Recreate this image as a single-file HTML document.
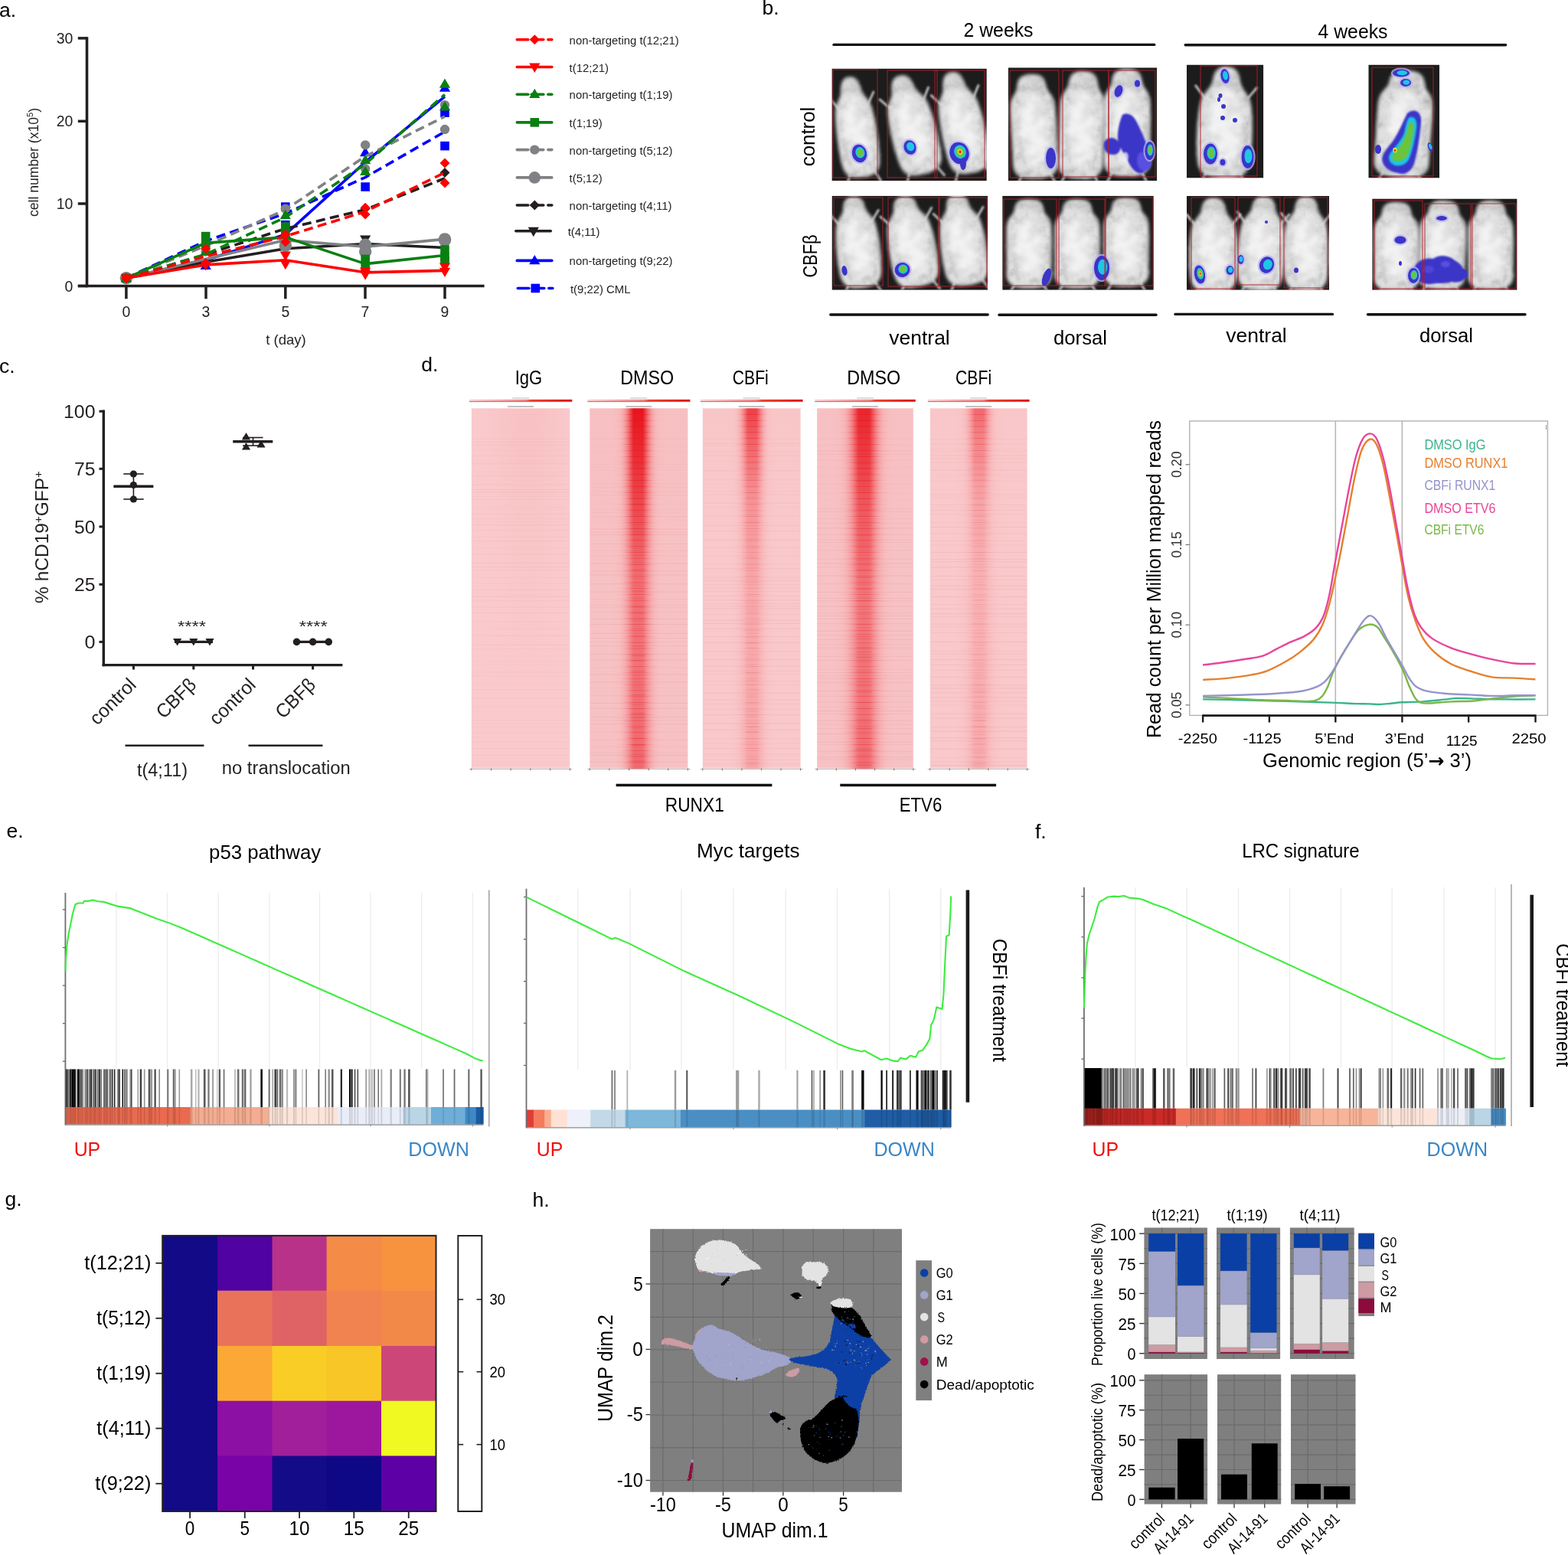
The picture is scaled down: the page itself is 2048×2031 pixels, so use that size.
<!DOCTYPE html>
<html><head><meta charset="utf-8"><title>Figure</title>
<style>html,body{margin:0;padding:0;background:#fff;width:2048px;height:2031px;overflow:hidden}
svg{display:block}
svg text{font-family:'Liberation Sans', Arial, sans-serif}</style></head>
<body><svg width="2048" height="2031" viewBox="0 0 2048 2031">
<defs>
<filter id="mblur" x="-30%" y="-30%" width="160%" height="160%"><feGaussianBlur stdDeviation="2.6"/></filter>
<filter id="mblur2" x="-50%" y="-50%" width="200%" height="200%"><feGaussianBlur stdDeviation="5"/></filter>
<filter id="fur" x="-20%" y="-20%" width="140%" height="140%">
<feGaussianBlur in="SourceGraphic" stdDeviation="2.2" result="b"/>
<feTurbulence type="fractalNoise" baseFrequency="0.09" numOctaves="3" seed="4" result="n"/>
<feColorMatrix in="n" type="matrix" values="0 0 0 0 0.4  0 0 0 0 0.4  0 0 0 0 0.4  -1.5 0 0 0 0.85" result="na"/>
<feComposite in="na" in2="b" operator="in" result="nm"/>
<feMerge><feMergeNode in="b"/><feMergeNode in="nm"/></feMerge>
</filter>
<filter id="mottle" x="-10%" y="-10%" width="120%" height="120%">
<feTurbulence type="fractalNoise" baseFrequency="0.05 0.09" numOctaves="2" seed="9" result="n"/>
<feColorMatrix in="n" type="matrix" values="0 0 0 0 0  0 0 0 0 0  0 0 0 0 0  0 -3 0 0 1.6" result="na"/>
<feComposite in="na" in2="SourceGraphic" operator="in" result="m"/>
<feGaussianBlur in="m" stdDeviation="2"/>
</filter>
<filter id="rough" x="-5%" y="-5%" width="110%" height="110%">
<feTurbulence type="fractalNoise" baseFrequency="0.09" numOctaves="2" seed="2" result="t"/>
<feDisplacementMap in="SourceGraphic" in2="t" scale="16" xChannelSelector="R" yChannelSelector="G"/>
</filter>
<filter id="sblur" x="-30%" y="-30%" width="160%" height="160%"><feGaussianBlur stdDeviation="1.1"/></filter>
</defs>
<rect x="0" y="0" width="2048" height="2031" fill="#fff"/>
<g id="pa">
<text x="-1" y="22" font-size="26.5">a.</text>
<line x1="113.5" y1="48.2" x2="113.5" y2="375.2" stroke="#231f20" stroke-width="3.6"/>
<line x1="101.8" y1="373.5" x2="632.6" y2="373.5" stroke="#231f20" stroke-width="3.6"/>
<line x1="101.8" y1="49.9" x2="114" y2="49.9" stroke="#231f20" stroke-width="3.5"/>
<text x="95.3" y="56.9" font-size="19.4" text-anchor="end" fill="#231f20">30</text>
<line x1="101.8" y1="158.3" x2="114" y2="158.3" stroke="#231f20" stroke-width="3.5"/>
<text x="95.3" y="165.3" font-size="19.4" text-anchor="end" fill="#231f20">20</text>
<line x1="101.8" y1="266" x2="114" y2="266" stroke="#231f20" stroke-width="3.5"/>
<text x="95.3" y="273" font-size="19.4" text-anchor="end" fill="#231f20">10</text>
<line x1="101.8" y1="373.5" x2="114" y2="373.5" stroke="#231f20" stroke-width="3.5"/>
<text x="95.3" y="380.5" font-size="19.4" text-anchor="end" fill="#231f20">0</text>
<line x1="164.9" y1="373.5" x2="164.9" y2="390.3" stroke="#231f20" stroke-width="3.5"/>
<text x="164.9" y="414.2" font-size="19.4" text-anchor="middle" fill="#231f20">0</text>
<line x1="269" y1="373.5" x2="269" y2="390.3" stroke="#231f20" stroke-width="3.5"/>
<text x="269" y="414.2" font-size="19.4" text-anchor="middle" fill="#231f20">3</text>
<line x1="372.8" y1="373.5" x2="372.8" y2="390.3" stroke="#231f20" stroke-width="3.5"/>
<text x="372.8" y="414.2" font-size="19.4" text-anchor="middle" fill="#231f20">5</text>
<line x1="477" y1="373.5" x2="477" y2="390.3" stroke="#231f20" stroke-width="3.5"/>
<text x="477" y="414.2" font-size="19.4" text-anchor="middle" fill="#231f20">7</text>
<line x1="581" y1="373.5" x2="581" y2="390.3" stroke="#231f20" stroke-width="3.5"/>
<text x="581" y="414.2" font-size="19.4" text-anchor="middle" fill="#231f20">9</text>
<text x="373.5" y="449.5" font-size="18.5" text-anchor="middle" fill="#231f20">t (day)</text>
<text x="43.7" y="212" font-size="17.6" fill="#231f20" text-anchor="middle" transform="rotate(-90 43.7 212) translate(0 6)">cell number (x10<tspan font-size="11" dy="-7">5</tspan><tspan dy="7">)</tspan></text>
<polyline points="164.84,363.29 268.7,339.69 372.8,306.15 477.14,211.74 580.99,126.02" fill="none" stroke="#0000fe" stroke-width="3.6" stroke-linejoin="round"/>
<polygon points="164.84,355.79 171.97,368.17 157.72,368.17" fill="#0000fe"/>
<polygon points="268.7,339.64 275.82,352.02 261.57,352.02" fill="#0000fe"/>
<polygon points="477.14,191.82 484.27,204.19 470.02,204.19" fill="#0000fe"/>
<polygon points="580.99,107.34 588.12,119.72 573.87,119.72" fill="#0000fe"/>
<polyline points="164.84,363.29 268.7,314.84 372.8,278.82 477.14,231.61 580.99,171.99" fill="none" stroke="#0000fe" stroke-width="3.6" stroke-dasharray="12 6.5" stroke-linejoin="round"/>
<rect x="159.04" y="357.49" width="11.6" height="11.6" fill="#0000fe"/>
<rect x="367" y="264.32" width="11.6" height="11.6" fill="#0000fe"/>
<rect x="367" y="287.93" width="11.6" height="11.6" fill="#0000fe"/>
<rect x="471.34" y="238.24" width="11.6" height="11.6" fill="#0000fe"/>
<rect x="575.19" y="141.34" width="11.6" height="11.6" fill="#0000fe"/>
<rect x="575.19" y="184.82" width="11.6" height="11.6" fill="#0000fe"/>
<polyline points="164.84,363.29 268.7,342.17 372.8,324.78 477.14,318.57 580.99,323.54" fill="none" stroke="#231f20" stroke-width="3.6" stroke-linejoin="round"/>
<polygon points="164.84,370.79 171.97,358.42 157.72,358.42" fill="#231f20"/>
<polygon points="477.14,319.86 484.27,307.49 470.02,307.49" fill="#231f20"/>
<polygon points="477.14,329.8 484.27,317.42 470.02,317.42" fill="#231f20"/>
<polyline points="164.84,363.29 268.7,332.24 372.8,298.7 477.14,273.85 580.99,232.86" fill="none" stroke="#231f20" stroke-width="3.6" stroke-dasharray="12 6.5" stroke-linejoin="round"/>
<polygon points="164.84,356.79 171.34,363.29 164.84,369.79 158.34,363.29" fill="#231f20"/>
<polygon points="477.14,266.11 483.64,272.61 477.14,279.11 470.64,272.61" fill="#231f20"/>
<polygon points="580.99,218.9 587.49,225.4 580.99,231.9 574.49,225.4" fill="#231f20"/>
<polyline points="164.84,363.29 268.7,321.06 372.8,273.85 477.14,204.29 580.99,152.11" fill="none" stroke="#808184" stroke-width="3.6" stroke-dasharray="12 6.5" stroke-linejoin="round"/>
<circle cx="164.84" cy="363.29" r="6.2" fill="#808184"/>
<circle cx="268.7" cy="328.51" r="6.2" fill="#808184"/>
<circle cx="372.8" cy="272.61" r="6.2" fill="#808184"/>
<circle cx="372.8" cy="319.81" r="6.2" fill="#808184"/>
<circle cx="477.14" cy="189.38" r="6.2" fill="#808184"/>
<circle cx="477.14" cy="220.43" r="6.2" fill="#808184"/>
<circle cx="580.99" cy="137.2" r="6.2" fill="#808184"/>
<circle cx="580.99" cy="169.01" r="6.2" fill="#808184"/>
<polyline points="164.84,363.29 268.7,338.45 372.8,313.6 477.14,322.3 580.99,312.36" fill="none" stroke="#808184" stroke-width="3.6" stroke-linejoin="round"/>
<circle cx="164.84" cy="363.29" r="8.2" fill="#808184"/>
<circle cx="372.8" cy="313.6" r="8.2" fill="#808184"/>
<circle cx="372.8" cy="321.06" r="8.2" fill="#808184"/>
<circle cx="477.14" cy="319.81" r="8.2" fill="#808184"/>
<circle cx="477.14" cy="328.51" r="8.2" fill="#808184"/>
<circle cx="580.99" cy="312.36" r="8.2" fill="#808184"/>
<circle cx="580.99" cy="313.6" r="8.2" fill="#808184"/>
<polyline points="164.84,363.29 268.7,332.24 372.8,283.79 477.14,214.22 580.99,123.54" fill="none" stroke="#0a7f12" stroke-width="3.6" stroke-dasharray="12 6.5" stroke-linejoin="round"/>
<polygon points="164.84,355.79 171.97,368.17 157.72,368.17" fill="#0a7f12"/>
<polygon points="268.7,321.01 275.82,333.38 261.57,333.38" fill="#0a7f12"/>
<polygon points="372.8,273.8 379.92,286.18 365.67,286.18" fill="#0a7f12"/>
<polygon points="372.8,288.71 379.92,301.09 365.67,301.09" fill="#0a7f12"/>
<polygon points="477.14,201.75 484.27,214.13 470.02,214.13" fill="#0a7f12"/>
<polygon points="477.14,216.66 484.27,229.04 470.02,229.04" fill="#0a7f12"/>
<polygon points="580.99,102.38 588.12,114.75 573.87,114.75" fill="#0a7f12"/>
<polygon points="580.99,132.19 588.12,144.56 573.87,144.56" fill="#0a7f12"/>
<polyline points="164.84,363.29 268.7,317.33 372.8,309.88 477.14,344.66 580.99,333.48" fill="none" stroke="#0a7f12" stroke-width="3.6" stroke-linejoin="round"/>
<rect x="159.04" y="357.49" width="11.6" height="11.6" fill="#0a7f12"/>
<rect x="262.9" y="302.83" width="11.6" height="11.6" fill="#0a7f12"/>
<rect x="262.9" y="314.01" width="11.6" height="11.6" fill="#0a7f12"/>
<rect x="367" y="290.41" width="11.6" height="11.6" fill="#0a7f12"/>
<rect x="367" y="300.35" width="11.6" height="11.6" fill="#0a7f12"/>
<rect x="471.34" y="332.65" width="11.6" height="11.6" fill="#0a7f12"/>
<rect x="471.34" y="342.59" width="11.6" height="11.6" fill="#0a7f12"/>
<rect x="575.19" y="320.22" width="11.6" height="11.6" fill="#0a7f12"/>
<rect x="575.19" y="330.16" width="11.6" height="11.6" fill="#0a7f12"/>
<rect x="575.19" y="333.89" width="11.6" height="11.6" fill="#0a7f12"/>
<polyline points="164.84,363.29 268.7,345.9 372.8,339.69 477.14,355.84 580.99,353.35" fill="none" stroke="#fe0000" stroke-width="3.6" stroke-linejoin="round"/>
<polygon points="164.84,370.79 171.97,358.42 157.72,358.42" fill="#fe0000"/>
<polygon points="268.7,353.4 275.82,341.03 261.57,341.03" fill="#fe0000"/>
<polygon points="372.8,340.98 379.92,328.6 365.67,328.6" fill="#fe0000"/>
<polygon points="372.8,352.16 379.92,339.78 365.67,339.78" fill="#fe0000"/>
<polygon points="477.14,362.1 484.27,349.72 470.02,349.72" fill="#fe0000"/>
<polygon points="477.14,365.82 484.27,353.45 470.02,353.45" fill="#fe0000"/>
<polygon points="580.99,355.89 588.12,343.51 573.87,343.51" fill="#fe0000"/>
<polygon points="580.99,362.1 588.12,349.72 573.87,349.72" fill="#fe0000"/>
<polyline points="164.84,363.29 268.7,334.72 372.8,308.63 477.14,276.34 580.99,225.4" fill="none" stroke="#fe0000" stroke-width="3.6" stroke-dasharray="12 6.5" stroke-linejoin="round"/>
<polygon points="164.84,356.79 171.34,363.29 164.84,369.79 158.34,363.29" fill="#fe0000"/>
<polygon points="268.7,318.28 275.2,324.78 268.7,331.28 262.2,324.78" fill="#fe0000"/>
<polygon points="268.7,336.92 275.2,343.42 268.7,349.92 262.2,343.42" fill="#fe0000"/>
<polygon points="372.8,299.65 379.3,306.15 372.8,312.65 366.3,306.15" fill="#fe0000"/>
<polygon points="372.8,309.59 379.3,316.09 372.8,322.59 366.3,316.09" fill="#fe0000"/>
<polygon points="477.14,264.87 483.64,271.37 477.14,277.87 470.64,271.37" fill="#fe0000"/>
<polygon points="477.14,273.56 483.64,280.06 477.14,286.56 470.64,280.06" fill="#fe0000"/>
<polygon points="580.99,206.48 587.49,212.98 580.99,219.48 574.49,212.98" fill="#fe0000"/>
<polygon points="580.99,232.57 587.49,239.07 580.99,245.57 574.49,239.07" fill="#fe0000"/>
<line x1="675.3" y1="51.7" x2="689.8" y2="51.7" stroke="#fe0000" stroke-width="3.6" stroke-linecap="round"/>
<line x1="694.3" y1="51.7" x2="709.8" y2="51.7" stroke="#fe0000" stroke-width="3.6" stroke-linecap="round"/>
<line x1="715.8" y1="51.7" x2="720.8" y2="51.7" stroke="#fe0000" stroke-width="3.6" stroke-linecap="round"/>
<polygon points="698.3,45.2 704.8,51.7 698.3,58.2 691.8,51.7" fill="#fe0000"/>
<text x="743.6" y="57.7" font-size="14.9" fill="#231f20">non-targeting t(12;21)</text>
<line x1="675.3" y1="87.5" x2="720.8" y2="87.5" stroke="#fe0000" stroke-width="3.6" stroke-linecap="round"/>
<polygon points="698.3,95 705.42,82.62 691.17,82.62" fill="#fe0000"/>
<text x="743.6" y="93.5" font-size="14.9" fill="#231f20">t(12;21)</text>
<line x1="675.3" y1="123.2" x2="689.8" y2="123.2" stroke="#0a7f12" stroke-width="3.6" stroke-linecap="round"/>
<line x1="694.3" y1="123.2" x2="709.8" y2="123.2" stroke="#0a7f12" stroke-width="3.6" stroke-linecap="round"/>
<line x1="715.8" y1="123.2" x2="720.8" y2="123.2" stroke="#0a7f12" stroke-width="3.6" stroke-linecap="round"/>
<polygon points="698.3,115.7 705.42,128.07 691.17,128.07" fill="#0a7f12"/>
<text x="743.6" y="129.2" font-size="14.9" fill="#231f20">non-targeting t(1;19)</text>
<line x1="675.3" y1="159.9" x2="720.8" y2="159.9" stroke="#0a7f12" stroke-width="3.6" stroke-linecap="round"/>
<rect x="692.5" y="154.1" width="11.6" height="11.6" fill="#0a7f12"/>
<text x="743.6" y="165.9" font-size="14.9" fill="#231f20">t(1;19)</text>
<line x1="675.3" y1="195.6" x2="689.8" y2="195.6" stroke="#808184" stroke-width="3.6" stroke-linecap="round"/>
<line x1="694.3" y1="195.6" x2="709.8" y2="195.6" stroke="#808184" stroke-width="3.6" stroke-linecap="round"/>
<line x1="715.8" y1="195.6" x2="720.8" y2="195.6" stroke="#808184" stroke-width="3.6" stroke-linecap="round"/>
<circle cx="698.3" cy="195.6" r="6.2" fill="#808184"/>
<text x="743.6" y="201.6" font-size="14.9" fill="#231f20">non-targeting t(5;12)</text>
<line x1="675.3" y1="231.9" x2="720.8" y2="231.9" stroke="#808184" stroke-width="3.6" stroke-linecap="round"/>
<circle cx="698.3" cy="231.9" r="7.79" fill="#808184"/>
<text x="743.6" y="237.9" font-size="14.9" fill="#231f20">t(5;12)</text>
<line x1="675.3" y1="268" x2="689.8" y2="268" stroke="#231f20" stroke-width="3.6" stroke-linecap="round"/>
<line x1="694.3" y1="268" x2="709.8" y2="268" stroke="#231f20" stroke-width="3.6" stroke-linecap="round"/>
<line x1="715.8" y1="268" x2="720.8" y2="268" stroke="#231f20" stroke-width="3.6" stroke-linecap="round"/>
<polygon points="698.3,261.5 704.8,268 698.3,274.5 691.8,268" fill="#231f20"/>
<text x="743.6" y="274" font-size="14.9" fill="#231f20">non-targeting t(4;11)</text>
<line x1="673.8" y1="301.7" x2="719.3" y2="301.7" stroke="#231f20" stroke-width="3.6" stroke-linecap="round"/>
<polygon points="696.8,309.2 703.92,296.82 689.67,296.82" fill="#231f20"/>
<text x="741.65" y="307.7" font-size="14.9" fill="#231f20">t(4;11)</text>
<line x1="675.3" y1="340.4" x2="720.8" y2="340.4" stroke="#0000fe" stroke-width="3.6" stroke-linecap="round"/>
<polygon points="698.3,332.9 705.42,345.27 691.17,345.27" fill="#0000fe"/>
<text x="743.6" y="346.4" font-size="14.9" fill="#231f20">non-targeting t(9;22)</text>
<line x1="676.3" y1="376.5" x2="690.8" y2="376.5" stroke="#0000fe" stroke-width="3.6" stroke-linecap="round"/>
<line x1="695.3" y1="376.5" x2="710.8" y2="376.5" stroke="#0000fe" stroke-width="3.6" stroke-linecap="round"/>
<line x1="716.8" y1="376.5" x2="721.8" y2="376.5" stroke="#0000fe" stroke-width="3.6" stroke-linecap="round"/>
<rect x="693.5" y="370.7" width="11.6" height="11.6" fill="#0000fe"/>
<text x="744.9" y="382.5" font-size="14.9" fill="#231f20">t(9;22) CML</text>
</g>
<g id="pb">
<text x="995.5" y="18.9" font-size="26.5">b.</text>
<text x="1304" y="47.5" font-size="25.5" text-anchor="middle" textLength="91" lengthAdjust="spacingAndGlyphs">2 weeks</text>
<text x="1767" y="49.6" font-size="25.5" text-anchor="middle" textLength="91" lengthAdjust="spacingAndGlyphs">4 weeks</text>
<line x1="1089" y1="58.4" x2="1507.7" y2="58.4" stroke="#111" stroke-width="3.4" stroke-linecap="round"/>
<line x1="1548.2" y1="58.7" x2="1966.6" y2="58.7" stroke="#111" stroke-width="3.4" stroke-linecap="round"/>
<line x1="1084.8" y1="411" x2="1290.2" y2="411" stroke="#111" stroke-width="3.4" stroke-linecap="round"/>
<line x1="1305" y1="411.2" x2="1510" y2="411.2" stroke="#111" stroke-width="3.4" stroke-linecap="round"/>
<line x1="1535" y1="410.4" x2="1740.5" y2="410.4" stroke="#111" stroke-width="3.4" stroke-linecap="round"/>
<line x1="1786.5" y1="410.8" x2="1992" y2="410.8" stroke="#111" stroke-width="3.4" stroke-linecap="round"/>
<text x="1201" y="450.3" font-size="25.5" text-anchor="middle" textLength="79.5" lengthAdjust="spacingAndGlyphs">ventral</text>
<text x="1411" y="450.3" font-size="25.5" text-anchor="middle" textLength="70" lengthAdjust="spacingAndGlyphs">dorsal</text>
<text x="1641" y="446.8" font-size="25.5" text-anchor="middle" textLength="79.5" lengthAdjust="spacingAndGlyphs">ventral</text>
<text x="1889" y="446.8" font-size="25.5" text-anchor="middle" textLength="70" lengthAdjust="spacingAndGlyphs">dorsal</text>
<text x="1063.5" y="178.5" font-size="25.5" text-anchor="middle" transform="rotate(-90 1063.5 178.5)" textLength="77.5" lengthAdjust="spacingAndGlyphs">control</text>
<text x="1067.2" y="334.5" font-size="25.5" text-anchor="middle" transform="rotate(-90 1067.2 334.5)" textLength="56" lengthAdjust="spacingAndGlyphs">CBFβ</text>
<clipPath id="bclip1"><rect x="1086.4" y="89.5" width="202.4" height="146.7"/></clipPath><g clip-path="url(#bclip1)"><rect x="1086.4" y="89.5" width="202.4" height="146.7" fill="#1c1c1c"/><g transform="translate(1118 166) rotate(-8)"><path d="M-19.8,-27.72 L-29.04,-42.24" stroke="#bdbdbd" stroke-width="3" stroke-linecap="round" filter="url(#sblur)"/><path d="M19.8,-27.72 L29.04,-42.24" stroke="#bdbdbd" stroke-width="3" stroke-linecap="round" filter="url(#sblur)"/><path d="M-15.84,59.4 L-22.44,73.92" stroke="#a9a9a9" stroke-width="3.4" stroke-linecap="round" filter="url(#sblur)"/><path d="M15.84,59.4 L22.44,73.92" stroke="#a9a9a9" stroke-width="3.4" stroke-linecap="round" filter="url(#sblur)"/><path d="M0,-66 C7.92,-66 11.88,-60.72 13.2,-47.52 C15.84,-36.96 22.7,-34.32 24.29,-19.8 C26.93,0 26.93,33 24.29,50.16 C21.12,63.36 13.2,66 0,66 C-13.2,66 -21.12,63.36 -24.29,50.16 C-26.93,33 -26.93,0 -24.29,-19.8 C-22.7,-34.32 -15.84,-36.96 -13.2,-47.52 C-11.88,-60.72 -7.92,-66 0,-66 Z" fill="#dedede" filter="url(#fur)"/><ellipse cx="0" cy="6.6" rx="16.37" ry="46.2" fill="#f6f6f6" filter="url(#mblur2)" opacity="0.85"/><path d="M0,-66 C7.92,-66 11.88,-60.72 13.2,-47.52 C15.84,-36.96 22.7,-34.32 24.29,-19.8 C26.93,0 26.93,33 24.29,50.16 C21.12,63.36 13.2,66 0,66 C-13.2,66 -21.12,63.36 -24.29,50.16 C-26.93,33 -26.93,0 -24.29,-19.8 C-22.7,-34.32 -15.84,-36.96 -13.2,-47.52 C-11.88,-60.72 -7.92,-66 0,-66 Z" fill="#000" opacity="0.09" filter="url(#mottle)"/></g><g transform="translate(1191 163) rotate(-14)"><path d="M-22.28,-27.72 L-32.67,-42.24" stroke="#bdbdbd" stroke-width="3" stroke-linecap="round" filter="url(#sblur)"/><path d="M22.28,-27.72 L32.67,-42.24" stroke="#bdbdbd" stroke-width="3" stroke-linecap="round" filter="url(#sblur)"/><path d="M-17.82,59.4 L-25.25,73.92" stroke="#a9a9a9" stroke-width="3.4" stroke-linecap="round" filter="url(#sblur)"/><path d="M17.82,59.4 L25.25,73.92" stroke="#a9a9a9" stroke-width="3.4" stroke-linecap="round" filter="url(#sblur)"/><path d="M0,-66 C8.91,-66 13.37,-60.72 14.85,-47.52 C17.82,-36.96 25.54,-34.32 27.32,-19.8 C30.29,0 30.29,33 27.32,50.16 C23.76,63.36 14.85,66 0,66 C-14.85,66 -23.76,63.36 -27.32,50.16 C-30.29,33 -30.29,0 -27.32,-19.8 C-25.54,-34.32 -17.82,-36.96 -14.85,-47.52 C-13.37,-60.72 -8.91,-66 0,-66 Z" fill="#dedede" filter="url(#fur)"/><ellipse cx="0" cy="6.6" rx="18.41" ry="46.2" fill="#f6f6f6" filter="url(#mblur2)" opacity="0.85"/><path d="M0,-66 C8.91,-66 13.37,-60.72 14.85,-47.52 C17.82,-36.96 25.54,-34.32 27.32,-19.8 C30.29,0 30.29,33 27.32,50.16 C23.76,63.36 14.85,66 0,66 C-14.85,66 -23.76,63.36 -27.32,50.16 C-30.29,33 -30.29,0 -27.32,-19.8 C-25.54,-34.32 -17.82,-36.96 -14.85,-47.52 C-13.37,-60.72 -8.91,-66 0,-66 Z" fill="#000" opacity="0.09" filter="url(#mottle)"/></g><g transform="translate(1256 160) rotate(-12)"><path d="M-21.45,-28.14 L-31.46,-42.88" stroke="#bdbdbd" stroke-width="3" stroke-linecap="round" filter="url(#sblur)"/><path d="M21.45,-28.14 L31.46,-42.88" stroke="#bdbdbd" stroke-width="3" stroke-linecap="round" filter="url(#sblur)"/><path d="M-17.16,60.3 L-24.31,75.04" stroke="#a9a9a9" stroke-width="3.4" stroke-linecap="round" filter="url(#sblur)"/><path d="M17.16,60.3 L24.31,75.04" stroke="#a9a9a9" stroke-width="3.4" stroke-linecap="round" filter="url(#sblur)"/><path d="M0,-67 C8.58,-67 12.87,-61.64 14.3,-48.24 C17.16,-37.52 24.6,-34.84 26.31,-20.1 C29.17,0 29.17,33.5 26.31,50.92 C22.88,64.32 14.3,67 0,67 C-14.3,67 -22.88,64.32 -26.31,50.92 C-29.17,33.5 -29.17,0 -26.31,-20.1 C-24.6,-34.84 -17.16,-37.52 -14.3,-48.24 C-12.87,-61.64 -8.58,-67 0,-67 Z" fill="#dedede" filter="url(#fur)"/><ellipse cx="0" cy="6.7" rx="17.73" ry="46.9" fill="#f6f6f6" filter="url(#mblur2)" opacity="0.85"/><path d="M0,-67 C8.58,-67 12.87,-61.64 14.3,-48.24 C17.16,-37.52 24.6,-34.84 26.31,-20.1 C29.17,0 29.17,33.5 26.31,50.92 C22.88,64.32 14.3,67 0,67 C-14.3,67 -22.88,64.32 -26.31,50.92 C-29.17,33.5 -29.17,0 -26.31,-20.1 C-24.6,-34.84 -17.16,-37.52 -14.3,-48.24 C-12.87,-61.64 -8.58,-67 0,-67 Z" fill="#000" opacity="0.09" filter="url(#mottle)"/></g><ellipse cx="1122.5" cy="200.5" rx="11.8" ry="14" fill="#b9b3f0" transform="rotate(-15 1122.5 200.5)" opacity="0.75"/><ellipse cx="1122.5" cy="200.5" rx="9.6" ry="11.8" fill="#3b35c8" transform="rotate(-15 1122.5 200.5)"/><ellipse cx="1123.65" cy="199.56" rx="5.95" ry="7.32" fill="#1fc6e6" transform="rotate(-15 1122.5 200.5)"/><ellipse cx="1123.65" cy="199.56" rx="4.32" ry="5.31" fill="#6cc43c" transform="rotate(-15 1122.5 200.5)"/><ellipse cx="1188.5" cy="192.5" rx="10.2" ry="11.7" fill="#b9b3f0" transform="rotate(-20 1188.5 192.5)" opacity="0.75"/><ellipse cx="1188.5" cy="192.5" rx="8" ry="9.5" fill="#3b35c8" transform="rotate(-20 1188.5 192.5)"/><ellipse cx="1189.46" cy="191.74" rx="4.96" ry="5.89" fill="#1fc6e6" transform="rotate(-20 1188.5 192.5)"/><ellipse cx="1253" cy="200" rx="14.7" ry="16.7" fill="#b9b3f0" transform="rotate(-20 1253 200)" opacity="0.75"/><ellipse cx="1253" cy="200" rx="12.5" ry="14.5" fill="#3b35c8" transform="rotate(-20 1253 200)"/><ellipse cx="1254.5" cy="198.84" rx="7.75" ry="8.99" fill="#1fc6e6" transform="rotate(-20 1253 200)"/><ellipse cx="1254.5" cy="198.84" rx="5.62" ry="6.53" fill="#6cc43c" transform="rotate(-20 1253 200)"/><ellipse cx="1254.5" cy="198.84" rx="3.12" ry="3.62" fill="#e6e23a" transform="rotate(-20 1253 200)"/><ellipse cx="1254.5" cy="198.84" rx="1.75" ry="2.03" fill="#e5261f" transform="rotate(-20 1253 200)"/><ellipse cx="1258" cy="214" rx="4" ry="8" fill="#3b35c8"/><rect x="1088" y="91" width="58" height="141" fill="none" stroke="#b01f2a" stroke-width="1.1" opacity="0.85"/><rect x="1159" y="92" width="65" height="140" fill="none" stroke="#b01f2a" stroke-width="1.1" opacity="0.85"/><rect x="1221" y="92" width="65" height="140" fill="none" stroke="#b01f2a" stroke-width="1.1" opacity="0.85"/></g>
<clipPath id="bclip2"><rect x="1316.8" y="88.3" width="194.2" height="147.9"/></clipPath><g clip-path="url(#bclip2)"><rect x="1316.8" y="88.3" width="194.2" height="147.9" fill="#1c1c1c"/><g transform="translate(1350 165) rotate(-3)"><path d="M-17.82,61.2 L-25.25,76.16" stroke="#a9a9a9" stroke-width="3.4" stroke-linecap="round" filter="url(#sblur)"/><path d="M17.82,61.2 L25.25,76.16" stroke="#a9a9a9" stroke-width="3.4" stroke-linecap="round" filter="url(#sblur)"/><path d="M0,-68 C11.29,-68 17.82,-64.6 19.01,-51.68 C20.79,-40.8 29.11,-42.16 29.4,-20.4 C30,6.8 28.51,30.6 29.4,47.6 C29.4,65.28 14.85,69.36 0,68 C-14.85,69.36 -29.4,65.28 -29.4,47.6 C-28.51,30.6 -30,6.8 -29.4,-20.4 C-29.11,-42.16 -20.79,-40.8 -19.01,-51.68 C-17.82,-64.6 -11.29,-68 0,-68 Z" fill="#dedede" filter="url(#fur)"/><ellipse cx="0" cy="6.8" rx="18.41" ry="47.6" fill="#f6f6f6" filter="url(#mblur2)" opacity="0.85"/><path d="M0,-68 C11.29,-68 17.82,-64.6 19.01,-51.68 C20.79,-40.8 29.11,-42.16 29.4,-20.4 C30,6.8 28.51,30.6 29.4,47.6 C29.4,65.28 14.85,69.36 0,68 C-14.85,69.36 -29.4,65.28 -29.4,47.6 C-28.51,30.6 -30,6.8 -29.4,-20.4 C-29.11,-42.16 -20.79,-40.8 -19.01,-51.68 C-17.82,-64.6 -11.29,-68 0,-68 Z" fill="#000" opacity="0.09" filter="url(#mottle)"/></g><g transform="translate(1413 163) rotate(2)"><path d="M-17.82,63 L-25.25,78.4" stroke="#a9a9a9" stroke-width="3.4" stroke-linecap="round" filter="url(#sblur)"/><path d="M17.82,63 L25.25,78.4" stroke="#a9a9a9" stroke-width="3.4" stroke-linecap="round" filter="url(#sblur)"/><path d="M0,-70 C11.29,-70 17.82,-66.5 19.01,-53.2 C20.79,-42 29.11,-43.4 29.4,-21 C30,7 28.51,31.5 29.4,49 C29.4,67.2 14.85,71.4 0,70 C-14.85,71.4 -29.4,67.2 -29.4,49 C-28.51,31.5 -30,7 -29.4,-21 C-29.11,-43.4 -20.79,-42 -19.01,-53.2 C-17.82,-66.5 -11.29,-70 0,-70 Z" fill="#dedede" filter="url(#fur)"/><ellipse cx="0" cy="7" rx="18.41" ry="49" fill="#f6f6f6" filter="url(#mblur2)" opacity="0.85"/><path d="M0,-70 C11.29,-70 17.82,-66.5 19.01,-53.2 C20.79,-42 29.11,-43.4 29.4,-21 C30,7 28.51,31.5 29.4,49 C29.4,67.2 14.85,71.4 0,70 C-14.85,71.4 -29.4,67.2 -29.4,49 C-28.51,31.5 -30,7 -29.4,-21 C-29.11,-43.4 -20.79,-42 -19.01,-53.2 C-17.82,-66.5 -11.29,-70 0,-70 Z" fill="#000" opacity="0.09" filter="url(#mottle)"/></g><g transform="translate(1472 160) rotate(0)"><path d="M-18.48,63 L-26.18,78.4" stroke="#a9a9a9" stroke-width="3.4" stroke-linecap="round" filter="url(#sblur)"/><path d="M18.48,63 L26.18,78.4" stroke="#a9a9a9" stroke-width="3.4" stroke-linecap="round" filter="url(#sblur)"/><path d="M0,-70 C11.7,-70 18.48,-66.5 19.71,-53.2 C21.56,-42 30.18,-43.4 30.49,-21 C31.11,7 29.57,31.5 30.49,49 C30.49,67.2 15.4,71.4 0,70 C-15.4,71.4 -30.49,67.2 -30.49,49 C-29.57,31.5 -31.11,7 -30.49,-21 C-30.18,-43.4 -21.56,-42 -19.71,-53.2 C-18.48,-66.5 -11.7,-70 0,-70 Z" fill="#dedede" filter="url(#fur)"/><ellipse cx="0" cy="7" rx="19.1" ry="49" fill="#f6f6f6" filter="url(#mblur2)" opacity="0.85"/><path d="M0,-70 C11.7,-70 18.48,-66.5 19.71,-53.2 C21.56,-42 30.18,-43.4 30.49,-21 C31.11,7 29.57,31.5 30.49,49 C30.49,67.2 15.4,71.4 0,70 C-15.4,71.4 -30.49,67.2 -30.49,49 C-29.57,31.5 -31.11,7 -30.49,-21 C-30.18,-43.4 -21.56,-42 -19.71,-53.2 C-18.48,-66.5 -11.7,-70 0,-70 Z" fill="#000" opacity="0.09" filter="url(#mottle)"/></g><ellipse cx="1372.5" cy="206.5" rx="8.7" ry="15.7" fill="#b9b3f0" opacity="0.75"/><ellipse cx="1372.5" cy="206.5" rx="6.5" ry="13.5" fill="#3b35c8"/><g filter="url(#sblur)"><path d="M1466,150 C1472,146 1480,150 1484,158 C1490,170 1496,182 1500,196 C1504,210 1500,222 1492,226 C1484,228 1478,220 1474,212 C1470,204 1466,198 1462,190 C1458,180 1460,164 1466,150 Z" fill="#3b35c8"/><path d="M1442,186 C1446,178 1456,178 1462,186 C1466,194 1462,202 1454,202 C1446,202 1440,196 1442,186 Z" fill="#3b35c8"/><path d="M1488,200 C1494,196 1502,200 1504,210 C1505,220 1498,226 1490,222 C1484,216 1484,206 1488,200 Z" fill="#5a4fe0"/><ellipse cx="1470" cy="205" rx="3.5" ry="6" fill="#e8e8f4" opacity="0.8"/></g><ellipse cx="1501.5" cy="197" rx="8.2" ry="14.2" fill="#b9b3f0" opacity="0.75"/><ellipse cx="1501.5" cy="197" rx="6" ry="12" fill="#3b35c8"/><ellipse cx="1502.22" cy="196.04" rx="3.72" ry="7.44" fill="#1fc6e6"/><ellipse cx="1502.22" cy="196.04" rx="2.7" ry="5.4" fill="#6cc43c"/><ellipse cx="1485.5" cy="109" rx="5.7" ry="6.7" fill="#b9b3f0" opacity="0.75"/><ellipse cx="1485.5" cy="109" rx="3.5" ry="4.5" fill="#3b35c8"/><ellipse cx="1461" cy="119" rx="7.2" ry="10.2" fill="#b9b3f0" transform="rotate(20 1461 119)" opacity="0.75"/><ellipse cx="1461" cy="119" rx="5" ry="8" fill="#3b35c8" transform="rotate(20 1461 119)"/><rect x="1319" y="92" width="64" height="140" fill="none" stroke="#b01f2a" stroke-width="1.1" opacity="0.85"/><rect x="1388" y="92" width="60" height="139" fill="none" stroke="#b01f2a" stroke-width="1.1" opacity="0.85"/><rect x="1448" y="92" width="61" height="139" fill="none" stroke="#b01f2a" stroke-width="1.1" opacity="0.85"/></g>
<clipPath id="bclip3"><rect x="1086.5" y="255.7" width="203.7" height="123.1"/></clipPath><g clip-path="url(#bclip3)"><rect x="1086.5" y="255.7" width="203.7" height="123.1" fill="#1c1c1c"/><g transform="translate(1120 316) rotate(-6)"><path d="M-21.45,-25.2 L-31.46,-38.4" stroke="#bdbdbd" stroke-width="3" stroke-linecap="round" filter="url(#sblur)"/><path d="M21.45,-25.2 L31.46,-38.4" stroke="#bdbdbd" stroke-width="3" stroke-linecap="round" filter="url(#sblur)"/><path d="M-17.16,54 L-24.31,67.2" stroke="#a9a9a9" stroke-width="3.4" stroke-linecap="round" filter="url(#sblur)"/><path d="M17.16,54 L24.31,67.2" stroke="#a9a9a9" stroke-width="3.4" stroke-linecap="round" filter="url(#sblur)"/><path d="M0,-60 C8.58,-60 12.87,-55.2 14.3,-43.2 C17.16,-33.6 24.6,-31.2 26.31,-18 C29.17,0 29.17,30 26.31,45.6 C22.88,57.6 14.3,60 0,60 C-14.3,60 -22.88,57.6 -26.31,45.6 C-29.17,30 -29.17,0 -26.31,-18 C-24.6,-31.2 -17.16,-33.6 -14.3,-43.2 C-12.87,-55.2 -8.58,-60 0,-60 Z" fill="#dedede" filter="url(#fur)"/><ellipse cx="0" cy="6" rx="17.73" ry="42" fill="#f6f6f6" filter="url(#mblur2)" opacity="0.85"/><path d="M0,-60 C8.58,-60 12.87,-55.2 14.3,-43.2 C17.16,-33.6 24.6,-31.2 26.31,-18 C29.17,0 29.17,30 26.31,45.6 C22.88,57.6 14.3,60 0,60 C-14.3,60 -22.88,57.6 -26.31,45.6 C-29.17,30 -29.17,0 -26.31,-18 C-24.6,-31.2 -17.16,-33.6 -14.3,-43.2 C-12.87,-55.2 -8.58,-60 0,-60 Z" fill="#000" opacity="0.09" filter="url(#mottle)"/></g><g transform="translate(1190 315) rotate(-10)"><path d="M-23.1,-25.2 L-33.88,-38.4" stroke="#bdbdbd" stroke-width="3" stroke-linecap="round" filter="url(#sblur)"/><path d="M23.1,-25.2 L33.88,-38.4" stroke="#bdbdbd" stroke-width="3" stroke-linecap="round" filter="url(#sblur)"/><path d="M-18.48,54 L-26.18,67.2" stroke="#a9a9a9" stroke-width="3.4" stroke-linecap="round" filter="url(#sblur)"/><path d="M18.48,54 L26.18,67.2" stroke="#a9a9a9" stroke-width="3.4" stroke-linecap="round" filter="url(#sblur)"/><path d="M0,-60 C9.24,-60 13.86,-55.2 15.4,-43.2 C18.48,-33.6 26.49,-31.2 28.34,-18 C31.42,0 31.42,30 28.34,45.6 C24.64,57.6 15.4,60 0,60 C-15.4,60 -24.64,57.6 -28.34,45.6 C-31.42,30 -31.42,0 -28.34,-18 C-26.49,-31.2 -18.48,-33.6 -15.4,-43.2 C-13.86,-55.2 -9.24,-60 0,-60 Z" fill="#dedede" filter="url(#fur)"/><ellipse cx="0" cy="6" rx="19.1" ry="42" fill="#f6f6f6" filter="url(#mblur2)" opacity="0.85"/><path d="M0,-60 C9.24,-60 13.86,-55.2 15.4,-43.2 C18.48,-33.6 26.49,-31.2 28.34,-18 C31.42,0 31.42,30 28.34,45.6 C24.64,57.6 15.4,60 0,60 C-15.4,60 -24.64,57.6 -28.34,45.6 C-31.42,30 -31.42,0 -28.34,-18 C-26.49,-31.2 -18.48,-33.6 -15.4,-43.2 C-13.86,-55.2 -9.24,-60 0,-60 Z" fill="#000" opacity="0.09" filter="url(#mottle)"/></g><g transform="translate(1257 313) rotate(-8)"><path d="M-22.28,-25.2 L-32.67,-38.4" stroke="#bdbdbd" stroke-width="3" stroke-linecap="round" filter="url(#sblur)"/><path d="M22.28,-25.2 L32.67,-38.4" stroke="#bdbdbd" stroke-width="3" stroke-linecap="round" filter="url(#sblur)"/><path d="M-17.82,54 L-25.25,67.2" stroke="#a9a9a9" stroke-width="3.4" stroke-linecap="round" filter="url(#sblur)"/><path d="M17.82,54 L25.25,67.2" stroke="#a9a9a9" stroke-width="3.4" stroke-linecap="round" filter="url(#sblur)"/><path d="M0,-60 C8.91,-60 13.37,-55.2 14.85,-43.2 C17.82,-33.6 25.54,-31.2 27.32,-18 C30.29,0 30.29,30 27.32,45.6 C23.76,57.6 14.85,60 0,60 C-14.85,60 -23.76,57.6 -27.32,45.6 C-30.29,30 -30.29,0 -27.32,-18 C-25.54,-31.2 -17.82,-33.6 -14.85,-43.2 C-13.37,-55.2 -8.91,-60 0,-60 Z" fill="#dedede" filter="url(#fur)"/><ellipse cx="0" cy="6" rx="18.41" ry="42" fill="#f6f6f6" filter="url(#mblur2)" opacity="0.85"/><path d="M0,-60 C8.91,-60 13.37,-55.2 14.85,-43.2 C17.82,-33.6 25.54,-31.2 27.32,-18 C30.29,0 30.29,30 27.32,45.6 C23.76,57.6 14.85,60 0,60 C-14.85,60 -23.76,57.6 -27.32,45.6 C-30.29,30 -30.29,0 -27.32,-18 C-25.54,-31.2 -17.82,-33.6 -14.85,-43.2 C-13.37,-55.2 -8.91,-60 0,-60 Z" fill="#000" opacity="0.09" filter="url(#mottle)"/></g><ellipse cx="1103" cy="353.5" rx="3.5" ry="6.5" fill="#3b35c8" transform="rotate(-10 1103 353.5)"/><ellipse cx="1178.5" cy="352.5" rx="12.2" ry="11.7" fill="#b9b3f0" transform="rotate(-15 1178.5 352.5)" opacity="0.75"/><ellipse cx="1178.5" cy="352.5" rx="10" ry="9.5" fill="#3b35c8" transform="rotate(-15 1178.5 352.5)"/><ellipse cx="1179.7" cy="351.74" rx="6.2" ry="5.89" fill="#1fc6e6" transform="rotate(-15 1178.5 352.5)"/><ellipse cx="1179.7" cy="351.74" rx="4.5" ry="4.28" fill="#6cc43c" transform="rotate(-15 1178.5 352.5)"/><rect x="1089" y="258" width="64" height="115" fill="none" stroke="#b01f2a" stroke-width="1.1" opacity="0.85"/><rect x="1160" y="258" width="66" height="116" fill="none" stroke="#b01f2a" stroke-width="1.1" opacity="0.85"/><rect x="1227" y="258" width="62" height="116" fill="none" stroke="#b01f2a" stroke-width="1.1" opacity="0.85"/></g>
<clipPath id="bclip4"><rect x="1309.2" y="255.7" width="197.6" height="123.1"/></clipPath><g clip-path="url(#bclip4)"><rect x="1309.2" y="255.7" width="197.6" height="123.1" fill="#1c1c1c"/><g transform="translate(1344 318) rotate(0)"><path d="M-17.82,52.2 L-25.25,64.96" stroke="#a9a9a9" stroke-width="3.4" stroke-linecap="round" filter="url(#sblur)"/><path d="M17.82,52.2 L25.25,64.96" stroke="#a9a9a9" stroke-width="3.4" stroke-linecap="round" filter="url(#sblur)"/><path d="M0,-58 C11.29,-58 17.82,-55.1 19.01,-44.08 C20.79,-34.8 29.11,-35.96 29.4,-17.4 C30,5.8 28.51,26.1 29.4,40.6 C29.4,55.68 14.85,59.16 0,58 C-14.85,59.16 -29.4,55.68 -29.4,40.6 C-28.51,26.1 -30,5.8 -29.4,-17.4 C-29.11,-35.96 -20.79,-34.8 -19.01,-44.08 C-17.82,-55.1 -11.29,-58 0,-58 Z" fill="#dedede" filter="url(#fur)"/><ellipse cx="0" cy="5.8" rx="18.41" ry="40.6" fill="#f6f6f6" filter="url(#mblur2)" opacity="0.85"/><path d="M0,-58 C11.29,-58 17.82,-55.1 19.01,-44.08 C20.79,-34.8 29.11,-35.96 29.4,-17.4 C30,5.8 28.51,26.1 29.4,40.6 C29.4,55.68 14.85,59.16 0,58 C-14.85,59.16 -29.4,55.68 -29.4,40.6 C-28.51,26.1 -30,5.8 -29.4,-17.4 C-29.11,-35.96 -20.79,-34.8 -19.01,-44.08 C-17.82,-55.1 -11.29,-58 0,-58 Z" fill="#000" opacity="0.09" filter="url(#mottle)"/></g><g transform="translate(1407 318) rotate(0)"><path d="M-17.82,52.2 L-25.25,64.96" stroke="#a9a9a9" stroke-width="3.4" stroke-linecap="round" filter="url(#sblur)"/><path d="M17.82,52.2 L25.25,64.96" stroke="#a9a9a9" stroke-width="3.4" stroke-linecap="round" filter="url(#sblur)"/><path d="M0,-58 C11.29,-58 17.82,-55.1 19.01,-44.08 C20.79,-34.8 29.11,-35.96 29.4,-17.4 C30,5.8 28.51,26.1 29.4,40.6 C29.4,55.68 14.85,59.16 0,58 C-14.85,59.16 -29.4,55.68 -29.4,40.6 C-28.51,26.1 -30,5.8 -29.4,-17.4 C-29.11,-35.96 -20.79,-34.8 -19.01,-44.08 C-17.82,-55.1 -11.29,-58 0,-58 Z" fill="#dedede" filter="url(#fur)"/><ellipse cx="0" cy="5.8" rx="18.41" ry="40.6" fill="#f6f6f6" filter="url(#mblur2)" opacity="0.85"/><path d="M0,-58 C11.29,-58 17.82,-55.1 19.01,-44.08 C20.79,-34.8 29.11,-35.96 29.4,-17.4 C30,5.8 28.51,26.1 29.4,40.6 C29.4,55.68 14.85,59.16 0,58 C-14.85,59.16 -29.4,55.68 -29.4,40.6 C-28.51,26.1 -30,5.8 -29.4,-17.4 C-29.11,-35.96 -20.79,-34.8 -19.01,-44.08 C-17.82,-55.1 -11.29,-58 0,-58 Z" fill="#000" opacity="0.09" filter="url(#mottle)"/></g><g transform="translate(1471 316) rotate(0)"><path d="M-17.82,52.2 L-25.25,64.96" stroke="#a9a9a9" stroke-width="3.4" stroke-linecap="round" filter="url(#sblur)"/><path d="M17.82,52.2 L25.25,64.96" stroke="#a9a9a9" stroke-width="3.4" stroke-linecap="round" filter="url(#sblur)"/><path d="M0,-58 C11.29,-58 17.82,-55.1 19.01,-44.08 C20.79,-34.8 29.11,-35.96 29.4,-17.4 C30,5.8 28.51,26.1 29.4,40.6 C29.4,55.68 14.85,59.16 0,58 C-14.85,59.16 -29.4,55.68 -29.4,40.6 C-28.51,26.1 -30,5.8 -29.4,-17.4 C-29.11,-35.96 -20.79,-34.8 -19.01,-44.08 C-17.82,-55.1 -11.29,-58 0,-58 Z" fill="#dedede" filter="url(#fur)"/><ellipse cx="0" cy="5.8" rx="18.41" ry="40.6" fill="#f6f6f6" filter="url(#mblur2)" opacity="0.85"/><path d="M0,-58 C11.29,-58 17.82,-55.1 19.01,-44.08 C20.79,-34.8 29.11,-35.96 29.4,-17.4 C30,5.8 28.51,26.1 29.4,40.6 C29.4,55.68 14.85,59.16 0,58 C-14.85,59.16 -29.4,55.68 -29.4,40.6 C-28.51,26.1 -30,5.8 -29.4,-17.4 C-29.11,-35.96 -20.79,-34.8 -19.01,-44.08 C-17.82,-55.1 -11.29,-58 0,-58 Z" fill="#000" opacity="0.09" filter="url(#mottle)"/></g><ellipse cx="1367" cy="362" rx="5" ry="12" fill="#3b35c8" transform="rotate(20 1367 362)"/><ellipse cx="1439" cy="350" rx="12.2" ry="18.2" fill="#b9b3f0" opacity="0.75"/><ellipse cx="1439" cy="350" rx="10" ry="16" fill="#3b35c8"/><ellipse cx="1440.2" cy="348.72" rx="6.2" ry="9.92" fill="#1fc6e6"/><rect x="1311" y="260" width="69" height="113" fill="none" stroke="#b01f2a" stroke-width="1.1" opacity="0.85"/><rect x="1383" y="260" width="60" height="113" fill="none" stroke="#b01f2a" stroke-width="1.1" opacity="0.85"/><rect x="1444" y="258" width="62" height="115" fill="none" stroke="#b01f2a" stroke-width="1.1" opacity="0.85"/></g>
<clipPath id="bclip5"><rect x="1549.9" y="84.5" width="100.4" height="148.1"/></clipPath><g clip-path="url(#bclip5)"><rect x="1549.9" y="84.5" width="100.4" height="148.1" fill="#1c1c1c"/><g transform="translate(1600 160) rotate(2)"><path d="M-27.23,-30.66 L-39.93,-46.72" stroke="#bdbdbd" stroke-width="3" stroke-linecap="round" filter="url(#sblur)"/><path d="M27.23,-30.66 L39.93,-46.72" stroke="#bdbdbd" stroke-width="3" stroke-linecap="round" filter="url(#sblur)"/><path d="M-21.78,65.7 L-30.86,81.76" stroke="#a9a9a9" stroke-width="3.4" stroke-linecap="round" filter="url(#sblur)"/><path d="M21.78,65.7 L30.86,81.76" stroke="#a9a9a9" stroke-width="3.4" stroke-linecap="round" filter="url(#sblur)"/><path d="M0,-73 C10.89,-73 16.34,-67.16 18.15,-52.56 C21.78,-40.88 31.22,-37.96 33.4,-21.9 C37.03,0 37.03,36.5 33.4,55.48 C29.04,70.08 18.15,73 0,73 C-18.15,73 -29.04,70.08 -33.4,55.48 C-37.03,36.5 -37.03,0 -33.4,-21.9 C-31.22,-37.96 -21.78,-40.88 -18.15,-52.56 C-16.34,-67.16 -10.89,-73 0,-73 Z" fill="#dedede" filter="url(#fur)"/><ellipse cx="0" cy="7.3" rx="22.51" ry="51.1" fill="#f6f6f6" filter="url(#mblur2)" opacity="0.85"/><path d="M0,-73 C10.89,-73 16.34,-67.16 18.15,-52.56 C21.78,-40.88 31.22,-37.96 33.4,-21.9 C37.03,0 37.03,36.5 33.4,55.48 C29.04,70.08 18.15,73 0,73 C-18.15,73 -29.04,70.08 -33.4,55.48 C-37.03,36.5 -37.03,0 -33.4,-21.9 C-31.22,-37.96 -21.78,-40.88 -18.15,-52.56 C-16.34,-67.16 -10.89,-73 0,-73 Z" fill="#000" opacity="0.09" filter="url(#mottle)"/></g><ellipse cx="1600" cy="99.5" rx="7.7" ry="11.7" fill="#b9b3f0" transform="rotate(-10 1600 99.5)" opacity="0.75"/><ellipse cx="1600" cy="99.5" rx="5.5" ry="9.5" fill="#3b35c8" transform="rotate(-10 1600 99.5)"/><ellipse cx="1600.66" cy="98.74" rx="3.41" ry="5.89" fill="#1fc6e6" transform="rotate(-10 1600 99.5)"/><ellipse cx="1581" cy="201" rx="11.2" ry="15.7" fill="#b9b3f0" opacity="0.75"/><ellipse cx="1581" cy="201" rx="9" ry="13.5" fill="#3b35c8"/><ellipse cx="1582.08" cy="199.92" rx="5.58" ry="8.37" fill="#1fc6e6"/><ellipse cx="1582.08" cy="199.92" rx="4.05" ry="6.08" fill="#6cc43c"/><ellipse cx="1629.5" cy="205" rx="10.2" ry="17.2" fill="#b9b3f0" opacity="0.75"/><ellipse cx="1629.5" cy="205" rx="8" ry="15" fill="#3b35c8"/><ellipse cx="1630.46" cy="203.8" rx="4.96" ry="9.3" fill="#1fc6e6"/><ellipse cx="1597" cy="212" rx="5.7" ry="6.2" fill="#b9b3f0" opacity="0.75"/><ellipse cx="1597" cy="212" rx="3.5" ry="4" fill="#3b35c8"/><ellipse cx="1594" cy="125" rx="2.5" ry="3" fill="#3b35c8"/><ellipse cx="1598" cy="139" rx="3" ry="3" fill="#3b35c8"/><ellipse cx="1597" cy="154" rx="3" ry="3" fill="#3b35c8"/><ellipse cx="1613" cy="157" rx="3" ry="3" fill="#3b35c8"/><ellipse cx="1592" cy="130" rx="2" ry="3" fill="#3b35c8"/><rect x="1568" y="86" width="74" height="144" fill="none" stroke="#b01f2a" stroke-width="1.1" opacity="0.85"/></g>
<clipPath id="bclip6"><rect x="1787.3" y="84.5" width="92.8" height="148.1"/></clipPath><g clip-path="url(#bclip6)"><rect x="1787.3" y="84.5" width="92.8" height="148.1" fill="#1c1c1c"/><g transform="translate(1834 162) rotate(4)"><path d="M-21.78,63 L-30.86,78.4" stroke="#a9a9a9" stroke-width="3.4" stroke-linecap="round" filter="url(#sblur)"/><path d="M21.78,63 L30.86,78.4" stroke="#a9a9a9" stroke-width="3.4" stroke-linecap="round" filter="url(#sblur)"/><path d="M0,-70 C13.79,-70 21.78,-66.5 23.23,-53.2 C25.41,-42 35.57,-43.4 35.94,-21 C36.66,7 34.85,31.5 35.94,49 C35.94,67.2 18.15,71.4 0,70 C-18.15,71.4 -35.94,67.2 -35.94,49 C-34.85,31.5 -36.66,7 -35.94,-21 C-35.57,-43.4 -25.41,-42 -23.23,-53.2 C-21.78,-66.5 -13.79,-70 0,-70 Z" fill="#dedede" filter="url(#fur)"/><ellipse cx="0" cy="7" rx="22.51" ry="49" fill="#f6f6f6" filter="url(#mblur2)" opacity="0.85"/><path d="M0,-70 C13.79,-70 21.78,-66.5 23.23,-53.2 C25.41,-42 35.57,-43.4 35.94,-21 C36.66,7 34.85,31.5 35.94,49 C35.94,67.2 18.15,71.4 0,70 C-18.15,71.4 -35.94,67.2 -35.94,49 C-34.85,31.5 -36.66,7 -35.94,-21 C-35.57,-43.4 -25.41,-42 -23.23,-53.2 C-21.78,-66.5 -13.79,-70 0,-70 Z" fill="#000" opacity="0.09" filter="url(#mottle)"/></g><path d="M1838,148 C1848,140 1858,146 1856,162 C1854,180 1852,196 1848,210 C1846,222 1836,230 1826,226 C1814,224 1806,218 1805,208 C1806,198 1816,190 1822,180 C1828,170 1832,160 1838,148 Z" fill="#3b35c8" filter="url(#sblur)"/><path d="M1840,154 C1846,150 1852,156 1850,168 C1848,182 1845,196 1841,206 C1838,214 1830,218 1822,216 C1814,213 1812,206 1816,200 C1822,192 1830,184 1834,174 C1836,166 1837,158 1840,154 Z" fill="#1fc6e6" filter="url(#sblur)"/><path d="M1842,160 C1846,158 1848,164 1846,172 C1844,184 1842,196 1838,204 C1834,210 1826,212 1820,210 C1816,206 1820,200 1826,194 C1832,186 1836,178 1838,170 C1839,165 1840,161 1842,160 Z" fill="#6cc43c" filter="url(#sblur)"/><ellipse cx="1830" cy="95.5" rx="13.2" ry="7.2" fill="#b9b3f0" opacity="0.75"/><ellipse cx="1830" cy="95.5" rx="11" ry="5" fill="#3b35c8"/><ellipse cx="1831.32" cy="95.1" rx="6.82" ry="3.1" fill="#1fc6e6"/><ellipse cx="1836" cy="108" rx="9.2" ry="7.2" fill="#b9b3f0" opacity="0.75"/><ellipse cx="1836" cy="108" rx="7" ry="5" fill="#3b35c8"/><ellipse cx="1836.84" cy="107.6" rx="4.34" ry="3.1" fill="#1fc6e6"/><ellipse cx="1800" cy="195" rx="4" ry="6" fill="#3b35c8"/><ellipse cx="1868" cy="192" rx="3" ry="6" fill="#3b35c8" transform="rotate(-20 1868 192)"/><ellipse cx="1868.36" cy="191.52" rx="1.86" ry="3.72" fill="#1fc6e6" transform="rotate(-20 1868 192)"/><ellipse cx="1822" cy="196" rx="2.6" ry="3.2" fill="#e6e23a"/><ellipse cx="1822" cy="196.5" rx="1.3" ry="1.6" fill="#e5261f"/><rect x="1792" y="88" width="80" height="142" fill="none" stroke="#b01f2a" stroke-width="1.1" opacity="0.85"/></g>
<clipPath id="bclip7"><rect x="1549.9" y="255.9" width="186.1" height="122.9"/></clipPath><g clip-path="url(#bclip7)"><rect x="1549.9" y="255.9" width="186.1" height="122.9" fill="#1c1c1c"/><g transform="translate(1585 320) rotate(0)"><path d="M-23.93,-26.04 L-35.09,-39.68" stroke="#bdbdbd" stroke-width="3" stroke-linecap="round" filter="url(#sblur)"/><path d="M23.93,-26.04 L35.09,-39.68" stroke="#bdbdbd" stroke-width="3" stroke-linecap="round" filter="url(#sblur)"/><path d="M-19.14,55.8 L-27.12,69.44" stroke="#a9a9a9" stroke-width="3.4" stroke-linecap="round" filter="url(#sblur)"/><path d="M19.14,55.8 L27.12,69.44" stroke="#a9a9a9" stroke-width="3.4" stroke-linecap="round" filter="url(#sblur)"/><path d="M0,-62 C9.57,-62 14.36,-57.04 15.95,-44.64 C19.14,-34.72 27.43,-32.24 29.35,-18.6 C32.54,0 32.54,31 29.35,47.12 C25.52,59.52 15.95,62 0,62 C-15.95,62 -25.52,59.52 -29.35,47.12 C-32.54,31 -32.54,0 -29.35,-18.6 C-27.43,-32.24 -19.14,-34.72 -15.95,-44.64 C-14.36,-57.04 -9.57,-62 0,-62 Z" fill="#dedede" filter="url(#fur)"/><ellipse cx="0" cy="6.2" rx="19.78" ry="43.4" fill="#f6f6f6" filter="url(#mblur2)" opacity="0.85"/><path d="M0,-62 C9.57,-62 14.36,-57.04 15.95,-44.64 C19.14,-34.72 27.43,-32.24 29.35,-18.6 C32.54,0 32.54,31 29.35,47.12 C25.52,59.52 15.95,62 0,62 C-15.95,62 -25.52,59.52 -29.35,47.12 C-32.54,31 -32.54,0 -29.35,-18.6 C-27.43,-32.24 -19.14,-34.72 -15.95,-44.64 C-14.36,-57.04 -9.57,-62 0,-62 Z" fill="#000" opacity="0.09" filter="url(#mottle)"/></g><g transform="translate(1648 318) rotate(3)"><path d="M-23.1,-26.04 L-33.88,-39.68" stroke="#bdbdbd" stroke-width="3" stroke-linecap="round" filter="url(#sblur)"/><path d="M23.1,-26.04 L33.88,-39.68" stroke="#bdbdbd" stroke-width="3" stroke-linecap="round" filter="url(#sblur)"/><path d="M-18.48,55.8 L-26.18,69.44" stroke="#a9a9a9" stroke-width="3.4" stroke-linecap="round" filter="url(#sblur)"/><path d="M18.48,55.8 L26.18,69.44" stroke="#a9a9a9" stroke-width="3.4" stroke-linecap="round" filter="url(#sblur)"/><path d="M0,-62 C9.24,-62 13.86,-57.04 15.4,-44.64 C18.48,-34.72 26.49,-32.24 28.34,-18.6 C31.42,0 31.42,31 28.34,47.12 C24.64,59.52 15.4,62 0,62 C-15.4,62 -24.64,59.52 -28.34,47.12 C-31.42,31 -31.42,0 -28.34,-18.6 C-26.49,-32.24 -18.48,-34.72 -15.4,-44.64 C-13.86,-57.04 -9.24,-62 0,-62 Z" fill="#dedede" filter="url(#fur)"/><ellipse cx="0" cy="6.2" rx="19.1" ry="43.4" fill="#f6f6f6" filter="url(#mblur2)" opacity="0.85"/><path d="M0,-62 C9.24,-62 13.86,-57.04 15.4,-44.64 C18.48,-34.72 26.49,-32.24 28.34,-18.6 C31.42,0 31.42,31 28.34,47.12 C24.64,59.52 15.4,62 0,62 C-15.4,62 -24.64,59.52 -28.34,47.12 C-31.42,31 -31.42,0 -28.34,-18.6 C-26.49,-32.24 -18.48,-34.72 -15.4,-44.64 C-13.86,-57.04 -9.24,-62 0,-62 Z" fill="#000" opacity="0.09" filter="url(#mottle)"/></g><g transform="translate(1706 318) rotate(0)"><path d="M-22.28,-26.04 L-32.67,-39.68" stroke="#bdbdbd" stroke-width="3" stroke-linecap="round" filter="url(#sblur)"/><path d="M22.28,-26.04 L32.67,-39.68" stroke="#bdbdbd" stroke-width="3" stroke-linecap="round" filter="url(#sblur)"/><path d="M-17.82,55.8 L-25.25,69.44" stroke="#a9a9a9" stroke-width="3.4" stroke-linecap="round" filter="url(#sblur)"/><path d="M17.82,55.8 L25.25,69.44" stroke="#a9a9a9" stroke-width="3.4" stroke-linecap="round" filter="url(#sblur)"/><path d="M0,-62 C8.91,-62 13.37,-57.04 14.85,-44.64 C17.82,-34.72 25.54,-32.24 27.32,-18.6 C30.29,0 30.29,31 27.32,47.12 C23.76,59.52 14.85,62 0,62 C-14.85,62 -23.76,59.52 -27.32,47.12 C-30.29,31 -30.29,0 -27.32,-18.6 C-25.54,-32.24 -17.82,-34.72 -14.85,-44.64 C-13.37,-57.04 -8.91,-62 0,-62 Z" fill="#dedede" filter="url(#fur)"/><ellipse cx="0" cy="6.2" rx="18.41" ry="43.4" fill="#f6f6f6" filter="url(#mblur2)" opacity="0.85"/><path d="M0,-62 C8.91,-62 13.37,-57.04 14.85,-44.64 C17.82,-34.72 25.54,-32.24 27.32,-18.6 C30.29,0 30.29,31 27.32,47.12 C23.76,59.52 14.85,62 0,62 C-14.85,62 -23.76,59.52 -27.32,47.12 C-30.29,31 -30.29,0 -27.32,-18.6 C-25.54,-32.24 -17.82,-34.72 -14.85,-44.64 C-13.37,-57.04 -8.91,-62 0,-62 Z" fill="#000" opacity="0.09" filter="url(#mottle)"/></g><ellipse cx="1567" cy="358.5" rx="9.2" ry="14.2" fill="#b9b3f0" transform="rotate(-10 1567 358.5)" opacity="0.75"/><ellipse cx="1567" cy="358.5" rx="7" ry="12" fill="#3b35c8" transform="rotate(-10 1567 358.5)"/><ellipse cx="1567.84" cy="357.54" rx="4.34" ry="7.44" fill="#1fc6e6" transform="rotate(-10 1567 358.5)"/><ellipse cx="1567.84" cy="357.54" rx="3.15" ry="5.4" fill="#6cc43c" transform="rotate(-10 1567 358.5)"/><ellipse cx="1567.84" cy="357.54" rx="1.75" ry="3" fill="#e6e23a" transform="rotate(-10 1567 358.5)"/><ellipse cx="1567.84" cy="357.54" rx="0.98" ry="1.68" fill="#e5261f" transform="rotate(-10 1567 358.5)"/><ellipse cx="1606.5" cy="353" rx="7.2" ry="8.2" fill="#b9b3f0" opacity="0.75"/><ellipse cx="1606.5" cy="353" rx="5" ry="6" fill="#3b35c8"/><ellipse cx="1607.1" cy="352.52" rx="3.1" ry="3.72" fill="#1fc6e6"/><ellipse cx="1620.5" cy="339" rx="6.2" ry="8.2" fill="#b9b3f0" opacity="0.75"/><ellipse cx="1620.5" cy="339" rx="4" ry="6" fill="#3b35c8"/><ellipse cx="1620.98" cy="338.52" rx="2.48" ry="3.72" fill="#1fc6e6"/><ellipse cx="1654.5" cy="346" rx="11.7" ry="13.2" fill="#b9b3f0" transform="rotate(20 1654.5 346)" opacity="0.75"/><ellipse cx="1654.5" cy="346" rx="9.5" ry="11" fill="#3b35c8" transform="rotate(20 1654.5 346)"/><ellipse cx="1655.64" cy="345.12" rx="5.89" ry="6.82" fill="#1fc6e6" transform="rotate(20 1654.5 346)"/><ellipse cx="1693" cy="353" rx="3" ry="3.5" fill="#3b35c8"/><ellipse cx="1654" cy="290" rx="2" ry="2" fill="#3b35c8"/><rect x="1556" y="258" width="57" height="119" fill="none" stroke="#b01f2a" stroke-width="1.1" opacity="0.85"/><rect x="1617" y="258" width="55" height="114" fill="none" stroke="#b01f2a" stroke-width="1.1" opacity="0.85"/><rect x="1677" y="258" width="57" height="118" fill="none" stroke="#b01f2a" stroke-width="1.1" opacity="0.85"/></g>
<clipPath id="bclip8"><rect x="1792.2" y="259.5" width="189.4" height="119.3"/></clipPath><g clip-path="url(#bclip8)"><rect x="1792.2" y="259.5" width="189.4" height="119.3" fill="#1c1c1c"/><g transform="translate(1824 322) rotate(0)"><path d="M-17.82,52.2 L-25.25,64.96" stroke="#a9a9a9" stroke-width="3.4" stroke-linecap="round" filter="url(#sblur)"/><path d="M17.82,52.2 L25.25,64.96" stroke="#a9a9a9" stroke-width="3.4" stroke-linecap="round" filter="url(#sblur)"/><path d="M0,-58 C11.29,-58 17.82,-55.1 19.01,-44.08 C20.79,-34.8 29.11,-35.96 29.4,-17.4 C30,5.8 28.51,26.1 29.4,40.6 C29.4,55.68 14.85,59.16 0,58 C-14.85,59.16 -29.4,55.68 -29.4,40.6 C-28.51,26.1 -30,5.8 -29.4,-17.4 C-29.11,-35.96 -20.79,-34.8 -19.01,-44.08 C-17.82,-55.1 -11.29,-58 0,-58 Z" fill="#dedede" filter="url(#fur)"/><ellipse cx="0" cy="5.8" rx="18.41" ry="40.6" fill="#f6f6f6" filter="url(#mblur2)" opacity="0.85"/><path d="M0,-58 C11.29,-58 17.82,-55.1 19.01,-44.08 C20.79,-34.8 29.11,-35.96 29.4,-17.4 C30,5.8 28.51,26.1 29.4,40.6 C29.4,55.68 14.85,59.16 0,58 C-14.85,59.16 -29.4,55.68 -29.4,40.6 C-28.51,26.1 -30,5.8 -29.4,-17.4 C-29.11,-35.96 -20.79,-34.8 -19.01,-44.08 C-17.82,-55.1 -11.29,-58 0,-58 Z" fill="#000" opacity="0.09" filter="url(#mottle)"/></g><g transform="translate(1884 320) rotate(2)"><path d="M-18.48,52.2 L-26.18,64.96" stroke="#a9a9a9" stroke-width="3.4" stroke-linecap="round" filter="url(#sblur)"/><path d="M18.48,52.2 L26.18,64.96" stroke="#a9a9a9" stroke-width="3.4" stroke-linecap="round" filter="url(#sblur)"/><path d="M0,-58 C11.7,-58 18.48,-55.1 19.71,-44.08 C21.56,-34.8 30.18,-35.96 30.49,-17.4 C31.11,5.8 29.57,26.1 30.49,40.6 C30.49,55.68 15.4,59.16 0,58 C-15.4,59.16 -30.49,55.68 -30.49,40.6 C-29.57,26.1 -31.11,5.8 -30.49,-17.4 C-30.18,-35.96 -21.56,-34.8 -19.71,-44.08 C-18.48,-55.1 -11.7,-58 0,-58 Z" fill="#dedede" filter="url(#fur)"/><ellipse cx="0" cy="5.8" rx="19.1" ry="40.6" fill="#f6f6f6" filter="url(#mblur2)" opacity="0.85"/><path d="M0,-58 C11.7,-58 18.48,-55.1 19.71,-44.08 C21.56,-34.8 30.18,-35.96 30.49,-17.4 C31.11,5.8 29.57,26.1 30.49,40.6 C30.49,55.68 15.4,59.16 0,58 C-15.4,59.16 -30.49,55.68 -30.49,40.6 C-29.57,26.1 -31.11,5.8 -30.49,-17.4 C-30.18,-35.96 -21.56,-34.8 -19.71,-44.08 C-18.48,-55.1 -11.7,-58 0,-58 Z" fill="#000" opacity="0.09" filter="url(#mottle)"/></g><g transform="translate(1947 320) rotate(0)"><path d="M-17.82,52.2 L-25.25,64.96" stroke="#a9a9a9" stroke-width="3.4" stroke-linecap="round" filter="url(#sblur)"/><path d="M17.82,52.2 L25.25,64.96" stroke="#a9a9a9" stroke-width="3.4" stroke-linecap="round" filter="url(#sblur)"/><path d="M0,-58 C11.29,-58 17.82,-55.1 19.01,-44.08 C20.79,-34.8 29.11,-35.96 29.4,-17.4 C30,5.8 28.51,26.1 29.4,40.6 C29.4,55.68 14.85,59.16 0,58 C-14.85,59.16 -29.4,55.68 -29.4,40.6 C-28.51,26.1 -30,5.8 -29.4,-17.4 C-29.11,-35.96 -20.79,-34.8 -19.01,-44.08 C-17.82,-55.1 -11.29,-58 0,-58 Z" fill="#dedede" filter="url(#fur)"/><ellipse cx="0" cy="5.8" rx="18.41" ry="40.6" fill="#f6f6f6" filter="url(#mblur2)" opacity="0.85"/><path d="M0,-58 C11.29,-58 17.82,-55.1 19.01,-44.08 C20.79,-34.8 29.11,-35.96 29.4,-17.4 C30,5.8 28.51,26.1 29.4,40.6 C29.4,55.68 14.85,59.16 0,58 C-14.85,59.16 -29.4,55.68 -29.4,40.6 C-28.51,26.1 -30,5.8 -29.4,-17.4 C-29.11,-35.96 -20.79,-34.8 -19.01,-44.08 C-17.82,-55.1 -11.29,-58 0,-58 Z" fill="#000" opacity="0.09" filter="url(#mottle)"/></g><ellipse cx="1829" cy="313.5" rx="9.7" ry="7.2" fill="#b9b3f0" opacity="0.75"/><ellipse cx="1829" cy="313.5" rx="7.5" ry="5" fill="#3b35c8"/><ellipse cx="1883" cy="285" rx="9.2" ry="5.2" fill="#b9b3f0" opacity="0.75"/><ellipse cx="1883" cy="285" rx="7" ry="3" fill="#3b35c8"/><g filter="url(#sblur)"><path d="M1848,348 C1852,340 1862,336 1872,338 C1880,332 1892,333 1900,340 C1908,344 1914,352 1914,360 C1913,368 1904,370 1896,368 C1888,371 1878,369 1870,371 C1860,372 1850,368 1846,360 C1844,355 1845,351 1848,348 Z" fill="#3b35c8"/><ellipse cx="1912" cy="359" rx="5" ry="5.5" fill="#3b35c8"/><ellipse cx="1888" cy="345" rx="6" ry="4" fill="#5a50de"/><ellipse cx="1866" cy="352" rx="7" ry="5" fill="#4f45d8"/></g><ellipse cx="1846" cy="360" rx="9.2" ry="12.2" fill="#b9b3f0" opacity="0.75"/><ellipse cx="1846" cy="360" rx="7" ry="10" fill="#3b35c8"/><ellipse cx="1846.84" cy="359.2" rx="4.34" ry="6.2" fill="#1fc6e6"/><ellipse cx="1846.84" cy="359.2" rx="3.15" ry="4.5" fill="#6cc43c"/><ellipse cx="1911" cy="357" rx="5" ry="5.5" fill="#3b35c8"/><ellipse cx="1829" cy="344" rx="2" ry="3" fill="#3b35c8"/><rect x="1795" y="262" width="63" height="115" fill="none" stroke="#b01f2a" stroke-width="1.1" opacity="0.85"/><rect x="1861" y="266" width="60" height="111" fill="none" stroke="#b01f2a" stroke-width="1.1" opacity="0.85"/><rect x="1923" y="266" width="57" height="111" fill="none" stroke="#b01f2a" stroke-width="1.1" opacity="0.85"/></g>
</g>
<g id="pc">
<text x="-1" y="486.8" font-size="26.5">c.</text>
<line x1="135.3" y1="535.5" x2="135.3" y2="870.2" stroke="#231f20" stroke-width="3.4"/>
<line x1="133.6" y1="868.6" x2="447.4" y2="868.6" stroke="#231f20" stroke-width="3.4"/>
<line x1="129.5" y1="537.2" x2="135.3" y2="537.2" stroke="#231f20" stroke-width="3"/>
<text x="124.5" y="546.1" font-size="24.5" text-anchor="end" fill="#231f20" textLength="41.5" lengthAdjust="spacingAndGlyphs">100</text>
<line x1="129.5" y1="612.3" x2="135.3" y2="612.3" stroke="#231f20" stroke-width="3"/>
<text x="124.5" y="621.2" font-size="24.5" text-anchor="end" fill="#231f20" textLength="27.5" lengthAdjust="spacingAndGlyphs">75</text>
<line x1="129.5" y1="687.9" x2="135.3" y2="687.9" stroke="#231f20" stroke-width="3"/>
<text x="124.5" y="696.8" font-size="24.5" text-anchor="end" fill="#231f20" textLength="27.5" lengthAdjust="spacingAndGlyphs">50</text>
<line x1="129.5" y1="763.3" x2="135.3" y2="763.3" stroke="#231f20" stroke-width="3"/>
<text x="124.5" y="772.2" font-size="24.5" text-anchor="end" fill="#231f20" textLength="27.5" lengthAdjust="spacingAndGlyphs">25</text>
<line x1="129.5" y1="838.4" x2="135.3" y2="838.4" stroke="#231f20" stroke-width="3"/>
<text x="124.5" y="847.3" font-size="24.5" text-anchor="end" fill="#231f20" textLength="14" lengthAdjust="spacingAndGlyphs">0</text>
<line x1="174.4" y1="868.6" x2="174.4" y2="874.5" stroke="#231f20" stroke-width="3"/>
<line x1="252.8" y1="868.6" x2="252.8" y2="874.5" stroke="#231f20" stroke-width="3"/>
<line x1="330.5" y1="868.6" x2="330.5" y2="874.5" stroke="#231f20" stroke-width="3"/>
<line x1="408.6" y1="868.6" x2="408.6" y2="874.5" stroke="#231f20" stroke-width="3"/>
<text x="179.4" y="896" font-size="25" text-anchor="end" fill="#231f20" transform="rotate(-45 179.4 896)" textLength="74" lengthAdjust="spacingAndGlyphs">control</text>
<text x="257.8" y="896" font-size="25" text-anchor="end" fill="#231f20" transform="rotate(-45 257.8 896)" textLength="62" lengthAdjust="spacingAndGlyphs">CBFβ</text>
<text x="335.5" y="896" font-size="25" text-anchor="end" fill="#231f20" transform="rotate(-45 335.5 896)" textLength="74" lengthAdjust="spacingAndGlyphs">control</text>
<text x="413.6" y="896" font-size="25" text-anchor="end" fill="#231f20" transform="rotate(-45 413.6 896)" textLength="62" lengthAdjust="spacingAndGlyphs">CBFβ</text>
<line x1="163.5" y1="973.7" x2="266.4" y2="973.7" stroke="#231f20" stroke-width="2.6"/>
<line x1="324.5" y1="973.7" x2="421.4" y2="973.7" stroke="#231f20" stroke-width="2.6"/>
<text x="212" y="1014" font-size="23.5" text-anchor="middle" fill="#231f20" textLength="66" lengthAdjust="spacingAndGlyphs">t(4;11)</text>
<text x="373.8" y="1010.5" font-size="23.5" text-anchor="middle" fill="#231f20" textLength="168" lengthAdjust="spacingAndGlyphs">no translocation</text>
<text x="61" y="704" font-size="24.5" fill="#231f20" text-anchor="middle" transform="rotate(-90 60.5 702)">% hCD19<tspan font-size="15" dy="-8">+</tspan><tspan dy="8">GFP</tspan><tspan font-size="15" dy="-8">+</tspan></text>
<line x1="148.3" y1="635.2" x2="200.4" y2="635.2" stroke="#231f20" stroke-width="3.4"/>
<line x1="174.4" y1="619" x2="174.4" y2="652" stroke="#231f20" stroke-width="1.6"/>
<line x1="161.3" y1="619" x2="187.7" y2="619" stroke="#231f20" stroke-width="1.6"/>
<line x1="161.3" y1="652" x2="187.7" y2="652" stroke="#231f20" stroke-width="1.6"/>
<circle cx="174.4" cy="619" r="4.6" fill="#231f20"/>
<circle cx="174.4" cy="633.5" r="4.6" fill="#231f20"/>
<circle cx="174.4" cy="652" r="4.6" fill="#231f20"/>
<line x1="304.2" y1="576.8" x2="356.3" y2="576.8" stroke="#231f20" stroke-width="3.4"/>
<line x1="317" y1="571.5" x2="343.5" y2="571.5" stroke="#231f20" stroke-width="1.6"/>
<line x1="317" y1="582" x2="343.5" y2="582" stroke="#231f20" stroke-width="1.6"/>
<line x1="330.5" y1="571.5" x2="330.5" y2="582" stroke="#231f20" stroke-width="1.6"/>
<polygon points="321.5,565 327.1,574.5 315.9,574.5" fill="#231f20"/>
<polygon points="321.5,578 327.1,587.5 315.9,587.5" fill="#231f20"/>
<polygon points="341,575 346.6,584.5 335.4,584.5" fill="#231f20"/>
<line x1="228" y1="838.4" x2="278" y2="838.4" stroke="#231f20" stroke-width="3.4"/>
<polygon points="231.6,843.5 237.2,834 226,834" fill="#231f20"/>
<polygon points="252.8,843.5 258.4,834 247.2,834" fill="#231f20"/>
<polygon points="274,843.5 279.6,834 268.4,834" fill="#231f20"/>
<line x1="386.5" y1="838.4" x2="429.5" y2="838.4" stroke="#231f20" stroke-width="3.4"/>
<circle cx="387.5" cy="838.4" r="4.8" fill="#231f20"/>
<circle cx="408.6" cy="838.4" r="4.8" fill="#231f20"/>
<circle cx="429.2" cy="838.4" r="4.8" fill="#231f20"/>
<text x="250.6" y="824.5" font-size="21" text-anchor="middle" fill="#231f20" textLength="37" lengthAdjust="spacingAndGlyphs">****</text>
<text x="409.3" y="825" font-size="21" text-anchor="middle" fill="#231f20" textLength="37" lengthAdjust="spacingAndGlyphs">****</text>
</g>
<g id="pd">
<text x="550.3" y="485.4" font-size="26.5">d.</text>
<text x="690.4" y="501.5" font-size="25.5" text-anchor="middle" textLength="35.5" lengthAdjust="spacingAndGlyphs">IgG</text>
<text x="845.2" y="501.5" font-size="25.5" text-anchor="middle" textLength="70" lengthAdjust="spacingAndGlyphs">DMSO</text>
<text x="980.3" y="501.5" font-size="25.5" text-anchor="middle" textLength="47" lengthAdjust="spacingAndGlyphs">CBFi</text>
<text x="1141.2" y="501.5" font-size="25.5" text-anchor="middle" textLength="70" lengthAdjust="spacingAndGlyphs">DMSO</text>
<text x="1271.6" y="501.5" font-size="25.5" text-anchor="middle" textLength="47" lengthAdjust="spacingAndGlyphs">CBFi</text>
<defs><linearGradient id="hc0" x1="0" x2="1" y1="0" y2="0"><stop offset="0.3440" stop-color="#e8141c" stop-opacity="0.015"/><stop offset="0.3634" stop-color="#e8141c" stop-opacity="0.031"/><stop offset="0.3829" stop-color="#e8141c" stop-opacity="0.059"/><stop offset="0.4023" stop-color="#e8141c" stop-opacity="0.107"/><stop offset="0.4218" stop-color="#e8141c" stop-opacity="0.183"/><stop offset="0.4412" stop-color="#e8141c" stop-opacity="0.292"/><stop offset="0.4607" stop-color="#e8141c" stop-opacity="0.438"/><stop offset="0.4802" stop-color="#e8141c" stop-opacity="0.618"/><stop offset="0.4996" stop-color="#e8141c" stop-opacity="0.819"/><stop offset="0.5191" stop-color="#e8141c" stop-opacity="1.000"/><stop offset="0.5385" stop-color="#e8141c" stop-opacity="1.000"/><stop offset="0.5580" stop-color="#e8141c" stop-opacity="1.000"/><stop offset="0.5774" stop-color="#e8141c" stop-opacity="1.000"/><stop offset="0.5969" stop-color="#e8141c" stop-opacity="1.000"/><stop offset="0.6163" stop-color="#e8141c" stop-opacity="1.000"/><stop offset="0.6358" stop-color="#e8141c" stop-opacity="1.000"/><stop offset="0.6553" stop-color="#e8141c" stop-opacity="0.819"/><stop offset="0.6747" stop-color="#e8141c" stop-opacity="0.618"/><stop offset="0.6942" stop-color="#e8141c" stop-opacity="0.438"/><stop offset="0.7136" stop-color="#e8141c" stop-opacity="0.292"/><stop offset="0.7331" stop-color="#e8141c" stop-opacity="0.183"/><stop offset="0.7525" stop-color="#e8141c" stop-opacity="0.107"/><stop offset="0.7720" stop-color="#e8141c" stop-opacity="0.059"/><stop offset="0.7914" stop-color="#e8141c" stop-opacity="0.031"/><stop offset="0.8109" stop-color="#e8141c" stop-opacity="0.015"/></linearGradient><linearGradient id="hh0" x1="0" x2="1" y1="0" y2="0"><stop offset="0.0000" stop-color="#ee3a40" stop-opacity="0.011"/><stop offset="0.0000" stop-color="#ee3a40" stop-opacity="0.023"/><stop offset="0.0000" stop-color="#ee3a40" stop-opacity="0.044"/><stop offset="0.0521" stop-color="#ee3a40" stop-opacity="0.080"/><stop offset="0.1105" stop-color="#ee3a40" stop-opacity="0.135"/><stop offset="0.1689" stop-color="#ee3a40" stop-opacity="0.216"/><stop offset="0.2272" stop-color="#ee3a40" stop-opacity="0.325"/><stop offset="0.2856" stop-color="#ee3a40" stop-opacity="0.458"/><stop offset="0.3440" stop-color="#ee3a40" stop-opacity="0.607"/><stop offset="0.4023" stop-color="#ee3a40" stop-opacity="0.755"/><stop offset="0.4607" stop-color="#ee3a40" stop-opacity="0.882"/><stop offset="0.5191" stop-color="#ee3a40" stop-opacity="0.969"/><stop offset="0.5774" stop-color="#ee3a40" stop-opacity="1.000"/><stop offset="0.6358" stop-color="#ee3a40" stop-opacity="0.969"/><stop offset="0.6942" stop-color="#ee3a40" stop-opacity="0.882"/><stop offset="0.7525" stop-color="#ee3a40" stop-opacity="0.755"/><stop offset="0.8109" stop-color="#ee3a40" stop-opacity="0.607"/><stop offset="0.8693" stop-color="#ee3a40" stop-opacity="0.458"/><stop offset="0.9276" stop-color="#ee3a40" stop-opacity="0.325"/><stop offset="0.9860" stop-color="#ee3a40" stop-opacity="0.216"/><stop offset="1.0000" stop-color="#ee3a40" stop-opacity="0.135"/><stop offset="1.0000" stop-color="#ee3a40" stop-opacity="0.080"/><stop offset="1.0000" stop-color="#ee3a40" stop-opacity="0.044"/><stop offset="1.0000" stop-color="#ee3a40" stop-opacity="0.023"/><stop offset="1.0000" stop-color="#ee3a40" stop-opacity="0.011"/></linearGradient><linearGradient id="hc1" x1="0" x2="1" y1="0" y2="0"><stop offset="0.3060" stop-color="#e8141c" stop-opacity="0.015"/><stop offset="0.3216" stop-color="#e8141c" stop-opacity="0.031"/><stop offset="0.3372" stop-color="#e8141c" stop-opacity="0.059"/><stop offset="0.3528" stop-color="#e8141c" stop-opacity="0.107"/><stop offset="0.3685" stop-color="#e8141c" stop-opacity="0.183"/><stop offset="0.3841" stop-color="#e8141c" stop-opacity="0.292"/><stop offset="0.3997" stop-color="#e8141c" stop-opacity="0.438"/><stop offset="0.4153" stop-color="#e8141c" stop-opacity="0.618"/><stop offset="0.4309" stop-color="#e8141c" stop-opacity="0.819"/><stop offset="0.4465" stop-color="#e8141c" stop-opacity="1.000"/><stop offset="0.4621" stop-color="#e8141c" stop-opacity="1.000"/><stop offset="0.4778" stop-color="#e8141c" stop-opacity="1.000"/><stop offset="0.4934" stop-color="#e8141c" stop-opacity="1.000"/><stop offset="0.5090" stop-color="#e8141c" stop-opacity="1.000"/><stop offset="0.5246" stop-color="#e8141c" stop-opacity="1.000"/><stop offset="0.5402" stop-color="#e8141c" stop-opacity="1.000"/><stop offset="0.5558" stop-color="#e8141c" stop-opacity="0.819"/><stop offset="0.5714" stop-color="#e8141c" stop-opacity="0.618"/><stop offset="0.5870" stop-color="#e8141c" stop-opacity="0.438"/><stop offset="0.6027" stop-color="#e8141c" stop-opacity="0.292"/><stop offset="0.6183" stop-color="#e8141c" stop-opacity="0.183"/><stop offset="0.6339" stop-color="#e8141c" stop-opacity="0.107"/><stop offset="0.6495" stop-color="#e8141c" stop-opacity="0.059"/><stop offset="0.6651" stop-color="#e8141c" stop-opacity="0.031"/><stop offset="0.6807" stop-color="#e8141c" stop-opacity="0.015"/></linearGradient><linearGradient id="hh1" x1="0" x2="1" y1="0" y2="0"><stop offset="0.2240" stop-color="#ee3a40" stop-opacity="0.011"/><stop offset="0.2465" stop-color="#ee3a40" stop-opacity="0.023"/><stop offset="0.2689" stop-color="#ee3a40" stop-opacity="0.044"/><stop offset="0.2914" stop-color="#ee3a40" stop-opacity="0.080"/><stop offset="0.3138" stop-color="#ee3a40" stop-opacity="0.135"/><stop offset="0.3363" stop-color="#ee3a40" stop-opacity="0.216"/><stop offset="0.3587" stop-color="#ee3a40" stop-opacity="0.325"/><stop offset="0.3811" stop-color="#ee3a40" stop-opacity="0.458"/><stop offset="0.4036" stop-color="#ee3a40" stop-opacity="0.607"/><stop offset="0.4260" stop-color="#ee3a40" stop-opacity="0.755"/><stop offset="0.4485" stop-color="#ee3a40" stop-opacity="0.882"/><stop offset="0.4709" stop-color="#ee3a40" stop-opacity="0.969"/><stop offset="0.4934" stop-color="#ee3a40" stop-opacity="1.000"/><stop offset="0.5158" stop-color="#ee3a40" stop-opacity="0.969"/><stop offset="0.5383" stop-color="#ee3a40" stop-opacity="0.882"/><stop offset="0.5607" stop-color="#ee3a40" stop-opacity="0.755"/><stop offset="0.5831" stop-color="#ee3a40" stop-opacity="0.607"/><stop offset="0.6056" stop-color="#ee3a40" stop-opacity="0.458"/><stop offset="0.6280" stop-color="#ee3a40" stop-opacity="0.325"/><stop offset="0.6505" stop-color="#ee3a40" stop-opacity="0.216"/><stop offset="0.6729" stop-color="#ee3a40" stop-opacity="0.135"/><stop offset="0.6954" stop-color="#ee3a40" stop-opacity="0.080"/><stop offset="0.7178" stop-color="#ee3a40" stop-opacity="0.044"/><stop offset="0.7402" stop-color="#ee3a40" stop-opacity="0.023"/><stop offset="0.7627" stop-color="#ee3a40" stop-opacity="0.011"/></linearGradient><linearGradient id="hc2" x1="0" x2="1" y1="0" y2="0"><stop offset="0.3302" stop-color="#e8141c" stop-opacity="0.015"/><stop offset="0.3449" stop-color="#e8141c" stop-opacity="0.031"/><stop offset="0.3595" stop-color="#e8141c" stop-opacity="0.059"/><stop offset="0.3742" stop-color="#e8141c" stop-opacity="0.107"/><stop offset="0.3889" stop-color="#e8141c" stop-opacity="0.183"/><stop offset="0.4036" stop-color="#e8141c" stop-opacity="0.292"/><stop offset="0.4182" stop-color="#e8141c" stop-opacity="0.438"/><stop offset="0.4329" stop-color="#e8141c" stop-opacity="0.618"/><stop offset="0.4476" stop-color="#e8141c" stop-opacity="0.819"/><stop offset="0.4622" stop-color="#e8141c" stop-opacity="1.000"/><stop offset="0.4769" stop-color="#e8141c" stop-opacity="1.000"/><stop offset="0.4916" stop-color="#e8141c" stop-opacity="1.000"/><stop offset="0.5063" stop-color="#e8141c" stop-opacity="1.000"/><stop offset="0.5209" stop-color="#e8141c" stop-opacity="1.000"/><stop offset="0.5356" stop-color="#e8141c" stop-opacity="1.000"/><stop offset="0.5503" stop-color="#e8141c" stop-opacity="1.000"/><stop offset="0.5649" stop-color="#e8141c" stop-opacity="0.819"/><stop offset="0.5796" stop-color="#e8141c" stop-opacity="0.618"/><stop offset="0.5943" stop-color="#e8141c" stop-opacity="0.438"/><stop offset="0.6090" stop-color="#e8141c" stop-opacity="0.292"/><stop offset="0.6236" stop-color="#e8141c" stop-opacity="0.183"/><stop offset="0.6383" stop-color="#e8141c" stop-opacity="0.107"/><stop offset="0.6530" stop-color="#e8141c" stop-opacity="0.059"/><stop offset="0.6676" stop-color="#e8141c" stop-opacity="0.031"/><stop offset="0.6823" stop-color="#e8141c" stop-opacity="0.015"/></linearGradient><linearGradient id="hh2" x1="0" x2="1" y1="0" y2="0"><stop offset="0.2598" stop-color="#ee3a40" stop-opacity="0.011"/><stop offset="0.2803" stop-color="#ee3a40" stop-opacity="0.023"/><stop offset="0.3009" stop-color="#ee3a40" stop-opacity="0.044"/><stop offset="0.3214" stop-color="#ee3a40" stop-opacity="0.080"/><stop offset="0.3419" stop-color="#ee3a40" stop-opacity="0.135"/><stop offset="0.3625" stop-color="#ee3a40" stop-opacity="0.216"/><stop offset="0.3830" stop-color="#ee3a40" stop-opacity="0.325"/><stop offset="0.4036" stop-color="#ee3a40" stop-opacity="0.458"/><stop offset="0.4241" stop-color="#ee3a40" stop-opacity="0.607"/><stop offset="0.4446" stop-color="#ee3a40" stop-opacity="0.755"/><stop offset="0.4652" stop-color="#ee3a40" stop-opacity="0.882"/><stop offset="0.4857" stop-color="#ee3a40" stop-opacity="0.969"/><stop offset="0.5063" stop-color="#ee3a40" stop-opacity="1.000"/><stop offset="0.5268" stop-color="#ee3a40" stop-opacity="0.969"/><stop offset="0.5473" stop-color="#ee3a40" stop-opacity="0.882"/><stop offset="0.5679" stop-color="#ee3a40" stop-opacity="0.755"/><stop offset="0.5884" stop-color="#ee3a40" stop-opacity="0.607"/><stop offset="0.6090" stop-color="#ee3a40" stop-opacity="0.458"/><stop offset="0.6295" stop-color="#ee3a40" stop-opacity="0.325"/><stop offset="0.6500" stop-color="#ee3a40" stop-opacity="0.216"/><stop offset="0.6706" stop-color="#ee3a40" stop-opacity="0.135"/><stop offset="0.6911" stop-color="#ee3a40" stop-opacity="0.080"/><stop offset="0.7117" stop-color="#ee3a40" stop-opacity="0.044"/><stop offset="0.7322" stop-color="#ee3a40" stop-opacity="0.023"/><stop offset="0.7527" stop-color="#ee3a40" stop-opacity="0.011"/></linearGradient><linearGradient id="hc3" x1="0" x2="1" y1="0" y2="0"><stop offset="0.2731" stop-color="#e8141c" stop-opacity="0.015"/><stop offset="0.2910" stop-color="#e8141c" stop-opacity="0.031"/><stop offset="0.3089" stop-color="#e8141c" stop-opacity="0.059"/><stop offset="0.3268" stop-color="#e8141c" stop-opacity="0.107"/><stop offset="0.3447" stop-color="#e8141c" stop-opacity="0.183"/><stop offset="0.3627" stop-color="#e8141c" stop-opacity="0.292"/><stop offset="0.3806" stop-color="#e8141c" stop-opacity="0.438"/><stop offset="0.3985" stop-color="#e8141c" stop-opacity="0.618"/><stop offset="0.4164" stop-color="#e8141c" stop-opacity="0.819"/><stop offset="0.4343" stop-color="#e8141c" stop-opacity="1.000"/><stop offset="0.4522" stop-color="#e8141c" stop-opacity="1.000"/><stop offset="0.4701" stop-color="#e8141c" stop-opacity="1.000"/><stop offset="0.4881" stop-color="#e8141c" stop-opacity="1.000"/><stop offset="0.5060" stop-color="#e8141c" stop-opacity="1.000"/><stop offset="0.5239" stop-color="#e8141c" stop-opacity="1.000"/><stop offset="0.5418" stop-color="#e8141c" stop-opacity="1.000"/><stop offset="0.5597" stop-color="#e8141c" stop-opacity="0.819"/><stop offset="0.5776" stop-color="#e8141c" stop-opacity="0.618"/><stop offset="0.5955" stop-color="#e8141c" stop-opacity="0.438"/><stop offset="0.6135" stop-color="#e8141c" stop-opacity="0.292"/><stop offset="0.6314" stop-color="#e8141c" stop-opacity="0.183"/><stop offset="0.6493" stop-color="#e8141c" stop-opacity="0.107"/><stop offset="0.6672" stop-color="#e8141c" stop-opacity="0.059"/><stop offset="0.6851" stop-color="#e8141c" stop-opacity="0.031"/><stop offset="0.7030" stop-color="#e8141c" stop-opacity="0.015"/></linearGradient><linearGradient id="hh3" x1="0" x2="1" y1="0" y2="0"><stop offset="0.1656" stop-color="#ee3a40" stop-opacity="0.011"/><stop offset="0.1925" stop-color="#ee3a40" stop-opacity="0.023"/><stop offset="0.2193" stop-color="#ee3a40" stop-opacity="0.044"/><stop offset="0.2462" stop-color="#ee3a40" stop-opacity="0.080"/><stop offset="0.2731" stop-color="#ee3a40" stop-opacity="0.135"/><stop offset="0.3000" stop-color="#ee3a40" stop-opacity="0.216"/><stop offset="0.3268" stop-color="#ee3a40" stop-opacity="0.325"/><stop offset="0.3537" stop-color="#ee3a40" stop-opacity="0.458"/><stop offset="0.3806" stop-color="#ee3a40" stop-opacity="0.607"/><stop offset="0.4074" stop-color="#ee3a40" stop-opacity="0.755"/><stop offset="0.4343" stop-color="#ee3a40" stop-opacity="0.882"/><stop offset="0.4612" stop-color="#ee3a40" stop-opacity="0.969"/><stop offset="0.4881" stop-color="#ee3a40" stop-opacity="1.000"/><stop offset="0.5149" stop-color="#ee3a40" stop-opacity="0.969"/><stop offset="0.5418" stop-color="#ee3a40" stop-opacity="0.882"/><stop offset="0.5687" stop-color="#ee3a40" stop-opacity="0.755"/><stop offset="0.5955" stop-color="#ee3a40" stop-opacity="0.607"/><stop offset="0.6224" stop-color="#ee3a40" stop-opacity="0.458"/><stop offset="0.6493" stop-color="#ee3a40" stop-opacity="0.325"/><stop offset="0.6762" stop-color="#ee3a40" stop-opacity="0.216"/><stop offset="0.7030" stop-color="#ee3a40" stop-opacity="0.135"/><stop offset="0.7299" stop-color="#ee3a40" stop-opacity="0.080"/><stop offset="0.7568" stop-color="#ee3a40" stop-opacity="0.044"/><stop offset="0.7836" stop-color="#ee3a40" stop-opacity="0.023"/><stop offset="0.8105" stop-color="#ee3a40" stop-opacity="0.011"/></linearGradient><linearGradient id="hc4" x1="0" x2="1" y1="0" y2="0"><stop offset="0.3289" stop-color="#e8141c" stop-opacity="0.015"/><stop offset="0.3437" stop-color="#e8141c" stop-opacity="0.031"/><stop offset="0.3584" stop-color="#e8141c" stop-opacity="0.059"/><stop offset="0.3732" stop-color="#e8141c" stop-opacity="0.107"/><stop offset="0.3880" stop-color="#e8141c" stop-opacity="0.183"/><stop offset="0.4028" stop-color="#e8141c" stop-opacity="0.292"/><stop offset="0.4176" stop-color="#e8141c" stop-opacity="0.438"/><stop offset="0.4324" stop-color="#e8141c" stop-opacity="0.618"/><stop offset="0.4472" stop-color="#e8141c" stop-opacity="0.819"/><stop offset="0.4619" stop-color="#e8141c" stop-opacity="1.000"/><stop offset="0.4767" stop-color="#e8141c" stop-opacity="1.000"/><stop offset="0.4915" stop-color="#e8141c" stop-opacity="1.000"/><stop offset="0.5063" stop-color="#e8141c" stop-opacity="1.000"/><stop offset="0.5211" stop-color="#e8141c" stop-opacity="1.000"/><stop offset="0.5359" stop-color="#e8141c" stop-opacity="1.000"/><stop offset="0.5507" stop-color="#e8141c" stop-opacity="1.000"/><stop offset="0.5655" stop-color="#e8141c" stop-opacity="0.819"/><stop offset="0.5802" stop-color="#e8141c" stop-opacity="0.618"/><stop offset="0.5950" stop-color="#e8141c" stop-opacity="0.438"/><stop offset="0.6098" stop-color="#e8141c" stop-opacity="0.292"/><stop offset="0.6246" stop-color="#e8141c" stop-opacity="0.183"/><stop offset="0.6394" stop-color="#e8141c" stop-opacity="0.107"/><stop offset="0.6542" stop-color="#e8141c" stop-opacity="0.059"/><stop offset="0.6690" stop-color="#e8141c" stop-opacity="0.031"/><stop offset="0.6838" stop-color="#e8141c" stop-opacity="0.015"/></linearGradient><linearGradient id="hh4" x1="0" x2="1" y1="0" y2="0"><stop offset="0.2461" stop-color="#ee3a40" stop-opacity="0.011"/><stop offset="0.2677" stop-color="#ee3a40" stop-opacity="0.023"/><stop offset="0.2894" stop-color="#ee3a40" stop-opacity="0.044"/><stop offset="0.3111" stop-color="#ee3a40" stop-opacity="0.080"/><stop offset="0.3328" stop-color="#ee3a40" stop-opacity="0.135"/><stop offset="0.3545" stop-color="#ee3a40" stop-opacity="0.216"/><stop offset="0.3762" stop-color="#ee3a40" stop-opacity="0.325"/><stop offset="0.3979" stop-color="#ee3a40" stop-opacity="0.458"/><stop offset="0.4196" stop-color="#ee3a40" stop-opacity="0.607"/><stop offset="0.4412" stop-color="#ee3a40" stop-opacity="0.755"/><stop offset="0.4629" stop-color="#ee3a40" stop-opacity="0.882"/><stop offset="0.4846" stop-color="#ee3a40" stop-opacity="0.969"/><stop offset="0.5063" stop-color="#ee3a40" stop-opacity="1.000"/><stop offset="0.5280" stop-color="#ee3a40" stop-opacity="0.969"/><stop offset="0.5497" stop-color="#ee3a40" stop-opacity="0.882"/><stop offset="0.5714" stop-color="#ee3a40" stop-opacity="0.755"/><stop offset="0.5931" stop-color="#ee3a40" stop-opacity="0.607"/><stop offset="0.6147" stop-color="#ee3a40" stop-opacity="0.458"/><stop offset="0.6364" stop-color="#ee3a40" stop-opacity="0.325"/><stop offset="0.6581" stop-color="#ee3a40" stop-opacity="0.216"/><stop offset="0.6798" stop-color="#ee3a40" stop-opacity="0.135"/><stop offset="0.7015" stop-color="#ee3a40" stop-opacity="0.080"/><stop offset="0.7232" stop-color="#ee3a40" stop-opacity="0.044"/><stop offset="0.7449" stop-color="#ee3a40" stop-opacity="0.023"/><stop offset="0.7666" stop-color="#ee3a40" stop-opacity="0.011"/></linearGradient><linearGradient id="topbar" x1="0" x2="1" y1="0" y2="0"><stop offset="0" stop-color="#f8d0d2"/><stop offset="0.55" stop-color="#f08080"/><stop offset="0.6" stop-color="#e84030"/><stop offset="1" stop-color="#d81010"/></linearGradient></defs>
<rect x="615.8" y="533.3" width="128.5" height="470.2" fill="#f9cacc"/>
<rect x="615.8" y="533.3" width="128.5" height="8.44" fill="url(#hh0)" opacity="0.059"/>
<rect x="615.8" y="541.14" width="128.5" height="8.44" fill="url(#hh0)" opacity="0.057"/>
<rect x="615.8" y="548.97" width="128.5" height="8.44" fill="url(#hh0)" opacity="0.056"/>
<rect x="615.8" y="556.81" width="128.5" height="8.44" fill="url(#hh0)" opacity="0.054"/>
<rect x="615.8" y="564.65" width="128.5" height="8.44" fill="url(#hh0)" opacity="0.052"/>
<rect x="615.8" y="572.48" width="128.5" height="8.44" fill="url(#hh0)" opacity="0.051"/>
<rect x="615.8" y="580.32" width="128.5" height="8.44" fill="url(#hh0)" opacity="0.049"/>
<rect x="615.8" y="588.16" width="128.5" height="8.44" fill="url(#hh0)" opacity="0.048"/>
<rect x="615.8" y="595.99" width="128.5" height="8.44" fill="url(#hh0)" opacity="0.046"/>
<rect x="615.8" y="603.83" width="128.5" height="8.44" fill="url(#hh0)" opacity="0.044"/>
<rect x="615.8" y="611.67" width="128.5" height="8.44" fill="url(#hh0)" opacity="0.042"/>
<rect x="615.8" y="619.5" width="128.5" height="8.44" fill="url(#hh0)" opacity="0.041"/>
<rect x="615.8" y="627.34" width="128.5" height="8.44" fill="url(#hh0)" opacity="0.039"/>
<rect x="615.8" y="635.18" width="128.5" height="8.44" fill="url(#hh0)" opacity="0.037"/>
<rect x="615.8" y="643.01" width="128.5" height="8.44" fill="url(#hh0)" opacity="0.036"/>
<rect x="615.8" y="650.85" width="128.5" height="8.44" fill="url(#hh0)" opacity="0.034"/>
<rect x="615.8" y="658.69" width="128.5" height="8.44" fill="url(#hh0)" opacity="0.032"/>
<rect x="615.8" y="666.52" width="128.5" height="8.44" fill="url(#hh0)" opacity="0.031"/>
<rect x="615.8" y="674.36" width="128.5" height="8.44" fill="url(#hh0)" opacity="0.030"/>
<rect x="615.8" y="682.2" width="128.5" height="8.44" fill="url(#hh0)" opacity="0.029"/>
<rect x="615.8" y="690.03" width="128.5" height="8.44" fill="url(#hh0)" opacity="0.028"/>
<rect x="615.8" y="697.87" width="128.5" height="8.44" fill="url(#hh0)" opacity="0.027"/>
<rect x="615.8" y="705.71" width="128.5" height="8.44" fill="url(#hh0)" opacity="0.027"/>
<rect x="615.8" y="713.54" width="128.5" height="8.44" fill="url(#hh0)" opacity="0.026"/>
<rect x="615.8" y="721.38" width="128.5" height="8.44" fill="url(#hh0)" opacity="0.025"/>
<rect x="615.8" y="729.22" width="128.5" height="8.44" fill="url(#hh0)" opacity="0.025"/>
<rect x="615.8" y="737.05" width="128.5" height="8.44" fill="url(#hh0)" opacity="0.024"/>
<rect x="615.8" y="744.89" width="128.5" height="8.44" fill="url(#hh0)" opacity="0.023"/>
<rect x="615.8" y="752.73" width="128.5" height="8.44" fill="url(#hh0)" opacity="0.022"/>
<rect x="615.8" y="760.56" width="128.5" height="8.44" fill="url(#hh0)" opacity="0.022"/>
<rect x="615.8" y="768.4" width="128.5" height="8.44" fill="url(#hh0)" opacity="0.021"/>
<rect x="615.8" y="776.24" width="128.5" height="8.44" fill="url(#hh0)" opacity="0.020"/>
<rect x="615.8" y="784.07" width="128.5" height="8.44" fill="url(#hh0)" opacity="0.020"/>
<rect x="615.8" y="791.91" width="128.5" height="8.44" fill="url(#hh0)" opacity="0.019"/>
<rect x="615.8" y="799.75" width="128.5" height="8.44" fill="url(#hh0)" opacity="0.018"/>
<rect x="615.8" y="807.58" width="128.5" height="8.44" fill="url(#hh0)" opacity="0.017"/>
<rect x="615.8" y="815.42" width="128.5" height="8.44" fill="url(#hh0)" opacity="0.017"/>
<rect x="615.8" y="823.26" width="128.5" height="8.44" fill="url(#hh0)" opacity="0.016"/>
<rect x="615.8" y="831.09" width="128.5" height="8.44" fill="url(#hh0)" opacity="0.015"/>
<rect x="615.8" y="838.93" width="128.5" height="8.44" fill="url(#hh0)" opacity="0.015"/>
<rect x="615.8" y="846.77" width="128.5" height="8.44" fill="url(#hh0)" opacity="0.014"/>
<rect x="615.8" y="854.6" width="128.5" height="8.44" fill="url(#hh0)" opacity="0.013"/>
<rect x="615.8" y="862.44" width="128.5" height="8.44" fill="url(#hh0)" opacity="0.012"/>
<rect x="615.8" y="870.28" width="128.5" height="8.44" fill="url(#hh0)" opacity="0.012"/>
<rect x="615.8" y="878.11" width="128.5" height="8.44" fill="url(#hh0)" opacity="0.011"/>
<rect x="615.8" y="885.95" width="128.5" height="8.44" fill="url(#hh0)" opacity="0.010"/>
<line x1="615.8" y1="573.3" x2="744.3" y2="573.3" stroke="#b03040" stroke-width="0.6" opacity="0.06"/>
<line x1="615.8" y1="577.66" x2="744.3" y2="577.66" stroke="#b03040" stroke-width="0.6" opacity="0.09"/>
<line x1="615.8" y1="581.31" x2="744.3" y2="581.31" stroke="#b03040" stroke-width="0.6" opacity="0.08"/>
<line x1="615.8" y1="587.6" x2="744.3" y2="587.6" stroke="#b03040" stroke-width="0.6" opacity="0.04"/>
<line x1="615.8" y1="595.17" x2="744.3" y2="595.17" stroke="#b03040" stroke-width="0.6" opacity="0.04"/>
<line x1="615.8" y1="602.07" x2="744.3" y2="602.07" stroke="#b03040" stroke-width="0.6" opacity="0.04"/>
<line x1="615.8" y1="605.89" x2="744.3" y2="605.89" stroke="#b03040" stroke-width="0.6" opacity="0.07"/>
<line x1="615.8" y1="616.33" x2="744.3" y2="616.33" stroke="#b03040" stroke-width="0.6" opacity="0.05"/>
<line x1="615.8" y1="621.34" x2="744.3" y2="621.34" stroke="#b03040" stroke-width="0.6" opacity="0.08"/>
<line x1="615.8" y1="632.87" x2="744.3" y2="632.87" stroke="#b03040" stroke-width="0.6" opacity="0.08"/>
<line x1="615.8" y1="639.44" x2="744.3" y2="639.44" stroke="#b03040" stroke-width="0.6" opacity="0.11"/>
<line x1="615.8" y1="642.86" x2="744.3" y2="642.86" stroke="#b03040" stroke-width="0.6" opacity="0.10"/>
<line x1="615.8" y1="648.46" x2="744.3" y2="648.46" stroke="#b03040" stroke-width="0.6" opacity="0.05"/>
<line x1="615.8" y1="652.52" x2="744.3" y2="652.52" stroke="#b03040" stroke-width="0.6" opacity="0.06"/>
<line x1="615.8" y1="662.87" x2="744.3" y2="662.87" stroke="#b03040" stroke-width="0.6" opacity="0.05"/>
<line x1="615.8" y1="671.1" x2="744.3" y2="671.1" stroke="#b03040" stroke-width="0.6" opacity="0.08"/>
<line x1="615.8" y1="677.45" x2="744.3" y2="677.45" stroke="#b03040" stroke-width="0.6" opacity="0.08"/>
<line x1="615.8" y1="681.02" x2="744.3" y2="681.02" stroke="#b03040" stroke-width="0.6" opacity="0.04"/>
<line x1="615.8" y1="685.87" x2="744.3" y2="685.87" stroke="#b03040" stroke-width="0.6" opacity="0.09"/>
<line x1="615.8" y1="692.72" x2="744.3" y2="692.72" stroke="#b03040" stroke-width="0.6" opacity="0.06"/>
<line x1="615.8" y1="700.99" x2="744.3" y2="700.99" stroke="#b03040" stroke-width="0.6" opacity="0.07"/>
<line x1="615.8" y1="706.69" x2="744.3" y2="706.69" stroke="#b03040" stroke-width="0.6" opacity="0.10"/>
<line x1="615.8" y1="715.98" x2="744.3" y2="715.98" stroke="#b03040" stroke-width="0.6" opacity="0.06"/>
<line x1="615.8" y1="724.15" x2="744.3" y2="724.15" stroke="#b03040" stroke-width="0.6" opacity="0.08"/>
<line x1="615.8" y1="735.03" x2="744.3" y2="735.03" stroke="#b03040" stroke-width="0.6" opacity="0.09"/>
<line x1="615.8" y1="740.62" x2="744.3" y2="740.62" stroke="#b03040" stroke-width="0.6" opacity="0.11"/>
<line x1="615.8" y1="744.68" x2="744.3" y2="744.68" stroke="#b03040" stroke-width="0.6" opacity="0.07"/>
<line x1="615.8" y1="754.49" x2="744.3" y2="754.49" stroke="#b03040" stroke-width="0.6" opacity="0.05"/>
<line x1="615.8" y1="761.9" x2="744.3" y2="761.9" stroke="#b03040" stroke-width="0.6" opacity="0.04"/>
<line x1="615.8" y1="770.91" x2="744.3" y2="770.91" stroke="#b03040" stroke-width="0.6" opacity="0.09"/>
<line x1="615.8" y1="779.07" x2="744.3" y2="779.07" stroke="#b03040" stroke-width="0.6" opacity="0.10"/>
<line x1="615.8" y1="784.89" x2="744.3" y2="784.89" stroke="#b03040" stroke-width="0.6" opacity="0.09"/>
<line x1="615.8" y1="793.24" x2="744.3" y2="793.24" stroke="#b03040" stroke-width="0.6" opacity="0.08"/>
<line x1="615.8" y1="800.35" x2="744.3" y2="800.35" stroke="#b03040" stroke-width="0.6" opacity="0.10"/>
<line x1="615.8" y1="811.85" x2="744.3" y2="811.85" stroke="#b03040" stroke-width="0.6" opacity="0.07"/>
<line x1="615.8" y1="820.82" x2="744.3" y2="820.82" stroke="#b03040" stroke-width="0.6" opacity="0.04"/>
<line x1="615.8" y1="830.14" x2="744.3" y2="830.14" stroke="#b03040" stroke-width="0.6" opacity="0.09"/>
<line x1="615.8" y1="842.08" x2="744.3" y2="842.08" stroke="#b03040" stroke-width="0.6" opacity="0.10"/>
<line x1="615.8" y1="847.64" x2="744.3" y2="847.64" stroke="#b03040" stroke-width="0.6" opacity="0.07"/>
<line x1="615.8" y1="856.66" x2="744.3" y2="856.66" stroke="#b03040" stroke-width="0.6" opacity="0.04"/>
<line x1="615.8" y1="863.81" x2="744.3" y2="863.81" stroke="#b03040" stroke-width="0.6" opacity="0.05"/>
<line x1="615.8" y1="867.86" x2="744.3" y2="867.86" stroke="#b03040" stroke-width="0.6" opacity="0.04"/>
<line x1="615.8" y1="877.78" x2="744.3" y2="877.78" stroke="#b03040" stroke-width="0.6" opacity="0.05"/>
<line x1="615.8" y1="883.01" x2="744.3" y2="883.01" stroke="#b03040" stroke-width="0.6" opacity="0.07"/>
<line x1="615.8" y1="893.85" x2="744.3" y2="893.85" stroke="#b03040" stroke-width="0.6" opacity="0.05"/>
<line x1="615.8" y1="900.89" x2="744.3" y2="900.89" stroke="#b03040" stroke-width="0.6" opacity="0.08"/>
<line x1="615.8" y1="911.84" x2="744.3" y2="911.84" stroke="#b03040" stroke-width="0.6" opacity="0.10"/>
<line x1="615.8" y1="922.62" x2="744.3" y2="922.62" stroke="#b03040" stroke-width="0.6" opacity="0.06"/>
<line x1="615.8" y1="929.36" x2="744.3" y2="929.36" stroke="#b03040" stroke-width="0.6" opacity="0.07"/>
<line x1="615.8" y1="940.31" x2="744.3" y2="940.31" stroke="#b03040" stroke-width="0.6" opacity="0.11"/>
<line x1="615.8" y1="944.67" x2="744.3" y2="944.67" stroke="#b03040" stroke-width="0.6" opacity="0.05"/>
<line x1="615.8" y1="949.76" x2="744.3" y2="949.76" stroke="#b03040" stroke-width="0.6" opacity="0.06"/>
<line x1="615.8" y1="957.12" x2="744.3" y2="957.12" stroke="#b03040" stroke-width="0.6" opacity="0.08"/>
<line x1="615.8" y1="962.49" x2="744.3" y2="962.49" stroke="#b03040" stroke-width="0.6" opacity="0.04"/>
<line x1="615.8" y1="969.26" x2="744.3" y2="969.26" stroke="#b03040" stroke-width="0.6" opacity="0.07"/>
<line x1="615.8" y1="977.36" x2="744.3" y2="977.36" stroke="#b03040" stroke-width="0.6" opacity="0.11"/>
<line x1="615.8" y1="986.57" x2="744.3" y2="986.57" stroke="#b03040" stroke-width="0.6" opacity="0.08"/>
<line x1="615.8" y1="995.13" x2="744.3" y2="995.13" stroke="#b03040" stroke-width="0.6" opacity="0.09"/>
<line x1="615.8" y1="998.62" x2="744.3" y2="998.62" stroke="#b03040" stroke-width="0.6" opacity="0.10"/>
<rect x="612.8" y="521.8" width="134.5" height="2.4" fill="url(#topbar)"/>
<line x1="612.8" y1="524.6" x2="747.3" y2="524.6" stroke="#333" stroke-width="0.6"/>
<line x1="669.05" y1="520" x2="691.05" y2="520" stroke="#aaa" stroke-width="0.8"/>
<line x1="663.05" y1="531" x2="697.05" y2="531" stroke="#777" stroke-width="0.9"/>
<line x1="612.8" y1="1004.5" x2="747.3" y2="1004.5" stroke="#999" stroke-width="0.7"/>
<line x1="615.8" y1="1003.5" x2="615.8" y2="1006.5" stroke="#555" stroke-width="0.8"/>
<line x1="641.5" y1="1003.5" x2="641.5" y2="1006.5" stroke="#555" stroke-width="0.8"/>
<line x1="667.2" y1="1003.5" x2="667.2" y2="1006.5" stroke="#555" stroke-width="0.8"/>
<line x1="692.9" y1="1003.5" x2="692.9" y2="1006.5" stroke="#555" stroke-width="0.8"/>
<line x1="718.6" y1="1003.5" x2="718.6" y2="1006.5" stroke="#555" stroke-width="0.8"/>
<line x1="744.3" y1="1003.5" x2="744.3" y2="1006.5" stroke="#555" stroke-width="0.8"/>
<rect x="770.3" y="533.3" width="128.1" height="470.2" fill="#f7c3c5"/>
<rect x="770.3" y="533.3" width="128.1" height="8.44" fill="url(#hh1)" opacity="0.448"/>
<rect x="770.3" y="533.3" width="128.1" height="8.44" fill="url(#hc1)" opacity="0.988"/>
<rect x="770.3" y="541.14" width="128.1" height="8.44" fill="url(#hh1)" opacity="0.444"/>
<rect x="770.3" y="541.14" width="128.1" height="8.44" fill="url(#hc1)" opacity="0.963"/>
<rect x="770.3" y="548.97" width="128.1" height="8.44" fill="url(#hh1)" opacity="0.440"/>
<rect x="770.3" y="548.97" width="128.1" height="8.44" fill="url(#hc1)" opacity="0.938"/>
<rect x="770.3" y="556.81" width="128.1" height="8.44" fill="url(#hh1)" opacity="0.435"/>
<rect x="770.3" y="556.81" width="128.1" height="8.44" fill="url(#hc1)" opacity="0.912"/>
<rect x="770.3" y="564.65" width="128.1" height="8.44" fill="url(#hh1)" opacity="0.431"/>
<rect x="770.3" y="564.65" width="128.1" height="8.44" fill="url(#hc1)" opacity="0.887"/>
<rect x="770.3" y="572.48" width="128.1" height="8.44" fill="url(#hh1)" opacity="0.427"/>
<rect x="770.3" y="572.48" width="128.1" height="8.44" fill="url(#hc1)" opacity="0.863"/>
<rect x="770.3" y="580.32" width="128.1" height="8.44" fill="url(#hh1)" opacity="0.423"/>
<rect x="770.3" y="580.32" width="128.1" height="8.44" fill="url(#hc1)" opacity="0.836"/>
<rect x="770.3" y="588.16" width="128.1" height="8.44" fill="url(#hh1)" opacity="0.419"/>
<rect x="770.3" y="588.16" width="128.1" height="8.44" fill="url(#hc1)" opacity="0.808"/>
<rect x="770.3" y="595.99" width="128.1" height="8.44" fill="url(#hh1)" opacity="0.415"/>
<rect x="770.3" y="595.99" width="128.1" height="8.44" fill="url(#hc1)" opacity="0.781"/>
<rect x="770.3" y="603.83" width="128.1" height="8.44" fill="url(#hh1)" opacity="0.410"/>
<rect x="770.3" y="603.83" width="128.1" height="8.44" fill="url(#hc1)" opacity="0.753"/>
<rect x="770.3" y="611.67" width="128.1" height="8.44" fill="url(#hh1)" opacity="0.406"/>
<rect x="770.3" y="611.67" width="128.1" height="8.44" fill="url(#hc1)" opacity="0.725"/>
<rect x="770.3" y="619.5" width="128.1" height="8.44" fill="url(#hh1)" opacity="0.402"/>
<rect x="770.3" y="619.5" width="128.1" height="8.44" fill="url(#hc1)" opacity="0.697"/>
<rect x="770.3" y="627.34" width="128.1" height="8.44" fill="url(#hh1)" opacity="0.399"/>
<rect x="770.3" y="627.34" width="128.1" height="8.44" fill="url(#hc1)" opacity="0.669"/>
<rect x="770.3" y="635.18" width="128.1" height="8.44" fill="url(#hh1)" opacity="0.396"/>
<rect x="770.3" y="635.18" width="128.1" height="8.44" fill="url(#hc1)" opacity="0.642"/>
<rect x="770.3" y="643.01" width="128.1" height="8.44" fill="url(#hh1)" opacity="0.393"/>
<rect x="770.3" y="643.01" width="128.1" height="8.44" fill="url(#hc1)" opacity="0.614"/>
<rect x="770.3" y="650.85" width="128.1" height="8.44" fill="url(#hh1)" opacity="0.390"/>
<rect x="770.3" y="650.85" width="128.1" height="8.44" fill="url(#hc1)" opacity="0.588"/>
<rect x="770.3" y="658.69" width="128.1" height="8.44" fill="url(#hh1)" opacity="0.388"/>
<rect x="770.3" y="658.69" width="128.1" height="8.44" fill="url(#hc1)" opacity="0.565"/>
<rect x="770.3" y="666.52" width="128.1" height="8.44" fill="url(#hh1)" opacity="0.385"/>
<rect x="770.3" y="666.52" width="128.1" height="8.44" fill="url(#hc1)" opacity="0.542"/>
<rect x="770.3" y="674.36" width="128.1" height="8.44" fill="url(#hh1)" opacity="0.382"/>
<rect x="770.3" y="674.36" width="128.1" height="8.44" fill="url(#hc1)" opacity="0.518"/>
<rect x="770.3" y="682.2" width="128.1" height="8.44" fill="url(#hh1)" opacity="0.379"/>
<rect x="770.3" y="682.2" width="128.1" height="8.44" fill="url(#hc1)" opacity="0.495"/>
<rect x="770.3" y="690.03" width="128.1" height="8.44" fill="url(#hh1)" opacity="0.376"/>
<rect x="770.3" y="690.03" width="128.1" height="8.44" fill="url(#hc1)" opacity="0.472"/>
<rect x="770.3" y="697.87" width="128.1" height="8.44" fill="url(#hh1)" opacity="0.374"/>
<rect x="770.3" y="697.87" width="128.1" height="8.44" fill="url(#hc1)" opacity="0.448"/>
<rect x="770.3" y="705.71" width="128.1" height="8.44" fill="url(#hh1)" opacity="0.371"/>
<rect x="770.3" y="705.71" width="128.1" height="8.44" fill="url(#hc1)" opacity="0.425"/>
<rect x="770.3" y="713.54" width="128.1" height="8.44" fill="url(#hh1)" opacity="0.368"/>
<rect x="770.3" y="713.54" width="128.1" height="8.44" fill="url(#hc1)" opacity="0.402"/>
<rect x="770.3" y="721.38" width="128.1" height="8.44" fill="url(#hh1)" opacity="0.365"/>
<rect x="770.3" y="721.38" width="128.1" height="8.44" fill="url(#hc1)" opacity="0.378"/>
<rect x="770.3" y="729.22" width="128.1" height="8.44" fill="url(#hh1)" opacity="0.362"/>
<rect x="770.3" y="729.22" width="128.1" height="8.44" fill="url(#hc1)" opacity="0.355"/>
<rect x="770.3" y="737.05" width="128.1" height="8.44" fill="url(#hh1)" opacity="0.360"/>
<rect x="770.3" y="737.05" width="128.1" height="8.44" fill="url(#hc1)" opacity="0.332"/>
<rect x="770.3" y="744.89" width="128.1" height="8.44" fill="url(#hh1)" opacity="0.357"/>
<rect x="770.3" y="744.89" width="128.1" height="8.44" fill="url(#hc1)" opacity="0.318"/>
<rect x="770.3" y="752.73" width="128.1" height="8.44" fill="url(#hh1)" opacity="0.354"/>
<rect x="770.3" y="752.73" width="128.1" height="8.44" fill="url(#hc1)" opacity="0.314"/>
<rect x="770.3" y="760.56" width="128.1" height="8.44" fill="url(#hh1)" opacity="0.351"/>
<rect x="770.3" y="760.56" width="128.1" height="8.44" fill="url(#hc1)" opacity="0.310"/>
<rect x="770.3" y="768.4" width="128.1" height="8.44" fill="url(#hh1)" opacity="0.350"/>
<rect x="770.3" y="768.4" width="128.1" height="8.44" fill="url(#hc1)" opacity="0.306"/>
<rect x="770.3" y="776.24" width="128.1" height="8.44" fill="url(#hh1)" opacity="0.351"/>
<rect x="770.3" y="776.24" width="128.1" height="8.44" fill="url(#hc1)" opacity="0.302"/>
<rect x="770.3" y="784.07" width="128.1" height="8.44" fill="url(#hh1)" opacity="0.352"/>
<rect x="770.3" y="784.07" width="128.1" height="8.44" fill="url(#hc1)" opacity="0.298"/>
<rect x="770.3" y="791.91" width="128.1" height="8.44" fill="url(#hh1)" opacity="0.353"/>
<rect x="770.3" y="791.91" width="128.1" height="8.44" fill="url(#hc1)" opacity="0.294"/>
<rect x="770.3" y="799.75" width="128.1" height="8.44" fill="url(#hh1)" opacity="0.354"/>
<rect x="770.3" y="799.75" width="128.1" height="8.44" fill="url(#hc1)" opacity="0.290"/>
<rect x="770.3" y="807.58" width="128.1" height="8.44" fill="url(#hh1)" opacity="0.355"/>
<rect x="770.3" y="807.58" width="128.1" height="8.44" fill="url(#hc1)" opacity="0.286"/>
<rect x="770.3" y="815.42" width="128.1" height="8.44" fill="url(#hh1)" opacity="0.356"/>
<rect x="770.3" y="815.42" width="128.1" height="8.44" fill="url(#hc1)" opacity="0.282"/>
<rect x="770.3" y="823.26" width="128.1" height="8.44" fill="url(#hh1)" opacity="0.357"/>
<rect x="770.3" y="823.26" width="128.1" height="8.44" fill="url(#hc1)" opacity="0.278"/>
<rect x="770.3" y="831.09" width="128.1" height="8.44" fill="url(#hh1)" opacity="0.358"/>
<rect x="770.3" y="831.09" width="128.1" height="8.44" fill="url(#hc1)" opacity="0.274"/>
<rect x="770.3" y="838.93" width="128.1" height="8.44" fill="url(#hh1)" opacity="0.359"/>
<rect x="770.3" y="838.93" width="128.1" height="8.44" fill="url(#hc1)" opacity="0.270"/>
<rect x="770.3" y="846.77" width="128.1" height="8.44" fill="url(#hh1)" opacity="0.360"/>
<rect x="770.3" y="846.77" width="128.1" height="8.44" fill="url(#hc1)" opacity="0.266"/>
<rect x="770.3" y="854.6" width="128.1" height="8.44" fill="url(#hh1)" opacity="0.361"/>
<rect x="770.3" y="854.6" width="128.1" height="8.44" fill="url(#hc1)" opacity="0.262"/>
<rect x="770.3" y="862.44" width="128.1" height="8.44" fill="url(#hh1)" opacity="0.362"/>
<rect x="770.3" y="862.44" width="128.1" height="8.44" fill="url(#hc1)" opacity="0.262"/>
<rect x="770.3" y="870.28" width="128.1" height="8.44" fill="url(#hh1)" opacity="0.363"/>
<rect x="770.3" y="870.28" width="128.1" height="8.44" fill="url(#hc1)" opacity="0.265"/>
<rect x="770.3" y="878.11" width="128.1" height="8.44" fill="url(#hh1)" opacity="0.364"/>
<rect x="770.3" y="878.11" width="128.1" height="8.44" fill="url(#hc1)" opacity="0.268"/>
<rect x="770.3" y="885.95" width="128.1" height="8.44" fill="url(#hh1)" opacity="0.365"/>
<rect x="770.3" y="885.95" width="128.1" height="8.44" fill="url(#hc1)" opacity="0.272"/>
<rect x="770.3" y="893.79" width="128.1" height="8.44" fill="url(#hh1)" opacity="0.366"/>
<rect x="770.3" y="893.79" width="128.1" height="8.44" fill="url(#hc1)" opacity="0.275"/>
<rect x="770.3" y="901.62" width="128.1" height="8.44" fill="url(#hh1)" opacity="0.367"/>
<rect x="770.3" y="901.62" width="128.1" height="8.44" fill="url(#hc1)" opacity="0.278"/>
<rect x="770.3" y="909.46" width="128.1" height="8.44" fill="url(#hh1)" opacity="0.368"/>
<rect x="770.3" y="909.46" width="128.1" height="8.44" fill="url(#hc1)" opacity="0.282"/>
<rect x="770.3" y="917.3" width="128.1" height="8.44" fill="url(#hh1)" opacity="0.369"/>
<rect x="770.3" y="917.3" width="128.1" height="8.44" fill="url(#hc1)" opacity="0.285"/>
<rect x="770.3" y="925.13" width="128.1" height="8.44" fill="url(#hh1)" opacity="0.370"/>
<rect x="770.3" y="925.13" width="128.1" height="8.44" fill="url(#hc1)" opacity="0.288"/>
<rect x="770.3" y="932.97" width="128.1" height="8.44" fill="url(#hh1)" opacity="0.371"/>
<rect x="770.3" y="932.97" width="128.1" height="8.44" fill="url(#hc1)" opacity="0.292"/>
<rect x="770.3" y="940.81" width="128.1" height="8.44" fill="url(#hh1)" opacity="0.372"/>
<rect x="770.3" y="940.81" width="128.1" height="8.44" fill="url(#hc1)" opacity="0.295"/>
<rect x="770.3" y="948.64" width="128.1" height="8.44" fill="url(#hh1)" opacity="0.373"/>
<rect x="770.3" y="948.64" width="128.1" height="8.44" fill="url(#hc1)" opacity="0.298"/>
<rect x="770.3" y="956.48" width="128.1" height="8.44" fill="url(#hh1)" opacity="0.374"/>
<rect x="770.3" y="956.48" width="128.1" height="8.44" fill="url(#hc1)" opacity="0.302"/>
<rect x="770.3" y="964.32" width="128.1" height="8.44" fill="url(#hh1)" opacity="0.376"/>
<rect x="770.3" y="964.32" width="128.1" height="8.44" fill="url(#hc1)" opacity="0.305"/>
<rect x="770.3" y="972.15" width="128.1" height="8.44" fill="url(#hh1)" opacity="0.377"/>
<rect x="770.3" y="972.15" width="128.1" height="8.44" fill="url(#hc1)" opacity="0.308"/>
<rect x="770.3" y="979.99" width="128.1" height="8.44" fill="url(#hh1)" opacity="0.378"/>
<rect x="770.3" y="979.99" width="128.1" height="8.44" fill="url(#hc1)" opacity="0.312"/>
<rect x="770.3" y="987.83" width="128.1" height="8.44" fill="url(#hh1)" opacity="0.379"/>
<rect x="770.3" y="987.83" width="128.1" height="8.44" fill="url(#hc1)" opacity="0.315"/>
<rect x="770.3" y="995.66" width="128.1" height="8.44" fill="url(#hh1)" opacity="0.380"/>
<rect x="770.3" y="995.66" width="128.1" height="8.44" fill="url(#hc1)" opacity="0.318"/>
<line x1="770.3" y1="573.3" x2="898.4" y2="573.3" stroke="#b03040" stroke-width="0.6" opacity="0.10"/>
<line x1="770.3" y1="583.48" x2="898.4" y2="583.48" stroke="#b03040" stroke-width="0.6" opacity="0.07"/>
<line x1="770.3" y1="590.07" x2="898.4" y2="590.07" stroke="#b03040" stroke-width="0.6" opacity="0.05"/>
<line x1="770.3" y1="598.78" x2="898.4" y2="598.78" stroke="#b03040" stroke-width="0.6" opacity="0.04"/>
<line x1="770.3" y1="602.39" x2="898.4" y2="602.39" stroke="#b03040" stroke-width="0.6" opacity="0.05"/>
<line x1="770.3" y1="606.85" x2="898.4" y2="606.85" stroke="#b03040" stroke-width="0.6" opacity="0.06"/>
<line x1="770.3" y1="610.32" x2="898.4" y2="610.32" stroke="#b03040" stroke-width="0.6" opacity="0.04"/>
<line x1="770.3" y1="614.68" x2="898.4" y2="614.68" stroke="#b03040" stroke-width="0.6" opacity="0.05"/>
<line x1="770.3" y1="620.95" x2="898.4" y2="620.95" stroke="#b03040" stroke-width="0.6" opacity="0.04"/>
<line x1="770.3" y1="631.82" x2="898.4" y2="631.82" stroke="#b03040" stroke-width="0.6" opacity="0.08"/>
<line x1="770.3" y1="636.16" x2="898.4" y2="636.16" stroke="#b03040" stroke-width="0.6" opacity="0.06"/>
<line x1="770.3" y1="642.29" x2="898.4" y2="642.29" stroke="#b03040" stroke-width="0.6" opacity="0.07"/>
<line x1="770.3" y1="646.39" x2="898.4" y2="646.39" stroke="#b03040" stroke-width="0.6" opacity="0.10"/>
<line x1="770.3" y1="658.33" x2="898.4" y2="658.33" stroke="#b03040" stroke-width="0.6" opacity="0.07"/>
<line x1="770.3" y1="665.68" x2="898.4" y2="665.68" stroke="#b03040" stroke-width="0.6" opacity="0.05"/>
<line x1="770.3" y1="669.6" x2="898.4" y2="669.6" stroke="#b03040" stroke-width="0.6" opacity="0.06"/>
<line x1="770.3" y1="674.99" x2="898.4" y2="674.99" stroke="#b03040" stroke-width="0.6" opacity="0.10"/>
<line x1="770.3" y1="679.44" x2="898.4" y2="679.44" stroke="#b03040" stroke-width="0.6" opacity="0.04"/>
<line x1="770.3" y1="691" x2="898.4" y2="691" stroke="#b03040" stroke-width="0.6" opacity="0.12"/>
<line x1="770.3" y1="695.32" x2="898.4" y2="695.32" stroke="#b03040" stroke-width="0.6" opacity="0.12"/>
<line x1="770.3" y1="698.56" x2="898.4" y2="698.56" stroke="#b03040" stroke-width="0.6" opacity="0.12"/>
<line x1="770.3" y1="710.37" x2="898.4" y2="710.37" stroke="#b03040" stroke-width="0.6" opacity="0.14"/>
<line x1="770.3" y1="719.63" x2="898.4" y2="719.63" stroke="#b03040" stroke-width="0.6" opacity="0.10"/>
<line x1="770.3" y1="725.93" x2="898.4" y2="725.93" stroke="#b03040" stroke-width="0.6" opacity="0.09"/>
<line x1="770.3" y1="735.88" x2="898.4" y2="735.88" stroke="#b03040" stroke-width="0.6" opacity="0.12"/>
<line x1="770.3" y1="745.89" x2="898.4" y2="745.89" stroke="#b03040" stroke-width="0.6" opacity="0.10"/>
<line x1="770.3" y1="750.9" x2="898.4" y2="750.9" stroke="#b03040" stroke-width="0.6" opacity="0.14"/>
<line x1="770.3" y1="762.77" x2="898.4" y2="762.77" stroke="#b03040" stroke-width="0.6" opacity="0.14"/>
<line x1="770.3" y1="773.02" x2="898.4" y2="773.02" stroke="#b03040" stroke-width="0.6" opacity="0.14"/>
<line x1="770.3" y1="782.68" x2="898.4" y2="782.68" stroke="#b03040" stroke-width="0.6" opacity="0.10"/>
<line x1="770.3" y1="790.34" x2="898.4" y2="790.34" stroke="#b03040" stroke-width="0.6" opacity="0.10"/>
<line x1="770.3" y1="793.6" x2="898.4" y2="793.6" stroke="#b03040" stroke-width="0.6" opacity="0.08"/>
<line x1="770.3" y1="799.11" x2="898.4" y2="799.11" stroke="#b03040" stroke-width="0.6" opacity="0.10"/>
<line x1="770.3" y1="808.35" x2="898.4" y2="808.35" stroke="#b03040" stroke-width="0.6" opacity="0.15"/>
<line x1="770.3" y1="815.37" x2="898.4" y2="815.37" stroke="#b03040" stroke-width="0.6" opacity="0.15"/>
<line x1="770.3" y1="827.26" x2="898.4" y2="827.26" stroke="#b03040" stroke-width="0.6" opacity="0.15"/>
<line x1="770.3" y1="833.54" x2="898.4" y2="833.54" stroke="#b03040" stroke-width="0.6" opacity="0.10"/>
<line x1="770.3" y1="838.59" x2="898.4" y2="838.59" stroke="#b03040" stroke-width="0.6" opacity="0.09"/>
<line x1="770.3" y1="843.43" x2="898.4" y2="843.43" stroke="#b03040" stroke-width="0.6" opacity="0.12"/>
<line x1="770.3" y1="854.53" x2="898.4" y2="854.53" stroke="#b03040" stroke-width="0.6" opacity="0.14"/>
<line x1="770.3" y1="861.84" x2="898.4" y2="861.84" stroke="#b03040" stroke-width="0.6" opacity="0.13"/>
<line x1="770.3" y1="872.04" x2="898.4" y2="872.04" stroke="#b03040" stroke-width="0.6" opacity="0.09"/>
<line x1="770.3" y1="880.99" x2="898.4" y2="880.99" stroke="#b03040" stroke-width="0.6" opacity="0.14"/>
<line x1="770.3" y1="891.03" x2="898.4" y2="891.03" stroke="#b03040" stroke-width="0.6" opacity="0.13"/>
<line x1="770.3" y1="898.33" x2="898.4" y2="898.33" stroke="#b03040" stroke-width="0.6" opacity="0.09"/>
<line x1="770.3" y1="908.43" x2="898.4" y2="908.43" stroke="#b03040" stroke-width="0.6" opacity="0.10"/>
<line x1="770.3" y1="918.64" x2="898.4" y2="918.64" stroke="#b03040" stroke-width="0.6" opacity="0.15"/>
<line x1="770.3" y1="925.2" x2="898.4" y2="925.2" stroke="#b03040" stroke-width="0.6" opacity="0.11"/>
<line x1="770.3" y1="936.72" x2="898.4" y2="936.72" stroke="#b03040" stroke-width="0.6" opacity="0.13"/>
<line x1="770.3" y1="941.25" x2="898.4" y2="941.25" stroke="#b03040" stroke-width="0.6" opacity="0.09"/>
<line x1="770.3" y1="945.61" x2="898.4" y2="945.61" stroke="#b03040" stroke-width="0.6" opacity="0.14"/>
<line x1="770.3" y1="955.87" x2="898.4" y2="955.87" stroke="#b03040" stroke-width="0.6" opacity="0.09"/>
<line x1="770.3" y1="966.31" x2="898.4" y2="966.31" stroke="#b03040" stroke-width="0.6" opacity="0.15"/>
<line x1="770.3" y1="975.23" x2="898.4" y2="975.23" stroke="#b03040" stroke-width="0.6" opacity="0.10"/>
<line x1="770.3" y1="983.16" x2="898.4" y2="983.16" stroke="#b03040" stroke-width="0.6" opacity="0.09"/>
<line x1="770.3" y1="986.29" x2="898.4" y2="986.29" stroke="#b03040" stroke-width="0.6" opacity="0.15"/>
<line x1="770.3" y1="995.14" x2="898.4" y2="995.14" stroke="#b03040" stroke-width="0.6" opacity="0.12"/>
<line x1="824.3" y1="593.3" x2="842.7" y2="593.3" stroke="#c01020" stroke-width="0.7" opacity="0.09"/>
<line x1="824.3" y1="606.02" x2="842.7" y2="606.02" stroke="#c01020" stroke-width="0.7" opacity="0.14"/>
<line x1="824.3" y1="612.13" x2="842.7" y2="612.13" stroke="#c01020" stroke-width="0.7" opacity="0.08"/>
<line x1="824.3" y1="619.06" x2="842.7" y2="619.06" stroke="#c01020" stroke-width="0.7" opacity="0.08"/>
<line x1="824.3" y1="628.92" x2="842.7" y2="628.92" stroke="#c01020" stroke-width="0.7" opacity="0.09"/>
<line x1="824.3" y1="637.11" x2="842.7" y2="637.11" stroke="#c01020" stroke-width="0.7" opacity="0.08"/>
<line x1="824.3" y1="650.21" x2="842.7" y2="650.21" stroke="#c01020" stroke-width="0.7" opacity="0.11"/>
<line x1="824.3" y1="658.79" x2="842.7" y2="658.79" stroke="#c01020" stroke-width="0.7" opacity="0.14"/>
<line x1="824.3" y1="671.84" x2="842.7" y2="671.84" stroke="#c01020" stroke-width="0.7" opacity="0.12"/>
<line x1="824.3" y1="685.01" x2="842.7" y2="685.01" stroke="#c01020" stroke-width="0.7" opacity="0.14"/>
<line x1="824.3" y1="694.33" x2="842.7" y2="694.33" stroke="#c01020" stroke-width="0.7" opacity="0.14"/>
<line x1="824.3" y1="698.52" x2="842.7" y2="698.52" stroke="#c01020" stroke-width="0.7" opacity="0.13"/>
<line x1="824.3" y1="704.35" x2="842.7" y2="704.35" stroke="#c01020" stroke-width="0.7" opacity="0.08"/>
<line x1="824.3" y1="716.34" x2="842.7" y2="716.34" stroke="#c01020" stroke-width="0.7" opacity="0.10"/>
<line x1="824.3" y1="725.08" x2="842.7" y2="725.08" stroke="#c01020" stroke-width="0.7" opacity="0.19"/>
<line x1="824.3" y1="734.64" x2="842.7" y2="734.64" stroke="#c01020" stroke-width="0.7" opacity="0.13"/>
<line x1="824.3" y1="743.83" x2="842.7" y2="743.83" stroke="#c01020" stroke-width="0.7" opacity="0.17"/>
<line x1="824.3" y1="755.67" x2="842.7" y2="755.67" stroke="#c01020" stroke-width="0.7" opacity="0.10"/>
<line x1="824.3" y1="765.27" x2="842.7" y2="765.27" stroke="#c01020" stroke-width="0.7" opacity="0.13"/>
<line x1="824.3" y1="772.04" x2="842.7" y2="772.04" stroke="#c01020" stroke-width="0.7" opacity="0.22"/>
<line x1="824.3" y1="781.12" x2="842.7" y2="781.12" stroke="#c01020" stroke-width="0.7" opacity="0.19"/>
<line x1="824.3" y1="792.72" x2="842.7" y2="792.72" stroke="#c01020" stroke-width="0.7" opacity="0.25"/>
<line x1="824.3" y1="801.15" x2="842.7" y2="801.15" stroke="#c01020" stroke-width="0.7" opacity="0.20"/>
<line x1="824.3" y1="810.21" x2="842.7" y2="810.21" stroke="#c01020" stroke-width="0.7" opacity="0.19"/>
<line x1="824.3" y1="821.13" x2="842.7" y2="821.13" stroke="#c01020" stroke-width="0.7" opacity="0.18"/>
<line x1="824.3" y1="830.47" x2="842.7" y2="830.47" stroke="#c01020" stroke-width="0.7" opacity="0.19"/>
<line x1="824.3" y1="843.88" x2="842.7" y2="843.88" stroke="#c01020" stroke-width="0.7" opacity="0.24"/>
<line x1="824.3" y1="856.65" x2="842.7" y2="856.65" stroke="#c01020" stroke-width="0.7" opacity="0.29"/>
<line x1="824.3" y1="863.24" x2="842.7" y2="863.24" stroke="#c01020" stroke-width="0.7" opacity="0.22"/>
<line x1="824.3" y1="876.67" x2="842.7" y2="876.67" stroke="#c01020" stroke-width="0.7" opacity="0.28"/>
<line x1="824.3" y1="882.05" x2="842.7" y2="882.05" stroke="#c01020" stroke-width="0.7" opacity="0.14"/>
<line x1="824.3" y1="890.47" x2="842.7" y2="890.47" stroke="#c01020" stroke-width="0.7" opacity="0.13"/>
<line x1="824.3" y1="896.87" x2="842.7" y2="896.87" stroke="#c01020" stroke-width="0.7" opacity="0.13"/>
<line x1="824.3" y1="907.57" x2="842.7" y2="907.57" stroke="#c01020" stroke-width="0.7" opacity="0.29"/>
<line x1="824.3" y1="920.54" x2="842.7" y2="920.54" stroke="#c01020" stroke-width="0.7" opacity="0.16"/>
<line x1="824.3" y1="931.7" x2="842.7" y2="931.7" stroke="#c01020" stroke-width="0.7" opacity="0.27"/>
<line x1="824.3" y1="937.13" x2="842.7" y2="937.13" stroke="#c01020" stroke-width="0.7" opacity="0.33"/>
<line x1="824.3" y1="950.8" x2="842.7" y2="950.8" stroke="#c01020" stroke-width="0.7" opacity="0.18"/>
<line x1="824.3" y1="964.33" x2="842.7" y2="964.33" stroke="#c01020" stroke-width="0.7" opacity="0.23"/>
<line x1="824.3" y1="973.2" x2="842.7" y2="973.2" stroke="#c01020" stroke-width="0.7" opacity="0.37"/>
<line x1="824.3" y1="985.53" x2="842.7" y2="985.53" stroke="#c01020" stroke-width="0.7" opacity="0.18"/>
<line x1="824.3" y1="993.84" x2="842.7" y2="993.84" stroke="#c01020" stroke-width="0.7" opacity="0.27"/>
<rect x="767.3" y="521.8" width="134.1" height="2.4" fill="url(#topbar)"/>
<line x1="767.3" y1="524.6" x2="901.4" y2="524.6" stroke="#333" stroke-width="0.6"/>
<line x1="823.35" y1="520" x2="845.35" y2="520" stroke="#aaa" stroke-width="0.8"/>
<line x1="817.35" y1="531" x2="851.35" y2="531" stroke="#777" stroke-width="0.9"/>
<line x1="767.3" y1="1004.5" x2="901.4" y2="1004.5" stroke="#999" stroke-width="0.7"/>
<line x1="770.3" y1="1003.5" x2="770.3" y2="1006.5" stroke="#555" stroke-width="0.8"/>
<line x1="795.92" y1="1003.5" x2="795.92" y2="1006.5" stroke="#555" stroke-width="0.8"/>
<line x1="821.54" y1="1003.5" x2="821.54" y2="1006.5" stroke="#555" stroke-width="0.8"/>
<line x1="847.16" y1="1003.5" x2="847.16" y2="1006.5" stroke="#555" stroke-width="0.8"/>
<line x1="872.78" y1="1003.5" x2="872.78" y2="1006.5" stroke="#555" stroke-width="0.8"/>
<line x1="898.4" y1="1003.5" x2="898.4" y2="1006.5" stroke="#555" stroke-width="0.8"/>
<rect x="917.8" y="533.3" width="127.8" height="470.2" fill="#f9c8ca"/>
<rect x="917.8" y="533.3" width="127.8" height="8.44" fill="url(#hh2)" opacity="0.246"/>
<rect x="917.8" y="533.3" width="127.8" height="8.44" fill="url(#hc2)" opacity="0.679"/>
<rect x="917.8" y="541.14" width="127.8" height="8.44" fill="url(#hh2)" opacity="0.239"/>
<rect x="917.8" y="541.14" width="127.8" height="8.44" fill="url(#hc2)" opacity="0.637"/>
<rect x="917.8" y="548.97" width="127.8" height="8.44" fill="url(#hh2)" opacity="0.231"/>
<rect x="917.8" y="548.97" width="127.8" height="8.44" fill="url(#hc2)" opacity="0.596"/>
<rect x="917.8" y="556.81" width="127.8" height="8.44" fill="url(#hh2)" opacity="0.224"/>
<rect x="917.8" y="556.81" width="127.8" height="8.44" fill="url(#hc2)" opacity="0.554"/>
<rect x="917.8" y="564.65" width="127.8" height="8.44" fill="url(#hh2)" opacity="0.216"/>
<rect x="917.8" y="564.65" width="127.8" height="8.44" fill="url(#hc2)" opacity="0.512"/>
<rect x="917.8" y="572.48" width="127.8" height="8.44" fill="url(#hh2)" opacity="0.209"/>
<rect x="917.8" y="572.48" width="127.8" height="8.44" fill="url(#hc2)" opacity="0.479"/>
<rect x="917.8" y="580.32" width="127.8" height="8.44" fill="url(#hh2)" opacity="0.201"/>
<rect x="917.8" y="580.32" width="127.8" height="8.44" fill="url(#hc2)" opacity="0.450"/>
<rect x="917.8" y="588.16" width="127.8" height="8.44" fill="url(#hh2)" opacity="0.194"/>
<rect x="917.8" y="588.16" width="127.8" height="8.44" fill="url(#hc2)" opacity="0.421"/>
<rect x="917.8" y="595.99" width="127.8" height="8.44" fill="url(#hh2)" opacity="0.186"/>
<rect x="917.8" y="595.99" width="127.8" height="8.44" fill="url(#hc2)" opacity="0.391"/>
<rect x="917.8" y="603.83" width="127.8" height="8.44" fill="url(#hh2)" opacity="0.179"/>
<rect x="917.8" y="603.83" width="127.8" height="8.44" fill="url(#hc2)" opacity="0.362"/>
<rect x="917.8" y="611.67" width="127.8" height="8.44" fill="url(#hh2)" opacity="0.171"/>
<rect x="917.8" y="611.67" width="127.8" height="8.44" fill="url(#hc2)" opacity="0.332"/>
<rect x="917.8" y="619.5" width="127.8" height="8.44" fill="url(#hh2)" opacity="0.164"/>
<rect x="917.8" y="619.5" width="127.8" height="8.44" fill="url(#hc2)" opacity="0.303"/>
<rect x="917.8" y="627.34" width="127.8" height="8.44" fill="url(#hh2)" opacity="0.159"/>
<rect x="917.8" y="627.34" width="127.8" height="8.44" fill="url(#hc2)" opacity="0.274"/>
<rect x="917.8" y="635.18" width="127.8" height="8.44" fill="url(#hh2)" opacity="0.158"/>
<rect x="917.8" y="635.18" width="127.8" height="8.44" fill="url(#hc2)" opacity="0.244"/>
<rect x="917.8" y="643.01" width="127.8" height="8.44" fill="url(#hh2)" opacity="0.156"/>
<rect x="917.8" y="643.01" width="127.8" height="8.44" fill="url(#hc2)" opacity="0.215"/>
<rect x="917.8" y="650.85" width="127.8" height="8.44" fill="url(#hh2)" opacity="0.154"/>
<rect x="917.8" y="650.85" width="127.8" height="8.44" fill="url(#hc2)" opacity="0.196"/>
<rect x="917.8" y="658.69" width="127.8" height="8.44" fill="url(#hh2)" opacity="0.152"/>
<rect x="917.8" y="658.69" width="127.8" height="8.44" fill="url(#hc2)" opacity="0.188"/>
<rect x="917.8" y="666.52" width="127.8" height="8.44" fill="url(#hh2)" opacity="0.151"/>
<rect x="917.8" y="666.52" width="127.8" height="8.44" fill="url(#hc2)" opacity="0.180"/>
<rect x="917.8" y="674.36" width="127.8" height="8.44" fill="url(#hh2)" opacity="0.149"/>
<rect x="917.8" y="674.36" width="127.8" height="8.44" fill="url(#hc2)" opacity="0.172"/>
<rect x="917.8" y="682.2" width="127.8" height="8.44" fill="url(#hh2)" opacity="0.147"/>
<rect x="917.8" y="682.2" width="127.8" height="8.44" fill="url(#hc2)" opacity="0.164"/>
<rect x="917.8" y="690.03" width="127.8" height="8.44" fill="url(#hh2)" opacity="0.146"/>
<rect x="917.8" y="690.03" width="127.8" height="8.44" fill="url(#hc2)" opacity="0.156"/>
<rect x="917.8" y="697.87" width="127.8" height="8.44" fill="url(#hh2)" opacity="0.144"/>
<rect x="917.8" y="697.87" width="127.8" height="8.44" fill="url(#hc2)" opacity="0.148"/>
<rect x="917.8" y="705.71" width="127.8" height="8.44" fill="url(#hh2)" opacity="0.143"/>
<rect x="917.8" y="705.71" width="127.8" height="8.44" fill="url(#hc2)" opacity="0.140"/>
<rect x="917.8" y="713.54" width="127.8" height="8.44" fill="url(#hh2)" opacity="0.141"/>
<rect x="917.8" y="713.54" width="127.8" height="8.44" fill="url(#hc2)" opacity="0.132"/>
<rect x="917.8" y="721.38" width="127.8" height="8.44" fill="url(#hh2)" opacity="0.139"/>
<rect x="917.8" y="721.38" width="127.8" height="8.44" fill="url(#hc2)" opacity="0.124"/>
<rect x="917.8" y="729.22" width="127.8" height="8.44" fill="url(#hh2)" opacity="0.138"/>
<rect x="917.8" y="729.22" width="127.8" height="8.44" fill="url(#hc2)" opacity="0.116"/>
<rect x="917.8" y="737.05" width="127.8" height="8.44" fill="url(#hh2)" opacity="0.136"/>
<rect x="917.8" y="737.05" width="127.8" height="8.44" fill="url(#hc2)" opacity="0.108"/>
<rect x="917.8" y="744.89" width="127.8" height="8.44" fill="url(#hh2)" opacity="0.134"/>
<rect x="917.8" y="744.89" width="127.8" height="8.44" fill="url(#hc2)" opacity="0.100"/>
<rect x="917.8" y="752.73" width="127.8" height="8.44" fill="url(#hh2)" opacity="0.133"/>
<rect x="917.8" y="752.73" width="127.8" height="8.44" fill="url(#hc2)" opacity="0.092"/>
<rect x="917.8" y="760.56" width="127.8" height="8.44" fill="url(#hh2)" opacity="0.131"/>
<rect x="917.8" y="760.56" width="127.8" height="8.44" fill="url(#hc2)" opacity="0.084"/>
<rect x="917.8" y="768.4" width="127.8" height="8.44" fill="url(#hh2)" opacity="0.130"/>
<rect x="917.8" y="768.4" width="127.8" height="8.44" fill="url(#hc2)" opacity="0.080"/>
<rect x="917.8" y="776.24" width="127.8" height="8.44" fill="url(#hh2)" opacity="0.131"/>
<rect x="917.8" y="776.24" width="127.8" height="8.44" fill="url(#hc2)" opacity="0.079"/>
<rect x="917.8" y="784.07" width="127.8" height="8.44" fill="url(#hh2)" opacity="0.132"/>
<rect x="917.8" y="784.07" width="127.8" height="8.44" fill="url(#hc2)" opacity="0.079"/>
<rect x="917.8" y="791.91" width="127.8" height="8.44" fill="url(#hh2)" opacity="0.132"/>
<rect x="917.8" y="791.91" width="127.8" height="8.44" fill="url(#hc2)" opacity="0.078"/>
<rect x="917.8" y="799.75" width="127.8" height="8.44" fill="url(#hh2)" opacity="0.133"/>
<rect x="917.8" y="799.75" width="127.8" height="8.44" fill="url(#hc2)" opacity="0.077"/>
<rect x="917.8" y="807.58" width="127.8" height="8.44" fill="url(#hh2)" opacity="0.134"/>
<rect x="917.8" y="807.58" width="127.8" height="8.44" fill="url(#hc2)" opacity="0.077"/>
<rect x="917.8" y="815.42" width="127.8" height="8.44" fill="url(#hh2)" opacity="0.134"/>
<rect x="917.8" y="815.42" width="127.8" height="8.44" fill="url(#hc2)" opacity="0.076"/>
<rect x="917.8" y="823.26" width="127.8" height="8.44" fill="url(#hh2)" opacity="0.135"/>
<rect x="917.8" y="823.26" width="127.8" height="8.44" fill="url(#hc2)" opacity="0.076"/>
<rect x="917.8" y="831.09" width="127.8" height="8.44" fill="url(#hh2)" opacity="0.136"/>
<rect x="917.8" y="831.09" width="127.8" height="8.44" fill="url(#hc2)" opacity="0.075"/>
<rect x="917.8" y="838.93" width="127.8" height="8.44" fill="url(#hh2)" opacity="0.136"/>
<rect x="917.8" y="838.93" width="127.8" height="8.44" fill="url(#hc2)" opacity="0.075"/>
<rect x="917.8" y="846.77" width="127.8" height="8.44" fill="url(#hh2)" opacity="0.137"/>
<rect x="917.8" y="846.77" width="127.8" height="8.44" fill="url(#hc2)" opacity="0.074"/>
<rect x="917.8" y="854.6" width="127.8" height="8.44" fill="url(#hh2)" opacity="0.138"/>
<rect x="917.8" y="854.6" width="127.8" height="8.44" fill="url(#hc2)" opacity="0.074"/>
<rect x="917.8" y="862.44" width="127.8" height="8.44" fill="url(#hh2)" opacity="0.138"/>
<rect x="917.8" y="862.44" width="127.8" height="8.44" fill="url(#hc2)" opacity="0.073"/>
<rect x="917.8" y="870.28" width="127.8" height="8.44" fill="url(#hh2)" opacity="0.139"/>
<rect x="917.8" y="870.28" width="127.8" height="8.44" fill="url(#hc2)" opacity="0.073"/>
<rect x="917.8" y="878.11" width="127.8" height="8.44" fill="url(#hh2)" opacity="0.140"/>
<rect x="917.8" y="878.11" width="127.8" height="8.44" fill="url(#hc2)" opacity="0.072"/>
<rect x="917.8" y="885.95" width="127.8" height="8.44" fill="url(#hh2)" opacity="0.140"/>
<rect x="917.8" y="885.95" width="127.8" height="8.44" fill="url(#hc2)" opacity="0.071"/>
<rect x="917.8" y="893.79" width="127.8" height="8.44" fill="url(#hh2)" opacity="0.141"/>
<rect x="917.8" y="893.79" width="127.8" height="8.44" fill="url(#hc2)" opacity="0.071"/>
<rect x="917.8" y="901.62" width="127.8" height="8.44" fill="url(#hh2)" opacity="0.142"/>
<rect x="917.8" y="901.62" width="127.8" height="8.44" fill="url(#hc2)" opacity="0.070"/>
<rect x="917.8" y="909.46" width="127.8" height="8.44" fill="url(#hh2)" opacity="0.142"/>
<rect x="917.8" y="909.46" width="127.8" height="8.44" fill="url(#hc2)" opacity="0.071"/>
<rect x="917.8" y="917.3" width="127.8" height="8.44" fill="url(#hh2)" opacity="0.143"/>
<rect x="917.8" y="917.3" width="127.8" height="8.44" fill="url(#hc2)" opacity="0.074"/>
<rect x="917.8" y="925.13" width="127.8" height="8.44" fill="url(#hh2)" opacity="0.144"/>
<rect x="917.8" y="925.13" width="127.8" height="8.44" fill="url(#hc2)" opacity="0.076"/>
<rect x="917.8" y="932.97" width="127.8" height="8.44" fill="url(#hh2)" opacity="0.144"/>
<rect x="917.8" y="932.97" width="127.8" height="8.44" fill="url(#hc2)" opacity="0.079"/>
<rect x="917.8" y="940.81" width="127.8" height="8.44" fill="url(#hh2)" opacity="0.145"/>
<rect x="917.8" y="940.81" width="127.8" height="8.44" fill="url(#hc2)" opacity="0.081"/>
<rect x="917.8" y="948.64" width="127.8" height="8.44" fill="url(#hh2)" opacity="0.146"/>
<rect x="917.8" y="948.64" width="127.8" height="8.44" fill="url(#hc2)" opacity="0.084"/>
<rect x="917.8" y="956.48" width="127.8" height="8.44" fill="url(#hh2)" opacity="0.146"/>
<rect x="917.8" y="956.48" width="127.8" height="8.44" fill="url(#hc2)" opacity="0.086"/>
<rect x="917.8" y="964.32" width="127.8" height="8.44" fill="url(#hh2)" opacity="0.147"/>
<rect x="917.8" y="964.32" width="127.8" height="8.44" fill="url(#hc2)" opacity="0.089"/>
<rect x="917.8" y="972.15" width="127.8" height="8.44" fill="url(#hh2)" opacity="0.148"/>
<rect x="917.8" y="972.15" width="127.8" height="8.44" fill="url(#hc2)" opacity="0.091"/>
<rect x="917.8" y="979.99" width="127.8" height="8.44" fill="url(#hh2)" opacity="0.148"/>
<rect x="917.8" y="979.99" width="127.8" height="8.44" fill="url(#hc2)" opacity="0.094"/>
<rect x="917.8" y="987.83" width="127.8" height="8.44" fill="url(#hh2)" opacity="0.149"/>
<rect x="917.8" y="987.83" width="127.8" height="8.44" fill="url(#hc2)" opacity="0.096"/>
<rect x="917.8" y="995.66" width="127.8" height="8.44" fill="url(#hh2)" opacity="0.150"/>
<rect x="917.8" y="995.66" width="127.8" height="8.44" fill="url(#hc2)" opacity="0.099"/>
<line x1="917.8" y1="573.3" x2="1045.6" y2="573.3" stroke="#b03040" stroke-width="0.6" opacity="0.05"/>
<line x1="917.8" y1="579.17" x2="1045.6" y2="579.17" stroke="#b03040" stroke-width="0.6" opacity="0.09"/>
<line x1="917.8" y1="582.34" x2="1045.6" y2="582.34" stroke="#b03040" stroke-width="0.6" opacity="0.08"/>
<line x1="917.8" y1="589.31" x2="1045.6" y2="589.31" stroke="#b03040" stroke-width="0.6" opacity="0.04"/>
<line x1="917.8" y1="595.29" x2="1045.6" y2="595.29" stroke="#b03040" stroke-width="0.6" opacity="0.08"/>
<line x1="917.8" y1="602.9" x2="1045.6" y2="602.9" stroke="#b03040" stroke-width="0.6" opacity="0.04"/>
<line x1="917.8" y1="614.77" x2="1045.6" y2="614.77" stroke="#b03040" stroke-width="0.6" opacity="0.10"/>
<line x1="917.8" y1="626.51" x2="1045.6" y2="626.51" stroke="#b03040" stroke-width="0.6" opacity="0.05"/>
<line x1="917.8" y1="631.9" x2="1045.6" y2="631.9" stroke="#b03040" stroke-width="0.6" opacity="0.04"/>
<line x1="917.8" y1="641.91" x2="1045.6" y2="641.91" stroke="#b03040" stroke-width="0.6" opacity="0.06"/>
<line x1="917.8" y1="646.08" x2="1045.6" y2="646.08" stroke="#b03040" stroke-width="0.6" opacity="0.07"/>
<line x1="917.8" y1="657.28" x2="1045.6" y2="657.28" stroke="#b03040" stroke-width="0.6" opacity="0.10"/>
<line x1="917.8" y1="662.61" x2="1045.6" y2="662.61" stroke="#b03040" stroke-width="0.6" opacity="0.05"/>
<line x1="917.8" y1="673.88" x2="1045.6" y2="673.88" stroke="#b03040" stroke-width="0.6" opacity="0.08"/>
<line x1="917.8" y1="683.18" x2="1045.6" y2="683.18" stroke="#b03040" stroke-width="0.6" opacity="0.05"/>
<line x1="917.8" y1="686.7" x2="1045.6" y2="686.7" stroke="#b03040" stroke-width="0.6" opacity="0.13"/>
<line x1="917.8" y1="693.53" x2="1045.6" y2="693.53" stroke="#b03040" stroke-width="0.6" opacity="0.09"/>
<line x1="917.8" y1="704.98" x2="1045.6" y2="704.98" stroke="#b03040" stroke-width="0.6" opacity="0.12"/>
<line x1="917.8" y1="715.19" x2="1045.6" y2="715.19" stroke="#b03040" stroke-width="0.6" opacity="0.09"/>
<line x1="917.8" y1="725.9" x2="1045.6" y2="725.9" stroke="#b03040" stroke-width="0.6" opacity="0.08"/>
<line x1="917.8" y1="736.66" x2="1045.6" y2="736.66" stroke="#b03040" stroke-width="0.6" opacity="0.11"/>
<line x1="917.8" y1="742.71" x2="1045.6" y2="742.71" stroke="#b03040" stroke-width="0.6" opacity="0.12"/>
<line x1="917.8" y1="754.05" x2="1045.6" y2="754.05" stroke="#b03040" stroke-width="0.6" opacity="0.10"/>
<line x1="917.8" y1="758.22" x2="1045.6" y2="758.22" stroke="#b03040" stroke-width="0.6" opacity="0.12"/>
<line x1="917.8" y1="763.36" x2="1045.6" y2="763.36" stroke="#b03040" stroke-width="0.6" opacity="0.09"/>
<line x1="917.8" y1="767.82" x2="1045.6" y2="767.82" stroke="#b03040" stroke-width="0.6" opacity="0.08"/>
<line x1="917.8" y1="772.63" x2="1045.6" y2="772.63" stroke="#b03040" stroke-width="0.6" opacity="0.10"/>
<line x1="917.8" y1="778.38" x2="1045.6" y2="778.38" stroke="#b03040" stroke-width="0.6" opacity="0.13"/>
<line x1="917.8" y1="783.99" x2="1045.6" y2="783.99" stroke="#b03040" stroke-width="0.6" opacity="0.12"/>
<line x1="917.8" y1="788.59" x2="1045.6" y2="788.59" stroke="#b03040" stroke-width="0.6" opacity="0.10"/>
<line x1="917.8" y1="791.75" x2="1045.6" y2="791.75" stroke="#b03040" stroke-width="0.6" opacity="0.10"/>
<line x1="917.8" y1="794.89" x2="1045.6" y2="794.89" stroke="#b03040" stroke-width="0.6" opacity="0.13"/>
<line x1="917.8" y1="802.85" x2="1045.6" y2="802.85" stroke="#b03040" stroke-width="0.6" opacity="0.09"/>
<line x1="917.8" y1="810.12" x2="1045.6" y2="810.12" stroke="#b03040" stroke-width="0.6" opacity="0.15"/>
<line x1="917.8" y1="814.08" x2="1045.6" y2="814.08" stroke="#b03040" stroke-width="0.6" opacity="0.14"/>
<line x1="917.8" y1="820.97" x2="1045.6" y2="820.97" stroke="#b03040" stroke-width="0.6" opacity="0.11"/>
<line x1="917.8" y1="831.48" x2="1045.6" y2="831.48" stroke="#b03040" stroke-width="0.6" opacity="0.11"/>
<line x1="917.8" y1="839.04" x2="1045.6" y2="839.04" stroke="#b03040" stroke-width="0.6" opacity="0.13"/>
<line x1="917.8" y1="850.88" x2="1045.6" y2="850.88" stroke="#b03040" stroke-width="0.6" opacity="0.10"/>
<line x1="917.8" y1="861.37" x2="1045.6" y2="861.37" stroke="#b03040" stroke-width="0.6" opacity="0.13"/>
<line x1="917.8" y1="870.1" x2="1045.6" y2="870.1" stroke="#b03040" stroke-width="0.6" opacity="0.11"/>
<line x1="917.8" y1="876.22" x2="1045.6" y2="876.22" stroke="#b03040" stroke-width="0.6" opacity="0.08"/>
<line x1="917.8" y1="880.39" x2="1045.6" y2="880.39" stroke="#b03040" stroke-width="0.6" opacity="0.08"/>
<line x1="917.8" y1="890.06" x2="1045.6" y2="890.06" stroke="#b03040" stroke-width="0.6" opacity="0.10"/>
<line x1="917.8" y1="894.53" x2="1045.6" y2="894.53" stroke="#b03040" stroke-width="0.6" opacity="0.09"/>
<line x1="917.8" y1="905.1" x2="1045.6" y2="905.1" stroke="#b03040" stroke-width="0.6" opacity="0.14"/>
<line x1="917.8" y1="914.14" x2="1045.6" y2="914.14" stroke="#b03040" stroke-width="0.6" opacity="0.10"/>
<line x1="917.8" y1="919.31" x2="1045.6" y2="919.31" stroke="#b03040" stroke-width="0.6" opacity="0.10"/>
<line x1="917.8" y1="926.45" x2="1045.6" y2="926.45" stroke="#b03040" stroke-width="0.6" opacity="0.09"/>
<line x1="917.8" y1="933.46" x2="1045.6" y2="933.46" stroke="#b03040" stroke-width="0.6" opacity="0.10"/>
<line x1="917.8" y1="945.12" x2="1045.6" y2="945.12" stroke="#b03040" stroke-width="0.6" opacity="0.15"/>
<line x1="917.8" y1="953.04" x2="1045.6" y2="953.04" stroke="#b03040" stroke-width="0.6" opacity="0.10"/>
<line x1="917.8" y1="964.73" x2="1045.6" y2="964.73" stroke="#b03040" stroke-width="0.6" opacity="0.10"/>
<line x1="917.8" y1="970.94" x2="1045.6" y2="970.94" stroke="#b03040" stroke-width="0.6" opacity="0.08"/>
<line x1="917.8" y1="977.38" x2="1045.6" y2="977.38" stroke="#b03040" stroke-width="0.6" opacity="0.11"/>
<line x1="917.8" y1="984.9" x2="1045.6" y2="984.9" stroke="#b03040" stroke-width="0.6" opacity="0.09"/>
<line x1="917.8" y1="992.44" x2="1045.6" y2="992.44" stroke="#b03040" stroke-width="0.6" opacity="0.08"/>
<line x1="917.8" y1="997.82" x2="1045.6" y2="997.82" stroke="#b03040" stroke-width="0.6" opacity="0.09"/>
<line x1="974.1" y1="593.3" x2="990.9" y2="593.3" stroke="#c01020" stroke-width="0.7" opacity="0.03"/>
<line x1="974.1" y1="597.52" x2="990.9" y2="597.52" stroke="#c01020" stroke-width="0.7" opacity="0.04"/>
<line x1="974.1" y1="603.85" x2="990.9" y2="603.85" stroke="#c01020" stroke-width="0.7" opacity="0.06"/>
<line x1="974.1" y1="613.14" x2="990.9" y2="613.14" stroke="#c01020" stroke-width="0.7" opacity="0.07"/>
<line x1="974.1" y1="623.72" x2="990.9" y2="623.72" stroke="#c01020" stroke-width="0.7" opacity="0.07"/>
<line x1="974.1" y1="636.51" x2="990.9" y2="636.51" stroke="#c01020" stroke-width="0.7" opacity="0.05"/>
<line x1="974.1" y1="643.77" x2="990.9" y2="643.77" stroke="#c01020" stroke-width="0.7" opacity="0.09"/>
<line x1="974.1" y1="649.27" x2="990.9" y2="649.27" stroke="#c01020" stroke-width="0.7" opacity="0.07"/>
<line x1="974.1" y1="659.7" x2="990.9" y2="659.7" stroke="#c01020" stroke-width="0.7" opacity="0.04"/>
<line x1="974.1" y1="672.05" x2="990.9" y2="672.05" stroke="#c01020" stroke-width="0.7" opacity="0.09"/>
<line x1="974.1" y1="682.33" x2="990.9" y2="682.33" stroke="#c01020" stroke-width="0.7" opacity="0.08"/>
<line x1="974.1" y1="694.45" x2="990.9" y2="694.45" stroke="#c01020" stroke-width="0.7" opacity="0.05"/>
<line x1="974.1" y1="703.69" x2="990.9" y2="703.69" stroke="#c01020" stroke-width="0.7" opacity="0.07"/>
<line x1="974.1" y1="716.03" x2="990.9" y2="716.03" stroke="#c01020" stroke-width="0.7" opacity="0.10"/>
<line x1="974.1" y1="728.3" x2="990.9" y2="728.3" stroke="#c01020" stroke-width="0.7" opacity="0.08"/>
<line x1="974.1" y1="741.23" x2="990.9" y2="741.23" stroke="#c01020" stroke-width="0.7" opacity="0.09"/>
<line x1="974.1" y1="752.16" x2="990.9" y2="752.16" stroke="#c01020" stroke-width="0.7" opacity="0.06"/>
<line x1="974.1" y1="756.47" x2="990.9" y2="756.47" stroke="#c01020" stroke-width="0.7" opacity="0.05"/>
<line x1="974.1" y1="764.08" x2="990.9" y2="764.08" stroke="#c01020" stroke-width="0.7" opacity="0.05"/>
<line x1="974.1" y1="776.44" x2="990.9" y2="776.44" stroke="#c01020" stroke-width="0.7" opacity="0.09"/>
<line x1="974.1" y1="786.72" x2="990.9" y2="786.72" stroke="#c01020" stroke-width="0.7" opacity="0.10"/>
<line x1="974.1" y1="797.52" x2="990.9" y2="797.52" stroke="#c01020" stroke-width="0.7" opacity="0.09"/>
<line x1="974.1" y1="801.55" x2="990.9" y2="801.55" stroke="#c01020" stroke-width="0.7" opacity="0.12"/>
<line x1="974.1" y1="813.04" x2="990.9" y2="813.04" stroke="#c01020" stroke-width="0.7" opacity="0.09"/>
<line x1="974.1" y1="822.39" x2="990.9" y2="822.39" stroke="#c01020" stroke-width="0.7" opacity="0.11"/>
<line x1="974.1" y1="827.05" x2="990.9" y2="827.05" stroke="#c01020" stroke-width="0.7" opacity="0.12"/>
<line x1="974.1" y1="833.57" x2="990.9" y2="833.57" stroke="#c01020" stroke-width="0.7" opacity="0.06"/>
<line x1="974.1" y1="840.23" x2="990.9" y2="840.23" stroke="#c01020" stroke-width="0.7" opacity="0.12"/>
<line x1="974.1" y1="846.28" x2="990.9" y2="846.28" stroke="#c01020" stroke-width="0.7" opacity="0.12"/>
<line x1="974.1" y1="860.04" x2="990.9" y2="860.04" stroke="#c01020" stroke-width="0.7" opacity="0.10"/>
<line x1="974.1" y1="867.86" x2="990.9" y2="867.86" stroke="#c01020" stroke-width="0.7" opacity="0.10"/>
<line x1="974.1" y1="878.7" x2="990.9" y2="878.7" stroke="#c01020" stroke-width="0.7" opacity="0.14"/>
<line x1="974.1" y1="888.87" x2="990.9" y2="888.87" stroke="#c01020" stroke-width="0.7" opacity="0.12"/>
<line x1="974.1" y1="893.64" x2="990.9" y2="893.64" stroke="#c01020" stroke-width="0.7" opacity="0.07"/>
<line x1="974.1" y1="900.18" x2="990.9" y2="900.18" stroke="#c01020" stroke-width="0.7" opacity="0.14"/>
<line x1="974.1" y1="907.23" x2="990.9" y2="907.23" stroke="#c01020" stroke-width="0.7" opacity="0.12"/>
<line x1="974.1" y1="911.35" x2="990.9" y2="911.35" stroke="#c01020" stroke-width="0.7" opacity="0.07"/>
<line x1="974.1" y1="918.04" x2="990.9" y2="918.04" stroke="#c01020" stroke-width="0.7" opacity="0.13"/>
<line x1="974.1" y1="928.96" x2="990.9" y2="928.96" stroke="#c01020" stroke-width="0.7" opacity="0.14"/>
<line x1="974.1" y1="935.87" x2="990.9" y2="935.87" stroke="#c01020" stroke-width="0.7" opacity="0.12"/>
<line x1="974.1" y1="944.52" x2="990.9" y2="944.52" stroke="#c01020" stroke-width="0.7" opacity="0.12"/>
<line x1="974.1" y1="949.7" x2="990.9" y2="949.7" stroke="#c01020" stroke-width="0.7" opacity="0.17"/>
<line x1="974.1" y1="955.69" x2="990.9" y2="955.69" stroke="#c01020" stroke-width="0.7" opacity="0.18"/>
<line x1="974.1" y1="969.06" x2="990.9" y2="969.06" stroke="#c01020" stroke-width="0.7" opacity="0.07"/>
<line x1="974.1" y1="977.65" x2="990.9" y2="977.65" stroke="#c01020" stroke-width="0.7" opacity="0.17"/>
<line x1="974.1" y1="991.33" x2="990.9" y2="991.33" stroke="#c01020" stroke-width="0.7" opacity="0.12"/>
<line x1="974.1" y1="998.01" x2="990.9" y2="998.01" stroke="#c01020" stroke-width="0.7" opacity="0.10"/>
<rect x="914.8" y="521.8" width="133.8" height="2.4" fill="url(#topbar)"/>
<line x1="914.8" y1="524.6" x2="1048.6" y2="524.6" stroke="#333" stroke-width="0.6"/>
<line x1="970.7" y1="520" x2="992.7" y2="520" stroke="#aaa" stroke-width="0.8"/>
<line x1="964.7" y1="531" x2="998.7" y2="531" stroke="#777" stroke-width="0.9"/>
<line x1="914.8" y1="1004.5" x2="1048.6" y2="1004.5" stroke="#999" stroke-width="0.7"/>
<line x1="917.8" y1="1003.5" x2="917.8" y2="1006.5" stroke="#555" stroke-width="0.8"/>
<line x1="943.36" y1="1003.5" x2="943.36" y2="1006.5" stroke="#555" stroke-width="0.8"/>
<line x1="968.92" y1="1003.5" x2="968.92" y2="1006.5" stroke="#555" stroke-width="0.8"/>
<line x1="994.48" y1="1003.5" x2="994.48" y2="1006.5" stroke="#555" stroke-width="0.8"/>
<line x1="1020.04" y1="1003.5" x2="1020.04" y2="1006.5" stroke="#555" stroke-width="0.8"/>
<line x1="1045.6" y1="1003.5" x2="1045.6" y2="1006.5" stroke="#555" stroke-width="0.8"/>
<rect x="1067.2" y="533.3" width="125.6" height="470.2" fill="#f7c3c5"/>
<rect x="1067.2" y="533.3" width="125.6" height="8.44" fill="url(#hh3)" opacity="0.497"/>
<rect x="1067.2" y="533.3" width="125.6" height="8.44" fill="url(#hc3)" opacity="0.838"/>
<rect x="1067.2" y="541.14" width="125.6" height="8.44" fill="url(#hh3)" opacity="0.490"/>
<rect x="1067.2" y="541.14" width="125.6" height="8.44" fill="url(#hc3)" opacity="0.812"/>
<rect x="1067.2" y="548.97" width="125.6" height="8.44" fill="url(#hh3)" opacity="0.483"/>
<rect x="1067.2" y="548.97" width="125.6" height="8.44" fill="url(#hc3)" opacity="0.787"/>
<rect x="1067.2" y="556.81" width="125.6" height="8.44" fill="url(#hh3)" opacity="0.477"/>
<rect x="1067.2" y="556.81" width="125.6" height="8.44" fill="url(#hc3)" opacity="0.762"/>
<rect x="1067.2" y="564.65" width="125.6" height="8.44" fill="url(#hh3)" opacity="0.470"/>
<rect x="1067.2" y="564.65" width="125.6" height="8.44" fill="url(#hc3)" opacity="0.737"/>
<rect x="1067.2" y="572.48" width="125.6" height="8.44" fill="url(#hh3)" opacity="0.463"/>
<rect x="1067.2" y="572.48" width="125.6" height="8.44" fill="url(#hc3)" opacity="0.712"/>
<rect x="1067.2" y="580.32" width="125.6" height="8.44" fill="url(#hh3)" opacity="0.457"/>
<rect x="1067.2" y="580.32" width="125.6" height="8.44" fill="url(#hc3)" opacity="0.688"/>
<rect x="1067.2" y="588.16" width="125.6" height="8.44" fill="url(#hh3)" opacity="0.450"/>
<rect x="1067.2" y="588.16" width="125.6" height="8.44" fill="url(#hc3)" opacity="0.662"/>
<rect x="1067.2" y="595.99" width="125.6" height="8.44" fill="url(#hh3)" opacity="0.443"/>
<rect x="1067.2" y="595.99" width="125.6" height="8.44" fill="url(#hc3)" opacity="0.637"/>
<rect x="1067.2" y="603.83" width="125.6" height="8.44" fill="url(#hh3)" opacity="0.437"/>
<rect x="1067.2" y="603.83" width="125.6" height="8.44" fill="url(#hc3)" opacity="0.613"/>
<rect x="1067.2" y="611.67" width="125.6" height="8.44" fill="url(#hh3)" opacity="0.430"/>
<rect x="1067.2" y="611.67" width="125.6" height="8.44" fill="url(#hc3)" opacity="0.588"/>
<rect x="1067.2" y="619.5" width="125.6" height="8.44" fill="url(#hh3)" opacity="0.423"/>
<rect x="1067.2" y="619.5" width="125.6" height="8.44" fill="url(#hc3)" opacity="0.562"/>
<rect x="1067.2" y="627.34" width="125.6" height="8.44" fill="url(#hh3)" opacity="0.418"/>
<rect x="1067.2" y="627.34" width="125.6" height="8.44" fill="url(#hc3)" opacity="0.537"/>
<rect x="1067.2" y="635.18" width="125.6" height="8.44" fill="url(#hh3)" opacity="0.415"/>
<rect x="1067.2" y="635.18" width="125.6" height="8.44" fill="url(#hc3)" opacity="0.512"/>
<rect x="1067.2" y="643.01" width="125.6" height="8.44" fill="url(#hh3)" opacity="0.412"/>
<rect x="1067.2" y="643.01" width="125.6" height="8.44" fill="url(#hc3)" opacity="0.487"/>
<rect x="1067.2" y="650.85" width="125.6" height="8.44" fill="url(#hh3)" opacity="0.408"/>
<rect x="1067.2" y="650.85" width="125.6" height="8.44" fill="url(#hc3)" opacity="0.462"/>
<rect x="1067.2" y="658.69" width="125.6" height="8.44" fill="url(#hh3)" opacity="0.405"/>
<rect x="1067.2" y="658.69" width="125.6" height="8.44" fill="url(#hc3)" opacity="0.438"/>
<rect x="1067.2" y="666.52" width="125.6" height="8.44" fill="url(#hh3)" opacity="0.402"/>
<rect x="1067.2" y="666.52" width="125.6" height="8.44" fill="url(#hc3)" opacity="0.412"/>
<rect x="1067.2" y="674.36" width="125.6" height="8.44" fill="url(#hh3)" opacity="0.398"/>
<rect x="1067.2" y="674.36" width="125.6" height="8.44" fill="url(#hc3)" opacity="0.394"/>
<rect x="1067.2" y="682.2" width="125.6" height="8.44" fill="url(#hh3)" opacity="0.395"/>
<rect x="1067.2" y="682.2" width="125.6" height="8.44" fill="url(#hc3)" opacity="0.382"/>
<rect x="1067.2" y="690.03" width="125.6" height="8.44" fill="url(#hh3)" opacity="0.392"/>
<rect x="1067.2" y="690.03" width="125.6" height="8.44" fill="url(#hc3)" opacity="0.370"/>
<rect x="1067.2" y="697.87" width="125.6" height="8.44" fill="url(#hh3)" opacity="0.388"/>
<rect x="1067.2" y="697.87" width="125.6" height="8.44" fill="url(#hc3)" opacity="0.358"/>
<rect x="1067.2" y="705.71" width="125.6" height="8.44" fill="url(#hh3)" opacity="0.385"/>
<rect x="1067.2" y="705.71" width="125.6" height="8.44" fill="url(#hc3)" opacity="0.346"/>
<rect x="1067.2" y="713.54" width="125.6" height="8.44" fill="url(#hh3)" opacity="0.382"/>
<rect x="1067.2" y="713.54" width="125.6" height="8.44" fill="url(#hc3)" opacity="0.334"/>
<rect x="1067.2" y="721.38" width="125.6" height="8.44" fill="url(#hh3)" opacity="0.378"/>
<rect x="1067.2" y="721.38" width="125.6" height="8.44" fill="url(#hc3)" opacity="0.322"/>
<rect x="1067.2" y="729.22" width="125.6" height="8.44" fill="url(#hh3)" opacity="0.375"/>
<rect x="1067.2" y="729.22" width="125.6" height="8.44" fill="url(#hc3)" opacity="0.310"/>
<rect x="1067.2" y="737.05" width="125.6" height="8.44" fill="url(#hh3)" opacity="0.372"/>
<rect x="1067.2" y="737.05" width="125.6" height="8.44" fill="url(#hc3)" opacity="0.298"/>
<rect x="1067.2" y="744.89" width="125.6" height="8.44" fill="url(#hh3)" opacity="0.368"/>
<rect x="1067.2" y="744.89" width="125.6" height="8.44" fill="url(#hc3)" opacity="0.286"/>
<rect x="1067.2" y="752.73" width="125.6" height="8.44" fill="url(#hh3)" opacity="0.365"/>
<rect x="1067.2" y="752.73" width="125.6" height="8.44" fill="url(#hc3)" opacity="0.274"/>
<rect x="1067.2" y="760.56" width="125.6" height="8.44" fill="url(#hh3)" opacity="0.362"/>
<rect x="1067.2" y="760.56" width="125.6" height="8.44" fill="url(#hc3)" opacity="0.262"/>
<rect x="1067.2" y="768.4" width="125.6" height="8.44" fill="url(#hh3)" opacity="0.361"/>
<rect x="1067.2" y="768.4" width="125.6" height="8.44" fill="url(#hc3)" opacity="0.250"/>
<rect x="1067.2" y="776.24" width="125.6" height="8.44" fill="url(#hh3)" opacity="0.362"/>
<rect x="1067.2" y="776.24" width="125.6" height="8.44" fill="url(#hc3)" opacity="0.238"/>
<rect x="1067.2" y="784.07" width="125.6" height="8.44" fill="url(#hh3)" opacity="0.363"/>
<rect x="1067.2" y="784.07" width="125.6" height="8.44" fill="url(#hc3)" opacity="0.226"/>
<rect x="1067.2" y="791.91" width="125.6" height="8.44" fill="url(#hh3)" opacity="0.365"/>
<rect x="1067.2" y="791.91" width="125.6" height="8.44" fill="url(#hc3)" opacity="0.221"/>
<rect x="1067.2" y="799.75" width="125.6" height="8.44" fill="url(#hh3)" opacity="0.366"/>
<rect x="1067.2" y="799.75" width="125.6" height="8.44" fill="url(#hc3)" opacity="0.222"/>
<rect x="1067.2" y="807.58" width="125.6" height="8.44" fill="url(#hh3)" opacity="0.367"/>
<rect x="1067.2" y="807.58" width="125.6" height="8.44" fill="url(#hc3)" opacity="0.223"/>
<rect x="1067.2" y="815.42" width="125.6" height="8.44" fill="url(#hh3)" opacity="0.369"/>
<rect x="1067.2" y="815.42" width="125.6" height="8.44" fill="url(#hc3)" opacity="0.224"/>
<rect x="1067.2" y="823.26" width="125.6" height="8.44" fill="url(#hh3)" opacity="0.370"/>
<rect x="1067.2" y="823.26" width="125.6" height="8.44" fill="url(#hc3)" opacity="0.225"/>
<rect x="1067.2" y="831.09" width="125.6" height="8.44" fill="url(#hh3)" opacity="0.371"/>
<rect x="1067.2" y="831.09" width="125.6" height="8.44" fill="url(#hc3)" opacity="0.226"/>
<rect x="1067.2" y="838.93" width="125.6" height="8.44" fill="url(#hh3)" opacity="0.373"/>
<rect x="1067.2" y="838.93" width="125.6" height="8.44" fill="url(#hc3)" opacity="0.227"/>
<rect x="1067.2" y="846.77" width="125.6" height="8.44" fill="url(#hh3)" opacity="0.374"/>
<rect x="1067.2" y="846.77" width="125.6" height="8.44" fill="url(#hc3)" opacity="0.228"/>
<rect x="1067.2" y="854.6" width="125.6" height="8.44" fill="url(#hh3)" opacity="0.375"/>
<rect x="1067.2" y="854.6" width="125.6" height="8.44" fill="url(#hc3)" opacity="0.229"/>
<rect x="1067.2" y="862.44" width="125.6" height="8.44" fill="url(#hh3)" opacity="0.377"/>
<rect x="1067.2" y="862.44" width="125.6" height="8.44" fill="url(#hc3)" opacity="0.231"/>
<rect x="1067.2" y="870.28" width="125.6" height="8.44" fill="url(#hh3)" opacity="0.378"/>
<rect x="1067.2" y="870.28" width="125.6" height="8.44" fill="url(#hc3)" opacity="0.232"/>
<rect x="1067.2" y="878.11" width="125.6" height="8.44" fill="url(#hh3)" opacity="0.379"/>
<rect x="1067.2" y="878.11" width="125.6" height="8.44" fill="url(#hc3)" opacity="0.233"/>
<rect x="1067.2" y="885.95" width="125.6" height="8.44" fill="url(#hh3)" opacity="0.381"/>
<rect x="1067.2" y="885.95" width="125.6" height="8.44" fill="url(#hc3)" opacity="0.234"/>
<rect x="1067.2" y="893.79" width="125.6" height="8.44" fill="url(#hh3)" opacity="0.382"/>
<rect x="1067.2" y="893.79" width="125.6" height="8.44" fill="url(#hc3)" opacity="0.235"/>
<rect x="1067.2" y="901.62" width="125.6" height="8.44" fill="url(#hh3)" opacity="0.383"/>
<rect x="1067.2" y="901.62" width="125.6" height="8.44" fill="url(#hc3)" opacity="0.236"/>
<rect x="1067.2" y="909.46" width="125.6" height="8.44" fill="url(#hh3)" opacity="0.385"/>
<rect x="1067.2" y="909.46" width="125.6" height="8.44" fill="url(#hc3)" opacity="0.237"/>
<rect x="1067.2" y="917.3" width="125.6" height="8.44" fill="url(#hh3)" opacity="0.386"/>
<rect x="1067.2" y="917.3" width="125.6" height="8.44" fill="url(#hc3)" opacity="0.238"/>
<rect x="1067.2" y="925.13" width="125.6" height="8.44" fill="url(#hh3)" opacity="0.387"/>
<rect x="1067.2" y="925.13" width="125.6" height="8.44" fill="url(#hc3)" opacity="0.239"/>
<rect x="1067.2" y="932.97" width="125.6" height="8.44" fill="url(#hh3)" opacity="0.389"/>
<rect x="1067.2" y="932.97" width="125.6" height="8.44" fill="url(#hc3)" opacity="0.242"/>
<rect x="1067.2" y="940.81" width="125.6" height="8.44" fill="url(#hh3)" opacity="0.390"/>
<rect x="1067.2" y="940.81" width="125.6" height="8.44" fill="url(#hc3)" opacity="0.247"/>
<rect x="1067.2" y="948.64" width="125.6" height="8.44" fill="url(#hh3)" opacity="0.391"/>
<rect x="1067.2" y="948.64" width="125.6" height="8.44" fill="url(#hc3)" opacity="0.251"/>
<rect x="1067.2" y="956.48" width="125.6" height="8.44" fill="url(#hh3)" opacity="0.393"/>
<rect x="1067.2" y="956.48" width="125.6" height="8.44" fill="url(#hc3)" opacity="0.256"/>
<rect x="1067.2" y="964.32" width="125.6" height="8.44" fill="url(#hh3)" opacity="0.394"/>
<rect x="1067.2" y="964.32" width="125.6" height="8.44" fill="url(#hc3)" opacity="0.260"/>
<rect x="1067.2" y="972.15" width="125.6" height="8.44" fill="url(#hh3)" opacity="0.395"/>
<rect x="1067.2" y="972.15" width="125.6" height="8.44" fill="url(#hc3)" opacity="0.264"/>
<rect x="1067.2" y="979.99" width="125.6" height="8.44" fill="url(#hh3)" opacity="0.397"/>
<rect x="1067.2" y="979.99" width="125.6" height="8.44" fill="url(#hc3)" opacity="0.269"/>
<rect x="1067.2" y="987.83" width="125.6" height="8.44" fill="url(#hh3)" opacity="0.398"/>
<rect x="1067.2" y="987.83" width="125.6" height="8.44" fill="url(#hc3)" opacity="0.273"/>
<rect x="1067.2" y="995.66" width="125.6" height="8.44" fill="url(#hh3)" opacity="0.399"/>
<rect x="1067.2" y="995.66" width="125.6" height="8.44" fill="url(#hc3)" opacity="0.278"/>
<line x1="1067.2" y1="573.3" x2="1192.8" y2="573.3" stroke="#b03040" stroke-width="0.6" opacity="0.05"/>
<line x1="1067.2" y1="581.53" x2="1192.8" y2="581.53" stroke="#b03040" stroke-width="0.6" opacity="0.05"/>
<line x1="1067.2" y1="589.25" x2="1192.8" y2="589.25" stroke="#b03040" stroke-width="0.6" opacity="0.11"/>
<line x1="1067.2" y1="593.44" x2="1192.8" y2="593.44" stroke="#b03040" stroke-width="0.6" opacity="0.10"/>
<line x1="1067.2" y1="601.02" x2="1192.8" y2="601.02" stroke="#b03040" stroke-width="0.6" opacity="0.10"/>
<line x1="1067.2" y1="610.35" x2="1192.8" y2="610.35" stroke="#b03040" stroke-width="0.6" opacity="0.06"/>
<line x1="1067.2" y1="621.43" x2="1192.8" y2="621.43" stroke="#b03040" stroke-width="0.6" opacity="0.07"/>
<line x1="1067.2" y1="624.65" x2="1192.8" y2="624.65" stroke="#b03040" stroke-width="0.6" opacity="0.04"/>
<line x1="1067.2" y1="632.08" x2="1192.8" y2="632.08" stroke="#b03040" stroke-width="0.6" opacity="0.07"/>
<line x1="1067.2" y1="637.8" x2="1192.8" y2="637.8" stroke="#b03040" stroke-width="0.6" opacity="0.05"/>
<line x1="1067.2" y1="643.89" x2="1192.8" y2="643.89" stroke="#b03040" stroke-width="0.6" opacity="0.06"/>
<line x1="1067.2" y1="654.46" x2="1192.8" y2="654.46" stroke="#b03040" stroke-width="0.6" opacity="0.04"/>
<line x1="1067.2" y1="664.21" x2="1192.8" y2="664.21" stroke="#b03040" stroke-width="0.6" opacity="0.10"/>
<line x1="1067.2" y1="668.29" x2="1192.8" y2="668.29" stroke="#b03040" stroke-width="0.6" opacity="0.10"/>
<line x1="1067.2" y1="677.71" x2="1192.8" y2="677.71" stroke="#b03040" stroke-width="0.6" opacity="0.10"/>
<line x1="1067.2" y1="683.32" x2="1192.8" y2="683.32" stroke="#b03040" stroke-width="0.6" opacity="0.11"/>
<line x1="1067.2" y1="689.85" x2="1192.8" y2="689.85" stroke="#b03040" stroke-width="0.6" opacity="0.15"/>
<line x1="1067.2" y1="698.16" x2="1192.8" y2="698.16" stroke="#b03040" stroke-width="0.6" opacity="0.11"/>
<line x1="1067.2" y1="705.01" x2="1192.8" y2="705.01" stroke="#b03040" stroke-width="0.6" opacity="0.10"/>
<line x1="1067.2" y1="708.44" x2="1192.8" y2="708.44" stroke="#b03040" stroke-width="0.6" opacity="0.09"/>
<line x1="1067.2" y1="718.96" x2="1192.8" y2="718.96" stroke="#b03040" stroke-width="0.6" opacity="0.10"/>
<line x1="1067.2" y1="730.38" x2="1192.8" y2="730.38" stroke="#b03040" stroke-width="0.6" opacity="0.10"/>
<line x1="1067.2" y1="735.77" x2="1192.8" y2="735.77" stroke="#b03040" stroke-width="0.6" opacity="0.12"/>
<line x1="1067.2" y1="740.48" x2="1192.8" y2="740.48" stroke="#b03040" stroke-width="0.6" opacity="0.11"/>
<line x1="1067.2" y1="752.08" x2="1192.8" y2="752.08" stroke="#b03040" stroke-width="0.6" opacity="0.14"/>
<line x1="1067.2" y1="762.39" x2="1192.8" y2="762.39" stroke="#b03040" stroke-width="0.6" opacity="0.12"/>
<line x1="1067.2" y1="773.61" x2="1192.8" y2="773.61" stroke="#b03040" stroke-width="0.6" opacity="0.15"/>
<line x1="1067.2" y1="781.55" x2="1192.8" y2="781.55" stroke="#b03040" stroke-width="0.6" opacity="0.13"/>
<line x1="1067.2" y1="785" x2="1192.8" y2="785" stroke="#b03040" stroke-width="0.6" opacity="0.13"/>
<line x1="1067.2" y1="792.06" x2="1192.8" y2="792.06" stroke="#b03040" stroke-width="0.6" opacity="0.13"/>
<line x1="1067.2" y1="800.86" x2="1192.8" y2="800.86" stroke="#b03040" stroke-width="0.6" opacity="0.10"/>
<line x1="1067.2" y1="804.3" x2="1192.8" y2="804.3" stroke="#b03040" stroke-width="0.6" opacity="0.14"/>
<line x1="1067.2" y1="808.44" x2="1192.8" y2="808.44" stroke="#b03040" stroke-width="0.6" opacity="0.11"/>
<line x1="1067.2" y1="814.54" x2="1192.8" y2="814.54" stroke="#b03040" stroke-width="0.6" opacity="0.10"/>
<line x1="1067.2" y1="824.19" x2="1192.8" y2="824.19" stroke="#b03040" stroke-width="0.6" opacity="0.15"/>
<line x1="1067.2" y1="829.53" x2="1192.8" y2="829.53" stroke="#b03040" stroke-width="0.6" opacity="0.13"/>
<line x1="1067.2" y1="835.24" x2="1192.8" y2="835.24" stroke="#b03040" stroke-width="0.6" opacity="0.12"/>
<line x1="1067.2" y1="841.79" x2="1192.8" y2="841.79" stroke="#b03040" stroke-width="0.6" opacity="0.09"/>
<line x1="1067.2" y1="846.24" x2="1192.8" y2="846.24" stroke="#b03040" stroke-width="0.6" opacity="0.09"/>
<line x1="1067.2" y1="857.39" x2="1192.8" y2="857.39" stroke="#b03040" stroke-width="0.6" opacity="0.11"/>
<line x1="1067.2" y1="862.37" x2="1192.8" y2="862.37" stroke="#b03040" stroke-width="0.6" opacity="0.14"/>
<line x1="1067.2" y1="874.34" x2="1192.8" y2="874.34" stroke="#b03040" stroke-width="0.6" opacity="0.11"/>
<line x1="1067.2" y1="878.6" x2="1192.8" y2="878.6" stroke="#b03040" stroke-width="0.6" opacity="0.09"/>
<line x1="1067.2" y1="882.42" x2="1192.8" y2="882.42" stroke="#b03040" stroke-width="0.6" opacity="0.10"/>
<line x1="1067.2" y1="886.24" x2="1192.8" y2="886.24" stroke="#b03040" stroke-width="0.6" opacity="0.10"/>
<line x1="1067.2" y1="891.56" x2="1192.8" y2="891.56" stroke="#b03040" stroke-width="0.6" opacity="0.12"/>
<line x1="1067.2" y1="902.55" x2="1192.8" y2="902.55" stroke="#b03040" stroke-width="0.6" opacity="0.13"/>
<line x1="1067.2" y1="909.26" x2="1192.8" y2="909.26" stroke="#b03040" stroke-width="0.6" opacity="0.11"/>
<line x1="1067.2" y1="916.98" x2="1192.8" y2="916.98" stroke="#b03040" stroke-width="0.6" opacity="0.11"/>
<line x1="1067.2" y1="923.02" x2="1192.8" y2="923.02" stroke="#b03040" stroke-width="0.6" opacity="0.08"/>
<line x1="1067.2" y1="928.52" x2="1192.8" y2="928.52" stroke="#b03040" stroke-width="0.6" opacity="0.15"/>
<line x1="1067.2" y1="932.65" x2="1192.8" y2="932.65" stroke="#b03040" stroke-width="0.6" opacity="0.12"/>
<line x1="1067.2" y1="941.32" x2="1192.8" y2="941.32" stroke="#b03040" stroke-width="0.6" opacity="0.14"/>
<line x1="1067.2" y1="946.26" x2="1192.8" y2="946.26" stroke="#b03040" stroke-width="0.6" opacity="0.10"/>
<line x1="1067.2" y1="951.5" x2="1192.8" y2="951.5" stroke="#b03040" stroke-width="0.6" opacity="0.11"/>
<line x1="1067.2" y1="958.51" x2="1192.8" y2="958.51" stroke="#b03040" stroke-width="0.6" opacity="0.15"/>
<line x1="1067.2" y1="969.15" x2="1192.8" y2="969.15" stroke="#b03040" stroke-width="0.6" opacity="0.14"/>
<line x1="1067.2" y1="972.35" x2="1192.8" y2="972.35" stroke="#b03040" stroke-width="0.6" opacity="0.08"/>
<line x1="1067.2" y1="981.73" x2="1192.8" y2="981.73" stroke="#b03040" stroke-width="0.6" opacity="0.14"/>
<line x1="1067.2" y1="988.99" x2="1192.8" y2="988.99" stroke="#b03040" stroke-width="0.6" opacity="0.12"/>
<line x1="1067.2" y1="991.99" x2="1192.8" y2="991.99" stroke="#b03040" stroke-width="0.6" opacity="0.11"/>
<line x1="1117.7" y1="593.3" x2="1139.3" y2="593.3" stroke="#c01020" stroke-width="0.7" opacity="0.13"/>
<line x1="1117.7" y1="605.85" x2="1139.3" y2="605.85" stroke="#c01020" stroke-width="0.7" opacity="0.15"/>
<line x1="1117.7" y1="612.34" x2="1139.3" y2="612.34" stroke="#c01020" stroke-width="0.7" opacity="0.07"/>
<line x1="1117.7" y1="617.88" x2="1139.3" y2="617.88" stroke="#c01020" stroke-width="0.7" opacity="0.11"/>
<line x1="1117.7" y1="628.7" x2="1139.3" y2="628.7" stroke="#c01020" stroke-width="0.7" opacity="0.16"/>
<line x1="1117.7" y1="639.92" x2="1139.3" y2="639.92" stroke="#c01020" stroke-width="0.7" opacity="0.14"/>
<line x1="1117.7" y1="651.57" x2="1139.3" y2="651.57" stroke="#c01020" stroke-width="0.7" opacity="0.12"/>
<line x1="1117.7" y1="661.08" x2="1139.3" y2="661.08" stroke="#c01020" stroke-width="0.7" opacity="0.07"/>
<line x1="1117.7" y1="672.91" x2="1139.3" y2="672.91" stroke="#c01020" stroke-width="0.7" opacity="0.10"/>
<line x1="1117.7" y1="686.11" x2="1139.3" y2="686.11" stroke="#c01020" stroke-width="0.7" opacity="0.16"/>
<line x1="1117.7" y1="693.14" x2="1139.3" y2="693.14" stroke="#c01020" stroke-width="0.7" opacity="0.09"/>
<line x1="1117.7" y1="699.66" x2="1139.3" y2="699.66" stroke="#c01020" stroke-width="0.7" opacity="0.16"/>
<line x1="1117.7" y1="710.65" x2="1139.3" y2="710.65" stroke="#c01020" stroke-width="0.7" opacity="0.09"/>
<line x1="1117.7" y1="715.35" x2="1139.3" y2="715.35" stroke="#c01020" stroke-width="0.7" opacity="0.15"/>
<line x1="1117.7" y1="725.18" x2="1139.3" y2="725.18" stroke="#c01020" stroke-width="0.7" opacity="0.14"/>
<line x1="1117.7" y1="731.42" x2="1139.3" y2="731.42" stroke="#c01020" stroke-width="0.7" opacity="0.17"/>
<line x1="1117.7" y1="735.52" x2="1139.3" y2="735.52" stroke="#c01020" stroke-width="0.7" opacity="0.13"/>
<line x1="1117.7" y1="744.13" x2="1139.3" y2="744.13" stroke="#c01020" stroke-width="0.7" opacity="0.23"/>
<line x1="1117.7" y1="754.57" x2="1139.3" y2="754.57" stroke="#c01020" stroke-width="0.7" opacity="0.23"/>
<line x1="1117.7" y1="763.33" x2="1139.3" y2="763.33" stroke="#c01020" stroke-width="0.7" opacity="0.13"/>
<line x1="1117.7" y1="769.8" x2="1139.3" y2="769.8" stroke="#c01020" stroke-width="0.7" opacity="0.25"/>
<line x1="1117.7" y1="780.84" x2="1139.3" y2="780.84" stroke="#c01020" stroke-width="0.7" opacity="0.14"/>
<line x1="1117.7" y1="785.06" x2="1139.3" y2="785.06" stroke="#c01020" stroke-width="0.7" opacity="0.18"/>
<line x1="1117.7" y1="795.81" x2="1139.3" y2="795.81" stroke="#c01020" stroke-width="0.7" opacity="0.17"/>
<line x1="1117.7" y1="802.38" x2="1139.3" y2="802.38" stroke="#c01020" stroke-width="0.7" opacity="0.21"/>
<line x1="1117.7" y1="815.63" x2="1139.3" y2="815.63" stroke="#c01020" stroke-width="0.7" opacity="0.14"/>
<line x1="1117.7" y1="819.97" x2="1139.3" y2="819.97" stroke="#c01020" stroke-width="0.7" opacity="0.16"/>
<line x1="1117.7" y1="828.18" x2="1139.3" y2="828.18" stroke="#c01020" stroke-width="0.7" opacity="0.23"/>
<line x1="1117.7" y1="834.16" x2="1139.3" y2="834.16" stroke="#c01020" stroke-width="0.7" opacity="0.25"/>
<line x1="1117.7" y1="845.55" x2="1139.3" y2="845.55" stroke="#c01020" stroke-width="0.7" opacity="0.20"/>
<line x1="1117.7" y1="851.6" x2="1139.3" y2="851.6" stroke="#c01020" stroke-width="0.7" opacity="0.30"/>
<line x1="1117.7" y1="858.72" x2="1139.3" y2="858.72" stroke="#c01020" stroke-width="0.7" opacity="0.27"/>
<line x1="1117.7" y1="865.03" x2="1139.3" y2="865.03" stroke="#c01020" stroke-width="0.7" opacity="0.15"/>
<line x1="1117.7" y1="876.63" x2="1139.3" y2="876.63" stroke="#c01020" stroke-width="0.7" opacity="0.17"/>
<line x1="1117.7" y1="890.15" x2="1139.3" y2="890.15" stroke="#c01020" stroke-width="0.7" opacity="0.22"/>
<line x1="1117.7" y1="896.02" x2="1139.3" y2="896.02" stroke="#c01020" stroke-width="0.7" opacity="0.16"/>
<line x1="1117.7" y1="904.19" x2="1139.3" y2="904.19" stroke="#c01020" stroke-width="0.7" opacity="0.26"/>
<line x1="1117.7" y1="917.68" x2="1139.3" y2="917.68" stroke="#c01020" stroke-width="0.7" opacity="0.15"/>
<line x1="1117.7" y1="925.62" x2="1139.3" y2="925.62" stroke="#c01020" stroke-width="0.7" opacity="0.17"/>
<line x1="1117.7" y1="939.36" x2="1139.3" y2="939.36" stroke="#c01020" stroke-width="0.7" opacity="0.16"/>
<line x1="1117.7" y1="943.88" x2="1139.3" y2="943.88" stroke="#c01020" stroke-width="0.7" opacity="0.14"/>
<line x1="1117.7" y1="951.81" x2="1139.3" y2="951.81" stroke="#c01020" stroke-width="0.7" opacity="0.34"/>
<line x1="1117.7" y1="964.64" x2="1139.3" y2="964.64" stroke="#c01020" stroke-width="0.7" opacity="0.31"/>
<line x1="1117.7" y1="978.62" x2="1139.3" y2="978.62" stroke="#c01020" stroke-width="0.7" opacity="0.36"/>
<line x1="1117.7" y1="985.91" x2="1139.3" y2="985.91" stroke="#c01020" stroke-width="0.7" opacity="0.18"/>
<line x1="1117.7" y1="999.27" x2="1139.3" y2="999.27" stroke="#c01020" stroke-width="0.7" opacity="0.33"/>
<rect x="1064.2" y="521.8" width="131.6" height="2.4" fill="url(#topbar)"/>
<line x1="1064.2" y1="524.6" x2="1195.8" y2="524.6" stroke="#333" stroke-width="0.6"/>
<line x1="1119" y1="520" x2="1141" y2="520" stroke="#aaa" stroke-width="0.8"/>
<line x1="1113" y1="531" x2="1147" y2="531" stroke="#777" stroke-width="0.9"/>
<line x1="1064.2" y1="1004.5" x2="1195.8" y2="1004.5" stroke="#999" stroke-width="0.7"/>
<line x1="1067.2" y1="1003.5" x2="1067.2" y2="1006.5" stroke="#555" stroke-width="0.8"/>
<line x1="1092.32" y1="1003.5" x2="1092.32" y2="1006.5" stroke="#555" stroke-width="0.8"/>
<line x1="1117.44" y1="1003.5" x2="1117.44" y2="1006.5" stroke="#555" stroke-width="0.8"/>
<line x1="1142.56" y1="1003.5" x2="1142.56" y2="1006.5" stroke="#555" stroke-width="0.8"/>
<line x1="1167.68" y1="1003.5" x2="1167.68" y2="1006.5" stroke="#555" stroke-width="0.8"/>
<line x1="1192.8" y1="1003.5" x2="1192.8" y2="1006.5" stroke="#555" stroke-width="0.8"/>
<rect x="1214.8" y="533.3" width="126.8" height="470.2" fill="#f9c8ca"/>
<rect x="1214.8" y="533.3" width="126.8" height="8.44" fill="url(#hh4)" opacity="0.197"/>
<rect x="1214.8" y="533.3" width="126.8" height="8.44" fill="url(#hc4)" opacity="0.434"/>
<rect x="1214.8" y="541.14" width="126.8" height="8.44" fill="url(#hh4)" opacity="0.190"/>
<rect x="1214.8" y="541.14" width="126.8" height="8.44" fill="url(#hc4)" opacity="0.403"/>
<rect x="1214.8" y="548.97" width="126.8" height="8.44" fill="url(#hh4)" opacity="0.183"/>
<rect x="1214.8" y="548.97" width="126.8" height="8.44" fill="url(#hc4)" opacity="0.372"/>
<rect x="1214.8" y="556.81" width="126.8" height="8.44" fill="url(#hh4)" opacity="0.177"/>
<rect x="1214.8" y="556.81" width="126.8" height="8.44" fill="url(#hc4)" opacity="0.341"/>
<rect x="1214.8" y="564.65" width="126.8" height="8.44" fill="url(#hh4)" opacity="0.170"/>
<rect x="1214.8" y="564.65" width="126.8" height="8.44" fill="url(#hc4)" opacity="0.309"/>
<rect x="1214.8" y="572.48" width="126.8" height="8.44" fill="url(#hh4)" opacity="0.163"/>
<rect x="1214.8" y="572.48" width="126.8" height="8.44" fill="url(#hc4)" opacity="0.288"/>
<rect x="1214.8" y="580.32" width="126.8" height="8.44" fill="url(#hh4)" opacity="0.157"/>
<rect x="1214.8" y="580.32" width="126.8" height="8.44" fill="url(#hc4)" opacity="0.270"/>
<rect x="1214.8" y="588.16" width="126.8" height="8.44" fill="url(#hh4)" opacity="0.150"/>
<rect x="1214.8" y="588.16" width="126.8" height="8.44" fill="url(#hc4)" opacity="0.252"/>
<rect x="1214.8" y="595.99" width="126.8" height="8.44" fill="url(#hh4)" opacity="0.143"/>
<rect x="1214.8" y="595.99" width="126.8" height="8.44" fill="url(#hc4)" opacity="0.235"/>
<rect x="1214.8" y="603.83" width="126.8" height="8.44" fill="url(#hh4)" opacity="0.137"/>
<rect x="1214.8" y="603.83" width="126.8" height="8.44" fill="url(#hc4)" opacity="0.217"/>
<rect x="1214.8" y="611.67" width="126.8" height="8.44" fill="url(#hh4)" opacity="0.130"/>
<rect x="1214.8" y="611.67" width="126.8" height="8.44" fill="url(#hc4)" opacity="0.199"/>
<rect x="1214.8" y="619.5" width="126.8" height="8.44" fill="url(#hh4)" opacity="0.123"/>
<rect x="1214.8" y="619.5" width="126.8" height="8.44" fill="url(#hc4)" opacity="0.182"/>
<rect x="1214.8" y="627.34" width="126.8" height="8.44" fill="url(#hh4)" opacity="0.119"/>
<rect x="1214.8" y="627.34" width="126.8" height="8.44" fill="url(#hc4)" opacity="0.164"/>
<rect x="1214.8" y="635.18" width="126.8" height="8.44" fill="url(#hh4)" opacity="0.118"/>
<rect x="1214.8" y="635.18" width="126.8" height="8.44" fill="url(#hc4)" opacity="0.146"/>
<rect x="1214.8" y="643.01" width="126.8" height="8.44" fill="url(#hh4)" opacity="0.117"/>
<rect x="1214.8" y="643.01" width="126.8" height="8.44" fill="url(#hc4)" opacity="0.129"/>
<rect x="1214.8" y="650.85" width="126.8" height="8.44" fill="url(#hh4)" opacity="0.116"/>
<rect x="1214.8" y="650.85" width="126.8" height="8.44" fill="url(#hc4)" opacity="0.118"/>
<rect x="1214.8" y="658.69" width="126.8" height="8.44" fill="url(#hh4)" opacity="0.115"/>
<rect x="1214.8" y="658.69" width="126.8" height="8.44" fill="url(#hc4)" opacity="0.113"/>
<rect x="1214.8" y="666.52" width="126.8" height="8.44" fill="url(#hh4)" opacity="0.114"/>
<rect x="1214.8" y="666.52" width="126.8" height="8.44" fill="url(#hc4)" opacity="0.108"/>
<rect x="1214.8" y="674.36" width="126.8" height="8.44" fill="url(#hh4)" opacity="0.113"/>
<rect x="1214.8" y="674.36" width="126.8" height="8.44" fill="url(#hc4)" opacity="0.104"/>
<rect x="1214.8" y="682.2" width="126.8" height="8.44" fill="url(#hh4)" opacity="0.112"/>
<rect x="1214.8" y="682.2" width="126.8" height="8.44" fill="url(#hc4)" opacity="0.099"/>
<rect x="1214.8" y="690.03" width="126.8" height="8.44" fill="url(#hh4)" opacity="0.111"/>
<rect x="1214.8" y="690.03" width="126.8" height="8.44" fill="url(#hc4)" opacity="0.094"/>
<rect x="1214.8" y="697.87" width="126.8" height="8.44" fill="url(#hh4)" opacity="0.109"/>
<rect x="1214.8" y="697.87" width="126.8" height="8.44" fill="url(#hc4)" opacity="0.090"/>
<rect x="1214.8" y="705.71" width="126.8" height="8.44" fill="url(#hh4)" opacity="0.108"/>
<rect x="1214.8" y="705.71" width="126.8" height="8.44" fill="url(#hc4)" opacity="0.085"/>
<rect x="1214.8" y="713.54" width="126.8" height="8.44" fill="url(#hh4)" opacity="0.107"/>
<rect x="1214.8" y="713.54" width="126.8" height="8.44" fill="url(#hc4)" opacity="0.080"/>
<rect x="1214.8" y="721.38" width="126.8" height="8.44" fill="url(#hh4)" opacity="0.106"/>
<rect x="1214.8" y="721.38" width="126.8" height="8.44" fill="url(#hc4)" opacity="0.076"/>
<rect x="1214.8" y="729.22" width="126.8" height="8.44" fill="url(#hh4)" opacity="0.105"/>
<rect x="1214.8" y="729.22" width="126.8" height="8.44" fill="url(#hc4)" opacity="0.071"/>
<rect x="1214.8" y="737.05" width="126.8" height="8.44" fill="url(#hh4)" opacity="0.104"/>
<rect x="1214.8" y="737.05" width="126.8" height="8.44" fill="url(#hc4)" opacity="0.066"/>
<rect x="1214.8" y="744.89" width="126.8" height="8.44" fill="url(#hh4)" opacity="0.103"/>
<rect x="1214.8" y="744.89" width="126.8" height="8.44" fill="url(#hc4)" opacity="0.062"/>
<rect x="1214.8" y="752.73" width="126.8" height="8.44" fill="url(#hh4)" opacity="0.102"/>
<rect x="1214.8" y="752.73" width="126.8" height="8.44" fill="url(#hc4)" opacity="0.057"/>
<rect x="1214.8" y="760.56" width="126.8" height="8.44" fill="url(#hh4)" opacity="0.101"/>
<rect x="1214.8" y="760.56" width="126.8" height="8.44" fill="url(#hc4)" opacity="0.052"/>
<rect x="1214.8" y="768.4" width="126.8" height="8.44" fill="url(#hh4)" opacity="0.101"/>
<rect x="1214.8" y="768.4" width="126.8" height="8.44" fill="url(#hc4)" opacity="0.050"/>
<rect x="1214.8" y="776.24" width="126.8" height="8.44" fill="url(#hh4)" opacity="0.102"/>
<rect x="1214.8" y="776.24" width="126.8" height="8.44" fill="url(#hc4)" opacity="0.051"/>
<rect x="1214.8" y="784.07" width="126.8" height="8.44" fill="url(#hh4)" opacity="0.103"/>
<rect x="1214.8" y="784.07" width="126.8" height="8.44" fill="url(#hc4)" opacity="0.052"/>
<rect x="1214.8" y="791.91" width="126.8" height="8.44" fill="url(#hh4)" opacity="0.104"/>
<rect x="1214.8" y="791.91" width="126.8" height="8.44" fill="url(#hc4)" opacity="0.052"/>
<rect x="1214.8" y="799.75" width="126.8" height="8.44" fill="url(#hh4)" opacity="0.105"/>
<rect x="1214.8" y="799.75" width="126.8" height="8.44" fill="url(#hc4)" opacity="0.053"/>
<rect x="1214.8" y="807.58" width="126.8" height="8.44" fill="url(#hh4)" opacity="0.106"/>
<rect x="1214.8" y="807.58" width="126.8" height="8.44" fill="url(#hc4)" opacity="0.054"/>
<rect x="1214.8" y="815.42" width="126.8" height="8.44" fill="url(#hh4)" opacity="0.106"/>
<rect x="1214.8" y="815.42" width="126.8" height="8.44" fill="url(#hc4)" opacity="0.054"/>
<rect x="1214.8" y="823.26" width="126.8" height="8.44" fill="url(#hh4)" opacity="0.108"/>
<rect x="1214.8" y="823.26" width="126.8" height="8.44" fill="url(#hc4)" opacity="0.055"/>
<rect x="1214.8" y="831.09" width="126.8" height="8.44" fill="url(#hh4)" opacity="0.109"/>
<rect x="1214.8" y="831.09" width="126.8" height="8.44" fill="url(#hc4)" opacity="0.056"/>
<rect x="1214.8" y="838.93" width="126.8" height="8.44" fill="url(#hh4)" opacity="0.110"/>
<rect x="1214.8" y="838.93" width="126.8" height="8.44" fill="url(#hc4)" opacity="0.056"/>
<rect x="1214.8" y="846.77" width="126.8" height="8.44" fill="url(#hh4)" opacity="0.111"/>
<rect x="1214.8" y="846.77" width="126.8" height="8.44" fill="url(#hc4)" opacity="0.057"/>
<rect x="1214.8" y="854.6" width="126.8" height="8.44" fill="url(#hh4)" opacity="0.112"/>
<rect x="1214.8" y="854.6" width="126.8" height="8.44" fill="url(#hc4)" opacity="0.058"/>
<rect x="1214.8" y="862.44" width="126.8" height="8.44" fill="url(#hh4)" opacity="0.113"/>
<rect x="1214.8" y="862.44" width="126.8" height="8.44" fill="url(#hc4)" opacity="0.058"/>
<rect x="1214.8" y="870.28" width="126.8" height="8.44" fill="url(#hh4)" opacity="0.114"/>
<rect x="1214.8" y="870.28" width="126.8" height="8.44" fill="url(#hc4)" opacity="0.059"/>
<rect x="1214.8" y="878.11" width="126.8" height="8.44" fill="url(#hh4)" opacity="0.115"/>
<rect x="1214.8" y="878.11" width="126.8" height="8.44" fill="url(#hc4)" opacity="0.060"/>
<rect x="1214.8" y="885.95" width="126.8" height="8.44" fill="url(#hh4)" opacity="0.116"/>
<rect x="1214.8" y="885.95" width="126.8" height="8.44" fill="url(#hc4)" opacity="0.060"/>
<rect x="1214.8" y="893.79" width="126.8" height="8.44" fill="url(#hh4)" opacity="0.117"/>
<rect x="1214.8" y="893.79" width="126.8" height="8.44" fill="url(#hc4)" opacity="0.061"/>
<rect x="1214.8" y="901.62" width="126.8" height="8.44" fill="url(#hh4)" opacity="0.118"/>
<rect x="1214.8" y="901.62" width="126.8" height="8.44" fill="url(#hc4)" opacity="0.062"/>
<rect x="1214.8" y="909.46" width="126.8" height="8.44" fill="url(#hh4)" opacity="0.119"/>
<rect x="1214.8" y="909.46" width="126.8" height="8.44" fill="url(#hc4)" opacity="0.062"/>
<rect x="1214.8" y="917.3" width="126.8" height="8.44" fill="url(#hh4)" opacity="0.119"/>
<rect x="1214.8" y="917.3" width="126.8" height="8.44" fill="url(#hc4)" opacity="0.063"/>
<rect x="1214.8" y="925.13" width="126.8" height="8.44" fill="url(#hh4)" opacity="0.121"/>
<rect x="1214.8" y="925.13" width="126.8" height="8.44" fill="url(#hc4)" opacity="0.064"/>
<rect x="1214.8" y="932.97" width="126.8" height="8.44" fill="url(#hh4)" opacity="0.121"/>
<rect x="1214.8" y="932.97" width="126.8" height="8.44" fill="url(#hc4)" opacity="0.064"/>
<rect x="1214.8" y="940.81" width="126.8" height="8.44" fill="url(#hh4)" opacity="0.122"/>
<rect x="1214.8" y="940.81" width="126.8" height="8.44" fill="url(#hc4)" opacity="0.065"/>
<rect x="1214.8" y="948.64" width="126.8" height="8.44" fill="url(#hh4)" opacity="0.124"/>
<rect x="1214.8" y="948.64" width="126.8" height="8.44" fill="url(#hc4)" opacity="0.066"/>
<rect x="1214.8" y="956.48" width="126.8" height="8.44" fill="url(#hh4)" opacity="0.124"/>
<rect x="1214.8" y="956.48" width="126.8" height="8.44" fill="url(#hc4)" opacity="0.066"/>
<rect x="1214.8" y="964.32" width="126.8" height="8.44" fill="url(#hh4)" opacity="0.126"/>
<rect x="1214.8" y="964.32" width="126.8" height="8.44" fill="url(#hc4)" opacity="0.067"/>
<rect x="1214.8" y="972.15" width="126.8" height="8.44" fill="url(#hh4)" opacity="0.127"/>
<rect x="1214.8" y="972.15" width="126.8" height="8.44" fill="url(#hc4)" opacity="0.068"/>
<rect x="1214.8" y="979.99" width="126.8" height="8.44" fill="url(#hh4)" opacity="0.128"/>
<rect x="1214.8" y="979.99" width="126.8" height="8.44" fill="url(#hc4)" opacity="0.068"/>
<rect x="1214.8" y="987.83" width="126.8" height="8.44" fill="url(#hh4)" opacity="0.129"/>
<rect x="1214.8" y="987.83" width="126.8" height="8.44" fill="url(#hc4)" opacity="0.069"/>
<rect x="1214.8" y="995.66" width="126.8" height="8.44" fill="url(#hh4)" opacity="0.130"/>
<rect x="1214.8" y="995.66" width="126.8" height="8.44" fill="url(#hc4)" opacity="0.070"/>
<line x1="1214.8" y1="573.3" x2="1341.6" y2="573.3" stroke="#b03040" stroke-width="0.6" opacity="0.09"/>
<line x1="1214.8" y1="579.71" x2="1341.6" y2="579.71" stroke="#b03040" stroke-width="0.6" opacity="0.07"/>
<line x1="1214.8" y1="585.69" x2="1341.6" y2="585.69" stroke="#b03040" stroke-width="0.6" opacity="0.05"/>
<line x1="1214.8" y1="588.72" x2="1341.6" y2="588.72" stroke="#b03040" stroke-width="0.6" opacity="0.06"/>
<line x1="1214.8" y1="594.88" x2="1341.6" y2="594.88" stroke="#b03040" stroke-width="0.6" opacity="0.11"/>
<line x1="1214.8" y1="599" x2="1341.6" y2="599" stroke="#b03040" stroke-width="0.6" opacity="0.11"/>
<line x1="1214.8" y1="603.86" x2="1341.6" y2="603.86" stroke="#b03040" stroke-width="0.6" opacity="0.06"/>
<line x1="1214.8" y1="614.26" x2="1341.6" y2="614.26" stroke="#b03040" stroke-width="0.6" opacity="0.10"/>
<line x1="1214.8" y1="621.15" x2="1341.6" y2="621.15" stroke="#b03040" stroke-width="0.6" opacity="0.04"/>
<line x1="1214.8" y1="628.41" x2="1341.6" y2="628.41" stroke="#b03040" stroke-width="0.6" opacity="0.07"/>
<line x1="1214.8" y1="639.68" x2="1341.6" y2="639.68" stroke="#b03040" stroke-width="0.6" opacity="0.05"/>
<line x1="1214.8" y1="645.96" x2="1341.6" y2="645.96" stroke="#b03040" stroke-width="0.6" opacity="0.10"/>
<line x1="1214.8" y1="649.24" x2="1341.6" y2="649.24" stroke="#b03040" stroke-width="0.6" opacity="0.07"/>
<line x1="1214.8" y1="659.54" x2="1341.6" y2="659.54" stroke="#b03040" stroke-width="0.6" opacity="0.09"/>
<line x1="1214.8" y1="662.91" x2="1341.6" y2="662.91" stroke="#b03040" stroke-width="0.6" opacity="0.04"/>
<line x1="1214.8" y1="666.47" x2="1341.6" y2="666.47" stroke="#b03040" stroke-width="0.6" opacity="0.10"/>
<line x1="1214.8" y1="671.78" x2="1341.6" y2="671.78" stroke="#b03040" stroke-width="0.6" opacity="0.09"/>
<line x1="1214.8" y1="682.87" x2="1341.6" y2="682.87" stroke="#b03040" stroke-width="0.6" opacity="0.06"/>
<line x1="1214.8" y1="688.32" x2="1341.6" y2="688.32" stroke="#b03040" stroke-width="0.6" opacity="0.15"/>
<line x1="1214.8" y1="696.87" x2="1341.6" y2="696.87" stroke="#b03040" stroke-width="0.6" opacity="0.10"/>
<line x1="1214.8" y1="706.32" x2="1341.6" y2="706.32" stroke="#b03040" stroke-width="0.6" opacity="0.10"/>
<line x1="1214.8" y1="711.81" x2="1341.6" y2="711.81" stroke="#b03040" stroke-width="0.6" opacity="0.08"/>
<line x1="1214.8" y1="721.61" x2="1341.6" y2="721.61" stroke="#b03040" stroke-width="0.6" opacity="0.14"/>
<line x1="1214.8" y1="730.31" x2="1341.6" y2="730.31" stroke="#b03040" stroke-width="0.6" opacity="0.15"/>
<line x1="1214.8" y1="733.53" x2="1341.6" y2="733.53" stroke="#b03040" stroke-width="0.6" opacity="0.10"/>
<line x1="1214.8" y1="740.81" x2="1341.6" y2="740.81" stroke="#b03040" stroke-width="0.6" opacity="0.15"/>
<line x1="1214.8" y1="752.39" x2="1341.6" y2="752.39" stroke="#b03040" stroke-width="0.6" opacity="0.11"/>
<line x1="1214.8" y1="757.65" x2="1341.6" y2="757.65" stroke="#b03040" stroke-width="0.6" opacity="0.11"/>
<line x1="1214.8" y1="765.09" x2="1341.6" y2="765.09" stroke="#b03040" stroke-width="0.6" opacity="0.14"/>
<line x1="1214.8" y1="769.74" x2="1341.6" y2="769.74" stroke="#b03040" stroke-width="0.6" opacity="0.14"/>
<line x1="1214.8" y1="779.39" x2="1341.6" y2="779.39" stroke="#b03040" stroke-width="0.6" opacity="0.14"/>
<line x1="1214.8" y1="789.34" x2="1341.6" y2="789.34" stroke="#b03040" stroke-width="0.6" opacity="0.12"/>
<line x1="1214.8" y1="795.29" x2="1341.6" y2="795.29" stroke="#b03040" stroke-width="0.6" opacity="0.10"/>
<line x1="1214.8" y1="801.55" x2="1341.6" y2="801.55" stroke="#b03040" stroke-width="0.6" opacity="0.13"/>
<line x1="1214.8" y1="805.26" x2="1341.6" y2="805.26" stroke="#b03040" stroke-width="0.6" opacity="0.09"/>
<line x1="1214.8" y1="815.03" x2="1341.6" y2="815.03" stroke="#b03040" stroke-width="0.6" opacity="0.10"/>
<line x1="1214.8" y1="818.62" x2="1341.6" y2="818.62" stroke="#b03040" stroke-width="0.6" opacity="0.08"/>
<line x1="1214.8" y1="826.59" x2="1341.6" y2="826.59" stroke="#b03040" stroke-width="0.6" opacity="0.10"/>
<line x1="1214.8" y1="838.41" x2="1341.6" y2="838.41" stroke="#b03040" stroke-width="0.6" opacity="0.14"/>
<line x1="1214.8" y1="850.3" x2="1341.6" y2="850.3" stroke="#b03040" stroke-width="0.6" opacity="0.10"/>
<line x1="1214.8" y1="854.06" x2="1341.6" y2="854.06" stroke="#b03040" stroke-width="0.6" opacity="0.09"/>
<line x1="1214.8" y1="861.55" x2="1341.6" y2="861.55" stroke="#b03040" stroke-width="0.6" opacity="0.13"/>
<line x1="1214.8" y1="868.57" x2="1341.6" y2="868.57" stroke="#b03040" stroke-width="0.6" opacity="0.10"/>
<line x1="1214.8" y1="875.32" x2="1341.6" y2="875.32" stroke="#b03040" stroke-width="0.6" opacity="0.12"/>
<line x1="1214.8" y1="884.39" x2="1341.6" y2="884.39" stroke="#b03040" stroke-width="0.6" opacity="0.13"/>
<line x1="1214.8" y1="895.01" x2="1341.6" y2="895.01" stroke="#b03040" stroke-width="0.6" opacity="0.13"/>
<line x1="1214.8" y1="899.1" x2="1341.6" y2="899.1" stroke="#b03040" stroke-width="0.6" opacity="0.14"/>
<line x1="1214.8" y1="904.75" x2="1341.6" y2="904.75" stroke="#b03040" stroke-width="0.6" opacity="0.12"/>
<line x1="1214.8" y1="911.1" x2="1341.6" y2="911.1" stroke="#b03040" stroke-width="0.6" opacity="0.13"/>
<line x1="1214.8" y1="915.89" x2="1341.6" y2="915.89" stroke="#b03040" stroke-width="0.6" opacity="0.10"/>
<line x1="1214.8" y1="921.1" x2="1341.6" y2="921.1" stroke="#b03040" stroke-width="0.6" opacity="0.09"/>
<line x1="1214.8" y1="932.06" x2="1341.6" y2="932.06" stroke="#b03040" stroke-width="0.6" opacity="0.12"/>
<line x1="1214.8" y1="938" x2="1341.6" y2="938" stroke="#b03040" stroke-width="0.6" opacity="0.11"/>
<line x1="1214.8" y1="949.93" x2="1341.6" y2="949.93" stroke="#b03040" stroke-width="0.6" opacity="0.12"/>
<line x1="1214.8" y1="955.01" x2="1341.6" y2="955.01" stroke="#b03040" stroke-width="0.6" opacity="0.14"/>
<line x1="1214.8" y1="963.89" x2="1341.6" y2="963.89" stroke="#b03040" stroke-width="0.6" opacity="0.15"/>
<line x1="1214.8" y1="967.81" x2="1341.6" y2="967.81" stroke="#b03040" stroke-width="0.6" opacity="0.11"/>
<line x1="1214.8" y1="978.18" x2="1341.6" y2="978.18" stroke="#b03040" stroke-width="0.6" opacity="0.14"/>
<line x1="1214.8" y1="989.41" x2="1341.6" y2="989.41" stroke="#b03040" stroke-width="0.6" opacity="0.08"/>
<line x1="1214.8" y1="995.06" x2="1341.6" y2="995.06" stroke="#b03040" stroke-width="0.6" opacity="0.09"/>
<line x1="1214.8" y1="999.76" x2="1341.6" y2="999.76" stroke="#b03040" stroke-width="0.6" opacity="0.15"/>
<line x1="1270.2" y1="593.3" x2="1287.8" y2="593.3" stroke="#c01020" stroke-width="0.7" opacity="0.07"/>
<line x1="1270.2" y1="601.02" x2="1287.8" y2="601.02" stroke="#c01020" stroke-width="0.7" opacity="0.07"/>
<line x1="1270.2" y1="609.51" x2="1287.8" y2="609.51" stroke="#c01020" stroke-width="0.7" opacity="0.04"/>
<line x1="1270.2" y1="621.29" x2="1287.8" y2="621.29" stroke="#c01020" stroke-width="0.7" opacity="0.08"/>
<line x1="1270.2" y1="626.35" x2="1287.8" y2="626.35" stroke="#c01020" stroke-width="0.7" opacity="0.06"/>
<line x1="1270.2" y1="636.55" x2="1287.8" y2="636.55" stroke="#c01020" stroke-width="0.7" opacity="0.04"/>
<line x1="1270.2" y1="644.24" x2="1287.8" y2="644.24" stroke="#c01020" stroke-width="0.7" opacity="0.04"/>
<line x1="1270.2" y1="650.28" x2="1287.8" y2="650.28" stroke="#c01020" stroke-width="0.7" opacity="0.05"/>
<line x1="1270.2" y1="660.27" x2="1287.8" y2="660.27" stroke="#c01020" stroke-width="0.7" opacity="0.07"/>
<line x1="1270.2" y1="666.3" x2="1287.8" y2="666.3" stroke="#c01020" stroke-width="0.7" opacity="0.03"/>
<line x1="1270.2" y1="673.58" x2="1287.8" y2="673.58" stroke="#c01020" stroke-width="0.7" opacity="0.08"/>
<line x1="1270.2" y1="679.43" x2="1287.8" y2="679.43" stroke="#c01020" stroke-width="0.7" opacity="0.06"/>
<line x1="1270.2" y1="685.46" x2="1287.8" y2="685.46" stroke="#c01020" stroke-width="0.7" opacity="0.09"/>
<line x1="1270.2" y1="694.94" x2="1287.8" y2="694.94" stroke="#c01020" stroke-width="0.7" opacity="0.04"/>
<line x1="1270.2" y1="699.96" x2="1287.8" y2="699.96" stroke="#c01020" stroke-width="0.7" opacity="0.06"/>
<line x1="1270.2" y1="709.46" x2="1287.8" y2="709.46" stroke="#c01020" stroke-width="0.7" opacity="0.08"/>
<line x1="1270.2" y1="714.37" x2="1287.8" y2="714.37" stroke="#c01020" stroke-width="0.7" opacity="0.05"/>
<line x1="1270.2" y1="725.32" x2="1287.8" y2="725.32" stroke="#c01020" stroke-width="0.7" opacity="0.07"/>
<line x1="1270.2" y1="732.16" x2="1287.8" y2="732.16" stroke="#c01020" stroke-width="0.7" opacity="0.06"/>
<line x1="1270.2" y1="745.69" x2="1287.8" y2="745.69" stroke="#c01020" stroke-width="0.7" opacity="0.07"/>
<line x1="1270.2" y1="755.35" x2="1287.8" y2="755.35" stroke="#c01020" stroke-width="0.7" opacity="0.07"/>
<line x1="1270.2" y1="763.52" x2="1287.8" y2="763.52" stroke="#c01020" stroke-width="0.7" opacity="0.11"/>
<line x1="1270.2" y1="777.48" x2="1287.8" y2="777.48" stroke="#c01020" stroke-width="0.7" opacity="0.08"/>
<line x1="1270.2" y1="783.46" x2="1287.8" y2="783.46" stroke="#c01020" stroke-width="0.7" opacity="0.11"/>
<line x1="1270.2" y1="789.49" x2="1287.8" y2="789.49" stroke="#c01020" stroke-width="0.7" opacity="0.05"/>
<line x1="1270.2" y1="802.51" x2="1287.8" y2="802.51" stroke="#c01020" stroke-width="0.7" opacity="0.09"/>
<line x1="1270.2" y1="814.71" x2="1287.8" y2="814.71" stroke="#c01020" stroke-width="0.7" opacity="0.09"/>
<line x1="1270.2" y1="827.54" x2="1287.8" y2="827.54" stroke="#c01020" stroke-width="0.7" opacity="0.09"/>
<line x1="1270.2" y1="833.17" x2="1287.8" y2="833.17" stroke="#c01020" stroke-width="0.7" opacity="0.05"/>
<line x1="1270.2" y1="842.68" x2="1287.8" y2="842.68" stroke="#c01020" stroke-width="0.7" opacity="0.11"/>
<line x1="1270.2" y1="855.78" x2="1287.8" y2="855.78" stroke="#c01020" stroke-width="0.7" opacity="0.06"/>
<line x1="1270.2" y1="866" x2="1287.8" y2="866" stroke="#c01020" stroke-width="0.7" opacity="0.09"/>
<line x1="1270.2" y1="875.05" x2="1287.8" y2="875.05" stroke="#c01020" stroke-width="0.7" opacity="0.07"/>
<line x1="1270.2" y1="881.88" x2="1287.8" y2="881.88" stroke="#c01020" stroke-width="0.7" opacity="0.11"/>
<line x1="1270.2" y1="895.13" x2="1287.8" y2="895.13" stroke="#c01020" stroke-width="0.7" opacity="0.07"/>
<line x1="1270.2" y1="904.04" x2="1287.8" y2="904.04" stroke="#c01020" stroke-width="0.7" opacity="0.15"/>
<line x1="1270.2" y1="917.71" x2="1287.8" y2="917.71" stroke="#c01020" stroke-width="0.7" opacity="0.08"/>
<line x1="1270.2" y1="922.97" x2="1287.8" y2="922.97" stroke="#c01020" stroke-width="0.7" opacity="0.17"/>
<line x1="1270.2" y1="936.73" x2="1287.8" y2="936.73" stroke="#c01020" stroke-width="0.7" opacity="0.12"/>
<line x1="1270.2" y1="941.26" x2="1287.8" y2="941.26" stroke="#c01020" stroke-width="0.7" opacity="0.17"/>
<line x1="1270.2" y1="949.14" x2="1287.8" y2="949.14" stroke="#c01020" stroke-width="0.7" opacity="0.17"/>
<line x1="1270.2" y1="959.35" x2="1287.8" y2="959.35" stroke="#c01020" stroke-width="0.7" opacity="0.16"/>
<line x1="1270.2" y1="964.95" x2="1287.8" y2="964.95" stroke="#c01020" stroke-width="0.7" opacity="0.16"/>
<line x1="1270.2" y1="971.17" x2="1287.8" y2="971.17" stroke="#c01020" stroke-width="0.7" opacity="0.12"/>
<line x1="1270.2" y1="983.63" x2="1287.8" y2="983.63" stroke="#c01020" stroke-width="0.7" opacity="0.17"/>
<line x1="1270.2" y1="989.46" x2="1287.8" y2="989.46" stroke="#c01020" stroke-width="0.7" opacity="0.10"/>
<line x1="1270.2" y1="997.46" x2="1287.8" y2="997.46" stroke="#c01020" stroke-width="0.7" opacity="0.13"/>
<rect x="1211.8" y="521.8" width="132.8" height="2.4" fill="url(#topbar)"/>
<line x1="1211.8" y1="524.6" x2="1344.6" y2="524.6" stroke="#333" stroke-width="0.6"/>
<line x1="1267.2" y1="520" x2="1289.2" y2="520" stroke="#aaa" stroke-width="0.8"/>
<line x1="1261.2" y1="531" x2="1295.2" y2="531" stroke="#777" stroke-width="0.9"/>
<line x1="1211.8" y1="1004.5" x2="1344.6" y2="1004.5" stroke="#999" stroke-width="0.7"/>
<line x1="1214.8" y1="1003.5" x2="1214.8" y2="1006.5" stroke="#555" stroke-width="0.8"/>
<line x1="1240.16" y1="1003.5" x2="1240.16" y2="1006.5" stroke="#555" stroke-width="0.8"/>
<line x1="1265.52" y1="1003.5" x2="1265.52" y2="1006.5" stroke="#555" stroke-width="0.8"/>
<line x1="1290.88" y1="1003.5" x2="1290.88" y2="1006.5" stroke="#555" stroke-width="0.8"/>
<line x1="1316.24" y1="1003.5" x2="1316.24" y2="1006.5" stroke="#555" stroke-width="0.8"/>
<line x1="1341.6" y1="1003.5" x2="1341.6" y2="1006.5" stroke="#555" stroke-width="0.8"/>
<line x1="804.6" y1="1025.5" x2="1008.4" y2="1025.5" stroke="#111" stroke-width="3.4"/>
<line x1="1097.3" y1="1025.5" x2="1301.1" y2="1025.5" stroke="#111" stroke-width="3.4"/>
<text x="907.3" y="1060.3" font-size="25.5" text-anchor="middle" textLength="77" lengthAdjust="spacingAndGlyphs">RUNX1</text>
<text x="1202.5" y="1060.3" font-size="25.5" text-anchor="middle" textLength="55.5" lengthAdjust="spacingAndGlyphs">ETV6</text>
<rect x="1553.8" y="549.9" width="467.6" height="384.5" fill="none" stroke="#b3b3b3" stroke-width="1.4"/>
<line x1="1744.3" y1="550" x2="1744.3" y2="934" stroke="#b8b8b8" stroke-width="1.6"/>
<line x1="1831.4" y1="550" x2="1831.4" y2="934" stroke="#b8b8b8" stroke-width="1.6"/>
<line x1="2019.5" y1="555" x2="2019.5" y2="561" stroke="#999" stroke-width="1"/>
<line x1="1548.5" y1="606.76" x2="1553.8" y2="606.76" stroke="#777" stroke-width="1.2"/>
<text x="1543" y="606.76" font-size="18.5" text-anchor="middle" fill="#333" transform="rotate(-90 1543 606.76)" textLength="34.5" lengthAdjust="spacingAndGlyphs">0.20</text>
<line x1="1548.5" y1="711.47" x2="1553.8" y2="711.47" stroke="#777" stroke-width="1.2"/>
<text x="1543" y="711.47" font-size="18.5" text-anchor="middle" fill="#333" transform="rotate(-90 1543 711.47)" textLength="34.5" lengthAdjust="spacingAndGlyphs">0.15</text>
<line x1="1548.5" y1="816.18" x2="1553.8" y2="816.18" stroke="#777" stroke-width="1.2"/>
<text x="1543" y="816.18" font-size="18.5" text-anchor="middle" fill="#333" transform="rotate(-90 1543 816.18)" textLength="34.5" lengthAdjust="spacingAndGlyphs">0.10</text>
<line x1="1548.5" y1="920.89" x2="1553.8" y2="920.89" stroke="#777" stroke-width="1.2"/>
<text x="1543" y="920.89" font-size="18.5" text-anchor="middle" fill="#333" transform="rotate(-90 1543 920.89)" textLength="34.5" lengthAdjust="spacingAndGlyphs">0.05</text>
<line x1="1571.1" y1="934.6" x2="2005.5" y2="934.6" stroke="#1a1a1a" stroke-width="2.6"/>
<line x1="1571.12" y1="933.5" x2="1571.12" y2="943.5" stroke="#1a1a1a" stroke-width="2.4"/>
<line x1="1657.88" y1="933.5" x2="1657.88" y2="943.5" stroke="#1a1a1a" stroke-width="2.4"/>
<line x1="1744.34" y1="933.5" x2="1744.34" y2="943.5" stroke="#1a1a1a" stroke-width="2.4"/>
<line x1="1831.4" y1="933.5" x2="1831.4" y2="943.5" stroke="#1a1a1a" stroke-width="2.4"/>
<line x1="1918.15" y1="933.5" x2="1918.15" y2="943.5" stroke="#1a1a1a" stroke-width="2.4"/>
<line x1="2005.51" y1="933.5" x2="2005.51" y2="943.5" stroke="#1a1a1a" stroke-width="2.4"/>
<text x="1564.24" y="970.75" font-size="18.5" text-anchor="middle" textLength="51" lengthAdjust="spacingAndGlyphs">-2250</text>
<text x="1648.6" y="970.75" font-size="18.5" text-anchor="middle" textLength="50" lengthAdjust="spacingAndGlyphs">-1125</text>
<text x="1742.84" y="970.75" font-size="18.5" text-anchor="middle" textLength="51" lengthAdjust="spacingAndGlyphs">5’End</text>
<text x="1834.39" y="970.75" font-size="18.5" text-anchor="middle" textLength="51" lengthAdjust="spacingAndGlyphs">3’End</text>
<text x="1909.18" y="973.74" font-size="18.5" text-anchor="middle" textLength="41" lengthAdjust="spacingAndGlyphs">1125</text>
<text x="1997.13" y="970.75" font-size="18.5" text-anchor="middle" textLength="45" lengthAdjust="spacingAndGlyphs">2250</text>
<text x="1785.5" y="1002.2" font-size="25.5" text-anchor="middle" textLength="273" lengthAdjust="spacingAndGlyphs">Genomic region (5’<tspan font-family="DejaVu Sans" font-size="25" font-weight="bold">→</tspan> 3’)</text>
<text x="1515.5" y="756.5" font-size="25.5" text-anchor="middle" transform="rotate(-90 1515.5 756.5)" textLength="415" lengthAdjust="spacingAndGlyphs">Read count per Million mapped reads</text>
<text x="1860.41" y="587.31" font-size="17.5" fill="#3bb48f" textLength="80" lengthAdjust="spacingAndGlyphs">DMSO IgG</text>
<text x="1860.41" y="611.25" font-size="17.5" fill="#e5802f" textLength="109" lengthAdjust="spacingAndGlyphs">DMSO RUNX1</text>
<text x="1860.41" y="639.67" font-size="17.5" fill="#9694cc" textLength="93" lengthAdjust="spacingAndGlyphs">CBFi RUNX1</text>
<text x="1860.41" y="669.58" font-size="17.5" fill="#e8459a" textLength="93" lengthAdjust="spacingAndGlyphs">DMSO ETV6</text>
<text x="1860.41" y="698.01" font-size="17.5" fill="#7bb747" textLength="78" lengthAdjust="spacingAndGlyphs">CBFi ETV6</text>
<path d="M1571.12,913.41 C1579.2,913.56 1604.03,913.95 1619.58,914.3 C1635.14,914.65 1649.5,915.1 1664.46,915.5 C1679.42,915.9 1696.02,916.3 1709.33,916.7 C1722.65,917.1 1734.37,917.49 1744.34,917.89 C1754.31,918.29 1761.79,918.84 1769.17,919.09 C1776.55,919.34 1783.13,919.24 1788.61,919.39 C1794.1,919.54 1797.34,920.09 1802.08,919.99 C1806.81,919.89 1812.15,919.24 1817.04,918.79 C1821.92,918.34 1824.41,917.69 1831.4,917.3 C1838.38,916.9 1849.35,917.05 1858.92,916.4 C1868.49,915.75 1881.36,914.15 1888.84,913.41 C1896.31,912.66 1896.31,912.01 1903.79,911.91 C1911.27,911.81 1923.74,912.56 1933.71,912.81 C1943.68,913.06 1951.66,913.31 1963.63,913.41 C1975.59,913.51 1998.53,913.41 2005.51,913.41" fill="none" stroke="#3bb48f" stroke-width="2.4" stroke-linejoin="round"/>
<path d="M1571.12,910.41 C1576.7,910.66 1591.56,911.26 1604.63,911.91 C1617.69,912.56 1637.04,913.81 1649.5,914.3 C1661.97,914.8 1669.94,914.6 1679.42,914.9 C1688.89,915.2 1699.86,916.1 1706.34,916.1 C1712.82,916.1 1714.82,916.1 1718.31,914.9 C1721.8,913.71 1724.54,912.16 1727.28,908.92 C1730.03,905.68 1732.52,900.44 1734.76,895.46 C1737.01,890.47 1738,885.23 1740.75,879 C1743.49,872.77 1747.48,864.79 1751.22,858.06 C1754.96,851.33 1759.2,844.6 1763.18,838.61 C1767.17,832.63 1770.91,826 1775.15,822.16 C1779.39,818.32 1784.63,816.08 1788.61,815.58 C1792.6,815.08 1795.84,816.33 1799.09,819.17 C1802.33,822.01 1804.57,827.15 1808.06,832.63 C1811.55,838.12 1816.04,845.1 1820.03,852.08 C1824.02,859.06 1828.5,867.04 1831.99,874.51 C1835.48,881.99 1838.23,890.72 1840.97,896.95 C1843.71,903.18 1845.95,908.42 1848.45,911.91 C1850.94,915.4 1852.69,916.8 1855.93,917.89 C1859.17,918.99 1861.41,918.74 1867.89,918.49 C1874.38,918.24 1885.35,916.9 1894.82,916.4 C1904.29,915.9 1915.76,916.15 1924.74,915.5 C1933.71,914.85 1939.69,913.51 1948.67,912.51 C1957.64,911.51 1969.11,910.22 1978.59,909.52 C1988.06,908.82 2001.02,908.52 2005.51,908.32" fill="none" stroke="#7bb747" stroke-width="2.4" stroke-linejoin="round"/>
<path d="M1571.12,908.92 C1579.2,908.72 1604.03,908.22 1619.58,907.72 C1635.14,907.22 1651.99,906.63 1664.46,905.93 C1676.92,905.23 1686.9,904.43 1694.38,903.53 C1701.86,902.64 1704.85,901.74 1709.33,900.54 C1713.82,899.35 1717.81,898.05 1721.3,896.35 C1724.79,894.66 1727.28,893.26 1730.28,890.37 C1733.27,887.48 1735.76,884.29 1739.25,879 C1742.74,873.72 1747.23,865.39 1751.22,858.66 C1755.21,851.93 1759.2,845.2 1763.18,838.61 C1767.17,832.03 1771.91,824.15 1775.15,819.17 C1778.39,814.18 1780.39,811.19 1782.63,808.7 C1784.87,806.2 1786.62,804.56 1788.61,804.21 C1790.61,803.86 1792.35,804.61 1794.6,806.6 C1796.84,808.6 1799.33,811.59 1802.08,816.18 C1804.82,820.76 1807.81,828.14 1811.05,834.13 C1814.29,840.11 1818.03,846.09 1821.52,852.08 C1825.01,858.06 1828.75,864.29 1831.99,870.03 C1835.23,875.76 1837.98,881.99 1840.97,886.48 C1843.96,890.97 1845.95,894.21 1849.94,896.95 C1853.93,899.69 1858.42,901.44 1864.9,902.94 C1871.38,904.43 1879.86,905.18 1888.84,905.93 C1897.81,906.68 1908.78,906.92 1918.75,907.42 C1928.72,907.92 1938.7,908.77 1948.67,908.92 C1958.64,909.07 1969.11,908.42 1978.59,908.32 C1988.06,908.22 2001.02,908.32 2005.51,908.32" fill="none" stroke="#9694cc" stroke-width="2.4" stroke-linejoin="round"/>
<path d="M1571.12,887.98 C1576.7,887.58 1594.06,886.68 1604.63,885.58 C1615.2,884.49 1626.07,882.99 1634.54,881.4 C1643.02,879.8 1648.01,878.9 1655.48,876.01 C1662.96,873.12 1672.44,868.03 1679.42,864.04 C1686.4,860.05 1691.38,856.81 1697.37,852.08 C1703.35,847.34 1710.33,841.61 1715.32,835.62 C1720.3,829.64 1723.79,823.91 1727.28,816.18 C1730.78,808.45 1733.52,799.22 1736.26,789.25 C1739,779.28 1741.25,767.81 1743.74,756.34 C1746.23,744.87 1748.48,734.4 1751.22,720.44 C1753.96,706.48 1757.2,688.53 1760.19,672.58 C1763.18,656.62 1766.18,638.67 1769.17,624.71 C1772.16,610.75 1774.9,597.29 1778.14,588.81 C1781.38,580.33 1785.37,575.35 1788.61,573.85 C1791.86,572.35 1794.6,574.35 1797.59,579.83 C1800.58,585.32 1803.57,594.79 1806.56,606.76 C1809.56,618.73 1812.55,636.18 1815.54,651.63 C1818.53,667.09 1821.77,684.54 1824.51,699.5 C1827.26,714.46 1829.5,727.92 1831.99,741.38 C1834.49,754.85 1836.73,768.81 1839.47,780.28 C1842.22,791.74 1845.21,801.22 1848.45,810.19 C1851.69,819.17 1854.68,827.15 1858.92,834.13 C1863.16,841.11 1867.89,846.59 1873.88,852.08 C1879.86,857.56 1887.34,863.05 1894.82,867.04 C1902.3,871.02 1909.78,873.12 1918.75,876.01 C1927.73,878.9 1938.7,882.79 1948.67,884.39 C1958.64,885.98 1969.11,885.09 1978.59,885.58 C1988.06,886.08 2001.02,887.08 2005.51,887.38" fill="none" stroke="#e5802f" stroke-width="2.4" stroke-linejoin="round"/>
<path d="M1571.12,868.53 C1575.21,868.03 1586.58,866.79 1595.65,865.54 C1604.73,864.29 1616.59,862.55 1625.57,861.05 C1634.54,859.56 1642.52,858.81 1649.5,856.56 C1656.48,854.32 1661.47,850.58 1667.45,847.59 C1673.43,844.6 1679.42,841.36 1685.4,838.61 C1691.38,835.87 1697.87,834.13 1703.35,831.14 C1708.84,828.14 1714.07,825.15 1718.31,820.66 C1722.55,816.18 1725.79,811.44 1728.78,804.21 C1731.77,796.98 1733.77,788.75 1736.26,777.28 C1738.75,765.82 1741,750.36 1743.74,735.4 C1746.48,720.44 1749.72,703.49 1752.71,687.53 C1755.71,671.58 1758.7,654.63 1761.69,639.67 C1764.68,624.71 1767.67,608.75 1770.66,597.78 C1773.66,586.81 1776.65,579.09 1779.64,573.85 C1782.63,568.61 1785.62,566.62 1788.61,566.37 C1791.61,566.12 1794.6,567.12 1797.59,572.35 C1800.58,577.59 1803.57,586.56 1806.56,597.78 C1809.56,609 1812.8,625.71 1815.54,639.67 C1818.28,653.63 1820.53,667.59 1823.02,681.55 C1825.51,695.51 1828,709.47 1830.5,723.43 C1832.99,737.4 1835.23,752.35 1837.98,765.32 C1840.72,778.28 1843.96,792.24 1846.95,801.22 C1849.94,810.19 1851.94,813.68 1855.93,819.17 C1859.92,824.65 1864.4,829.64 1870.89,834.13 C1877.37,838.61 1886.84,842.85 1894.82,846.09 C1902.8,849.33 1909.78,851.08 1918.75,853.57 C1927.73,856.07 1938.7,858.91 1948.67,861.05 C1958.64,863.2 1969.11,865.44 1978.59,866.44 C1988.06,867.43 2001.02,866.94 2005.51,867.04" fill="none" stroke="#e8459a" stroke-width="2.4" stroke-linejoin="round"/>
</g>
<g id="pe">
<text x="8.5" y="1094.2" font-size="26.5">e.</text>
<text x="1352" y="1094.8" font-size="26.5">f.</text>
<line x1="152" y1="1165.9" x2="152" y2="1395.5" stroke="#ececec" stroke-width="1.3"/>
<line x1="218.6" y1="1165.9" x2="218.6" y2="1395.5" stroke="#ececec" stroke-width="1.3"/>
<line x1="285.2" y1="1165.9" x2="285.2" y2="1395.5" stroke="#ececec" stroke-width="1.3"/>
<line x1="351.9" y1="1165.9" x2="351.9" y2="1395.5" stroke="#ececec" stroke-width="1.3"/>
<line x1="417.5" y1="1165.9" x2="417.5" y2="1395.5" stroke="#ececec" stroke-width="1.3"/>
<line x1="484" y1="1165.9" x2="484" y2="1395.5" stroke="#ececec" stroke-width="1.3"/>
<line x1="550.7" y1="1165.9" x2="550.7" y2="1395.5" stroke="#ececec" stroke-width="1.3"/>
<line x1="617.3" y1="1165.9" x2="617.3" y2="1395.5" stroke="#ececec" stroke-width="1.3"/>
<line x1="638.8" y1="1162.5" x2="638.8" y2="1471.6" stroke="#9a9a9a" stroke-width="1.4"/>
<line x1="86.39" y1="1396.5" x2="86.39" y2="1446" stroke="#000000" stroke-width="2.41"/><line x1="88.71" y1="1396.5" x2="88.71" y2="1446" stroke="#404040" stroke-width="1.72"/><line x1="91.47" y1="1396.5" x2="91.47" y2="1446" stroke="#404040" stroke-width="2.43"/><line x1="92.82" y1="1396.5" x2="92.82" y2="1446" stroke="#000000" stroke-width="1.36"/><line x1="95.02" y1="1396.5" x2="95.02" y2="1446" stroke="#000000" stroke-width="2.65"/><line x1="97.3" y1="1396.5" x2="97.3" y2="1446" stroke="#000000" stroke-width="2.16"/><line x1="98.74" y1="1396.5" x2="98.74" y2="1446" stroke="#383838" stroke-width="1.32"/><line x1="101.44" y1="1396.5" x2="101.44" y2="1446" stroke="#090909" stroke-width="1.38"/><line x1="103.15" y1="1396.5" x2="103.15" y2="1446" stroke="#0d0d0d" stroke-width="2.48"/><line x1="105.88" y1="1396.5" x2="105.88" y2="1446" stroke="#323232" stroke-width="1.74"/><line x1="108.07" y1="1396.5" x2="108.07" y2="1446" stroke="#6e6e6e" stroke-width="1.7"/><line x1="111.6" y1="1396.5" x2="111.6" y2="1446" stroke="#838383" stroke-width="2.37"/><line x1="114.18" y1="1396.5" x2="114.18" y2="1446" stroke="#595959" stroke-width="2.49"/><line x1="117.66" y1="1396.5" x2="117.66" y2="1446" stroke="#5a5a5a" stroke-width="2.64"/><line x1="119.6" y1="1396.5" x2="119.6" y2="1446" stroke="#202020" stroke-width="1.3"/><line x1="122.49" y1="1396.5" x2="122.49" y2="1446" stroke="#717171" stroke-width="2.57"/><line x1="124.82" y1="1396.5" x2="124.82" y2="1446" stroke="#505050" stroke-width="2.67"/><line x1="127.79" y1="1396.5" x2="127.79" y2="1446" stroke="#595959" stroke-width="1.4"/><line x1="129.99" y1="1396.5" x2="129.99" y2="1446" stroke="#3b3b3b" stroke-width="2.39"/><line x1="132.24" y1="1396.5" x2="132.24" y2="1446" stroke="#696969" stroke-width="1.42"/><line x1="136.38" y1="1396.5" x2="136.38" y2="1446" stroke="#616161" stroke-width="2.65"/><line x1="138.86" y1="1396.5" x2="138.86" y2="1446" stroke="#3f3f3f" stroke-width="1.46"/><line x1="140.38" y1="1396.5" x2="140.38" y2="1446" stroke="#5b5b5b" stroke-width="1.6"/><line x1="143.84" y1="1396.5" x2="143.84" y2="1446" stroke="#6e6e6e" stroke-width="2.66"/><line x1="146.61" y1="1396.5" x2="146.61" y2="1446" stroke="#2a2a2a" stroke-width="1.73"/><line x1="149.63" y1="1396.5" x2="149.63" y2="1446" stroke="#202020" stroke-width="1.59"/><line x1="154.61" y1="1396.5" x2="154.61" y2="1446" stroke="#5f5f5f" stroke-width="2.5"/><line x1="156.19" y1="1396.5" x2="156.19" y2="1446" stroke="#3f3f3f" stroke-width="1.44"/><line x1="160.28" y1="1396.5" x2="160.28" y2="1446" stroke="#131313" stroke-width="1.6"/><line x1="163.13" y1="1396.5" x2="163.13" y2="1446" stroke="#707070" stroke-width="2.38"/><line x1="165.62" y1="1396.5" x2="165.62" y2="1446" stroke="#676767" stroke-width="1.71"/><line x1="170.11" y1="1396.5" x2="170.11" y2="1446" stroke="#878787" stroke-width="1.43"/><line x1="171.73" y1="1396.5" x2="171.73" y2="1446" stroke="#474747" stroke-width="1.64"/><line x1="180.25" y1="1396.5" x2="180.25" y2="1446" stroke="#9b9b9b" stroke-width="1.52"/><line x1="183.91" y1="1396.5" x2="183.91" y2="1446" stroke="#3e3e3e" stroke-width="2.44"/><line x1="188.69" y1="1396.5" x2="188.69" y2="1446" stroke="#929292" stroke-width="1.57"/><line x1="195" y1="1396.5" x2="195" y2="1446" stroke="#545454" stroke-width="2.62"/><line x1="197.78" y1="1396.5" x2="197.78" y2="1446" stroke="#999999" stroke-width="2.63"/><line x1="202.6" y1="1396.5" x2="202.6" y2="1446" stroke="#424242" stroke-width="2.14"/><line x1="208.14" y1="1396.5" x2="208.14" y2="1446" stroke="#7c7c7c" stroke-width="1.45"/><line x1="219.19" y1="1396.5" x2="219.19" y2="1446" stroke="#848484" stroke-width="2.45"/><line x1="226.62" y1="1396.5" x2="226.62" y2="1446" stroke="#595959" stroke-width="1.71"/><line x1="228.41" y1="1396.5" x2="228.41" y2="1446" stroke="#8f8f8f" stroke-width="2.31"/><line x1="234.28" y1="1396.5" x2="234.28" y2="1446" stroke="#9c9c9c" stroke-width="1.62"/><line x1="250.16" y1="1396.5" x2="250.16" y2="1446" stroke="#a8a8a8" stroke-width="2.58"/><line x1="255.78" y1="1396.5" x2="255.78" y2="1446" stroke="#b1b1b1" stroke-width="1.32"/><line x1="259.47" y1="1396.5" x2="259.47" y2="1446" stroke="#a9a9a9" stroke-width="1.92"/><line x1="267.18" y1="1396.5" x2="267.18" y2="1446" stroke="#5a5a5a" stroke-width="2.67"/><line x1="272.46" y1="1396.5" x2="272.46" y2="1446" stroke="#787878" stroke-width="2.27"/><line x1="278.05" y1="1396.5" x2="278.05" y2="1446" stroke="#818181" stroke-width="1.5"/><line x1="283.67" y1="1396.5" x2="283.67" y2="1446" stroke="#c7c7c7" stroke-width="1.33"/><line x1="286.81" y1="1396.5" x2="286.81" y2="1446" stroke="#575757" stroke-width="2.28"/><line x1="292.54" y1="1396.5" x2="292.54" y2="1446" stroke="#515151" stroke-width="1.33"/><line x1="306.95" y1="1396.5" x2="306.95" y2="1446" stroke="#c2c2c2" stroke-width="2.06"/><line x1="311.14" y1="1396.5" x2="311.14" y2="1446" stroke="#6e6e6e" stroke-width="2.56"/><line x1="316.87" y1="1396.5" x2="316.87" y2="1446" stroke="#6e6e6e" stroke-width="2.29"/><line x1="320.08" y1="1396.5" x2="320.08" y2="1446" stroke="#666666" stroke-width="2.58"/><line x1="327.47" y1="1396.5" x2="327.47" y2="1446" stroke="#9f9f9f" stroke-width="2.26"/><line x1="341.61" y1="1396.5" x2="341.61" y2="1446" stroke="#000000" stroke-width="2.52"/><line x1="351.63" y1="1396.5" x2="351.63" y2="1446" stroke="#747474" stroke-width="2.15"/><line x1="356.07" y1="1396.5" x2="356.07" y2="1446" stroke="#b5b5b5" stroke-width="2.2"/><line x1="359.69" y1="1396.5" x2="359.69" y2="1446" stroke="#404040" stroke-width="2.53"/><line x1="362.31" y1="1396.5" x2="362.31" y2="1446" stroke="#626262" stroke-width="1.84"/><line x1="365.87" y1="1396.5" x2="365.87" y2="1446" stroke="#616161" stroke-width="2.11"/><line x1="368.62" y1="1396.5" x2="368.62" y2="1446" stroke="#878787" stroke-width="2.47"/><line x1="375.03" y1="1396.5" x2="375.03" y2="1446" stroke="#bbbbbb" stroke-width="2.28"/><line x1="383.94" y1="1396.5" x2="383.94" y2="1446" stroke="#999999" stroke-width="2.16"/><line x1="386.4" y1="1396.5" x2="386.4" y2="1446" stroke="#636363" stroke-width="1.66"/><line x1="394.86" y1="1396.5" x2="394.86" y2="1446" stroke="#cccccc" stroke-width="1.72"/><line x1="400.11" y1="1396.5" x2="400.11" y2="1446" stroke="#828282" stroke-width="1.58"/><line x1="416.37" y1="1396.5" x2="416.37" y2="1446" stroke="#5a5a5a" stroke-width="1.76"/><line x1="425.19" y1="1396.5" x2="425.19" y2="1446" stroke="#777777" stroke-width="1.58"/><line x1="429.65" y1="1396.5" x2="429.65" y2="1446" stroke="#959595" stroke-width="2.43"/><line x1="434.23" y1="1396.5" x2="434.23" y2="1446" stroke="#575757" stroke-width="2.53"/><line x1="445.8" y1="1396.5" x2="445.8" y2="1446" stroke="#1b1b1b" stroke-width="2.12"/><line x1="457.11" y1="1396.5" x2="457.11" y2="1446" stroke="#060606" stroke-width="2.3"/><line x1="459.67" y1="1396.5" x2="459.67" y2="1446" stroke="#000000" stroke-width="1.69"/><line x1="463.52" y1="1396.5" x2="463.52" y2="1446" stroke="#5d5d5d" stroke-width="1.93"/><line x1="467.32" y1="1396.5" x2="467.32" y2="1446" stroke="#4f4f4f" stroke-width="1.6"/><line x1="478.14" y1="1396.5" x2="478.14" y2="1446" stroke="#858585" stroke-width="1.4"/><line x1="482.47" y1="1396.5" x2="482.47" y2="1446" stroke="#bbbbbb" stroke-width="2.52"/><line x1="485.78" y1="1396.5" x2="485.78" y2="1446" stroke="#b9b9b9" stroke-width="2.29"/><line x1="488.95" y1="1396.5" x2="488.95" y2="1446" stroke="#767676" stroke-width="1.73"/><line x1="494.21" y1="1396.5" x2="494.21" y2="1446" stroke="#5a5a5a" stroke-width="1.33"/><line x1="498.33" y1="1396.5" x2="498.33" y2="1446" stroke="#adadad" stroke-width="1.94"/><line x1="510.71" y1="1396.5" x2="510.71" y2="1446" stroke="#898989" stroke-width="2.46"/><line x1="522.77" y1="1396.5" x2="522.77" y2="1446" stroke="#6f6f6f" stroke-width="1.93"/><line x1="528.55" y1="1396.5" x2="528.55" y2="1446" stroke="#6e6e6e" stroke-width="2.22"/><line x1="534.35" y1="1396.5" x2="534.35" y2="1446" stroke="#585858" stroke-width="2.64"/><line x1="556.78" y1="1396.5" x2="556.78" y2="1446" stroke="#696969" stroke-width="1.55"/><line x1="558.35" y1="1396.5" x2="558.35" y2="1446" stroke="#a4a4a4" stroke-width="1.96"/><line x1="579.03" y1="1396.5" x2="579.03" y2="1446" stroke="#646464" stroke-width="1.55"/><line x1="593.55" y1="1396.5" x2="593.55" y2="1446" stroke="#696969" stroke-width="1.78"/><line x1="612.34" y1="1396.5" x2="612.34" y2="1446" stroke="#666666" stroke-width="2.03"/><line x1="628.57" y1="1396.5" x2="628.57" y2="1446" stroke="#575757" stroke-width="2.36"/>
<rect x="85.4" y="1446" width="163.69" height="22.6" fill="#e96a4f"/><rect x="248.69" y="1446" width="102.88" height="22.6" fill="#f4ad92"/><rect x="351.18" y="1446" width="89.9" height="22.6" fill="#fce4d8"/><rect x="440.68" y="1446" width="85.8" height="22.6" fill="#e9edf8"/><rect x="526.08" y="1446" width="37.29" height="22.6" fill="#bad5e6"/><rect x="562.98" y="1446" width="44.81" height="22.6" fill="#6eaed8"/><rect x="607.39" y="1446" width="14.75" height="22.6" fill="#3f88c6"/><rect x="621.73" y="1446" width="9.97" height="22.6" fill="#1c5ba2"/>
<line x1="86.39" y1="1446" x2="86.39" y2="1468.6" stroke="#000" stroke-width="2.41" opacity="0.12"/><line x1="88.71" y1="1446" x2="88.71" y2="1468.6" stroke="#000" stroke-width="1.72" opacity="0.12"/><line x1="91.47" y1="1446" x2="91.47" y2="1468.6" stroke="#000" stroke-width="2.43" opacity="0.12"/><line x1="92.82" y1="1446" x2="92.82" y2="1468.6" stroke="#000" stroke-width="1.36" opacity="0.12"/><line x1="95.02" y1="1446" x2="95.02" y2="1468.6" stroke="#000" stroke-width="2.65" opacity="0.12"/><line x1="97.3" y1="1446" x2="97.3" y2="1468.6" stroke="#000" stroke-width="2.16" opacity="0.12"/><line x1="98.74" y1="1446" x2="98.74" y2="1468.6" stroke="#000" stroke-width="1.32" opacity="0.12"/><line x1="101.44" y1="1446" x2="101.44" y2="1468.6" stroke="#000" stroke-width="1.38" opacity="0.12"/><line x1="103.15" y1="1446" x2="103.15" y2="1468.6" stroke="#000" stroke-width="2.48" opacity="0.12"/><line x1="105.88" y1="1446" x2="105.88" y2="1468.6" stroke="#000" stroke-width="1.74" opacity="0.12"/><line x1="108.07" y1="1446" x2="108.07" y2="1468.6" stroke="#000" stroke-width="1.7" opacity="0.12"/><line x1="111.6" y1="1446" x2="111.6" y2="1468.6" stroke="#000" stroke-width="2.37" opacity="0.12"/><line x1="114.18" y1="1446" x2="114.18" y2="1468.6" stroke="#000" stroke-width="2.49" opacity="0.12"/><line x1="117.66" y1="1446" x2="117.66" y2="1468.6" stroke="#000" stroke-width="2.64" opacity="0.12"/><line x1="119.6" y1="1446" x2="119.6" y2="1468.6" stroke="#000" stroke-width="1.3" opacity="0.12"/><line x1="122.49" y1="1446" x2="122.49" y2="1468.6" stroke="#000" stroke-width="2.57" opacity="0.12"/><line x1="124.82" y1="1446" x2="124.82" y2="1468.6" stroke="#000" stroke-width="2.67" opacity="0.12"/><line x1="127.79" y1="1446" x2="127.79" y2="1468.6" stroke="#000" stroke-width="1.4" opacity="0.12"/><line x1="129.99" y1="1446" x2="129.99" y2="1468.6" stroke="#000" stroke-width="2.39" opacity="0.12"/><line x1="132.24" y1="1446" x2="132.24" y2="1468.6" stroke="#000" stroke-width="1.42" opacity="0.12"/><line x1="136.38" y1="1446" x2="136.38" y2="1468.6" stroke="#000" stroke-width="2.65" opacity="0.12"/><line x1="138.86" y1="1446" x2="138.86" y2="1468.6" stroke="#000" stroke-width="1.46" opacity="0.12"/><line x1="140.38" y1="1446" x2="140.38" y2="1468.6" stroke="#000" stroke-width="1.6" opacity="0.12"/><line x1="143.84" y1="1446" x2="143.84" y2="1468.6" stroke="#000" stroke-width="2.66" opacity="0.12"/><line x1="146.61" y1="1446" x2="146.61" y2="1468.6" stroke="#000" stroke-width="1.73" opacity="0.12"/><line x1="149.63" y1="1446" x2="149.63" y2="1468.6" stroke="#000" stroke-width="1.59" opacity="0.12"/><line x1="154.61" y1="1446" x2="154.61" y2="1468.6" stroke="#000" stroke-width="2.5" opacity="0.12"/><line x1="156.19" y1="1446" x2="156.19" y2="1468.6" stroke="#000" stroke-width="1.44" opacity="0.12"/><line x1="160.28" y1="1446" x2="160.28" y2="1468.6" stroke="#000" stroke-width="1.6" opacity="0.12"/><line x1="163.13" y1="1446" x2="163.13" y2="1468.6" stroke="#000" stroke-width="2.38" opacity="0.12"/><line x1="165.62" y1="1446" x2="165.62" y2="1468.6" stroke="#000" stroke-width="1.71" opacity="0.12"/><line x1="170.11" y1="1446" x2="170.11" y2="1468.6" stroke="#000" stroke-width="1.43" opacity="0.12"/><line x1="171.73" y1="1446" x2="171.73" y2="1468.6" stroke="#000" stroke-width="1.64" opacity="0.12"/><line x1="180.25" y1="1446" x2="180.25" y2="1468.6" stroke="#000" stroke-width="1.52" opacity="0.12"/><line x1="183.91" y1="1446" x2="183.91" y2="1468.6" stroke="#000" stroke-width="2.44" opacity="0.12"/><line x1="188.69" y1="1446" x2="188.69" y2="1468.6" stroke="#000" stroke-width="1.57" opacity="0.12"/><line x1="195" y1="1446" x2="195" y2="1468.6" stroke="#000" stroke-width="2.62" opacity="0.12"/><line x1="197.78" y1="1446" x2="197.78" y2="1468.6" stroke="#000" stroke-width="2.63" opacity="0.12"/><line x1="202.6" y1="1446" x2="202.6" y2="1468.6" stroke="#000" stroke-width="2.14" opacity="0.12"/><line x1="208.14" y1="1446" x2="208.14" y2="1468.6" stroke="#000" stroke-width="1.45" opacity="0.12"/><line x1="219.19" y1="1446" x2="219.19" y2="1468.6" stroke="#000" stroke-width="2.45" opacity="0.12"/><line x1="226.62" y1="1446" x2="226.62" y2="1468.6" stroke="#000" stroke-width="1.71" opacity="0.12"/><line x1="228.41" y1="1446" x2="228.41" y2="1468.6" stroke="#000" stroke-width="2.31" opacity="0.12"/><line x1="234.28" y1="1446" x2="234.28" y2="1468.6" stroke="#000" stroke-width="1.62" opacity="0.12"/><line x1="250.16" y1="1446" x2="250.16" y2="1468.6" stroke="#000" stroke-width="2.58" opacity="0.12"/><line x1="255.78" y1="1446" x2="255.78" y2="1468.6" stroke="#000" stroke-width="1.32" opacity="0.12"/><line x1="259.47" y1="1446" x2="259.47" y2="1468.6" stroke="#000" stroke-width="1.92" opacity="0.12"/><line x1="267.18" y1="1446" x2="267.18" y2="1468.6" stroke="#000" stroke-width="2.67" opacity="0.12"/><line x1="272.46" y1="1446" x2="272.46" y2="1468.6" stroke="#000" stroke-width="2.27" opacity="0.12"/><line x1="278.05" y1="1446" x2="278.05" y2="1468.6" stroke="#000" stroke-width="1.5" opacity="0.12"/><line x1="283.67" y1="1446" x2="283.67" y2="1468.6" stroke="#000" stroke-width="1.33" opacity="0.12"/><line x1="286.81" y1="1446" x2="286.81" y2="1468.6" stroke="#000" stroke-width="2.28" opacity="0.12"/><line x1="292.54" y1="1446" x2="292.54" y2="1468.6" stroke="#000" stroke-width="1.33" opacity="0.12"/><line x1="306.95" y1="1446" x2="306.95" y2="1468.6" stroke="#000" stroke-width="2.06" opacity="0.12"/><line x1="311.14" y1="1446" x2="311.14" y2="1468.6" stroke="#000" stroke-width="2.56" opacity="0.12"/><line x1="316.87" y1="1446" x2="316.87" y2="1468.6" stroke="#000" stroke-width="2.29" opacity="0.12"/><line x1="320.08" y1="1446" x2="320.08" y2="1468.6" stroke="#000" stroke-width="2.58" opacity="0.12"/><line x1="327.47" y1="1446" x2="327.47" y2="1468.6" stroke="#000" stroke-width="2.26" opacity="0.12"/><line x1="341.61" y1="1446" x2="341.61" y2="1468.6" stroke="#000" stroke-width="2.52" opacity="0.12"/><line x1="351.63" y1="1446" x2="351.63" y2="1468.6" stroke="#000" stroke-width="2.15" opacity="0.12"/><line x1="356.07" y1="1446" x2="356.07" y2="1468.6" stroke="#000" stroke-width="2.2" opacity="0.12"/><line x1="359.69" y1="1446" x2="359.69" y2="1468.6" stroke="#000" stroke-width="2.53" opacity="0.12"/><line x1="362.31" y1="1446" x2="362.31" y2="1468.6" stroke="#000" stroke-width="1.84" opacity="0.12"/><line x1="365.87" y1="1446" x2="365.87" y2="1468.6" stroke="#000" stroke-width="2.11" opacity="0.12"/><line x1="368.62" y1="1446" x2="368.62" y2="1468.6" stroke="#000" stroke-width="2.47" opacity="0.12"/><line x1="375.03" y1="1446" x2="375.03" y2="1468.6" stroke="#000" stroke-width="2.28" opacity="0.12"/><line x1="383.94" y1="1446" x2="383.94" y2="1468.6" stroke="#000" stroke-width="2.16" opacity="0.12"/><line x1="386.4" y1="1446" x2="386.4" y2="1468.6" stroke="#000" stroke-width="1.66" opacity="0.12"/><line x1="394.86" y1="1446" x2="394.86" y2="1468.6" stroke="#000" stroke-width="1.72" opacity="0.12"/><line x1="400.11" y1="1446" x2="400.11" y2="1468.6" stroke="#000" stroke-width="1.58" opacity="0.12"/><line x1="416.37" y1="1446" x2="416.37" y2="1468.6" stroke="#000" stroke-width="1.76" opacity="0.12"/><line x1="425.19" y1="1446" x2="425.19" y2="1468.6" stroke="#000" stroke-width="1.58" opacity="0.12"/><line x1="429.65" y1="1446" x2="429.65" y2="1468.6" stroke="#000" stroke-width="2.43" opacity="0.12"/><line x1="434.23" y1="1446" x2="434.23" y2="1468.6" stroke="#000" stroke-width="2.53" opacity="0.12"/><line x1="445.8" y1="1446" x2="445.8" y2="1468.6" stroke="#000" stroke-width="2.12" opacity="0.12"/><line x1="457.11" y1="1446" x2="457.11" y2="1468.6" stroke="#000" stroke-width="2.3" opacity="0.12"/><line x1="459.67" y1="1446" x2="459.67" y2="1468.6" stroke="#000" stroke-width="1.69" opacity="0.12"/><line x1="463.52" y1="1446" x2="463.52" y2="1468.6" stroke="#000" stroke-width="1.93" opacity="0.12"/><line x1="467.32" y1="1446" x2="467.32" y2="1468.6" stroke="#000" stroke-width="1.6" opacity="0.12"/><line x1="478.14" y1="1446" x2="478.14" y2="1468.6" stroke="#000" stroke-width="1.4" opacity="0.12"/><line x1="482.47" y1="1446" x2="482.47" y2="1468.6" stroke="#000" stroke-width="2.52" opacity="0.12"/><line x1="485.78" y1="1446" x2="485.78" y2="1468.6" stroke="#000" stroke-width="2.29" opacity="0.12"/><line x1="488.95" y1="1446" x2="488.95" y2="1468.6" stroke="#000" stroke-width="1.73" opacity="0.12"/><line x1="494.21" y1="1446" x2="494.21" y2="1468.6" stroke="#000" stroke-width="1.33" opacity="0.12"/><line x1="498.33" y1="1446" x2="498.33" y2="1468.6" stroke="#000" stroke-width="1.94" opacity="0.12"/><line x1="510.71" y1="1446" x2="510.71" y2="1468.6" stroke="#000" stroke-width="2.46" opacity="0.12"/><line x1="522.77" y1="1446" x2="522.77" y2="1468.6" stroke="#000" stroke-width="1.93" opacity="0.12"/><line x1="528.55" y1="1446" x2="528.55" y2="1468.6" stroke="#000" stroke-width="2.22" opacity="0.12"/><line x1="534.35" y1="1446" x2="534.35" y2="1468.6" stroke="#000" stroke-width="2.64" opacity="0.12"/><line x1="556.78" y1="1446" x2="556.78" y2="1468.6" stroke="#000" stroke-width="1.55" opacity="0.12"/><line x1="558.35" y1="1446" x2="558.35" y2="1468.6" stroke="#000" stroke-width="1.96" opacity="0.12"/><line x1="579.03" y1="1446" x2="579.03" y2="1468.6" stroke="#000" stroke-width="1.55" opacity="0.12"/><line x1="593.55" y1="1446" x2="593.55" y2="1468.6" stroke="#000" stroke-width="1.78" opacity="0.12"/><line x1="612.34" y1="1446" x2="612.34" y2="1468.6" stroke="#000" stroke-width="2.03" opacity="0.12"/><line x1="628.57" y1="1446" x2="628.57" y2="1468.6" stroke="#000" stroke-width="2.36" opacity="0.12"/>
<line x1="85.4" y1="1469.1" x2="631.3" y2="1469.1" stroke="#8a8a8a" stroke-width="1.2"/>
<line x1="218.6" y1="1468.6" x2="218.6" y2="1471.6" stroke="#8a8a8a" stroke-width="1"/>
<line x1="351.9" y1="1468.6" x2="351.9" y2="1471.6" stroke="#8a8a8a" stroke-width="1"/>
<line x1="484" y1="1468.6" x2="484" y2="1471.6" stroke="#8a8a8a" stroke-width="1"/>
<line x1="617.3" y1="1468.6" x2="617.3" y2="1471.6" stroke="#8a8a8a" stroke-width="1"/>
<line x1="85.4" y1="1165.9" x2="85.4" y2="1469.6" stroke="#6e6e6e" stroke-width="1.8"/>
<line x1="81.9" y1="1188" x2="85.4" y2="1188" stroke="#6e6e6e" stroke-width="1.4"/>
<line x1="81.9" y1="1237.6" x2="85.4" y2="1237.6" stroke="#6e6e6e" stroke-width="1.4"/>
<line x1="81.9" y1="1287.2" x2="85.4" y2="1287.2" stroke="#6e6e6e" stroke-width="1.4"/>
<line x1="81.9" y1="1336.7" x2="85.4" y2="1336.7" stroke="#6e6e6e" stroke-width="1.4"/>
<line x1="81.9" y1="1386.2" x2="85.4" y2="1386.2" stroke="#6e6e6e" stroke-width="1.4"/>
<polyline points="85.4,1268.38 86.09,1251.3 87.45,1234.22 89.5,1220.56 92.24,1206.89 94.97,1193.23 98.38,1181.27 102.48,1179.56 108.63,1179.56 110,1176.83 116.15,1176.83 121.27,1175.46 128.1,1177.17 134.94,1177.86 138.35,1178.88 153.73,1183.66 170.81,1186.4 187.89,1193.23 204.97,1200.06 222.05,1205.87 239.13,1212.7 258.6,1221.31 278.07,1229.92 297.54,1238.53 317.02,1247.13 336.49,1255.74 355.96,1264.35 375.43,1272.96 394.9,1281.57 414.38,1290.18 433.85,1298.79 453.32,1307.4 472.79,1316 492.26,1324.61 511.73,1333.22 531.21,1341.83 550.68,1350.44 570.15,1359.05 589.62,1367.66 609.09,1376.26 620.03,1382.14 628.57,1385.21 630.62,1385.21" fill="none" stroke="#3ded3d" stroke-width="2.1" stroke-linejoin="round"/>
<text x="346.1" y="1121.8" font-size="25.5" text-anchor="middle" textLength="146" lengthAdjust="spacingAndGlyphs">p53 pathway</text>
<text x="96.7" y="1510" font-size="26.5" fill="#ee1111" textLength="34.5" lengthAdjust="spacingAndGlyphs">UP</text>
<text x="533.3" y="1510" font-size="26.5" fill="#3a86c6" textLength="79.5" lengthAdjust="spacingAndGlyphs">DOWN</text>
<line x1="754.9" y1="1160.7" x2="754.9" y2="1397" stroke="#ececec" stroke-width="1.3"/>
<line x1="823" y1="1160.7" x2="823" y2="1397" stroke="#ececec" stroke-width="1.3"/>
<line x1="890" y1="1160.7" x2="890" y2="1397" stroke="#ececec" stroke-width="1.3"/>
<line x1="958" y1="1160.7" x2="958" y2="1397" stroke="#ececec" stroke-width="1.3"/>
<line x1="1026.2" y1="1160.7" x2="1026.2" y2="1397" stroke="#ececec" stroke-width="1.3"/>
<line x1="1093.6" y1="1160.7" x2="1093.6" y2="1397" stroke="#ececec" stroke-width="1.3"/>
<line x1="1161.7" y1="1160.7" x2="1161.7" y2="1397" stroke="#ececec" stroke-width="1.3"/>
<line x1="1228.8" y1="1160.7" x2="1228.8" y2="1397" stroke="#ececec" stroke-width="1.3"/>
<line x1="799.42" y1="1398" x2="799.42" y2="1449.5" stroke="#828282" stroke-width="2.22"/><line x1="803.04" y1="1398" x2="803.04" y2="1449.5" stroke="#6a6a6a" stroke-width="1.5"/><line x1="819.35" y1="1398" x2="819.35" y2="1449.5" stroke="#b1b1b1" stroke-width="1.82"/><line x1="882.03" y1="1398" x2="882.03" y2="1449.5" stroke="#9c9c9c" stroke-width="2.43"/><line x1="897.25" y1="1398" x2="897.25" y2="1449.5" stroke="#5a5a5a" stroke-width="2.14"/><line x1="962" y1="1398" x2="962" y2="1449.5" stroke="#9f9f9f" stroke-width="1.92"/><line x1="963.97" y1="1398" x2="963.97" y2="1449.5" stroke="#9d9d9d" stroke-width="2.57"/><line x1="991.45" y1="1398" x2="991.45" y2="1449.5" stroke="#aaaaaa" stroke-width="2.45"/><line x1="1041.45" y1="1398" x2="1041.45" y2="1449.5" stroke="#a8a8a8" stroke-width="2.26"/><line x1="1060.37" y1="1398" x2="1060.37" y2="1449.5" stroke="#535353" stroke-width="1.33"/><line x1="1062.66" y1="1398" x2="1062.66" y2="1449.5" stroke="#b7b7b7" stroke-width="2.58"/><line x1="1071.16" y1="1398" x2="1071.16" y2="1449.5" stroke="#7e7e7e" stroke-width="1.43"/><line x1="1076.59" y1="1398" x2="1076.59" y2="1449.5" stroke="#343434" stroke-width="2.63"/><line x1="1097.99" y1="1398" x2="1097.99" y2="1449.5" stroke="#949494" stroke-width="1.74"/><line x1="1100.48" y1="1398" x2="1100.48" y2="1449.5" stroke="#565656" stroke-width="1.53"/><line x1="1113.17" y1="1398" x2="1113.17" y2="1449.5" stroke="#9c9c9c" stroke-width="2.44"/><line x1="1113.96" y1="1398" x2="1113.96" y2="1449.5" stroke="#7f7f7f" stroke-width="1.89"/><line x1="1125.72" y1="1398" x2="1125.72" y2="1449.5" stroke="#282828" stroke-width="1.34"/><line x1="1127.2" y1="1398" x2="1127.2" y2="1449.5" stroke="#000000" stroke-width="2.65"/><line x1="1151.59" y1="1398" x2="1151.59" y2="1449.5" stroke="#000000" stroke-width="2.23"/><line x1="1158.12" y1="1398" x2="1158.12" y2="1449.5" stroke="#2b2b2b" stroke-width="1.81"/><line x1="1166.09" y1="1398" x2="1166.09" y2="1449.5" stroke="#343434" stroke-width="2.24"/><line x1="1172.25" y1="1398" x2="1172.25" y2="1449.5" stroke="#313131" stroke-width="2.43"/><line x1="1174.37" y1="1398" x2="1174.37" y2="1449.5" stroke="#323232" stroke-width="1.34"/><line x1="1176.5" y1="1398" x2="1176.5" y2="1449.5" stroke="#090909" stroke-width="1.9"/><line x1="1188.91" y1="1398" x2="1188.91" y2="1449.5" stroke="#171717" stroke-width="1.61"/><line x1="1197.24" y1="1398" x2="1197.24" y2="1449.5" stroke="#000000" stroke-width="1.44"/><line x1="1198.82" y1="1398" x2="1198.82" y2="1449.5" stroke="#060606" stroke-width="1.55"/><line x1="1203.96" y1="1398" x2="1203.96" y2="1449.5" stroke="#353535" stroke-width="2.64"/><line x1="1204.88" y1="1398" x2="1204.88" y2="1449.5" stroke="#5d5d5d" stroke-width="2.59"/><line x1="1207.19" y1="1398" x2="1207.19" y2="1449.5" stroke="#444444" stroke-width="1.56"/><line x1="1209.24" y1="1398" x2="1209.24" y2="1449.5" stroke="#131313" stroke-width="2.58"/><line x1="1211.64" y1="1398" x2="1211.64" y2="1449.5" stroke="#717171" stroke-width="1.68"/><line x1="1212.67" y1="1398" x2="1212.67" y2="1449.5" stroke="#101010" stroke-width="1.78"/><line x1="1215.25" y1="1398" x2="1215.25" y2="1449.5" stroke="#535353" stroke-width="1.31"/><line x1="1216.8" y1="1398" x2="1216.8" y2="1449.5" stroke="#6d6d6d" stroke-width="2.17"/><line x1="1218.86" y1="1398" x2="1218.86" y2="1449.5" stroke="#000000" stroke-width="2.7"/><line x1="1221.11" y1="1398" x2="1221.11" y2="1449.5" stroke="#323232" stroke-width="1.33"/><line x1="1223.8" y1="1398" x2="1223.8" y2="1449.5" stroke="#494949" stroke-width="2.4"/><line x1="1231.83" y1="1398" x2="1231.83" y2="1449.5" stroke="#1c1c1c" stroke-width="2.18"/><line x1="1233.21" y1="1398" x2="1233.21" y2="1449.5" stroke="#373737" stroke-width="2.63"/><line x1="1234.3" y1="1398" x2="1234.3" y2="1449.5" stroke="#000000" stroke-width="1.53"/><line x1="1236.32" y1="1398" x2="1236.32" y2="1449.5" stroke="#343434" stroke-width="2.52"/><line x1="1241.45" y1="1398" x2="1241.45" y2="1449.5" stroke="#353535" stroke-width="2.62"/>
<rect x="687.46" y="1449.5" width="9.82" height="22.8" fill="#df3d38"/><rect x="696.88" y="1449.5" width="14.89" height="22.8" fill="#f47b5c"/><rect x="711.38" y="1449.5" width="8.73" height="22.8" fill="#f9ad91"/><rect x="719.71" y="1449.5" width="21.41" height="22.8" fill="#fde1d3"/><rect x="740.72" y="1449.5" width="30.83" height="22.8" fill="#eef0fa"/><rect x="771.16" y="1449.5" width="45.69" height="22.8" fill="#c3d9e8"/><rect x="816.45" y="1449.5" width="72.86" height="22.8" fill="#7db7da"/><rect x="888.91" y="1449.5" width="240.62" height="22.8" fill="#4a8fc4"/><rect x="1129.13" y="1449.5" width="113.44" height="22.8" fill="#1f5ea6"/>
<line x1="799.42" y1="1449.5" x2="799.42" y2="1472.3" stroke="#000" stroke-width="2.22" opacity="0.12"/><line x1="803.04" y1="1449.5" x2="803.04" y2="1472.3" stroke="#000" stroke-width="1.5" opacity="0.12"/><line x1="819.35" y1="1449.5" x2="819.35" y2="1472.3" stroke="#000" stroke-width="1.82" opacity="0.12"/><line x1="882.03" y1="1449.5" x2="882.03" y2="1472.3" stroke="#000" stroke-width="2.43" opacity="0.12"/><line x1="897.25" y1="1449.5" x2="897.25" y2="1472.3" stroke="#000" stroke-width="2.14" opacity="0.12"/><line x1="962" y1="1449.5" x2="962" y2="1472.3" stroke="#000" stroke-width="1.92" opacity="0.12"/><line x1="963.97" y1="1449.5" x2="963.97" y2="1472.3" stroke="#000" stroke-width="2.57" opacity="0.12"/><line x1="991.45" y1="1449.5" x2="991.45" y2="1472.3" stroke="#000" stroke-width="2.45" opacity="0.12"/><line x1="1041.45" y1="1449.5" x2="1041.45" y2="1472.3" stroke="#000" stroke-width="2.26" opacity="0.12"/><line x1="1060.37" y1="1449.5" x2="1060.37" y2="1472.3" stroke="#000" stroke-width="1.33" opacity="0.12"/><line x1="1062.66" y1="1449.5" x2="1062.66" y2="1472.3" stroke="#000" stroke-width="2.58" opacity="0.12"/><line x1="1071.16" y1="1449.5" x2="1071.16" y2="1472.3" stroke="#000" stroke-width="1.43" opacity="0.12"/><line x1="1076.59" y1="1449.5" x2="1076.59" y2="1472.3" stroke="#000" stroke-width="2.63" opacity="0.12"/><line x1="1097.99" y1="1449.5" x2="1097.99" y2="1472.3" stroke="#000" stroke-width="1.74" opacity="0.12"/><line x1="1100.48" y1="1449.5" x2="1100.48" y2="1472.3" stroke="#000" stroke-width="1.53" opacity="0.12"/><line x1="1113.17" y1="1449.5" x2="1113.17" y2="1472.3" stroke="#000" stroke-width="2.44" opacity="0.12"/><line x1="1113.96" y1="1449.5" x2="1113.96" y2="1472.3" stroke="#000" stroke-width="1.89" opacity="0.12"/><line x1="1125.72" y1="1449.5" x2="1125.72" y2="1472.3" stroke="#000" stroke-width="1.34" opacity="0.12"/><line x1="1127.2" y1="1449.5" x2="1127.2" y2="1472.3" stroke="#000" stroke-width="2.65" opacity="0.12"/><line x1="1151.59" y1="1449.5" x2="1151.59" y2="1472.3" stroke="#000" stroke-width="2.23" opacity="0.12"/><line x1="1158.12" y1="1449.5" x2="1158.12" y2="1472.3" stroke="#000" stroke-width="1.81" opacity="0.12"/><line x1="1166.09" y1="1449.5" x2="1166.09" y2="1472.3" stroke="#000" stroke-width="2.24" opacity="0.12"/><line x1="1172.25" y1="1449.5" x2="1172.25" y2="1472.3" stroke="#000" stroke-width="2.43" opacity="0.12"/><line x1="1174.37" y1="1449.5" x2="1174.37" y2="1472.3" stroke="#000" stroke-width="1.34" opacity="0.12"/><line x1="1176.5" y1="1449.5" x2="1176.5" y2="1472.3" stroke="#000" stroke-width="1.9" opacity="0.12"/><line x1="1188.91" y1="1449.5" x2="1188.91" y2="1472.3" stroke="#000" stroke-width="1.61" opacity="0.12"/><line x1="1197.24" y1="1449.5" x2="1197.24" y2="1472.3" stroke="#000" stroke-width="1.44" opacity="0.12"/><line x1="1198.82" y1="1449.5" x2="1198.82" y2="1472.3" stroke="#000" stroke-width="1.55" opacity="0.12"/><line x1="1203.96" y1="1449.5" x2="1203.96" y2="1472.3" stroke="#000" stroke-width="2.64" opacity="0.12"/><line x1="1204.88" y1="1449.5" x2="1204.88" y2="1472.3" stroke="#000" stroke-width="2.59" opacity="0.12"/><line x1="1207.19" y1="1449.5" x2="1207.19" y2="1472.3" stroke="#000" stroke-width="1.56" opacity="0.12"/><line x1="1209.24" y1="1449.5" x2="1209.24" y2="1472.3" stroke="#000" stroke-width="2.58" opacity="0.12"/><line x1="1211.64" y1="1449.5" x2="1211.64" y2="1472.3" stroke="#000" stroke-width="1.68" opacity="0.12"/><line x1="1212.67" y1="1449.5" x2="1212.67" y2="1472.3" stroke="#000" stroke-width="1.78" opacity="0.12"/><line x1="1215.25" y1="1449.5" x2="1215.25" y2="1472.3" stroke="#000" stroke-width="1.31" opacity="0.12"/><line x1="1216.8" y1="1449.5" x2="1216.8" y2="1472.3" stroke="#000" stroke-width="2.17" opacity="0.12"/><line x1="1218.86" y1="1449.5" x2="1218.86" y2="1472.3" stroke="#000" stroke-width="2.7" opacity="0.12"/><line x1="1221.11" y1="1449.5" x2="1221.11" y2="1472.3" stroke="#000" stroke-width="1.33" opacity="0.12"/><line x1="1223.8" y1="1449.5" x2="1223.8" y2="1472.3" stroke="#000" stroke-width="2.4" opacity="0.12"/><line x1="1231.83" y1="1449.5" x2="1231.83" y2="1472.3" stroke="#000" stroke-width="2.18" opacity="0.12"/><line x1="1233.21" y1="1449.5" x2="1233.21" y2="1472.3" stroke="#000" stroke-width="2.63" opacity="0.12"/><line x1="1234.3" y1="1449.5" x2="1234.3" y2="1472.3" stroke="#000" stroke-width="1.53" opacity="0.12"/><line x1="1236.32" y1="1449.5" x2="1236.32" y2="1472.3" stroke="#000" stroke-width="2.52" opacity="0.12"/><line x1="1241.45" y1="1449.5" x2="1241.45" y2="1472.3" stroke="#000" stroke-width="2.62" opacity="0.12"/>
<line x1="687.5" y1="1472.8" x2="1242.17" y2="1472.8" stroke="#8a8a8a" stroke-width="1.2"/>
<line x1="823" y1="1472.3" x2="823" y2="1475.3" stroke="#8a8a8a" stroke-width="1"/>
<line x1="958" y1="1472.3" x2="958" y2="1475.3" stroke="#8a8a8a" stroke-width="1"/>
<line x1="1093.6" y1="1472.3" x2="1093.6" y2="1475.3" stroke="#8a8a8a" stroke-width="1"/>
<line x1="1228.8" y1="1472.3" x2="1228.8" y2="1475.3" stroke="#8a8a8a" stroke-width="1"/>
<line x1="687.5" y1="1160.7" x2="687.5" y2="1473.3" stroke="#6e6e6e" stroke-width="1.8"/>
<line x1="684" y1="1171.6" x2="687.5" y2="1171.6" stroke="#6e6e6e" stroke-width="1.4"/>
<line x1="684" y1="1226.7" x2="687.5" y2="1226.7" stroke="#6e6e6e" stroke-width="1.4"/>
<line x1="684" y1="1281.7" x2="687.5" y2="1281.7" stroke="#6e6e6e" stroke-width="1.4"/>
<line x1="684" y1="1336.4" x2="687.5" y2="1336.4" stroke="#6e6e6e" stroke-width="1.4"/>
<line x1="684" y1="1391.5" x2="687.5" y2="1391.5" stroke="#6e6e6e" stroke-width="1.4"/>
<polyline points="687.46,1171.59 799.42,1226.67 803.04,1224.86 806.67,1225.94 821.16,1232.1 893.62,1268.33 966.09,1300.94 1038.55,1335.36 1096.52,1364.35 1111.01,1369.78 1125.51,1373.41 1129.13,1372.32 1150.87,1384.28 1158.12,1382.46 1165.36,1385.36 1172.61,1386.09 1176.23,1381.74 1183.48,1383.55 1188.91,1378.84 1196.16,1380.65 1199.78,1373.41 1205.22,1371.59 1210.65,1363.62 1214.28,1357.1 1216.09,1338.99 1219.71,1331.74 1223.33,1315.43 1230.58,1317.97 1232.39,1299.13 1234.2,1259.28 1236.01,1223.04 1239.64,1221.23 1241.45,1190.43 1242.17,1170.51" fill="none" stroke="#3ded3d" stroke-width="2.1" stroke-linejoin="round"/>
<text x="977.2" y="1119.7" font-size="25.5" text-anchor="middle" textLength="134.5" lengthAdjust="spacingAndGlyphs">Myc targets</text>
<text x="700.8" y="1509.8" font-size="26.5" fill="#ee1111" textLength="34.5" lengthAdjust="spacingAndGlyphs">UP</text>
<text x="1141.4" y="1509.8" font-size="26.5" fill="#3a86c6" textLength="79.5" lengthAdjust="spacingAndGlyphs">DOWN</text>
<line x1="1263.9" y1="1162.5" x2="1263.9" y2="1439.7" stroke="#1a1a1a" stroke-width="4.6"/>
<text x="1296.5" y="1306.5" font-size="25.5" text-anchor="middle" transform="rotate(90 1296.5 1306.5)" textLength="161" lengthAdjust="spacingAndGlyphs">CBFi treatment</text>
<line x1="1482.9" y1="1159" x2="1482.9" y2="1394.3" stroke="#ececec" stroke-width="1.3"/>
<line x1="1550" y1="1159" x2="1550" y2="1394.3" stroke="#ececec" stroke-width="1.3"/>
<line x1="1617.4" y1="1159" x2="1617.4" y2="1394.3" stroke="#ececec" stroke-width="1.3"/>
<line x1="1684.5" y1="1159" x2="1684.5" y2="1394.3" stroke="#ececec" stroke-width="1.3"/>
<line x1="1751.5" y1="1159" x2="1751.5" y2="1394.3" stroke="#ececec" stroke-width="1.3"/>
<line x1="1818.2" y1="1159" x2="1818.2" y2="1394.3" stroke="#ececec" stroke-width="1.3"/>
<line x1="1886" y1="1159" x2="1886" y2="1394.3" stroke="#ececec" stroke-width="1.3"/>
<line x1="1953.1" y1="1159" x2="1953.1" y2="1394.3" stroke="#ececec" stroke-width="1.3"/>
<line x1="1974" y1="1155" x2="1974" y2="1471" stroke="#9a9a9a" stroke-width="1.4"/>
<line x1="1416.1" y1="1395.3" x2="1416.1" y2="1447.7" stroke="#000000" stroke-width="1.9"/><line x1="1417.17" y1="1395.3" x2="1417.17" y2="1447.7" stroke="#111111" stroke-width="1.9"/><line x1="1417.96" y1="1395.3" x2="1417.96" y2="1447.7" stroke="#171717" stroke-width="1.46"/><line x1="1418.86" y1="1395.3" x2="1418.86" y2="1447.7" stroke="#000000" stroke-width="2.42"/><line x1="1419.23" y1="1395.3" x2="1419.23" y2="1447.7" stroke="#000000" stroke-width="2.27"/><line x1="1420.05" y1="1395.3" x2="1420.05" y2="1447.7" stroke="#000000" stroke-width="2.35"/><line x1="1420.79" y1="1395.3" x2="1420.79" y2="1447.7" stroke="#2e2e2e" stroke-width="2.25"/><line x1="1421.64" y1="1395.3" x2="1421.64" y2="1447.7" stroke="#070707" stroke-width="1.55"/><line x1="1422.76" y1="1395.3" x2="1422.76" y2="1447.7" stroke="#252525" stroke-width="2.03"/><line x1="1423.17" y1="1395.3" x2="1423.17" y2="1447.7" stroke="#1f1f1f" stroke-width="1.94"/><line x1="1424.21" y1="1395.3" x2="1424.21" y2="1447.7" stroke="#000000" stroke-width="1.85"/><line x1="1424.81" y1="1395.3" x2="1424.81" y2="1447.7" stroke="#2f2f2f" stroke-width="1.99"/><line x1="1425.65" y1="1395.3" x2="1425.65" y2="1447.7" stroke="#212121" stroke-width="1.63"/><line x1="1426.53" y1="1395.3" x2="1426.53" y2="1447.7" stroke="#262626" stroke-width="1.81"/><line x1="1427.58" y1="1395.3" x2="1427.58" y2="1447.7" stroke="#363636" stroke-width="2.21"/><line x1="1428.23" y1="1395.3" x2="1428.23" y2="1447.7" stroke="#000000" stroke-width="1.85"/><line x1="1428.65" y1="1395.3" x2="1428.65" y2="1447.7" stroke="#000000" stroke-width="2.61"/><line x1="1429.61" y1="1395.3" x2="1429.61" y2="1447.7" stroke="#3a3a3a" stroke-width="1.5"/><line x1="1430.32" y1="1395.3" x2="1430.32" y2="1447.7" stroke="#000000" stroke-width="2.47"/><line x1="1431.58" y1="1395.3" x2="1431.58" y2="1447.7" stroke="#000000" stroke-width="1.52"/><line x1="1432.33" y1="1395.3" x2="1432.33" y2="1447.7" stroke="#0b0b0b" stroke-width="2.52"/><line x1="1433.12" y1="1395.3" x2="1433.12" y2="1447.7" stroke="#000000" stroke-width="2.42"/><line x1="1433.93" y1="1395.3" x2="1433.93" y2="1447.7" stroke="#252525" stroke-width="2.5"/><line x1="1434.67" y1="1395.3" x2="1434.67" y2="1447.7" stroke="#0f0f0f" stroke-width="2.3"/><line x1="1435.6" y1="1395.3" x2="1435.6" y2="1447.7" stroke="#2e2e2e" stroke-width="2.66"/><line x1="1436.29" y1="1395.3" x2="1436.29" y2="1447.7" stroke="#000000" stroke-width="2.31"/><line x1="1436.74" y1="1395.3" x2="1436.74" y2="1447.7" stroke="#242424" stroke-width="2.16"/><line x1="1437.91" y1="1395.3" x2="1437.91" y2="1447.7" stroke="#000000" stroke-width="2.13"/><line x1="1438.48" y1="1395.3" x2="1438.48" y2="1447.7" stroke="#111111" stroke-width="2.32"/><line x1="1439.44" y1="1395.3" x2="1439.44" y2="1447.7" stroke="#141414" stroke-width="1.71"/><line x1="1440.09" y1="1395.3" x2="1440.09" y2="1447.7" stroke="#8b8b8b" stroke-width="2.7"/><line x1="1442.6" y1="1395.3" x2="1442.6" y2="1447.7" stroke="#7c7c7c" stroke-width="1.72"/><line x1="1443.56" y1="1395.3" x2="1443.56" y2="1447.7" stroke="#696969" stroke-width="2.14"/><line x1="1445.49" y1="1395.3" x2="1445.49" y2="1447.7" stroke="#828282" stroke-width="1.96"/><line x1="1447.04" y1="1395.3" x2="1447.04" y2="1447.7" stroke="#5d5d5d" stroke-width="2.47"/><line x1="1449.62" y1="1395.3" x2="1449.62" y2="1447.7" stroke="#8b8b8b" stroke-width="1.77"/><line x1="1451.27" y1="1395.3" x2="1451.27" y2="1447.7" stroke="#4c4c4c" stroke-width="2.66"/><line x1="1453.02" y1="1395.3" x2="1453.02" y2="1447.7" stroke="#4a4a4a" stroke-width="1.96"/><line x1="1454.08" y1="1395.3" x2="1454.08" y2="1447.7" stroke="#363636" stroke-width="1.72"/><line x1="1456.42" y1="1395.3" x2="1456.42" y2="1447.7" stroke="#888888" stroke-width="2"/><line x1="1458.05" y1="1395.3" x2="1458.05" y2="1447.7" stroke="#181818" stroke-width="2.33"/><line x1="1459.47" y1="1395.3" x2="1459.47" y2="1447.7" stroke="#6b6b6b" stroke-width="2.26"/><line x1="1462.91" y1="1395.3" x2="1462.91" y2="1447.7" stroke="#989898" stroke-width="2.38"/><line x1="1464.25" y1="1395.3" x2="1464.25" y2="1447.7" stroke="#808080" stroke-width="1.97"/><line x1="1467.45" y1="1395.3" x2="1467.45" y2="1447.7" stroke="#525252" stroke-width="1.77"/><line x1="1469.52" y1="1395.3" x2="1469.52" y2="1447.7" stroke="#747474" stroke-width="1.91"/><line x1="1471.83" y1="1395.3" x2="1471.83" y2="1447.7" stroke="#878787" stroke-width="2.51"/><line x1="1474.45" y1="1395.3" x2="1474.45" y2="1447.7" stroke="#8a8a8a" stroke-width="2.45"/><line x1="1476.82" y1="1395.3" x2="1476.82" y2="1447.7" stroke="#7d7d7d" stroke-width="1.72"/><line x1="1479.66" y1="1395.3" x2="1479.66" y2="1447.7" stroke="#676767" stroke-width="1.35"/><line x1="1481.56" y1="1395.3" x2="1481.56" y2="1447.7" stroke="#888888" stroke-width="1.81"/><line x1="1484.83" y1="1395.3" x2="1484.83" y2="1447.7" stroke="#606060" stroke-width="2.53"/><line x1="1486.73" y1="1395.3" x2="1486.73" y2="1447.7" stroke="#1a1a1a" stroke-width="1.36"/><line x1="1490.63" y1="1395.3" x2="1490.63" y2="1447.7" stroke="#545454" stroke-width="1.48"/><line x1="1492.85" y1="1395.3" x2="1492.85" y2="1447.7" stroke="#323232" stroke-width="1.75"/><line x1="1505.97" y1="1395.3" x2="1505.97" y2="1447.7" stroke="#585858" stroke-width="1.65"/><line x1="1507.55" y1="1395.3" x2="1507.55" y2="1447.7" stroke="#000000" stroke-width="1.51"/><line x1="1509.01" y1="1395.3" x2="1509.01" y2="1447.7" stroke="#1c1c1c" stroke-width="1.82"/><line x1="1520.28" y1="1395.3" x2="1520.28" y2="1447.7" stroke="#5d5d5d" stroke-width="2.61"/><line x1="1525.53" y1="1395.3" x2="1525.53" y2="1447.7" stroke="#707070" stroke-width="2.59"/><line x1="1527.57" y1="1395.3" x2="1527.57" y2="1447.7" stroke="#7a7a7a" stroke-width="2.1"/><line x1="1532.97" y1="1395.3" x2="1532.97" y2="1447.7" stroke="#636363" stroke-width="2.48"/><line x1="1555.05" y1="1395.3" x2="1555.05" y2="1447.7" stroke="#3c3c3c" stroke-width="1.45"/><line x1="1556.19" y1="1395.3" x2="1556.19" y2="1447.7" stroke="#3d3d3d" stroke-width="2.51"/><line x1="1559.3" y1="1395.3" x2="1559.3" y2="1447.7" stroke="#191919" stroke-width="2.43"/><line x1="1563.32" y1="1395.3" x2="1563.32" y2="1447.7" stroke="#626262" stroke-width="2.17"/><line x1="1567.05" y1="1395.3" x2="1567.05" y2="1447.7" stroke="#2e2e2e" stroke-width="2.3"/><line x1="1569.43" y1="1395.3" x2="1569.43" y2="1447.7" stroke="#737373" stroke-width="2.37"/><line x1="1571.91" y1="1395.3" x2="1571.91" y2="1447.7" stroke="#8b8b8b" stroke-width="1.73"/><line x1="1576.58" y1="1395.3" x2="1576.58" y2="1447.7" stroke="#191919" stroke-width="1.96"/><line x1="1578.01" y1="1395.3" x2="1578.01" y2="1447.7" stroke="#767676" stroke-width="2.4"/><line x1="1580.55" y1="1395.3" x2="1580.55" y2="1447.7" stroke="#5f5f5f" stroke-width="1.31"/><line x1="1583.52" y1="1395.3" x2="1583.52" y2="1447.7" stroke="#959595" stroke-width="1.66"/><line x1="1586.52" y1="1395.3" x2="1586.52" y2="1447.7" stroke="#6e6e6e" stroke-width="2.61"/><line x1="1599.36" y1="1395.3" x2="1599.36" y2="1447.7" stroke="#5b5b5b" stroke-width="1.67"/><line x1="1604.33" y1="1395.3" x2="1604.33" y2="1447.7" stroke="#5e5e5e" stroke-width="2.56"/><line x1="1607.7" y1="1395.3" x2="1607.7" y2="1447.7" stroke="#545454" stroke-width="1.57"/><line x1="1609.89" y1="1395.3" x2="1609.89" y2="1447.7" stroke="#696969" stroke-width="1.97"/><line x1="1614.8" y1="1395.3" x2="1614.8" y2="1447.7" stroke="#808080" stroke-width="2.1"/><line x1="1617.53" y1="1395.3" x2="1617.53" y2="1447.7" stroke="#949494" stroke-width="2.45"/><line x1="1636.11" y1="1395.3" x2="1636.11" y2="1447.7" stroke="#747474" stroke-width="1.73"/><line x1="1640.42" y1="1395.3" x2="1640.42" y2="1447.7" stroke="#4e4e4e" stroke-width="2"/><line x1="1654.84" y1="1395.3" x2="1654.84" y2="1447.7" stroke="#a4a4a4" stroke-width="1.93"/><line x1="1658.51" y1="1395.3" x2="1658.51" y2="1447.7" stroke="#444444" stroke-width="1.78"/><line x1="1659.98" y1="1395.3" x2="1659.98" y2="1447.7" stroke="#898989" stroke-width="1.37"/><line x1="1664.16" y1="1395.3" x2="1664.16" y2="1447.7" stroke="#4c4c4c" stroke-width="1.9"/><line x1="1666.87" y1="1395.3" x2="1666.87" y2="1447.7" stroke="#313131" stroke-width="2.34"/><line x1="1669.28" y1="1395.3" x2="1669.28" y2="1447.7" stroke="#989898" stroke-width="2.58"/><line x1="1673.46" y1="1395.3" x2="1673.46" y2="1447.7" stroke="#2e2e2e" stroke-width="2.44"/><line x1="1674.19" y1="1395.3" x2="1674.19" y2="1447.7" stroke="#3b3b3b" stroke-width="2.25"/><line x1="1679.09" y1="1395.3" x2="1679.09" y2="1447.7" stroke="#494949" stroke-width="2.23"/><line x1="1680.34" y1="1395.3" x2="1680.34" y2="1447.7" stroke="#5a5a5a" stroke-width="1.66"/><line x1="1684.9" y1="1395.3" x2="1684.9" y2="1447.7" stroke="#949494" stroke-width="2.32"/><line x1="1686.23" y1="1395.3" x2="1686.23" y2="1447.7" stroke="#595959" stroke-width="1.38"/><line x1="1688.92" y1="1395.3" x2="1688.92" y2="1447.7" stroke="#535353" stroke-width="2.15"/><line x1="1692.9" y1="1395.3" x2="1692.9" y2="1447.7" stroke="#646464" stroke-width="2.39"/><line x1="1696.83" y1="1395.3" x2="1696.83" y2="1447.7" stroke="#363636" stroke-width="1.83"/><line x1="1698.2" y1="1395.3" x2="1698.2" y2="1447.7" stroke="#3d3d3d" stroke-width="2"/><line x1="1701.67" y1="1395.3" x2="1701.67" y2="1447.7" stroke="#5c5c5c" stroke-width="1.88"/><line x1="1704.88" y1="1395.3" x2="1704.88" y2="1447.7" stroke="#2e2e2e" stroke-width="1.92"/><line x1="1706.96" y1="1395.3" x2="1706.96" y2="1447.7" stroke="#2c2c2c" stroke-width="1.77"/><line x1="1710.56" y1="1395.3" x2="1710.56" y2="1447.7" stroke="#505050" stroke-width="2.58"/><line x1="1728.45" y1="1395.3" x2="1728.45" y2="1447.7" stroke="#818181" stroke-width="1.83"/><line x1="1747.51" y1="1395.3" x2="1747.51" y2="1447.7" stroke="#424242" stroke-width="1.97"/><line x1="1763.01" y1="1395.3" x2="1763.01" y2="1447.7" stroke="#717171" stroke-width="2.09"/><line x1="1767.85" y1="1395.3" x2="1767.85" y2="1447.7" stroke="#464646" stroke-width="1.41"/><line x1="1771.43" y1="1395.3" x2="1771.43" y2="1447.7" stroke="#8a8a8a" stroke-width="1.5"/><line x1="1775.68" y1="1395.3" x2="1775.68" y2="1447.7" stroke="#7c7c7c" stroke-width="1.72"/><line x1="1777.77" y1="1395.3" x2="1777.77" y2="1447.7" stroke="#2a2a2a" stroke-width="1.59"/><line x1="1801.18" y1="1395.3" x2="1801.18" y2="1447.7" stroke="#888888" stroke-width="1.39"/><line x1="1802.97" y1="1395.3" x2="1802.97" y2="1447.7" stroke="#676767" stroke-width="1.6"/><line x1="1806.37" y1="1395.3" x2="1806.37" y2="1447.7" stroke="#848484" stroke-width="1.32"/><line x1="1812.29" y1="1395.3" x2="1812.29" y2="1447.7" stroke="#3f3f3f" stroke-width="1.37"/><line x1="1813.36" y1="1395.3" x2="1813.36" y2="1447.7" stroke="#7b7b7b" stroke-width="2.09"/><line x1="1817.1" y1="1395.3" x2="1817.1" y2="1447.7" stroke="#282828" stroke-width="2.22"/><line x1="1830.14" y1="1395.3" x2="1830.14" y2="1447.7" stroke="#636363" stroke-width="2.39"/><line x1="1834.24" y1="1395.3" x2="1834.24" y2="1447.7" stroke="#8f8f8f" stroke-width="2.29"/><line x1="1838.68" y1="1395.3" x2="1838.68" y2="1447.7" stroke="#6f6f6f" stroke-width="1.89"/><line x1="1842.99" y1="1395.3" x2="1842.99" y2="1447.7" stroke="#868686" stroke-width="1.69"/><line x1="1844.81" y1="1395.3" x2="1844.81" y2="1447.7" stroke="#5b5b5b" stroke-width="2.08"/><line x1="1848.6" y1="1395.3" x2="1848.6" y2="1447.7" stroke="#323232" stroke-width="1.69"/><line x1="1854.59" y1="1395.3" x2="1854.59" y2="1447.7" stroke="#4a4a4a" stroke-width="1.44"/><line x1="1858.38" y1="1395.3" x2="1858.38" y2="1447.7" stroke="#525252" stroke-width="1.52"/><line x1="1878.09" y1="1395.3" x2="1878.09" y2="1447.7" stroke="#a5a5a5" stroke-width="2.29"/><line x1="1882.32" y1="1395.3" x2="1882.32" y2="1447.7" stroke="#696969" stroke-width="1.89"/><line x1="1884" y1="1395.3" x2="1884" y2="1447.7" stroke="#575757" stroke-width="1.63"/><line x1="1889.62" y1="1395.3" x2="1889.62" y2="1447.7" stroke="#888888" stroke-width="1.81"/><line x1="1891.68" y1="1395.3" x2="1891.68" y2="1447.7" stroke="#b2b2b2" stroke-width="2.54"/><line x1="1895.84" y1="1395.3" x2="1895.84" y2="1447.7" stroke="#a7a7a7" stroke-width="1.44"/><line x1="1899.11" y1="1395.3" x2="1899.11" y2="1447.7" stroke="#4c4c4c" stroke-width="2.45"/><line x1="1904.05" y1="1395.3" x2="1904.05" y2="1447.7" stroke="#797979" stroke-width="1.89"/><line x1="1914.05" y1="1395.3" x2="1914.05" y2="1447.7" stroke="#181818" stroke-width="1.33"/><line x1="1916.34" y1="1395.3" x2="1916.34" y2="1447.7" stroke="#5e5e5e" stroke-width="2.35"/><line x1="1919.97" y1="1395.3" x2="1919.97" y2="1447.7" stroke="#2d2d2d" stroke-width="1.45"/><line x1="1921.96" y1="1395.3" x2="1921.96" y2="1447.7" stroke="#2d2d2d" stroke-width="2.09"/><line x1="1924.34" y1="1395.3" x2="1924.34" y2="1447.7" stroke="#3b3b3b" stroke-width="2.62"/><line x1="1948.19" y1="1395.3" x2="1948.19" y2="1447.7" stroke="#898989" stroke-width="2.41"/><line x1="1950.11" y1="1395.3" x2="1950.11" y2="1447.7" stroke="#606060" stroke-width="1.9"/><line x1="1952.71" y1="1395.3" x2="1952.71" y2="1447.7" stroke="#676767" stroke-width="2.08"/><line x1="1954.5" y1="1395.3" x2="1954.5" y2="1447.7" stroke="#595959" stroke-width="2.47"/><line x1="1956.9" y1="1395.3" x2="1956.9" y2="1447.7" stroke="#404040" stroke-width="2.08"/><line x1="1959.67" y1="1395.3" x2="1959.67" y2="1447.7" stroke="#282828" stroke-width="1.92"/><line x1="1961.6" y1="1395.3" x2="1961.6" y2="1447.7" stroke="#474747" stroke-width="2.35"/><line x1="1963.45" y1="1395.3" x2="1963.45" y2="1447.7" stroke="#303030" stroke-width="2.34"/>
<rect x="1415.86" y="1395.3" width="22.35" height="52.4" fill="#000"/>
<rect x="1415.86" y="1447.7" width="120.6" height="22" fill="#cb2a26"/><rect x="1536.06" y="1447.7" width="161.64" height="22" fill="#f07156"/><rect x="1697.3" y="1447.7" width="103.01" height="22" fill="#f7b49a"/><rect x="1799.91" y="1447.7" width="77.36" height="22" fill="#fde4d9"/><rect x="1876.87" y="1447.7" width="41.81" height="22" fill="#eceff8"/><rect x="1918.28" y="1447.7" width="29.72" height="22" fill="#b9d5e6"/><rect x="1947.59" y="1447.7" width="19.46" height="22" fill="#4a90c8"/>
<line x1="1416.1" y1="1447.7" x2="1416.1" y2="1469.7" stroke="#000" stroke-width="1.9" opacity="0.12"/><line x1="1417.17" y1="1447.7" x2="1417.17" y2="1469.7" stroke="#000" stroke-width="1.9" opacity="0.12"/><line x1="1417.96" y1="1447.7" x2="1417.96" y2="1469.7" stroke="#000" stroke-width="1.46" opacity="0.12"/><line x1="1418.86" y1="1447.7" x2="1418.86" y2="1469.7" stroke="#000" stroke-width="2.42" opacity="0.12"/><line x1="1419.23" y1="1447.7" x2="1419.23" y2="1469.7" stroke="#000" stroke-width="2.27" opacity="0.12"/><line x1="1420.05" y1="1447.7" x2="1420.05" y2="1469.7" stroke="#000" stroke-width="2.35" opacity="0.12"/><line x1="1420.79" y1="1447.7" x2="1420.79" y2="1469.7" stroke="#000" stroke-width="2.25" opacity="0.12"/><line x1="1421.64" y1="1447.7" x2="1421.64" y2="1469.7" stroke="#000" stroke-width="1.55" opacity="0.12"/><line x1="1422.76" y1="1447.7" x2="1422.76" y2="1469.7" stroke="#000" stroke-width="2.03" opacity="0.12"/><line x1="1423.17" y1="1447.7" x2="1423.17" y2="1469.7" stroke="#000" stroke-width="1.94" opacity="0.12"/><line x1="1424.21" y1="1447.7" x2="1424.21" y2="1469.7" stroke="#000" stroke-width="1.85" opacity="0.12"/><line x1="1424.81" y1="1447.7" x2="1424.81" y2="1469.7" stroke="#000" stroke-width="1.99" opacity="0.12"/><line x1="1425.65" y1="1447.7" x2="1425.65" y2="1469.7" stroke="#000" stroke-width="1.63" opacity="0.12"/><line x1="1426.53" y1="1447.7" x2="1426.53" y2="1469.7" stroke="#000" stroke-width="1.81" opacity="0.12"/><line x1="1427.58" y1="1447.7" x2="1427.58" y2="1469.7" stroke="#000" stroke-width="2.21" opacity="0.12"/><line x1="1428.23" y1="1447.7" x2="1428.23" y2="1469.7" stroke="#000" stroke-width="1.85" opacity="0.12"/><line x1="1428.65" y1="1447.7" x2="1428.65" y2="1469.7" stroke="#000" stroke-width="2.61" opacity="0.12"/><line x1="1429.61" y1="1447.7" x2="1429.61" y2="1469.7" stroke="#000" stroke-width="1.5" opacity="0.12"/><line x1="1430.32" y1="1447.7" x2="1430.32" y2="1469.7" stroke="#000" stroke-width="2.47" opacity="0.12"/><line x1="1431.58" y1="1447.7" x2="1431.58" y2="1469.7" stroke="#000" stroke-width="1.52" opacity="0.12"/><line x1="1432.33" y1="1447.7" x2="1432.33" y2="1469.7" stroke="#000" stroke-width="2.52" opacity="0.12"/><line x1="1433.12" y1="1447.7" x2="1433.12" y2="1469.7" stroke="#000" stroke-width="2.42" opacity="0.12"/><line x1="1433.93" y1="1447.7" x2="1433.93" y2="1469.7" stroke="#000" stroke-width="2.5" opacity="0.12"/><line x1="1434.67" y1="1447.7" x2="1434.67" y2="1469.7" stroke="#000" stroke-width="2.3" opacity="0.12"/><line x1="1435.6" y1="1447.7" x2="1435.6" y2="1469.7" stroke="#000" stroke-width="2.66" opacity="0.12"/><line x1="1436.29" y1="1447.7" x2="1436.29" y2="1469.7" stroke="#000" stroke-width="2.31" opacity="0.12"/><line x1="1436.74" y1="1447.7" x2="1436.74" y2="1469.7" stroke="#000" stroke-width="2.16" opacity="0.12"/><line x1="1437.91" y1="1447.7" x2="1437.91" y2="1469.7" stroke="#000" stroke-width="2.13" opacity="0.12"/><line x1="1438.48" y1="1447.7" x2="1438.48" y2="1469.7" stroke="#000" stroke-width="2.32" opacity="0.12"/><line x1="1439.44" y1="1447.7" x2="1439.44" y2="1469.7" stroke="#000" stroke-width="1.71" opacity="0.12"/><line x1="1440.09" y1="1447.7" x2="1440.09" y2="1469.7" stroke="#000" stroke-width="2.7" opacity="0.12"/><line x1="1442.6" y1="1447.7" x2="1442.6" y2="1469.7" stroke="#000" stroke-width="1.72" opacity="0.12"/><line x1="1443.56" y1="1447.7" x2="1443.56" y2="1469.7" stroke="#000" stroke-width="2.14" opacity="0.12"/><line x1="1445.49" y1="1447.7" x2="1445.49" y2="1469.7" stroke="#000" stroke-width="1.96" opacity="0.12"/><line x1="1447.04" y1="1447.7" x2="1447.04" y2="1469.7" stroke="#000" stroke-width="2.47" opacity="0.12"/><line x1="1449.62" y1="1447.7" x2="1449.62" y2="1469.7" stroke="#000" stroke-width="1.77" opacity="0.12"/><line x1="1451.27" y1="1447.7" x2="1451.27" y2="1469.7" stroke="#000" stroke-width="2.66" opacity="0.12"/><line x1="1453.02" y1="1447.7" x2="1453.02" y2="1469.7" stroke="#000" stroke-width="1.96" opacity="0.12"/><line x1="1454.08" y1="1447.7" x2="1454.08" y2="1469.7" stroke="#000" stroke-width="1.72" opacity="0.12"/><line x1="1456.42" y1="1447.7" x2="1456.42" y2="1469.7" stroke="#000" stroke-width="2" opacity="0.12"/><line x1="1458.05" y1="1447.7" x2="1458.05" y2="1469.7" stroke="#000" stroke-width="2.33" opacity="0.12"/><line x1="1459.47" y1="1447.7" x2="1459.47" y2="1469.7" stroke="#000" stroke-width="2.26" opacity="0.12"/><line x1="1462.91" y1="1447.7" x2="1462.91" y2="1469.7" stroke="#000" stroke-width="2.38" opacity="0.12"/><line x1="1464.25" y1="1447.7" x2="1464.25" y2="1469.7" stroke="#000" stroke-width="1.97" opacity="0.12"/><line x1="1467.45" y1="1447.7" x2="1467.45" y2="1469.7" stroke="#000" stroke-width="1.77" opacity="0.12"/><line x1="1469.52" y1="1447.7" x2="1469.52" y2="1469.7" stroke="#000" stroke-width="1.91" opacity="0.12"/><line x1="1471.83" y1="1447.7" x2="1471.83" y2="1469.7" stroke="#000" stroke-width="2.51" opacity="0.12"/><line x1="1474.45" y1="1447.7" x2="1474.45" y2="1469.7" stroke="#000" stroke-width="2.45" opacity="0.12"/><line x1="1476.82" y1="1447.7" x2="1476.82" y2="1469.7" stroke="#000" stroke-width="1.72" opacity="0.12"/><line x1="1479.66" y1="1447.7" x2="1479.66" y2="1469.7" stroke="#000" stroke-width="1.35" opacity="0.12"/><line x1="1481.56" y1="1447.7" x2="1481.56" y2="1469.7" stroke="#000" stroke-width="1.81" opacity="0.12"/><line x1="1484.83" y1="1447.7" x2="1484.83" y2="1469.7" stroke="#000" stroke-width="2.53" opacity="0.12"/><line x1="1486.73" y1="1447.7" x2="1486.73" y2="1469.7" stroke="#000" stroke-width="1.36" opacity="0.12"/><line x1="1490.63" y1="1447.7" x2="1490.63" y2="1469.7" stroke="#000" stroke-width="1.48" opacity="0.12"/><line x1="1492.85" y1="1447.7" x2="1492.85" y2="1469.7" stroke="#000" stroke-width="1.75" opacity="0.12"/><line x1="1505.97" y1="1447.7" x2="1505.97" y2="1469.7" stroke="#000" stroke-width="1.65" opacity="0.12"/><line x1="1507.55" y1="1447.7" x2="1507.55" y2="1469.7" stroke="#000" stroke-width="1.51" opacity="0.12"/><line x1="1509.01" y1="1447.7" x2="1509.01" y2="1469.7" stroke="#000" stroke-width="1.82" opacity="0.12"/><line x1="1520.28" y1="1447.7" x2="1520.28" y2="1469.7" stroke="#000" stroke-width="2.61" opacity="0.12"/><line x1="1525.53" y1="1447.7" x2="1525.53" y2="1469.7" stroke="#000" stroke-width="2.59" opacity="0.12"/><line x1="1527.57" y1="1447.7" x2="1527.57" y2="1469.7" stroke="#000" stroke-width="2.1" opacity="0.12"/><line x1="1532.97" y1="1447.7" x2="1532.97" y2="1469.7" stroke="#000" stroke-width="2.48" opacity="0.12"/><line x1="1555.05" y1="1447.7" x2="1555.05" y2="1469.7" stroke="#000" stroke-width="1.45" opacity="0.12"/><line x1="1556.19" y1="1447.7" x2="1556.19" y2="1469.7" stroke="#000" stroke-width="2.51" opacity="0.12"/><line x1="1559.3" y1="1447.7" x2="1559.3" y2="1469.7" stroke="#000" stroke-width="2.43" opacity="0.12"/><line x1="1563.32" y1="1447.7" x2="1563.32" y2="1469.7" stroke="#000" stroke-width="2.17" opacity="0.12"/><line x1="1567.05" y1="1447.7" x2="1567.05" y2="1469.7" stroke="#000" stroke-width="2.3" opacity="0.12"/><line x1="1569.43" y1="1447.7" x2="1569.43" y2="1469.7" stroke="#000" stroke-width="2.37" opacity="0.12"/><line x1="1571.91" y1="1447.7" x2="1571.91" y2="1469.7" stroke="#000" stroke-width="1.73" opacity="0.12"/><line x1="1576.58" y1="1447.7" x2="1576.58" y2="1469.7" stroke="#000" stroke-width="1.96" opacity="0.12"/><line x1="1578.01" y1="1447.7" x2="1578.01" y2="1469.7" stroke="#000" stroke-width="2.4" opacity="0.12"/><line x1="1580.55" y1="1447.7" x2="1580.55" y2="1469.7" stroke="#000" stroke-width="1.31" opacity="0.12"/><line x1="1583.52" y1="1447.7" x2="1583.52" y2="1469.7" stroke="#000" stroke-width="1.66" opacity="0.12"/><line x1="1586.52" y1="1447.7" x2="1586.52" y2="1469.7" stroke="#000" stroke-width="2.61" opacity="0.12"/><line x1="1599.36" y1="1447.7" x2="1599.36" y2="1469.7" stroke="#000" stroke-width="1.67" opacity="0.12"/><line x1="1604.33" y1="1447.7" x2="1604.33" y2="1469.7" stroke="#000" stroke-width="2.56" opacity="0.12"/><line x1="1607.7" y1="1447.7" x2="1607.7" y2="1469.7" stroke="#000" stroke-width="1.57" opacity="0.12"/><line x1="1609.89" y1="1447.7" x2="1609.89" y2="1469.7" stroke="#000" stroke-width="1.97" opacity="0.12"/><line x1="1614.8" y1="1447.7" x2="1614.8" y2="1469.7" stroke="#000" stroke-width="2.1" opacity="0.12"/><line x1="1617.53" y1="1447.7" x2="1617.53" y2="1469.7" stroke="#000" stroke-width="2.45" opacity="0.12"/><line x1="1636.11" y1="1447.7" x2="1636.11" y2="1469.7" stroke="#000" stroke-width="1.73" opacity="0.12"/><line x1="1640.42" y1="1447.7" x2="1640.42" y2="1469.7" stroke="#000" stroke-width="2" opacity="0.12"/><line x1="1654.84" y1="1447.7" x2="1654.84" y2="1469.7" stroke="#000" stroke-width="1.93" opacity="0.12"/><line x1="1658.51" y1="1447.7" x2="1658.51" y2="1469.7" stroke="#000" stroke-width="1.78" opacity="0.12"/><line x1="1659.98" y1="1447.7" x2="1659.98" y2="1469.7" stroke="#000" stroke-width="1.37" opacity="0.12"/><line x1="1664.16" y1="1447.7" x2="1664.16" y2="1469.7" stroke="#000" stroke-width="1.9" opacity="0.12"/><line x1="1666.87" y1="1447.7" x2="1666.87" y2="1469.7" stroke="#000" stroke-width="2.34" opacity="0.12"/><line x1="1669.28" y1="1447.7" x2="1669.28" y2="1469.7" stroke="#000" stroke-width="2.58" opacity="0.12"/><line x1="1673.46" y1="1447.7" x2="1673.46" y2="1469.7" stroke="#000" stroke-width="2.44" opacity="0.12"/><line x1="1674.19" y1="1447.7" x2="1674.19" y2="1469.7" stroke="#000" stroke-width="2.25" opacity="0.12"/><line x1="1679.09" y1="1447.7" x2="1679.09" y2="1469.7" stroke="#000" stroke-width="2.23" opacity="0.12"/><line x1="1680.34" y1="1447.7" x2="1680.34" y2="1469.7" stroke="#000" stroke-width="1.66" opacity="0.12"/><line x1="1684.9" y1="1447.7" x2="1684.9" y2="1469.7" stroke="#000" stroke-width="2.32" opacity="0.12"/><line x1="1686.23" y1="1447.7" x2="1686.23" y2="1469.7" stroke="#000" stroke-width="1.38" opacity="0.12"/><line x1="1688.92" y1="1447.7" x2="1688.92" y2="1469.7" stroke="#000" stroke-width="2.15" opacity="0.12"/><line x1="1692.9" y1="1447.7" x2="1692.9" y2="1469.7" stroke="#000" stroke-width="2.39" opacity="0.12"/><line x1="1696.83" y1="1447.7" x2="1696.83" y2="1469.7" stroke="#000" stroke-width="1.83" opacity="0.12"/><line x1="1698.2" y1="1447.7" x2="1698.2" y2="1469.7" stroke="#000" stroke-width="2" opacity="0.12"/><line x1="1701.67" y1="1447.7" x2="1701.67" y2="1469.7" stroke="#000" stroke-width="1.88" opacity="0.12"/><line x1="1704.88" y1="1447.7" x2="1704.88" y2="1469.7" stroke="#000" stroke-width="1.92" opacity="0.12"/><line x1="1706.96" y1="1447.7" x2="1706.96" y2="1469.7" stroke="#000" stroke-width="1.77" opacity="0.12"/><line x1="1710.56" y1="1447.7" x2="1710.56" y2="1469.7" stroke="#000" stroke-width="2.58" opacity="0.12"/><line x1="1728.45" y1="1447.7" x2="1728.45" y2="1469.7" stroke="#000" stroke-width="1.83" opacity="0.12"/><line x1="1747.51" y1="1447.7" x2="1747.51" y2="1469.7" stroke="#000" stroke-width="1.97" opacity="0.12"/><line x1="1763.01" y1="1447.7" x2="1763.01" y2="1469.7" stroke="#000" stroke-width="2.09" opacity="0.12"/><line x1="1767.85" y1="1447.7" x2="1767.85" y2="1469.7" stroke="#000" stroke-width="1.41" opacity="0.12"/><line x1="1771.43" y1="1447.7" x2="1771.43" y2="1469.7" stroke="#000" stroke-width="1.5" opacity="0.12"/><line x1="1775.68" y1="1447.7" x2="1775.68" y2="1469.7" stroke="#000" stroke-width="1.72" opacity="0.12"/><line x1="1777.77" y1="1447.7" x2="1777.77" y2="1469.7" stroke="#000" stroke-width="1.59" opacity="0.12"/><line x1="1801.18" y1="1447.7" x2="1801.18" y2="1469.7" stroke="#000" stroke-width="1.39" opacity="0.12"/><line x1="1802.97" y1="1447.7" x2="1802.97" y2="1469.7" stroke="#000" stroke-width="1.6" opacity="0.12"/><line x1="1806.37" y1="1447.7" x2="1806.37" y2="1469.7" stroke="#000" stroke-width="1.32" opacity="0.12"/><line x1="1812.29" y1="1447.7" x2="1812.29" y2="1469.7" stroke="#000" stroke-width="1.37" opacity="0.12"/><line x1="1813.36" y1="1447.7" x2="1813.36" y2="1469.7" stroke="#000" stroke-width="2.09" opacity="0.12"/><line x1="1817.1" y1="1447.7" x2="1817.1" y2="1469.7" stroke="#000" stroke-width="2.22" opacity="0.12"/><line x1="1830.14" y1="1447.7" x2="1830.14" y2="1469.7" stroke="#000" stroke-width="2.39" opacity="0.12"/><line x1="1834.24" y1="1447.7" x2="1834.24" y2="1469.7" stroke="#000" stroke-width="2.29" opacity="0.12"/><line x1="1838.68" y1="1447.7" x2="1838.68" y2="1469.7" stroke="#000" stroke-width="1.89" opacity="0.12"/><line x1="1842.99" y1="1447.7" x2="1842.99" y2="1469.7" stroke="#000" stroke-width="1.69" opacity="0.12"/><line x1="1844.81" y1="1447.7" x2="1844.81" y2="1469.7" stroke="#000" stroke-width="2.08" opacity="0.12"/><line x1="1848.6" y1="1447.7" x2="1848.6" y2="1469.7" stroke="#000" stroke-width="1.69" opacity="0.12"/><line x1="1854.59" y1="1447.7" x2="1854.59" y2="1469.7" stroke="#000" stroke-width="1.44" opacity="0.12"/><line x1="1858.38" y1="1447.7" x2="1858.38" y2="1469.7" stroke="#000" stroke-width="1.52" opacity="0.12"/><line x1="1878.09" y1="1447.7" x2="1878.09" y2="1469.7" stroke="#000" stroke-width="2.29" opacity="0.12"/><line x1="1882.32" y1="1447.7" x2="1882.32" y2="1469.7" stroke="#000" stroke-width="1.89" opacity="0.12"/><line x1="1884" y1="1447.7" x2="1884" y2="1469.7" stroke="#000" stroke-width="1.63" opacity="0.12"/><line x1="1889.62" y1="1447.7" x2="1889.62" y2="1469.7" stroke="#000" stroke-width="1.81" opacity="0.12"/><line x1="1891.68" y1="1447.7" x2="1891.68" y2="1469.7" stroke="#000" stroke-width="2.54" opacity="0.12"/><line x1="1895.84" y1="1447.7" x2="1895.84" y2="1469.7" stroke="#000" stroke-width="1.44" opacity="0.12"/><line x1="1899.11" y1="1447.7" x2="1899.11" y2="1469.7" stroke="#000" stroke-width="2.45" opacity="0.12"/><line x1="1904.05" y1="1447.7" x2="1904.05" y2="1469.7" stroke="#000" stroke-width="1.89" opacity="0.12"/><line x1="1914.05" y1="1447.7" x2="1914.05" y2="1469.7" stroke="#000" stroke-width="1.33" opacity="0.12"/><line x1="1916.34" y1="1447.7" x2="1916.34" y2="1469.7" stroke="#000" stroke-width="2.35" opacity="0.12"/><line x1="1919.97" y1="1447.7" x2="1919.97" y2="1469.7" stroke="#000" stroke-width="1.45" opacity="0.12"/><line x1="1921.96" y1="1447.7" x2="1921.96" y2="1469.7" stroke="#000" stroke-width="2.09" opacity="0.12"/><line x1="1924.34" y1="1447.7" x2="1924.34" y2="1469.7" stroke="#000" stroke-width="2.62" opacity="0.12"/><line x1="1948.19" y1="1447.7" x2="1948.19" y2="1469.7" stroke="#000" stroke-width="2.41" opacity="0.12"/><line x1="1950.11" y1="1447.7" x2="1950.11" y2="1469.7" stroke="#000" stroke-width="1.9" opacity="0.12"/><line x1="1952.71" y1="1447.7" x2="1952.71" y2="1469.7" stroke="#000" stroke-width="2.08" opacity="0.12"/><line x1="1954.5" y1="1447.7" x2="1954.5" y2="1469.7" stroke="#000" stroke-width="2.47" opacity="0.12"/><line x1="1956.9" y1="1447.7" x2="1956.9" y2="1469.7" stroke="#000" stroke-width="2.08" opacity="0.12"/><line x1="1959.67" y1="1447.7" x2="1959.67" y2="1469.7" stroke="#000" stroke-width="1.92" opacity="0.12"/><line x1="1961.6" y1="1447.7" x2="1961.6" y2="1469.7" stroke="#000" stroke-width="2.35" opacity="0.12"/><line x1="1963.45" y1="1447.7" x2="1963.45" y2="1469.7" stroke="#000" stroke-width="2.34" opacity="0.12"/>
<line x1="1415.9" y1="1470.2" x2="1966.65" y2="1470.2" stroke="#8a8a8a" stroke-width="1.2"/>
<line x1="1550" y1="1469.7" x2="1550" y2="1472.7" stroke="#8a8a8a" stroke-width="1"/>
<line x1="1684.5" y1="1469.7" x2="1684.5" y2="1472.7" stroke="#8a8a8a" stroke-width="1"/>
<line x1="1818.2" y1="1469.7" x2="1818.2" y2="1472.7" stroke="#8a8a8a" stroke-width="1"/>
<line x1="1953.1" y1="1469.7" x2="1953.1" y2="1472.7" stroke="#8a8a8a" stroke-width="1"/>
<line x1="1415.9" y1="1159" x2="1415.9" y2="1470.7" stroke="#6e6e6e" stroke-width="1.8"/>
<line x1="1412.4" y1="1170.7" x2="1415.9" y2="1170.7" stroke="#6e6e6e" stroke-width="1.4"/>
<line x1="1412.4" y1="1223.8" x2="1415.9" y2="1223.8" stroke="#6e6e6e" stroke-width="1.4"/>
<line x1="1412.4" y1="1277" x2="1415.9" y2="1277" stroke="#6e6e6e" stroke-width="1.4"/>
<line x1="1412.4" y1="1330" x2="1415.9" y2="1330" stroke="#6e6e6e" stroke-width="1.4"/>
<line x1="1412.4" y1="1383.2" x2="1415.9" y2="1383.2" stroke="#6e6e6e" stroke-width="1.4"/>
<polyline points="1415.86,1316.52 1416.59,1294.54 1417.32,1272.55 1418.42,1250.56 1419.89,1232.24 1422.45,1221.24 1426.12,1210.25 1429.78,1199.26 1433.45,1184.6 1436.01,1178 1440.78,1175.44 1446.27,1171.77 1453.6,1170.67 1460.93,1171.04 1468.26,1169.94 1475.59,1172.87 1486.58,1173.6 1493.91,1175.44 1504.91,1180.2 1523.23,1186.43 1541.55,1194.86 1559.88,1202.92 1581.86,1213.08 1603.85,1223.25 1625.84,1233.41 1647.83,1243.58 1669.82,1253.74 1691.8,1263.91 1713.79,1274.07 1735.78,1284.24 1757.77,1294.4 1779.75,1304.57 1801.74,1314.73 1823.73,1324.9 1845.72,1335.06 1867.7,1345.23 1889.69,1355.39 1911.68,1365.56 1933.67,1375.71 1941,1379.55 1948.33,1382.49 1959.32,1383.22 1962.98,1382.49 1965.92,1381.75" fill="none" stroke="#3ded3d" stroke-width="2.1" stroke-linejoin="round"/>
<text x="1698.9" y="1119.7" font-size="25.5" text-anchor="middle" textLength="153.5" lengthAdjust="spacingAndGlyphs">LRC signature</text>
<text x="1426.5" y="1509.5" font-size="26.5" fill="#ee1111" textLength="34.5" lengthAdjust="spacingAndGlyphs">UP</text>
<text x="1863.6" y="1509.5" font-size="26.5" fill="#3a86c6" textLength="79.5" lengthAdjust="spacingAndGlyphs">DOWN</text>
<line x1="2000.7" y1="1168.8" x2="2000.7" y2="1445.9" stroke="#1a1a1a" stroke-width="4.6"/>
<text x="2032.5" y="1312.8" font-size="25.5" text-anchor="middle" transform="rotate(90 2032.5 1312.8)" textLength="161" lengthAdjust="spacingAndGlyphs">CBFi treatment</text>
</g>
<g id="pg">
<text x="6.5" y="1575.2" font-size="26.5">g.</text>
<rect x="212.2" y="1613.9" width="72.3" height="72.3" fill="#120a87"/>
<rect x="284" y="1613.9" width="72" height="72.3" fill="#5002a2"/>
<rect x="355.5" y="1613.9" width="71.6" height="72.3" fill="#b83289"/>
<rect x="426.6" y="1613.9" width="71.9" height="72.3" fill="#f48b47"/>
<rect x="498" y="1613.9" width="72" height="72.3" fill="#f7933f"/>
<rect x="212.2" y="1685.7" width="72.3" height="72.7" fill="#120a87"/>
<rect x="284" y="1685.7" width="72" height="72.7" fill="#e8735a"/>
<rect x="355.5" y="1685.7" width="71.6" height="72.7" fill="#df6364"/>
<rect x="426.6" y="1685.7" width="71.9" height="72.7" fill="#f0834f"/>
<rect x="498" y="1685.7" width="72" height="72.7" fill="#f38949"/>
<rect x="212.2" y="1757.9" width="72.3" height="72.3" fill="#120a87"/>
<rect x="284" y="1757.9" width="72" height="72.3" fill="#fba836"/>
<rect x="355.5" y="1757.9" width="71.6" height="72.3" fill="#f9cd26"/>
<rect x="426.6" y="1757.9" width="71.9" height="72.3" fill="#f9c628"/>
<rect x="498" y="1757.9" width="72" height="72.3" fill="#cc4778"/>
<rect x="212.2" y="1829.7" width="72.3" height="72.3" fill="#120a87"/>
<rect x="284" y="1829.7" width="72" height="72.3" fill="#8c10a4"/>
<rect x="355.5" y="1829.7" width="71.6" height="72.3" fill="#a11f9b"/>
<rect x="426.6" y="1829.7" width="71.9" height="72.3" fill="#9c179e"/>
<rect x="498" y="1829.7" width="72" height="72.3" fill="#f0f921"/>
<rect x="212.2" y="1901.5" width="72.3" height="73" fill="#120a87"/>
<rect x="284" y="1901.5" width="72" height="73" fill="#7a03a8"/>
<rect x="355.5" y="1901.5" width="71.6" height="73" fill="#140b89"/>
<rect x="426.6" y="1901.5" width="71.9" height="73" fill="#0e0887"/>
<rect x="498" y="1901.5" width="72" height="73" fill="#5d01a6"/>
<rect x="212.2" y="1613.9" width="357.3" height="360.1" fill="none" stroke="#222" stroke-width="2"/>
<line x1="203.4" y1="1649.8" x2="212.2" y2="1649.8" stroke="#222" stroke-width="1.8"/>
<text x="197.3" y="1658.1" font-size="25.5" text-anchor="end" textLength="87" lengthAdjust="spacingAndGlyphs">t(12;21)</text>
<line x1="203.4" y1="1721.8" x2="212.2" y2="1721.8" stroke="#222" stroke-width="1.8"/>
<text x="197.3" y="1730.1" font-size="25.5" text-anchor="end" textLength="71" lengthAdjust="spacingAndGlyphs">t(5;12)</text>
<line x1="203.4" y1="1793.8" x2="212.2" y2="1793.8" stroke="#222" stroke-width="1.8"/>
<text x="197.3" y="1802.1" font-size="25.5" text-anchor="end" textLength="71" lengthAdjust="spacingAndGlyphs">t(1;19)</text>
<line x1="203.4" y1="1865.6" x2="212.2" y2="1865.6" stroke="#222" stroke-width="1.8"/>
<text x="197.3" y="1873.9" font-size="25.5" text-anchor="end" textLength="71" lengthAdjust="spacingAndGlyphs">t(4;11)</text>
<line x1="203.4" y1="1937.75" x2="212.2" y2="1937.75" stroke="#222" stroke-width="1.8"/>
<text x="197.3" y="1946.05" font-size="25.5" text-anchor="end" textLength="73" lengthAdjust="spacingAndGlyphs">t(9;22)</text>
<line x1="248.1" y1="1974" x2="248.1" y2="1983" stroke="#222" stroke-width="1.8"/>
<text x="248.1" y="2004.5" font-size="25.5" text-anchor="middle" textLength="12.5" lengthAdjust="spacingAndGlyphs">0</text>
<line x1="319.75" y1="1974" x2="319.75" y2="1983" stroke="#222" stroke-width="1.8"/>
<text x="319.75" y="2004.5" font-size="25.5" text-anchor="middle" textLength="12.5" lengthAdjust="spacingAndGlyphs">5</text>
<line x1="391.05" y1="1974" x2="391.05" y2="1983" stroke="#222" stroke-width="1.8"/>
<text x="391.05" y="2004.5" font-size="25.5" text-anchor="middle" textLength="27" lengthAdjust="spacingAndGlyphs">10</text>
<line x1="462.3" y1="1974" x2="462.3" y2="1983" stroke="#222" stroke-width="1.8"/>
<text x="462.3" y="2004.5" font-size="25.5" text-anchor="middle" textLength="27" lengthAdjust="spacingAndGlyphs">15</text>
<line x1="533.75" y1="1974" x2="533.75" y2="1983" stroke="#222" stroke-width="1.8"/>
<text x="533.75" y="2004.5" font-size="25.5" text-anchor="middle" textLength="27" lengthAdjust="spacingAndGlyphs">25</text>
<rect x="598.3" y="1614" width="31" height="360" fill="#fff" stroke="#222" stroke-width="2"/>
<line x1="598.3" y1="1697.3" x2="605.2" y2="1697.3" stroke="#222" stroke-width="1.6"/>
<line x1="622.5" y1="1697.3" x2="629.3" y2="1697.3" stroke="#222" stroke-width="1.6"/>
<text x="639.5" y="1704.3" font-size="19.5" textLength="20.5" lengthAdjust="spacingAndGlyphs">30</text>
<line x1="598.3" y1="1791.7" x2="605.2" y2="1791.7" stroke="#222" stroke-width="1.6"/>
<line x1="622.5" y1="1791.7" x2="629.3" y2="1791.7" stroke="#222" stroke-width="1.6"/>
<text x="639.5" y="1798.7" font-size="19.5" textLength="20.5" lengthAdjust="spacingAndGlyphs">20</text>
<line x1="598.3" y1="1886.7" x2="605.2" y2="1886.7" stroke="#222" stroke-width="1.6"/>
<line x1="622.5" y1="1886.7" x2="629.3" y2="1886.7" stroke="#222" stroke-width="1.6"/>
<text x="639.5" y="1893.7" font-size="19.5" textLength="20.5" lengthAdjust="spacingAndGlyphs">10</text>
</g>
<g id="ph">
<text x="695.5" y="1576.2" font-size="26.5">h.</text>
<rect x="849.1" y="1605.2" width="328.9" height="343.5" fill="#7f7f7f"/>
<line x1="865.9" y1="1605.2" x2="865.9" y2="1948.7" stroke="#6b6b6b" stroke-width="1.1"/>
<line x1="905.2" y1="1605.2" x2="905.2" y2="1948.7" stroke="#6b6b6b" stroke-width="1.1"/>
<line x1="944.5" y1="1605.2" x2="944.5" y2="1948.7" stroke="#6b6b6b" stroke-width="1.1"/>
<line x1="983.6" y1="1605.2" x2="983.6" y2="1948.7" stroke="#6b6b6b" stroke-width="1.1"/>
<line x1="1022.9" y1="1605.2" x2="1022.9" y2="1948.7" stroke="#6b6b6b" stroke-width="1.1"/>
<line x1="1062.2" y1="1605.2" x2="1062.2" y2="1948.7" stroke="#6b6b6b" stroke-width="1.1"/>
<line x1="1101.6" y1="1605.2" x2="1101.6" y2="1948.7" stroke="#6b6b6b" stroke-width="1.1"/>
<line x1="1140.9" y1="1605.2" x2="1140.9" y2="1948.7" stroke="#6b6b6b" stroke-width="1.1"/>
<line x1="849.1" y1="1634.6" x2="1178" y2="1634.6" stroke="#6b6b6b" stroke-width="1.1"/>
<line x1="849.1" y1="1676.9" x2="1178" y2="1676.9" stroke="#6b6b6b" stroke-width="1.1"/>
<line x1="849.1" y1="1720.4" x2="1178" y2="1720.4" stroke="#6b6b6b" stroke-width="1.1"/>
<line x1="849.1" y1="1762.7" x2="1178" y2="1762.7" stroke="#6b6b6b" stroke-width="1.1"/>
<line x1="849.1" y1="1805.3" x2="1178" y2="1805.3" stroke="#6b6b6b" stroke-width="1.1"/>
<line x1="849.1" y1="1848.3" x2="1178" y2="1848.3" stroke="#6b6b6b" stroke-width="1.1"/>
<line x1="849.1" y1="1890.9" x2="1178" y2="1890.9" stroke="#6b6b6b" stroke-width="1.1"/>
<line x1="849.1" y1="1933.5" x2="1178" y2="1933.5" stroke="#6b6b6b" stroke-width="1.1"/>
<g transform="translate(845 1600) scale(0.18529)"><g filter="url(#rough)"><path d="M340,225 C350,170 400,120 470,108 C530,98 600,112 640,150 C660,190 700,230 750,255 C790,275 810,300 800,312 C740,318 680,322 640,335 C610,358 560,362 500,348 C450,335 400,325 372,328 C350,300 335,262 340,225 Z" fill="#e3e3e3"/><path d="M470,335 C500,330 560,340 620,338 C630,350 600,362 560,360 C520,360 490,352 470,345 Z" fill="#a1a4cb"/><path d="M575,360 C585,365 590,380 575,390 C560,400 555,415 540,425 C525,430 515,420 525,410 C540,400 550,385 560,372 Z" fill="#000000"/><path d="M368,320 C380,315 395,318 390,330 C380,333 370,330 368,320 Z" fill="#cd9ba3"/><path d="M1095,300 C1100,262 1140,250 1180,262 C1220,252 1262,268 1276,300 C1286,332 1262,360 1238,375 C1232,400 1230,425 1224,442 C1212,432 1202,402 1182,392 C1142,396 1100,382 1093,345 Z" fill="#e3e3e3"/><path d="M1195,440 C1205,432 1220,434 1232,440 C1225,450 1205,452 1195,446 Z" fill="#000000"/><path d="M1010,492 C1030,480 1055,470 1070,478 C1085,490 1095,505 1080,515 C1065,525 1050,530 1040,515 C1030,505 1015,502 1010,492 Z" fill="#000000"/><path d="M1070,505 C1080,500 1094,504 1090,512 C1082,516 1072,514 1070,505 Z" fill="#f0f0f0"/><path d="M100,830 C102,800 140,788 180,800 C230,812 290,838 335,858 C325,882 300,882 280,872 C240,862 200,852 160,846 C130,844 105,846 100,830 Z" fill="#cd9ba3"/><path d="M340,780 C350,750 380,730 400,725 C405,760 390,800 370,820 C355,815 340,800 340,780 Z" fill="#cd9ba3"/><path d="M320,870 C318,820 358,760 400,722 C430,700 470,700 500,728 C540,742 600,748 640,782 C700,822 760,860 820,880 C880,892 950,905 1000,930 C1030,952 1010,990 970,990 C920,1000 880,1022 860,1040 C800,1062 740,1080 680,1096 C620,1102 540,1084 500,1072 C440,1052 380,992 350,942 Z" fill="#a1a4cb"/><path d="M975,1052 C990,1026 1040,1016 1072,1004 C1082,1030 1062,1060 1032,1070 C1002,1074 980,1066 975,1052 Z" fill="#cd9ba3"/><path d="M1000,942 C1050,930 1110,930 1170,915 C1230,900 1262,870 1290,820 C1300,760 1310,700 1320,660 C1330,620 1360,600 1400,600 C1450,620 1520,700 1570,780 C1610,830 1650,880 1722,950 C1680,990 1620,1030 1582,1062 C1560,1122 1540,1182 1512,1262 C1502,1332 1492,1422 1482,1502 C1442,1482 1392,1452 1352,1422 C1330,1380 1310,1300 1320,1230 C1330,1170 1345,1120 1340,1080 C1320,1040 1290,1020 1262,1012 C1202,1002 1142,992 1102,982 C1062,977 1012,972 1000,942 Z" fill="#0a3fa6"/><path d="M1300,560 C1302,538 1332,528 1372,540 C1422,560 1472,600 1502,642 C1532,692 1562,742 1582,782 C1562,802 1522,792 1482,762 C1442,732 1402,702 1372,682 C1342,662 1312,632 1300,600 Z" fill="#000000"/><path d="M1325,640 C1345,650 1360,670 1350,700 C1335,690 1320,665 1325,640 Z" fill="#0a3fa6"/><path d="M1420,700 C1450,690 1480,700 1470,730 C1445,730 1425,720 1420,700 Z" fill="#0a3fa6"/><path d="M1292,548 C1320,520 1380,508 1432,524 C1452,546 1458,570 1442,580 C1402,592 1352,582 1312,572 Z" fill="#e3e3e3"/><path d="M1080,1452 C1080,1402 1120,1372 1160,1372 C1200,1342 1240,1292 1280,1252 C1320,1222 1360,1202 1400,1202 C1452,1232 1492,1302 1492,1382 C1492,1482 1462,1572 1402,1622 C1352,1662 1292,1682 1242,1677 C1182,1662 1122,1622 1097,1562 C1082,1512 1078,1482 1080,1452 Z" fill="#000000"/><path d="M1380,1210 C1420,1205 1470,1230 1490,1290 C1470,1300 1440,1290 1420,1270 C1400,1250 1385,1230 1380,1210 Z" fill="#0a3fa6"/><path d="M868,1322 C890,1310 922,1320 942,1340 C962,1350 982,1358 977,1368 C952,1372 932,1377 922,1397 C902,1392 882,1362 868,1342 Z" fill="#000000"/><path d="M858,1318 C866,1306 880,1308 884,1318 C878,1328 864,1330 858,1318 Z" fill="#a1a4cb"/><circle cx="960" cy="1405" r="6" fill="#000000"/><circle cx="1002" cy="1436" r="8" fill="#000000"/><circle cx="632" cy="1082" r="6" fill="#000000"/><path d="M312,1678 C320,1668 328,1674 324,1700 C320,1740 317,1770 312,1790 C302,1802 290,1810 284,1800 C284,1790 294,1770 299,1740 C302,1720 305,1690 312,1678 Z" fill="#8c0a3c"/><path d="M312,1660 C320,1650 328,1656 326,1672 C318,1678 310,1674 312,1660 Z" fill="#a1a4cb"/><rect x="1335.1" y="833.91" width="7" height="7" fill="#7f7f7f"/><rect x="1520.5" y="818.29" width="7" height="7" fill="#a1a4cb"/><rect x="1344.3" y="815.94" width="7" height="7" fill="#7f7f7f"/><rect x="1330.26" y="973.94" width="7" height="7" fill="#2a55b8"/><rect x="1316.04" y="877.38" width="7" height="7" fill="#7f7f7f"/><rect x="1427.18" y="830.22" width="7" height="7" fill="#a1a4cb"/><rect x="1568.67" y="851.69" width="7" height="7" fill="#a1a4cb"/><rect x="1443.41" y="870.58" width="7" height="7" fill="#2a55b8"/><rect x="1445.01" y="903.31" width="7" height="7" fill="#7f7f7f"/><rect x="1459.89" y="949.41" width="7" height="7" fill="#a1a4cb"/><rect x="1503.58" y="857.48" width="7" height="7" fill="#a1a4cb"/><rect x="1304.26" y="877.91" width="7" height="7" fill="#a1a4cb"/><rect x="1509.65" y="998.43" width="7" height="7" fill="#a1a4cb"/><rect x="1597.17" y="878.3" width="7" height="7" fill="#111"/><rect x="1548.5" y="909.57" width="7" height="7" fill="#a1a4cb"/><rect x="1431.52" y="963.13" width="7" height="7" fill="#7f7f7f"/><rect x="1322.21" y="847.53" width="7" height="7" fill="#7f7f7f"/><rect x="1383.43" y="992.54" width="7" height="7" fill="#2a55b8"/><rect x="1415.85" y="855.37" width="7" height="7" fill="#2a55b8"/><rect x="1428.59" y="874.8" width="7" height="7" fill="#7f7f7f"/><rect x="1536.53" y="879.35" width="7" height="7" fill="#2a55b8"/><rect x="1589.91" y="911.06" width="7" height="7" fill="#111"/><rect x="1328.81" y="970.73" width="7" height="7" fill="#2a55b8"/><rect x="1509.21" y="913.54" width="7" height="7" fill="#a1a4cb"/><rect x="1501.83" y="937.11" width="7" height="7" fill="#2a55b8"/><rect x="1383.41" y="954.34" width="7" height="7" fill="#111"/><rect x="1448.94" y="864.31" width="7" height="7" fill="#111"/><rect x="1460.69" y="883.75" width="7" height="7" fill="#7f7f7f"/><rect x="1471.4" y="976.11" width="7" height="7" fill="#111"/><rect x="1526.27" y="868.42" width="7" height="7" fill="#7f7f7f"/><rect x="1403.42" y="957.21" width="7" height="7" fill="#a1a4cb"/><rect x="1480.58" y="816.97" width="7" height="7" fill="#111"/><rect x="1508.31" y="899.08" width="7" height="7" fill="#7f7f7f"/><rect x="1555.07" y="941.52" width="7" height="7" fill="#2a55b8"/><rect x="1583.38" y="918.8" width="7" height="7" fill="#111"/><rect x="1492.91" y="834.11" width="7" height="7" fill="#2a55b8"/><rect x="1542.57" y="986.26" width="7" height="7" fill="#7f7f7f"/><rect x="1471.33" y="839.73" width="7" height="7" fill="#a1a4cb"/><rect x="1539.16" y="968.82" width="7" height="7" fill="#a1a4cb"/><rect x="1336.96" y="828.66" width="7" height="7" fill="#7f7f7f"/><rect x="1490.69" y="958.63" width="7" height="7" fill="#7f7f7f"/><rect x="1491.74" y="850.54" width="7" height="7" fill="#2a55b8"/><rect x="1558.13" y="859.21" width="7" height="7" fill="#a1a4cb"/><rect x="1553.19" y="888.86" width="7" height="7" fill="#2a55b8"/><rect x="1404.07" y="842.52" width="7" height="7" fill="#111"/><rect x="1412.47" y="967.59" width="7" height="7" fill="#a1a4cb"/><rect x="1557.17" y="964.8" width="7" height="7" fill="#a1a4cb"/><rect x="1356.1" y="844.37" width="7" height="7" fill="#111"/><rect x="1490.69" y="969.83" width="7" height="7" fill="#111"/><rect x="1579.83" y="937.88" width="7" height="7" fill="#111"/><rect x="1392.73" y="815.74" width="7" height="7" fill="#111"/><rect x="1346.71" y="969.86" width="7" height="7" fill="#111"/><rect x="1484.63" y="851.31" width="7" height="7" fill="#111"/><rect x="1535.52" y="882.82" width="7" height="7" fill="#a1a4cb"/><rect x="1424" y="894.26" width="7" height="7" fill="#111"/><rect x="1399.18" y="951.13" width="7" height="7" fill="#111"/><rect x="1495.63" y="819.14" width="7" height="7" fill="#111"/><rect x="1361.29" y="972.11" width="7" height="7" fill="#2a55b8"/><rect x="1348.23" y="981.69" width="7" height="7" fill="#2a55b8"/><rect x="1604.39" y="883.9" width="7" height="7" fill="#a1a4cb"/><rect x="1371.87" y="891.78" width="7" height="7" fill="#111"/><rect x="1548.46" y="870.86" width="7" height="7" fill="#7f7f7f"/><rect x="1412.48" y="807.7" width="7" height="7" fill="#a1a4cb"/><rect x="1317.83" y="828.73" width="7" height="7" fill="#2a55b8"/><rect x="1398.92" y="977.38" width="7" height="7" fill="#111"/><rect x="1434.77" y="882.03" width="7" height="7" fill="#a1a4cb"/><rect x="1325.02" y="855.09" width="7" height="7" fill="#a1a4cb"/><rect x="1467.22" y="989.39" width="7" height="7" fill="#7f7f7f"/><rect x="1607.66" y="890.73" width="7" height="7" fill="#a1a4cb"/><rect x="1498.56" y="913.41" width="7" height="7" fill="#111"/><rect x="1388.91" y="1459.16" width="7" height="7" fill="#333"/><rect x="1198.25" y="1525.01" width="7" height="7" fill="#333"/><rect x="1214.15" y="1440.74" width="7" height="7" fill="#0a3fa6"/><rect x="1381.87" y="1480.4" width="7" height="7" fill="#0a3fa6"/><rect x="1371.89" y="1370.13" width="7" height="7" fill="#0a3fa6"/><rect x="1395.69" y="1455.29" width="7" height="7" fill="#0a3fa6"/><rect x="1377.79" y="1542.15" width="7" height="7" fill="#0a3fa6"/><rect x="1362.57" y="1455.42" width="7" height="7" fill="#0a3fa6"/><rect x="1323.22" y="1391.75" width="7" height="7" fill="#0a3fa6"/><rect x="1217.97" y="1492.06" width="7" height="7" fill="#999"/><rect x="1135.89" y="1422.7" width="7" height="7" fill="#222"/><rect x="1206.42" y="1423.95" width="7" height="7" fill="#333"/><rect x="1212.68" y="1537.9" width="7" height="7" fill="#222"/><rect x="1211.63" y="1604.95" width="7" height="7" fill="#999"/><rect x="1137.27" y="1543.8" width="7" height="7" fill="#999"/><rect x="1239.34" y="1622.92" width="7" height="7" fill="#999"/><rect x="1169.72" y="1572.45" width="7" height="7" fill="#222"/><rect x="1212.78" y="1436.71" width="7" height="7" fill="#0a3fa6"/><rect x="1176.89" y="1482.25" width="7" height="7" fill="#0a3fa6"/><rect x="1363.51" y="1451.9" width="7" height="7" fill="#0a3fa6"/><rect x="1295.33" y="1498.12" width="7" height="7" fill="#999"/><rect x="1280.91" y="1509.98" width="7" height="7" fill="#222"/><rect x="1288.53" y="1464.73" width="7" height="7" fill="#0a3fa6"/><rect x="1284.52" y="1583.21" width="7" height="7" fill="#333"/><rect x="1282.26" y="1557.58" width="7" height="7" fill="#222"/><rect x="1264.73" y="1401.11" width="7" height="7" fill="#999"/><rect x="1194.2" y="1415.12" width="7" height="7" fill="#333"/><rect x="1336.51" y="1485.4" width="7" height="7" fill="#0a3fa6"/><rect x="1189.28" y="1461.84" width="7" height="7" fill="#0a3fa6"/><rect x="1276.93" y="1455.7" width="7" height="7" fill="#0a3fa6"/><rect x="1191.28" y="1579.22" width="7" height="7" fill="#222"/><rect x="1358.29" y="1497.1" width="7" height="7" fill="#999"/><rect x="1259.37" y="1434.76" width="7" height="7" fill="#222"/><rect x="1420.57" y="1492.09" width="7" height="7" fill="#999"/><rect x="1170.1" y="1410.1" width="7" height="7" fill="#999"/><rect x="1372.59" y="1373.27" width="7" height="7" fill="#999"/><rect x="1165.12" y="1567" width="7" height="7" fill="#222"/><rect x="1367.82" y="1419.29" width="7" height="7" fill="#333"/><rect x="1276.99" y="1488.04" width="7" height="7" fill="#999"/><rect x="1167.93" y="1420.42" width="7" height="7" fill="#999"/><rect x="1448.78" y="663.91" width="7" height="7" fill="#7f7f7f"/><rect x="1391.37" y="609.01" width="7" height="7" fill="#7f7f7f"/><rect x="1362.95" y="667.68" width="7" height="7" fill="#2a2a6a"/><rect x="1428.91" y="660.63" width="7" height="7" fill="#0a3fa6"/><rect x="1417.17" y="703.21" width="7" height="7" fill="#0a3fa6"/><rect x="1412.57" y="669.05" width="7" height="7" fill="#2a2a6a"/><rect x="1398.7" y="689.01" width="7" height="7" fill="#7f7f7f"/><rect x="1414" y="663.13" width="7" height="7" fill="#0a3fa6"/><rect x="1433.9" y="743.09" width="7" height="7" fill="#0a3fa6"/><rect x="1412.28" y="651.46" width="7" height="7" fill="#7f7f7f"/><rect x="1403.65" y="629.09" width="7" height="7" fill="#0a3fa6"/><rect x="1375.52" y="647.04" width="7" height="7" fill="#0a3fa6"/><rect x="1457.9" y="695.14" width="7" height="7" fill="#2a2a6a"/><rect x="1463.1" y="710.97" width="7" height="7" fill="#0a3fa6"/><rect x="1407.31" y="739.4" width="7" height="7" fill="#0a3fa6"/><rect x="1415.93" y="605.11" width="7" height="7" fill="#0a3fa6"/><rect x="1447.16" y="681.51" width="7" height="7" fill="#2a2a6a"/><rect x="1369.1" y="647.04" width="7" height="7" fill="#2a2a6a"/><rect x="1405.05" y="693.42" width="7" height="7" fill="#2a2a6a"/><rect x="1401.18" y="737.96" width="7" height="7" fill="#2a2a6a"/><rect x="1334.18" y="677.2" width="7" height="7" fill="#2a2a6a"/><rect x="1379.79" y="668.42" width="7" height="7" fill="#0a3fa6"/><rect x="1376.99" y="667.14" width="7" height="7" fill="#7f7f7f"/><rect x="1387.27" y="676.88" width="7" height="7" fill="#0a3fa6"/><rect x="1459.64" y="639.26" width="7" height="7" fill="#7f7f7f"/><rect x="1452.66" y="741.01" width="7" height="7" fill="#2a2a6a"/><rect x="1382.91" y="730.81" width="7" height="7" fill="#0a3fa6"/><rect x="1446.72" y="695.32" width="7" height="7" fill="#2a2a6a"/><rect x="1366.19" y="694.39" width="7" height="7" fill="#7f7f7f"/><rect x="1369.21" y="685.57" width="7" height="7" fill="#2a2a6a"/><rect x="859.23" y="918.81" width="7" height="7" fill="#9699c2"/><rect x="790.61" y="804.88" width="7" height="7" fill="#b5b8d8"/><rect x="600.46" y="848.55" width="7" height="7" fill="#9699c2"/><rect x="856.36" y="957.56" width="7" height="7" fill="#b5b8d8"/><rect x="690.1" y="859.48" width="7" height="7" fill="#8f92bb"/><rect x="487.52" y="977.16" width="7" height="7" fill="#b5b8d8"/><rect x="552.15" y="981.44" width="7" height="7" fill="#b5b8d8"/><rect x="693.83" y="829.27" width="7" height="7" fill="#8f92bb"/><rect x="748.13" y="815.67" width="7" height="7" fill="#8f92bb"/><rect x="439.21" y="945.01" width="7" height="7" fill="#8f92bb"/><rect x="892.66" y="927.07" width="7" height="7" fill="#9699c2"/><rect x="640.26" y="824.68" width="7" height="7" fill="#9699c2"/><rect x="755" y="911.97" width="7" height="7" fill="#9699c2"/><rect x="878.55" y="927.76" width="7" height="7" fill="#b5b8d8"/><rect x="571.88" y="839.89" width="7" height="7" fill="#b5b8d8"/><rect x="418.31" y="921.09" width="7" height="7" fill="#8f92bb"/><rect x="775.28" y="867.77" width="7" height="7" fill="#b5b8d8"/><rect x="729.64" y="927.68" width="7" height="7" fill="#9699c2"/><rect x="860.13" y="948.39" width="7" height="7" fill="#b5b8d8"/><rect x="722.71" y="949.4" width="7" height="7" fill="#b5b8d8"/><rect x="740.23" y="805.5" width="7" height="7" fill="#8f92bb"/><rect x="666.16" y="982.95" width="7" height="7" fill="#9699c2"/><rect x="528.95" y="986.33" width="7" height="7" fill="#b5b8d8"/><rect x="841.75" y="862.16" width="7" height="7" fill="#8f92bb"/><rect x="428.17" y="929.75" width="7" height="7" fill="#9699c2"/><rect x="800.84" y="966.22" width="7" height="7" fill="#b5b8d8"/><rect x="532.65" y="916.8" width="7" height="7" fill="#9699c2"/><rect x="856.69" y="921.22" width="7" height="7" fill="#8f92bb"/><rect x="658.56" y="933.31" width="7" height="7" fill="#b5b8d8"/><rect x="828.6" y="846.83" width="7" height="7" fill="#8f92bb"/><rect x="585.21" y="975.98" width="7" height="7" fill="#b5b8d8"/><rect x="877.52" y="948.8" width="7" height="7" fill="#b5b8d8"/><rect x="713.51" y="950.34" width="7" height="7" fill="#8f92bb"/><rect x="663.42" y="924.31" width="7" height="7" fill="#8f92bb"/><rect x="426.17" y="950.03" width="7" height="7" fill="#9699c2"/><rect x="486.53" y="919.15" width="7" height="7" fill="#8f92bb"/><rect x="605.22" y="913.61" width="7" height="7" fill="#8f92bb"/><rect x="767.08" y="805.67" width="7" height="7" fill="#8f92bb"/><rect x="604.99" y="929.74" width="7" height="7" fill="#9699c2"/><rect x="668.3" y="1007.19" width="7" height="7" fill="#9699c2"/><rect x="596.24" y="212.71" width="7" height="7" fill="#d6d6d6"/><rect x="486.05" y="175.59" width="7" height="7" fill="#d6d6d6"/><rect x="708.22" y="241.65" width="7" height="7" fill="#f2f2f2"/><rect x="546.74" y="237.02" width="7" height="7" fill="#d6d6d6"/><rect x="631.32" y="209.12" width="7" height="7" fill="#cfcfcf"/><rect x="452.32" y="217.25" width="7" height="7" fill="#cfcfcf"/><rect x="576.72" y="296.62" width="7" height="7" fill="#d6d6d6"/><rect x="704.25" y="261.2" width="7" height="7" fill="#d6d6d6"/><rect x="431.7" y="177.13" width="7" height="7" fill="#d6d6d6"/><rect x="480.12" y="182.44" width="7" height="7" fill="#f2f2f2"/><rect x="431.95" y="225.11" width="7" height="7" fill="#f2f2f2"/><rect x="498.67" y="215.93" width="7" height="7" fill="#d6d6d6"/><rect x="640.54" y="196.93" width="7" height="7" fill="#f2f2f2"/><rect x="691.97" y="169.59" width="7" height="7" fill="#cfcfcf"/><rect x="630.93" y="249.68" width="7" height="7" fill="#d6d6d6"/><rect x="576.29" y="179.66" width="7" height="7" fill="#f2f2f2"/><rect x="536.43" y="246.6" width="7" height="7" fill="#d6d6d6"/><rect x="420.31" y="231.86" width="7" height="7" fill="#f2f2f2"/><rect x="695.93" y="206.85" width="7" height="7" fill="#f2f2f2"/><rect x="691.82" y="245.21" width="7" height="7" fill="#d6d6d6"/><rect x="516.38" y="151.63" width="7" height="7" fill="#f2f2f2"/><rect x="594.28" y="205.87" width="7" height="7" fill="#f2f2f2"/><rect x="451.4" y="268.08" width="7" height="7" fill="#d6d6d6"/><rect x="669.2" y="180.69" width="7" height="7" fill="#d6d6d6"/><rect x="459.18" y="195.93" width="7" height="7" fill="#cfcfcf"/></g></g>
<line x1="843.5" y1="1677" x2="849.1" y2="1677" stroke="#333" stroke-width="1.3"/>
<text x="839.8" y="1685.8" font-size="25.5" text-anchor="end" textLength="12.5" lengthAdjust="spacingAndGlyphs">5</text>
<line x1="843.5" y1="1762.4" x2="849.1" y2="1762.4" stroke="#333" stroke-width="1.3"/>
<text x="839.8" y="1771.2" font-size="25.5" text-anchor="end" textLength="13.5" lengthAdjust="spacingAndGlyphs">0</text>
<line x1="843.5" y1="1847.6" x2="849.1" y2="1847.6" stroke="#333" stroke-width="1.3"/>
<text x="839.8" y="1856.4" font-size="25.5" text-anchor="end" textLength="21" lengthAdjust="spacingAndGlyphs">-5</text>
<line x1="843.5" y1="1933.5" x2="849.1" y2="1933.5" stroke="#333" stroke-width="1.3"/>
<text x="839.8" y="1942.3" font-size="25.5" text-anchor="end" textLength="34" lengthAdjust="spacingAndGlyphs">-10</text>
<line x1="865.9" y1="1948.7" x2="865.9" y2="1953.5" stroke="#333" stroke-width="1.3"/>
<text x="865.9" y="1974" font-size="25.5" text-anchor="middle" textLength="34" lengthAdjust="spacingAndGlyphs">-10</text>
<line x1="944.5" y1="1948.7" x2="944.5" y2="1953.5" stroke="#333" stroke-width="1.3"/>
<text x="944.5" y="1974" font-size="25.5" text-anchor="middle" textLength="21" lengthAdjust="spacingAndGlyphs">-5</text>
<line x1="1022.9" y1="1948.7" x2="1022.9" y2="1953.5" stroke="#333" stroke-width="1.3"/>
<text x="1022.9" y="1974" font-size="25.5" text-anchor="middle" textLength="13.5" lengthAdjust="spacingAndGlyphs">0</text>
<line x1="1101.6" y1="1948.7" x2="1101.6" y2="1953.5" stroke="#333" stroke-width="1.3"/>
<text x="1101.6" y="1974" font-size="25.5" text-anchor="middle" textLength="12.5" lengthAdjust="spacingAndGlyphs">5</text>
<text x="1012" y="2007.5" font-size="27" text-anchor="middle" textLength="139" lengthAdjust="spacingAndGlyphs">UMAP dim.1</text>
<text x="799.5" y="1787" font-size="27" text-anchor="middle" transform="rotate(-90 799.5 1787)" textLength="140" lengthAdjust="spacingAndGlyphs">UMAP dim.2</text>
<rect x="1196.3" y="1646.2" width="20.7" height="182.9" fill="#7f7f7f"/>
<circle cx="1207.2" cy="1662.5" r="5.3" fill="#0a3fa6"/>
<text x="1222.8" y="1669.1" font-size="17.5" textLength="22" lengthAdjust="spacingAndGlyphs">G0</text>
<circle cx="1207.2" cy="1691.4" r="5.3" fill="#a1a4cb"/>
<text x="1222.8" y="1698" font-size="17.5" textLength="22" lengthAdjust="spacingAndGlyphs">G1</text>
<circle cx="1207.2" cy="1720.1" r="5.3" fill="#e3e3e3"/>
<text x="1224.5" y="1726.7" font-size="17.5" textLength="9.5" lengthAdjust="spacingAndGlyphs">S</text>
<circle cx="1207.2" cy="1749.4" r="5.3" fill="#cd9ba3"/>
<text x="1222.8" y="1756" font-size="17.5" textLength="22" lengthAdjust="spacingAndGlyphs">G2</text>
<circle cx="1207.2" cy="1778.4" r="5.3" fill="#a0104a"/>
<text x="1222.8" y="1785" font-size="17.5" textLength="15" lengthAdjust="spacingAndGlyphs">M</text>
<circle cx="1207.2" cy="1808.1" r="5.3" fill="#000000"/>
<text x="1222.8" y="1814.7" font-size="17.5" textLength="128" lengthAdjust="spacingAndGlyphs">Dead/apoptotic</text>
<rect x="1494.4" y="1603.5" width="82.5" height="171.5" fill="#7f7f7f"/>
<line x1="1494.4" y1="1767.7" x2="1576.9" y2="1767.7" stroke="#6b6b6b" stroke-width="1.2"/>
<line x1="1494.4" y1="1748.14" x2="1576.9" y2="1748.14" stroke="#6b6b6b" stroke-width="1.2"/>
<line x1="1494.4" y1="1728.58" x2="1576.9" y2="1728.58" stroke="#6b6b6b" stroke-width="1.2"/>
<line x1="1494.4" y1="1709.01" x2="1576.9" y2="1709.01" stroke="#6b6b6b" stroke-width="1.2"/>
<line x1="1494.4" y1="1689.45" x2="1576.9" y2="1689.45" stroke="#6b6b6b" stroke-width="1.2"/>
<line x1="1494.4" y1="1669.89" x2="1576.9" y2="1669.89" stroke="#6b6b6b" stroke-width="1.2"/>
<line x1="1494.4" y1="1650.33" x2="1576.9" y2="1650.33" stroke="#6b6b6b" stroke-width="1.2"/>
<line x1="1494.4" y1="1630.76" x2="1576.9" y2="1630.76" stroke="#6b6b6b" stroke-width="1.2"/>
<line x1="1494.4" y1="1611.2" x2="1576.9" y2="1611.2" stroke="#6b6b6b" stroke-width="1.2"/>
<line x1="1517.6" y1="1603.5" x2="1517.6" y2="1775" stroke="#6b6b6b" stroke-width="1.2"/>
<line x1="1555.15" y1="1603.5" x2="1555.15" y2="1775" stroke="#6b6b6b" stroke-width="1.2"/>
<rect x="1500.2" y="1765.82" width="34.8" height="1.89" fill="#8c0a3c"/>
<rect x="1500.2" y="1756.43" width="34.8" height="9.4" fill="#cd9ba3"/>
<rect x="1500.2" y="1719.97" width="34.8" height="36.47" fill="#e3e3e3"/>
<rect x="1500.2" y="1634.67" width="34.8" height="85.3" fill="#a1a4cb"/>
<rect x="1500.2" y="1611.2" width="34.8" height="23.48" fill="#0a3fa6"/>
<line x1="1500.2" y1="1765.82" x2="1535" y2="1765.82" stroke="#8a8a8a" stroke-width="0.5" opacity="0.6"/>
<line x1="1500.2" y1="1756.43" x2="1535" y2="1756.43" stroke="#8a8a8a" stroke-width="0.5" opacity="0.6"/>
<line x1="1500.2" y1="1719.97" x2="1535" y2="1719.97" stroke="#8a8a8a" stroke-width="0.5" opacity="0.6"/>
<line x1="1500.2" y1="1634.67" x2="1535" y2="1634.67" stroke="#8a8a8a" stroke-width="0.5" opacity="0.6"/>
<rect x="1538" y="1766.92" width="34.3" height="0.79" fill="#8c0a3c"/>
<rect x="1538" y="1765.82" width="34.3" height="1.11" fill="#cd9ba3"/>
<rect x="1538" y="1745.48" width="34.3" height="20.36" fill="#e3e3e3"/>
<rect x="1538" y="1679.12" width="34.3" height="66.37" fill="#a1a4cb"/>
<rect x="1538" y="1611.2" width="34.3" height="67.93" fill="#0a3fa6"/>
<line x1="1538" y1="1766.92" x2="1572.3" y2="1766.92" stroke="#8a8a8a" stroke-width="0.5" opacity="0.6"/>
<line x1="1538" y1="1765.82" x2="1572.3" y2="1765.82" stroke="#8a8a8a" stroke-width="0.5" opacity="0.6"/>
<line x1="1538" y1="1745.48" x2="1572.3" y2="1745.48" stroke="#8a8a8a" stroke-width="0.5" opacity="0.6"/>
<line x1="1538" y1="1679.12" x2="1572.3" y2="1679.12" stroke="#8a8a8a" stroke-width="0.5" opacity="0.6"/>
<rect x="1494.6" y="1795.2" width="82.5" height="169.4" fill="#7f7f7f"/>
<line x1="1494.6" y1="1958.4" x2="1577.1" y2="1958.4" stroke="#6b6b6b" stroke-width="1.2"/>
<line x1="1494.6" y1="1938.95" x2="1577.1" y2="1938.95" stroke="#6b6b6b" stroke-width="1.2"/>
<line x1="1494.6" y1="1919.5" x2="1577.1" y2="1919.5" stroke="#6b6b6b" stroke-width="1.2"/>
<line x1="1494.6" y1="1900.05" x2="1577.1" y2="1900.05" stroke="#6b6b6b" stroke-width="1.2"/>
<line x1="1494.6" y1="1880.6" x2="1577.1" y2="1880.6" stroke="#6b6b6b" stroke-width="1.2"/>
<line x1="1494.6" y1="1861.15" x2="1577.1" y2="1861.15" stroke="#6b6b6b" stroke-width="1.2"/>
<line x1="1494.6" y1="1841.7" x2="1577.1" y2="1841.7" stroke="#6b6b6b" stroke-width="1.2"/>
<line x1="1494.6" y1="1822.25" x2="1577.1" y2="1822.25" stroke="#6b6b6b" stroke-width="1.2"/>
<line x1="1494.6" y1="1802.8" x2="1577.1" y2="1802.8" stroke="#6b6b6b" stroke-width="1.2"/>
<line x1="1517.45" y1="1795.2" x2="1517.45" y2="1964.6" stroke="#6b6b6b" stroke-width="1.2"/>
<line x1="1517.45" y1="1964.6" x2="1517.45" y2="1969.5" stroke="#333" stroke-width="1.3"/>
<line x1="1555.1" y1="1795.2" x2="1555.1" y2="1964.6" stroke="#6b6b6b" stroke-width="1.2"/>
<line x1="1555.1" y1="1964.6" x2="1555.1" y2="1969.5" stroke="#333" stroke-width="1.3"/>
<rect x="1500.3" y="1942.84" width="34.3" height="15.56" fill="#000"/>
<rect x="1538" y="1879.04" width="34.2" height="79.36" fill="#000"/>
<text x="1522.45" y="1985" font-size="20.5" text-anchor="end" transform="rotate(-45 1522.45 1985)" textLength="56" lengthAdjust="spacingAndGlyphs">control</text>
<text x="1560.1" y="1985" font-size="20.5" text-anchor="end" transform="rotate(-45 1560.1 1985)" textLength="64" lengthAdjust="spacingAndGlyphs">AI-14-91</text>
<rect x="1589" y="1603.5" width="83.1" height="171.5" fill="#7f7f7f"/>
<line x1="1589" y1="1767.7" x2="1672.1" y2="1767.7" stroke="#6b6b6b" stroke-width="1.2"/>
<line x1="1589" y1="1748.14" x2="1672.1" y2="1748.14" stroke="#6b6b6b" stroke-width="1.2"/>
<line x1="1589" y1="1728.58" x2="1672.1" y2="1728.58" stroke="#6b6b6b" stroke-width="1.2"/>
<line x1="1589" y1="1709.01" x2="1672.1" y2="1709.01" stroke="#6b6b6b" stroke-width="1.2"/>
<line x1="1589" y1="1689.45" x2="1672.1" y2="1689.45" stroke="#6b6b6b" stroke-width="1.2"/>
<line x1="1589" y1="1669.89" x2="1672.1" y2="1669.89" stroke="#6b6b6b" stroke-width="1.2"/>
<line x1="1589" y1="1650.33" x2="1672.1" y2="1650.33" stroke="#6b6b6b" stroke-width="1.2"/>
<line x1="1589" y1="1630.76" x2="1672.1" y2="1630.76" stroke="#6b6b6b" stroke-width="1.2"/>
<line x1="1589" y1="1611.2" x2="1672.1" y2="1611.2" stroke="#6b6b6b" stroke-width="1.2"/>
<line x1="1611.3" y1="1603.5" x2="1611.3" y2="1775" stroke="#6b6b6b" stroke-width="1.2"/>
<line x1="1650.35" y1="1603.5" x2="1650.35" y2="1775" stroke="#6b6b6b" stroke-width="1.2"/>
<rect x="1594" y="1765.82" width="34.6" height="1.89" fill="#8c0a3c"/>
<rect x="1594" y="1759.88" width="34.6" height="5.96" fill="#cd9ba3"/>
<rect x="1594" y="1704" width="34.6" height="55.88" fill="#e3e3e3"/>
<rect x="1594" y="1660.03" width="34.6" height="43.99" fill="#a1a4cb"/>
<rect x="1594" y="1611.2" width="34.6" height="48.84" fill="#0a3fa6"/>
<line x1="1594" y1="1765.82" x2="1628.6" y2="1765.82" stroke="#8a8a8a" stroke-width="0.5" opacity="0.6"/>
<line x1="1594" y1="1759.88" x2="1628.6" y2="1759.88" stroke="#8a8a8a" stroke-width="0.5" opacity="0.6"/>
<line x1="1594" y1="1704" x2="1628.6" y2="1704" stroke="#8a8a8a" stroke-width="0.5" opacity="0.6"/>
<line x1="1594" y1="1660.03" x2="1628.6" y2="1660.03" stroke="#8a8a8a" stroke-width="0.5" opacity="0.6"/>
<rect x="1633.2" y="1767.23" width="34.3" height="0.48" fill="#8c0a3c"/>
<rect x="1633.2" y="1763.94" width="34.3" height="3.3" fill="#cd9ba3"/>
<rect x="1633.2" y="1760.97" width="34.3" height="2.98" fill="#e3e3e3"/>
<rect x="1633.2" y="1740.63" width="34.3" height="20.36" fill="#a1a4cb"/>
<rect x="1633.2" y="1611.2" width="34.3" height="129.44" fill="#0a3fa6"/>
<line x1="1633.2" y1="1767.23" x2="1667.5" y2="1767.23" stroke="#8a8a8a" stroke-width="0.5" opacity="0.6"/>
<line x1="1633.2" y1="1763.94" x2="1667.5" y2="1763.94" stroke="#8a8a8a" stroke-width="0.5" opacity="0.6"/>
<line x1="1633.2" y1="1760.97" x2="1667.5" y2="1760.97" stroke="#8a8a8a" stroke-width="0.5" opacity="0.6"/>
<line x1="1633.2" y1="1740.63" x2="1667.5" y2="1740.63" stroke="#8a8a8a" stroke-width="0.5" opacity="0.6"/>
<rect x="1590" y="1795.2" width="83.2" height="169.4" fill="#7f7f7f"/>
<line x1="1590" y1="1958.4" x2="1673.2" y2="1958.4" stroke="#6b6b6b" stroke-width="1.2"/>
<line x1="1590" y1="1938.95" x2="1673.2" y2="1938.95" stroke="#6b6b6b" stroke-width="1.2"/>
<line x1="1590" y1="1919.5" x2="1673.2" y2="1919.5" stroke="#6b6b6b" stroke-width="1.2"/>
<line x1="1590" y1="1900.05" x2="1673.2" y2="1900.05" stroke="#6b6b6b" stroke-width="1.2"/>
<line x1="1590" y1="1880.6" x2="1673.2" y2="1880.6" stroke="#6b6b6b" stroke-width="1.2"/>
<line x1="1590" y1="1861.15" x2="1673.2" y2="1861.15" stroke="#6b6b6b" stroke-width="1.2"/>
<line x1="1590" y1="1841.7" x2="1673.2" y2="1841.7" stroke="#6b6b6b" stroke-width="1.2"/>
<line x1="1590" y1="1822.25" x2="1673.2" y2="1822.25" stroke="#6b6b6b" stroke-width="1.2"/>
<line x1="1590" y1="1802.8" x2="1673.2" y2="1802.8" stroke="#6b6b6b" stroke-width="1.2"/>
<line x1="1612" y1="1795.2" x2="1612" y2="1964.6" stroke="#6b6b6b" stroke-width="1.2"/>
<line x1="1612" y1="1964.6" x2="1612" y2="1969.5" stroke="#333" stroke-width="1.3"/>
<line x1="1651.75" y1="1795.2" x2="1651.75" y2="1964.6" stroke="#6b6b6b" stroke-width="1.2"/>
<line x1="1651.75" y1="1964.6" x2="1651.75" y2="1969.5" stroke="#333" stroke-width="1.3"/>
<rect x="1595" y="1925.72" width="34" height="32.68" fill="#000"/>
<rect x="1634.8" y="1885.27" width="33.9" height="73.13" fill="#000"/>
<text x="1617" y="1985" font-size="20.5" text-anchor="end" transform="rotate(-45 1617 1985)" textLength="56" lengthAdjust="spacingAndGlyphs">control</text>
<text x="1656.75" y="1985" font-size="20.5" text-anchor="end" transform="rotate(-45 1656.75 1985)" textLength="64" lengthAdjust="spacingAndGlyphs">AI-14-91</text>
<rect x="1684.9" y="1603.5" width="83.8" height="171.5" fill="#7f7f7f"/>
<line x1="1684.9" y1="1767.7" x2="1768.7" y2="1767.7" stroke="#6b6b6b" stroke-width="1.2"/>
<line x1="1684.9" y1="1748.14" x2="1768.7" y2="1748.14" stroke="#6b6b6b" stroke-width="1.2"/>
<line x1="1684.9" y1="1728.58" x2="1768.7" y2="1728.58" stroke="#6b6b6b" stroke-width="1.2"/>
<line x1="1684.9" y1="1709.01" x2="1768.7" y2="1709.01" stroke="#6b6b6b" stroke-width="1.2"/>
<line x1="1684.9" y1="1689.45" x2="1768.7" y2="1689.45" stroke="#6b6b6b" stroke-width="1.2"/>
<line x1="1684.9" y1="1669.89" x2="1768.7" y2="1669.89" stroke="#6b6b6b" stroke-width="1.2"/>
<line x1="1684.9" y1="1650.33" x2="1768.7" y2="1650.33" stroke="#6b6b6b" stroke-width="1.2"/>
<line x1="1684.9" y1="1630.76" x2="1768.7" y2="1630.76" stroke="#6b6b6b" stroke-width="1.2"/>
<line x1="1684.9" y1="1611.2" x2="1768.7" y2="1611.2" stroke="#6b6b6b" stroke-width="1.2"/>
<line x1="1706.8" y1="1603.5" x2="1706.8" y2="1775" stroke="#6b6b6b" stroke-width="1.2"/>
<line x1="1744.15" y1="1603.5" x2="1744.15" y2="1775" stroke="#6b6b6b" stroke-width="1.2"/>
<rect x="1689.8" y="1762.69" width="34" height="5.02" fill="#8c0a3c"/>
<rect x="1689.8" y="1755.18" width="34" height="7.52" fill="#cd9ba3"/>
<rect x="1689.8" y="1664.88" width="34" height="90.31" fill="#e3e3e3"/>
<rect x="1689.8" y="1629.98" width="34" height="34.91" fill="#a1a4cb"/>
<rect x="1689.8" y="1611.2" width="34" height="18.79" fill="#0a3fa6"/>
<line x1="1689.8" y1="1762.69" x2="1723.8" y2="1762.69" stroke="#8a8a8a" stroke-width="0.5" opacity="0.6"/>
<line x1="1689.8" y1="1755.18" x2="1723.8" y2="1755.18" stroke="#8a8a8a" stroke-width="0.5" opacity="0.6"/>
<line x1="1689.8" y1="1664.88" x2="1723.8" y2="1664.88" stroke="#8a8a8a" stroke-width="0.5" opacity="0.6"/>
<line x1="1689.8" y1="1629.98" x2="1723.8" y2="1629.98" stroke="#8a8a8a" stroke-width="0.5" opacity="0.6"/>
<rect x="1727.1" y="1764.26" width="34.1" height="3.45" fill="#8c0a3c"/>
<rect x="1727.1" y="1753.46" width="34.1" height="10.81" fill="#cd9ba3"/>
<rect x="1727.1" y="1696.34" width="34.1" height="57.13" fill="#e3e3e3"/>
<rect x="1727.1" y="1633.42" width="34.1" height="62.92" fill="#a1a4cb"/>
<rect x="1727.1" y="1611.2" width="34.1" height="22.23" fill="#0a3fa6"/>
<line x1="1727.1" y1="1764.26" x2="1761.2" y2="1764.26" stroke="#8a8a8a" stroke-width="0.5" opacity="0.6"/>
<line x1="1727.1" y1="1753.46" x2="1761.2" y2="1753.46" stroke="#8a8a8a" stroke-width="0.5" opacity="0.6"/>
<line x1="1727.1" y1="1696.34" x2="1761.2" y2="1696.34" stroke="#8a8a8a" stroke-width="0.5" opacity="0.6"/>
<line x1="1727.1" y1="1633.42" x2="1761.2" y2="1633.42" stroke="#8a8a8a" stroke-width="0.5" opacity="0.6"/>
<rect x="1686" y="1795.2" width="84.5" height="169.4" fill="#7f7f7f"/>
<line x1="1686" y1="1958.4" x2="1770.5" y2="1958.4" stroke="#6b6b6b" stroke-width="1.2"/>
<line x1="1686" y1="1938.95" x2="1770.5" y2="1938.95" stroke="#6b6b6b" stroke-width="1.2"/>
<line x1="1686" y1="1919.5" x2="1770.5" y2="1919.5" stroke="#6b6b6b" stroke-width="1.2"/>
<line x1="1686" y1="1900.05" x2="1770.5" y2="1900.05" stroke="#6b6b6b" stroke-width="1.2"/>
<line x1="1686" y1="1880.6" x2="1770.5" y2="1880.6" stroke="#6b6b6b" stroke-width="1.2"/>
<line x1="1686" y1="1861.15" x2="1770.5" y2="1861.15" stroke="#6b6b6b" stroke-width="1.2"/>
<line x1="1686" y1="1841.7" x2="1770.5" y2="1841.7" stroke="#6b6b6b" stroke-width="1.2"/>
<line x1="1686" y1="1822.25" x2="1770.5" y2="1822.25" stroke="#6b6b6b" stroke-width="1.2"/>
<line x1="1686" y1="1802.8" x2="1770.5" y2="1802.8" stroke="#6b6b6b" stroke-width="1.2"/>
<line x1="1708.1" y1="1795.2" x2="1708.1" y2="1964.6" stroke="#6b6b6b" stroke-width="1.2"/>
<line x1="1708.1" y1="1964.6" x2="1708.1" y2="1969.5" stroke="#333" stroke-width="1.3"/>
<line x1="1746.15" y1="1795.2" x2="1746.15" y2="1964.6" stroke="#6b6b6b" stroke-width="1.2"/>
<line x1="1746.15" y1="1964.6" x2="1746.15" y2="1969.5" stroke="#333" stroke-width="1.3"/>
<rect x="1691.2" y="1938.17" width="33.8" height="20.23" fill="#000"/>
<rect x="1729.2" y="1941.28" width="33.9" height="17.12" fill="#000"/>
<text x="1713.1" y="1985" font-size="20.5" text-anchor="end" transform="rotate(-45 1713.1 1985)" textLength="56" lengthAdjust="spacingAndGlyphs">control</text>
<text x="1751.15" y="1985" font-size="20.5" text-anchor="end" transform="rotate(-45 1751.15 1985)" textLength="64" lengthAdjust="spacingAndGlyphs">AI-14-91</text>
<line x1="1488.2" y1="1767.7" x2="1494.5" y2="1767.7" stroke="#333" stroke-width="1.4"/>
<text x="1483.5" y="1776" font-size="21.5" text-anchor="end" textLength="11" lengthAdjust="spacingAndGlyphs">0</text>
<line x1="1488.2" y1="1958.4" x2="1494.5" y2="1958.4" stroke="#333" stroke-width="1.4"/>
<text x="1483.5" y="1966.7" font-size="21.5" text-anchor="end" textLength="11" lengthAdjust="spacingAndGlyphs">0</text>
<line x1="1488.2" y1="1728.58" x2="1494.5" y2="1728.58" stroke="#333" stroke-width="1.4"/>
<text x="1483.5" y="1736.88" font-size="21.5" text-anchor="end" textLength="23" lengthAdjust="spacingAndGlyphs">25</text>
<line x1="1488.2" y1="1919.5" x2="1494.5" y2="1919.5" stroke="#333" stroke-width="1.4"/>
<text x="1483.5" y="1927.8" font-size="21.5" text-anchor="end" textLength="23" lengthAdjust="spacingAndGlyphs">25</text>
<line x1="1488.2" y1="1689.45" x2="1494.5" y2="1689.45" stroke="#333" stroke-width="1.4"/>
<text x="1483.5" y="1697.75" font-size="21.5" text-anchor="end" textLength="23" lengthAdjust="spacingAndGlyphs">50</text>
<line x1="1488.2" y1="1880.6" x2="1494.5" y2="1880.6" stroke="#333" stroke-width="1.4"/>
<text x="1483.5" y="1888.9" font-size="21.5" text-anchor="end" textLength="23" lengthAdjust="spacingAndGlyphs">50</text>
<line x1="1488.2" y1="1650.33" x2="1494.5" y2="1650.33" stroke="#333" stroke-width="1.4"/>
<text x="1483.5" y="1658.62" font-size="21.5" text-anchor="end" textLength="23" lengthAdjust="spacingAndGlyphs">75</text>
<line x1="1488.2" y1="1841.7" x2="1494.5" y2="1841.7" stroke="#333" stroke-width="1.4"/>
<text x="1483.5" y="1850" font-size="21.5" text-anchor="end" textLength="23" lengthAdjust="spacingAndGlyphs">75</text>
<line x1="1488.2" y1="1611.2" x2="1494.5" y2="1611.2" stroke="#333" stroke-width="1.4"/>
<text x="1483.5" y="1619.5" font-size="21.5" text-anchor="end" textLength="34" lengthAdjust="spacingAndGlyphs">100</text>
<line x1="1488.2" y1="1802.8" x2="1494.5" y2="1802.8" stroke="#333" stroke-width="1.4"/>
<text x="1483.5" y="1811.1" font-size="21.5" text-anchor="end" textLength="34" lengthAdjust="spacingAndGlyphs">100</text>
<text x="1440" y="1690.5" font-size="19.5" text-anchor="middle" transform="rotate(-90 1440 1690.5)" textLength="187" lengthAdjust="spacingAndGlyphs">Proportion live cells (%)</text>
<text x="1440" y="1883.5" font-size="19.5" text-anchor="middle" transform="rotate(-90 1440 1883.5)" textLength="155" lengthAdjust="spacingAndGlyphs">Dead/apoptotic (%)</text>
<text x="1535.6" y="1593.5" font-size="20.5" text-anchor="middle" textLength="62" lengthAdjust="spacingAndGlyphs">t(12;21)</text>
<text x="1629" y="1593.5" font-size="20.5" text-anchor="middle" textLength="53" lengthAdjust="spacingAndGlyphs">t(1;19)</text>
<text x="1724" y="1593.5" font-size="20.5" text-anchor="middle" textLength="53" lengthAdjust="spacingAndGlyphs">t(4;11)</text>
<rect x="1774.3" y="1610.5" width="20.7" height="108.5" fill="#7f7f7f"/>
<rect x="1774.3" y="1611.2" width="20.7" height="19.8" fill="#0a3fa6"/>
<text x="1802.5" y="1629.1" font-size="17.5" textLength="22" lengthAdjust="spacingAndGlyphs">G0</text>
<rect x="1774.3" y="1632.2" width="20.7" height="20.4" fill="#a1a4cb"/>
<text x="1802.5" y="1650.4" font-size="17.5" textLength="22" lengthAdjust="spacingAndGlyphs">G1</text>
<rect x="1774.3" y="1653.8" width="20.7" height="19.8" fill="#e3e3e3"/>
<text x="1804.5" y="1671.7" font-size="17.5" textLength="9.5" lengthAdjust="spacingAndGlyphs">S</text>
<rect x="1774.3" y="1674.8" width="20.7" height="19.9" fill="#cd9ba3"/>
<text x="1802.5" y="1692.75" font-size="17.5" textLength="22" lengthAdjust="spacingAndGlyphs">G2</text>
<rect x="1774.3" y="1696.3" width="20.7" height="18.7" fill="#8c0a3c"/>
<text x="1802.5" y="1713.65" font-size="17.5" textLength="15" lengthAdjust="spacingAndGlyphs">M</text>
</g>
</svg></body></html>
